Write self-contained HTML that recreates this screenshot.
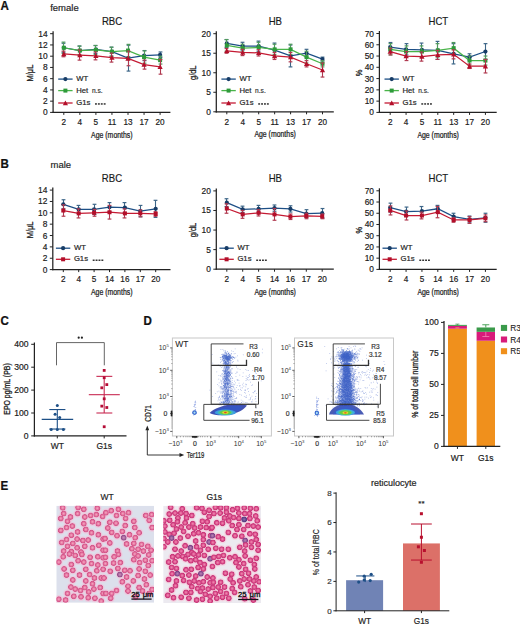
<!DOCTYPE html>
<html><head><meta charset="utf-8"><style>
html,body{margin:0;padding:0;background:#fff;}
svg{display:block;font-family:"Liberation Sans", sans-serif;}
</style></head><body>
<svg width="520" height="626" viewBox="0 0 520 626">
<rect x="0" y="0" width="520" height="626" fill="#fff"/>
<text x="0" y="0" transform="translate(0.4,10.4) scale(0.94,1)" font-size="12.3" text-anchor="start" font-weight="bold" fill="#111" stroke="#111" stroke-width="0.25">A</text>
<text x="50.2" y="10.5" font-size="9.5" text-anchor="start" font-weight="normal" fill="#1e1e1e"  stroke="#1e1e1e" stroke-width="0.18">female</text>
<text x="0" y="0" transform="translate(0.4,168.2) scale(0.94,1)" font-size="12.3" text-anchor="start" font-weight="bold" fill="#111" stroke="#111" stroke-width="0.25">B</text>
<text x="50.5" y="168" font-size="9.5" text-anchor="start" font-weight="normal" fill="#1e1e1e"  stroke="#1e1e1e" stroke-width="0.18">male</text>
<text x="0" y="0" transform="translate(0.4,325.2) scale(0.94,1)" font-size="12.3" text-anchor="start" font-weight="bold" fill="#111" stroke="#111" stroke-width="0.25">C</text>
<text x="0" y="0" transform="translate(143.4,325.0) scale(0.94,1)" font-size="12.3" text-anchor="start" font-weight="bold" fill="#111" stroke="#111" stroke-width="0.25">D</text>
<text x="0" y="0" transform="translate(0.4,489.6) scale(0.94,1)" font-size="12.3" text-anchor="start" font-weight="bold" fill="#111" stroke="#111" stroke-width="0.25">E</text>
<line x1="53.10" y1="31.20" x2="53.10" y2="113.00" stroke="#222" stroke-width="1.25" />
<line x1="52.50" y1="112.40" x2="170.40" y2="112.40" stroke="#222" stroke-width="1.25" />
<line x1="50.10" y1="112.40" x2="53.10" y2="112.40" stroke="#222" stroke-width="1" />
<text x="47.7" y="115.4" font-size="8.4" text-anchor="end" font-weight="normal" fill="#1a1a1a"  stroke="#1a1a1a" stroke-width="0.18">0</text>
<line x1="50.10" y1="101.16" x2="53.10" y2="101.16" stroke="#222" stroke-width="1" />
<text x="47.7" y="104.15714285714286" font-size="8.4" text-anchor="end" font-weight="normal" fill="#1a1a1a"  stroke="#1a1a1a" stroke-width="0.18">2</text>
<line x1="50.10" y1="89.91" x2="53.10" y2="89.91" stroke="#222" stroke-width="1" />
<text x="47.7" y="92.91428571428571" font-size="8.4" text-anchor="end" font-weight="normal" fill="#1a1a1a"  stroke="#1a1a1a" stroke-width="0.18">4</text>
<line x1="50.10" y1="78.67" x2="53.10" y2="78.67" stroke="#222" stroke-width="1" />
<text x="47.7" y="81.67142857142858" font-size="8.4" text-anchor="end" font-weight="normal" fill="#1a1a1a"  stroke="#1a1a1a" stroke-width="0.18">6</text>
<line x1="50.10" y1="67.43" x2="53.10" y2="67.43" stroke="#222" stroke-width="1" />
<text x="47.7" y="70.42857142857143" font-size="8.4" text-anchor="end" font-weight="normal" fill="#1a1a1a"  stroke="#1a1a1a" stroke-width="0.18">8</text>
<line x1="50.10" y1="56.19" x2="53.10" y2="56.19" stroke="#222" stroke-width="1" />
<text x="47.7" y="59.18571428571428" font-size="8.4" text-anchor="end" font-weight="normal" fill="#1a1a1a"  stroke="#1a1a1a" stroke-width="0.18">10</text>
<line x1="50.10" y1="44.94" x2="53.10" y2="44.94" stroke="#222" stroke-width="1" />
<text x="47.7" y="47.94285714285715" font-size="8.4" text-anchor="end" font-weight="normal" fill="#1a1a1a"  stroke="#1a1a1a" stroke-width="0.18">12</text>
<line x1="50.10" y1="33.70" x2="53.10" y2="33.70" stroke="#222" stroke-width="1" />
<text x="47.7" y="36.7" font-size="8.4" text-anchor="end" font-weight="normal" fill="#1a1a1a"  stroke="#1a1a1a" stroke-width="0.18">14</text>
<line x1="63.80" y1="112.40" x2="63.80" y2="114.90" stroke="#222" stroke-width="1" />
<text x="63.8" y="125.10000000000001" font-size="8.2" text-anchor="middle" font-weight="normal" fill="#1a1a1a"  stroke="#1a1a1a" stroke-width="0.18">2</text>
<line x1="79.85" y1="112.40" x2="79.85" y2="114.90" stroke="#222" stroke-width="1" />
<text x="79.85" y="125.10000000000001" font-size="8.2" text-anchor="middle" font-weight="normal" fill="#1a1a1a"  stroke="#1a1a1a" stroke-width="0.18">4</text>
<line x1="95.90" y1="112.40" x2="95.90" y2="114.90" stroke="#222" stroke-width="1" />
<text x="95.9" y="125.10000000000001" font-size="8.2" text-anchor="middle" font-weight="normal" fill="#1a1a1a"  stroke="#1a1a1a" stroke-width="0.18">5</text>
<line x1="111.95" y1="112.40" x2="111.95" y2="114.90" stroke="#222" stroke-width="1" />
<text x="111.95" y="125.10000000000001" font-size="8.2" text-anchor="middle" font-weight="normal" fill="#1a1a1a"  stroke="#1a1a1a" stroke-width="0.18">11</text>
<line x1="128.00" y1="112.40" x2="128.00" y2="114.90" stroke="#222" stroke-width="1" />
<text x="128.0" y="125.10000000000001" font-size="8.2" text-anchor="middle" font-weight="normal" fill="#1a1a1a"  stroke="#1a1a1a" stroke-width="0.18">13</text>
<line x1="144.05" y1="112.40" x2="144.05" y2="114.90" stroke="#222" stroke-width="1" />
<text x="144.05" y="125.10000000000001" font-size="8.2" text-anchor="middle" font-weight="normal" fill="#1a1a1a"  stroke="#1a1a1a" stroke-width="0.18">17</text>
<line x1="160.10" y1="112.40" x2="160.10" y2="114.90" stroke="#222" stroke-width="1" />
<text x="160.10000000000002" y="125.10000000000001" font-size="8.2" text-anchor="middle" font-weight="normal" fill="#1a1a1a"  stroke="#1a1a1a" stroke-width="0.18">20</text>
<text x="0" y="0" transform="translate(111.85,138.0) scale(0.805,1)" font-size="8.6" text-anchor="middle" font-weight="normal" fill="#222" stroke="#222" stroke-width="0.25">Age (months)</text>
<text x="0" y="0" transform="translate(33.0,73.05000000000001) rotate(-90) scale(0.78,1)" font-size="9.6" text-anchor="middle" font-weight="normal" fill="#222" stroke="#222" stroke-width="0.3">M/μL</text>
<text x="0" y="0" transform="translate(112.05,25.1) scale(0.93,1)" font-size="10.3" text-anchor="middle" font-weight="normal" fill="#1a1a1a"  stroke="#1a1a1a" stroke-width="0.18">RBC</text>
<line x1="63.50" y1="52.25" x2="63.50" y2="43.26" stroke="#3d6688" stroke-width="1.1" />
<line x1="61.60" y1="43.26" x2="65.40" y2="43.26" stroke="#3d6688" stroke-width="1.2" />
<line x1="61.60" y1="52.25" x2="65.40" y2="52.25" stroke="#3d6688" stroke-width="1.2" />
<line x1="79.50" y1="55.06" x2="79.50" y2="46.07" stroke="#3d6688" stroke-width="1.1" />
<line x1="77.60" y1="46.07" x2="81.40" y2="46.07" stroke="#3d6688" stroke-width="1.2" />
<line x1="77.60" y1="55.06" x2="81.40" y2="55.06" stroke="#3d6688" stroke-width="1.2" />
<line x1="95.50" y1="53.38" x2="95.50" y2="45.51" stroke="#3d6688" stroke-width="1.1" />
<line x1="93.60" y1="45.51" x2="97.40" y2="45.51" stroke="#3d6688" stroke-width="1.2" />
<line x1="93.60" y1="53.38" x2="97.40" y2="53.38" stroke="#3d6688" stroke-width="1.2" />
<line x1="111.50" y1="56.19" x2="111.50" y2="47.19" stroke="#3d6688" stroke-width="1.1" />
<line x1="109.60" y1="47.19" x2="113.40" y2="47.19" stroke="#3d6688" stroke-width="1.2" />
<line x1="109.60" y1="56.19" x2="113.40" y2="56.19" stroke="#3d6688" stroke-width="1.2" />
<line x1="128.50" y1="71.08" x2="128.50" y2="45.22" stroke="#3d6688" stroke-width="1.1" />
<line x1="126.60" y1="45.22" x2="130.40" y2="45.22" stroke="#3d6688" stroke-width="1.2" />
<line x1="126.60" y1="71.08" x2="130.40" y2="71.08" stroke="#3d6688" stroke-width="1.2" />
<line x1="144.50" y1="60.68" x2="144.50" y2="50.56" stroke="#3d6688" stroke-width="1.1" />
<line x1="142.60" y1="50.56" x2="146.40" y2="50.56" stroke="#3d6688" stroke-width="1.2" />
<line x1="142.60" y1="60.68" x2="146.40" y2="60.68" stroke="#3d6688" stroke-width="1.2" />
<line x1="160.50" y1="57.59" x2="160.50" y2="51.97" stroke="#3d6688" stroke-width="1.1" />
<line x1="158.60" y1="51.97" x2="162.40" y2="51.97" stroke="#3d6688" stroke-width="1.2" />
<line x1="158.60" y1="57.59" x2="162.40" y2="57.59" stroke="#3d6688" stroke-width="1.2" />
<polyline points="63.80,47.75 79.85,50.56 95.90,49.44 111.95,51.69 128.00,58.15 144.05,55.62 160.10,54.78" fill="none" stroke="#1d4f86" stroke-width="1.25"/>
<circle cx="63.80" cy="47.75" r="2.1" fill="#173c66"/>
<circle cx="79.85" cy="50.56" r="2.1" fill="#173c66"/>
<circle cx="95.90" cy="49.44" r="2.1" fill="#173c66"/>
<circle cx="111.95" cy="51.69" r="2.1" fill="#173c66"/>
<circle cx="128.00" cy="58.15" r="2.1" fill="#173c66"/>
<circle cx="144.05" cy="55.62" r="2.1" fill="#173c66"/>
<circle cx="160.10" cy="54.78" r="2.1" fill="#173c66"/>
<line x1="63.50" y1="53.38" x2="63.50" y2="42.13" stroke="#4f9a5c" stroke-width="1.1" />
<line x1="61.60" y1="42.13" x2="65.40" y2="42.13" stroke="#4f9a5c" stroke-width="1.2" />
<line x1="61.60" y1="53.38" x2="65.40" y2="53.38" stroke="#4f9a5c" stroke-width="1.2" />
<line x1="79.50" y1="55.06" x2="79.50" y2="46.07" stroke="#4f9a5c" stroke-width="1.1" />
<line x1="77.60" y1="46.07" x2="81.40" y2="46.07" stroke="#4f9a5c" stroke-width="1.2" />
<line x1="77.60" y1="55.06" x2="81.40" y2="55.06" stroke="#4f9a5c" stroke-width="1.2" />
<line x1="95.50" y1="54.50" x2="95.50" y2="45.50" stroke="#4f9a5c" stroke-width="1.1" />
<line x1="93.60" y1="45.50" x2="97.40" y2="45.50" stroke="#4f9a5c" stroke-width="1.2" />
<line x1="93.60" y1="54.50" x2="97.40" y2="54.50" stroke="#4f9a5c" stroke-width="1.2" />
<line x1="111.50" y1="56.19" x2="111.50" y2="47.19" stroke="#4f9a5c" stroke-width="1.1" />
<line x1="109.60" y1="47.19" x2="113.40" y2="47.19" stroke="#4f9a5c" stroke-width="1.2" />
<line x1="109.60" y1="56.19" x2="113.40" y2="56.19" stroke="#4f9a5c" stroke-width="1.2" />
<line x1="128.50" y1="56.75" x2="128.50" y2="44.38" stroke="#4f9a5c" stroke-width="1.1" />
<line x1="126.60" y1="44.38" x2="130.40" y2="44.38" stroke="#4f9a5c" stroke-width="1.2" />
<line x1="126.60" y1="56.75" x2="130.40" y2="56.75" stroke="#4f9a5c" stroke-width="1.2" />
<line x1="144.50" y1="63.21" x2="144.50" y2="50.85" stroke="#4f9a5c" stroke-width="1.1" />
<line x1="142.60" y1="50.85" x2="146.40" y2="50.85" stroke="#4f9a5c" stroke-width="1.2" />
<line x1="142.60" y1="63.21" x2="146.40" y2="63.21" stroke="#4f9a5c" stroke-width="1.2" />
<line x1="160.50" y1="64.06" x2="160.50" y2="56.19" stroke="#4f9a5c" stroke-width="1.1" />
<line x1="158.60" y1="56.19" x2="162.40" y2="56.19" stroke="#4f9a5c" stroke-width="1.2" />
<line x1="158.60" y1="64.06" x2="162.40" y2="64.06" stroke="#4f9a5c" stroke-width="1.2" />
<polyline points="63.80,47.75 79.85,50.56 95.90,50.00 111.95,51.69 128.00,50.56 144.05,57.03 160.10,60.12" fill="none" stroke="#49b449" stroke-width="1.25"/>
<rect x="61.80" y="45.75" width="4.00" height="4.00" fill="#2e9a3a" />
<rect x="77.85" y="48.56" width="4.00" height="4.00" fill="#2e9a3a" />
<rect x="93.90" y="48.00" width="4.00" height="4.00" fill="#2e9a3a" />
<rect x="109.95" y="49.69" width="4.00" height="4.00" fill="#2e9a3a" />
<rect x="126.00" y="48.56" width="4.00" height="4.00" fill="#2e9a3a" />
<rect x="142.05" y="55.03" width="4.00" height="4.00" fill="#2e9a3a" />
<rect x="158.10" y="58.12" width="4.00" height="4.00" fill="#2e9a3a" />
<line x1="63.50" y1="56.75" x2="63.50" y2="51.13" stroke="#b03a50" stroke-width="1.1" />
<line x1="61.60" y1="51.13" x2="65.40" y2="51.13" stroke="#b03a50" stroke-width="1.2" />
<line x1="61.60" y1="56.75" x2="65.40" y2="56.75" stroke="#b03a50" stroke-width="1.2" />
<line x1="79.50" y1="60.12" x2="79.50" y2="50.00" stroke="#b03a50" stroke-width="1.1" />
<line x1="77.60" y1="50.00" x2="81.40" y2="50.00" stroke="#b03a50" stroke-width="1.2" />
<line x1="77.60" y1="60.12" x2="81.40" y2="60.12" stroke="#b03a50" stroke-width="1.2" />
<line x1="95.50" y1="59.84" x2="95.50" y2="51.97" stroke="#b03a50" stroke-width="1.1" />
<line x1="93.60" y1="51.97" x2="97.40" y2="51.97" stroke="#b03a50" stroke-width="1.2" />
<line x1="93.60" y1="59.84" x2="97.40" y2="59.84" stroke="#b03a50" stroke-width="1.2" />
<line x1="111.50" y1="62.09" x2="111.50" y2="53.09" stroke="#b03a50" stroke-width="1.1" />
<line x1="109.60" y1="53.09" x2="113.40" y2="53.09" stroke="#b03a50" stroke-width="1.2" />
<line x1="109.60" y1="62.09" x2="113.40" y2="62.09" stroke="#b03a50" stroke-width="1.2" />
<line x1="128.50" y1="65.74" x2="128.50" y2="51.13" stroke="#b03a50" stroke-width="1.1" />
<line x1="126.60" y1="51.13" x2="130.40" y2="51.13" stroke="#b03a50" stroke-width="1.2" />
<line x1="126.60" y1="65.74" x2="130.40" y2="65.74" stroke="#b03a50" stroke-width="1.2" />
<line x1="144.50" y1="69.12" x2="144.50" y2="60.12" stroke="#b03a50" stroke-width="1.1" />
<line x1="142.60" y1="60.12" x2="146.40" y2="60.12" stroke="#b03a50" stroke-width="1.2" />
<line x1="142.60" y1="69.12" x2="146.40" y2="69.12" stroke="#b03a50" stroke-width="1.2" />
<line x1="160.50" y1="74.17" x2="160.50" y2="59.56" stroke="#b03a50" stroke-width="1.1" />
<line x1="158.60" y1="59.56" x2="162.40" y2="59.56" stroke="#b03a50" stroke-width="1.2" />
<line x1="158.60" y1="74.17" x2="162.40" y2="74.17" stroke="#b03a50" stroke-width="1.2" />
<polyline points="63.80,53.94 79.85,55.06 95.90,55.90 111.95,57.59 128.00,58.43 144.05,64.62 160.10,66.87" fill="none" stroke="#c41a33" stroke-width="1.25"/>
<polygon points="61.20,56.14 66.40,56.14 63.80,51.34" fill="#b30f2a"/>
<polygon points="77.25,57.26 82.45,57.26 79.85,52.46" fill="#b30f2a"/>
<polygon points="93.30,58.10 98.50,58.10 95.90,53.30" fill="#b30f2a"/>
<polygon points="109.35,59.79 114.55,59.79 111.95,54.99" fill="#b30f2a"/>
<polygon points="125.40,60.63 130.60,60.63 128.00,55.83" fill="#b30f2a"/>
<polygon points="141.45,66.82 146.65,66.82 144.05,62.02" fill="#b30f2a"/>
<polygon points="157.50,69.07 162.70,69.07 160.10,64.27" fill="#b30f2a"/>
<line x1="58.20" y1="79.10" x2="72.60" y2="79.10" stroke="#1d4f86" stroke-width="1.3" />
<circle cx="65.40" cy="79.10" r="2.1" fill="#173c66"/>
<text x="76.2" y="81.19999999999999" font-size="7.7" text-anchor="start" font-weight="normal" fill="#222"  stroke="#222" stroke-width="0.18">WT</text>
<line x1="58.20" y1="90.60" x2="72.60" y2="90.60" stroke="#49b449" stroke-width="1.3" />
<rect x="63.40" y="88.60" width="4.00" height="4.00" fill="#2e9a3a" />
<text x="76.2" y="92.69999999999999" font-size="7.7" text-anchor="start" font-weight="normal" fill="#222"  stroke="#222" stroke-width="0.18">Het</text>
<text x="91.9" y="92.69999999999999" font-size="6.6" text-anchor="start" font-weight="normal" fill="#333"  stroke="#333" stroke-width="0.18">n.s.</text>
<line x1="58.20" y1="103.00" x2="72.60" y2="103.00" stroke="#c41a33" stroke-width="1.3" />
<polygon points="62.80,105.20 68.00,105.20 65.40,100.40" fill="#b30f2a"/>
<text x="76.2" y="105.1" font-size="7.7" text-anchor="start" font-weight="normal" fill="#222"  stroke="#222" stroke-width="0.18">G1s</text>
<rect x="95.00" y="103.20" width="1.90" height="1.50" fill="#333" />
<rect x="97.90" y="103.20" width="1.90" height="1.50" fill="#333" />
<rect x="100.80" y="103.20" width="1.90" height="1.50" fill="#333" />
<rect x="103.70" y="103.20" width="1.90" height="1.50" fill="#333" />
<line x1="216.30" y1="31.20" x2="216.30" y2="112.40" stroke="#222" stroke-width="1.25" />
<line x1="215.70" y1="111.80" x2="333.80" y2="111.80" stroke="#222" stroke-width="1.25" />
<line x1="213.30" y1="111.80" x2="216.30" y2="111.80" stroke="#222" stroke-width="1" />
<text x="210.9" y="114.8" font-size="8.4" text-anchor="end" font-weight="normal" fill="#1a1a1a"  stroke="#1a1a1a" stroke-width="0.18">0</text>
<line x1="213.30" y1="92.28" x2="216.30" y2="92.28" stroke="#222" stroke-width="1" />
<text x="210.9" y="95.275" font-size="8.4" text-anchor="end" font-weight="normal" fill="#1a1a1a"  stroke="#1a1a1a" stroke-width="0.18">5</text>
<line x1="213.30" y1="72.75" x2="216.30" y2="72.75" stroke="#222" stroke-width="1" />
<text x="210.9" y="75.75" font-size="8.4" text-anchor="end" font-weight="normal" fill="#1a1a1a"  stroke="#1a1a1a" stroke-width="0.18">10</text>
<line x1="213.30" y1="53.23" x2="216.30" y2="53.23" stroke="#222" stroke-width="1" />
<text x="210.9" y="56.225" font-size="8.4" text-anchor="end" font-weight="normal" fill="#1a1a1a"  stroke="#1a1a1a" stroke-width="0.18">15</text>
<line x1="213.30" y1="33.70" x2="216.30" y2="33.70" stroke="#222" stroke-width="1" />
<text x="210.9" y="36.7" font-size="8.4" text-anchor="end" font-weight="normal" fill="#1a1a1a"  stroke="#1a1a1a" stroke-width="0.18">20</text>
<line x1="226.80" y1="111.80" x2="226.80" y2="114.30" stroke="#222" stroke-width="1" />
<text x="226.8" y="124.5" font-size="8.2" text-anchor="middle" font-weight="normal" fill="#1a1a1a"  stroke="#1a1a1a" stroke-width="0.18">2</text>
<line x1="242.75" y1="111.80" x2="242.75" y2="114.30" stroke="#222" stroke-width="1" />
<text x="242.75" y="124.5" font-size="8.2" text-anchor="middle" font-weight="normal" fill="#1a1a1a"  stroke="#1a1a1a" stroke-width="0.18">4</text>
<line x1="258.70" y1="111.80" x2="258.70" y2="114.30" stroke="#222" stroke-width="1" />
<text x="258.7" y="124.5" font-size="8.2" text-anchor="middle" font-weight="normal" fill="#1a1a1a"  stroke="#1a1a1a" stroke-width="0.18">5</text>
<line x1="274.65" y1="111.80" x2="274.65" y2="114.30" stroke="#222" stroke-width="1" />
<text x="274.65" y="124.5" font-size="8.2" text-anchor="middle" font-weight="normal" fill="#1a1a1a"  stroke="#1a1a1a" stroke-width="0.18">11</text>
<line x1="290.60" y1="111.80" x2="290.60" y2="114.30" stroke="#222" stroke-width="1" />
<text x="290.6" y="124.5" font-size="8.2" text-anchor="middle" font-weight="normal" fill="#1a1a1a"  stroke="#1a1a1a" stroke-width="0.18">13</text>
<line x1="306.55" y1="111.80" x2="306.55" y2="114.30" stroke="#222" stroke-width="1" />
<text x="306.55" y="124.5" font-size="8.2" text-anchor="middle" font-weight="normal" fill="#1a1a1a"  stroke="#1a1a1a" stroke-width="0.18">17</text>
<line x1="322.50" y1="111.80" x2="322.50" y2="114.30" stroke="#222" stroke-width="1" />
<text x="322.5" y="124.5" font-size="8.2" text-anchor="middle" font-weight="normal" fill="#1a1a1a"  stroke="#1a1a1a" stroke-width="0.18">20</text>
<text x="0" y="0" transform="translate(275.15000000000003,137.4) scale(0.805,1)" font-size="8.6" text-anchor="middle" font-weight="normal" fill="#222" stroke="#222" stroke-width="0.25">Age (months)</text>
<text x="0" y="0" transform="translate(196.3,72.75) rotate(-90) scale(0.78,1)" font-size="9.6" text-anchor="middle" font-weight="normal" fill="#222" stroke="#222" stroke-width="0.3">g/dL</text>
<text x="0" y="0" transform="translate(275.35,25.1) scale(0.93,1)" font-size="10.3" text-anchor="middle" font-weight="normal" fill="#1a1a1a"  stroke="#1a1a1a" stroke-width="0.18">HB</text>
<line x1="226.50" y1="47.37" x2="226.50" y2="39.56" stroke="#3d6688" stroke-width="1.1" />
<line x1="224.60" y1="39.56" x2="228.40" y2="39.56" stroke="#3d6688" stroke-width="1.2" />
<line x1="224.60" y1="47.37" x2="228.40" y2="47.37" stroke="#3d6688" stroke-width="1.2" />
<line x1="242.50" y1="50.10" x2="242.50" y2="42.29" stroke="#3d6688" stroke-width="1.1" />
<line x1="240.60" y1="42.29" x2="244.40" y2="42.29" stroke="#3d6688" stroke-width="1.2" />
<line x1="240.60" y1="50.10" x2="244.40" y2="50.10" stroke="#3d6688" stroke-width="1.2" />
<line x1="258.50" y1="51.27" x2="258.50" y2="41.12" stroke="#3d6688" stroke-width="1.1" />
<line x1="256.60" y1="41.12" x2="260.40" y2="41.12" stroke="#3d6688" stroke-width="1.2" />
<line x1="256.60" y1="51.27" x2="260.40" y2="51.27" stroke="#3d6688" stroke-width="1.2" />
<line x1="274.50" y1="57.13" x2="274.50" y2="43.07" stroke="#3d6688" stroke-width="1.1" />
<line x1="272.60" y1="43.07" x2="276.40" y2="43.07" stroke="#3d6688" stroke-width="1.2" />
<line x1="272.60" y1="57.13" x2="276.40" y2="57.13" stroke="#3d6688" stroke-width="1.2" />
<line x1="290.50" y1="66.89" x2="290.50" y2="45.02" stroke="#3d6688" stroke-width="1.1" />
<line x1="288.60" y1="45.02" x2="292.40" y2="45.02" stroke="#3d6688" stroke-width="1.2" />
<line x1="288.60" y1="66.89" x2="292.40" y2="66.89" stroke="#3d6688" stroke-width="1.2" />
<line x1="306.50" y1="57.13" x2="306.50" y2="49.32" stroke="#3d6688" stroke-width="1.1" />
<line x1="304.60" y1="49.32" x2="308.40" y2="49.32" stroke="#3d6688" stroke-width="1.2" />
<line x1="304.60" y1="57.13" x2="308.40" y2="57.13" stroke="#3d6688" stroke-width="1.2" />
<line x1="322.50" y1="61.03" x2="322.50" y2="57.13" stroke="#3d6688" stroke-width="1.1" />
<line x1="320.60" y1="57.13" x2="324.40" y2="57.13" stroke="#3d6688" stroke-width="1.2" />
<line x1="320.60" y1="61.03" x2="324.40" y2="61.03" stroke="#3d6688" stroke-width="1.2" />
<polyline points="226.80,43.46 242.75,46.20 258.70,46.20 274.65,50.10 290.60,55.96 306.55,53.23 322.50,59.08" fill="none" stroke="#1d4f86" stroke-width="1.25"/>
<circle cx="226.80" cy="43.46" r="2.1" fill="#173c66"/>
<circle cx="242.75" cy="46.20" r="2.1" fill="#173c66"/>
<circle cx="258.70" cy="46.20" r="2.1" fill="#173c66"/>
<circle cx="274.65" cy="50.10" r="2.1" fill="#173c66"/>
<circle cx="290.60" cy="55.96" r="2.1" fill="#173c66"/>
<circle cx="306.55" cy="53.23" r="2.1" fill="#173c66"/>
<circle cx="322.50" cy="59.08" r="2.1" fill="#173c66"/>
<line x1="226.50" y1="51.27" x2="226.50" y2="39.56" stroke="#4f9a5c" stroke-width="1.1" />
<line x1="224.60" y1="39.56" x2="228.40" y2="39.56" stroke="#4f9a5c" stroke-width="1.2" />
<line x1="224.60" y1="51.27" x2="228.40" y2="51.27" stroke="#4f9a5c" stroke-width="1.2" />
<line x1="242.50" y1="52.05" x2="242.50" y2="44.24" stroke="#4f9a5c" stroke-width="1.1" />
<line x1="240.60" y1="44.24" x2="244.40" y2="44.24" stroke="#4f9a5c" stroke-width="1.2" />
<line x1="240.60" y1="52.05" x2="244.40" y2="52.05" stroke="#4f9a5c" stroke-width="1.2" />
<line x1="258.50" y1="52.44" x2="258.50" y2="42.29" stroke="#4f9a5c" stroke-width="1.1" />
<line x1="256.60" y1="42.29" x2="260.40" y2="42.29" stroke="#4f9a5c" stroke-width="1.2" />
<line x1="256.60" y1="52.44" x2="260.40" y2="52.44" stroke="#4f9a5c" stroke-width="1.2" />
<line x1="274.50" y1="54.40" x2="274.50" y2="44.24" stroke="#4f9a5c" stroke-width="1.1" />
<line x1="272.60" y1="44.24" x2="276.40" y2="44.24" stroke="#4f9a5c" stroke-width="1.2" />
<line x1="272.60" y1="54.40" x2="276.40" y2="54.40" stroke="#4f9a5c" stroke-width="1.2" />
<line x1="290.50" y1="54.40" x2="290.50" y2="44.24" stroke="#4f9a5c" stroke-width="1.1" />
<line x1="288.60" y1="44.24" x2="292.40" y2="44.24" stroke="#4f9a5c" stroke-width="1.2" />
<line x1="288.60" y1="54.40" x2="292.40" y2="54.40" stroke="#4f9a5c" stroke-width="1.2" />
<line x1="306.50" y1="62.99" x2="306.50" y2="51.27" stroke="#4f9a5c" stroke-width="1.1" />
<line x1="304.60" y1="51.27" x2="308.40" y2="51.27" stroke="#4f9a5c" stroke-width="1.2" />
<line x1="304.60" y1="62.99" x2="308.40" y2="62.99" stroke="#4f9a5c" stroke-width="1.2" />
<line x1="322.50" y1="66.89" x2="322.50" y2="60.64" stroke="#4f9a5c" stroke-width="1.1" />
<line x1="320.60" y1="60.64" x2="324.40" y2="60.64" stroke="#4f9a5c" stroke-width="1.2" />
<line x1="320.60" y1="66.89" x2="324.40" y2="66.89" stroke="#4f9a5c" stroke-width="1.2" />
<polyline points="226.80,45.42 242.75,48.15 258.70,47.37 274.65,49.32 290.60,49.32 306.55,57.13 322.50,63.77" fill="none" stroke="#49b449" stroke-width="1.25"/>
<rect x="224.80" y="43.42" width="4.00" height="4.00" fill="#2e9a3a" />
<rect x="240.75" y="46.15" width="4.00" height="4.00" fill="#2e9a3a" />
<rect x="256.70" y="45.37" width="4.00" height="4.00" fill="#2e9a3a" />
<rect x="272.65" y="47.32" width="4.00" height="4.00" fill="#2e9a3a" />
<rect x="288.60" y="47.32" width="4.00" height="4.00" fill="#2e9a3a" />
<rect x="304.55" y="55.13" width="4.00" height="4.00" fill="#2e9a3a" />
<rect x="320.50" y="61.77" width="4.00" height="4.00" fill="#2e9a3a" />
<line x1="226.50" y1="53.23" x2="226.50" y2="48.54" stroke="#b03a50" stroke-width="1.1" />
<line x1="224.60" y1="48.54" x2="228.40" y2="48.54" stroke="#b03a50" stroke-width="1.2" />
<line x1="224.60" y1="53.23" x2="228.40" y2="53.23" stroke="#b03a50" stroke-width="1.2" />
<line x1="242.50" y1="55.57" x2="242.50" y2="49.32" stroke="#b03a50" stroke-width="1.1" />
<line x1="240.60" y1="49.32" x2="244.40" y2="49.32" stroke="#b03a50" stroke-width="1.2" />
<line x1="240.60" y1="55.57" x2="244.40" y2="55.57" stroke="#b03a50" stroke-width="1.2" />
<line x1="258.50" y1="55.96" x2="258.50" y2="49.71" stroke="#b03a50" stroke-width="1.1" />
<line x1="256.60" y1="49.71" x2="260.40" y2="49.71" stroke="#b03a50" stroke-width="1.2" />
<line x1="256.60" y1="55.96" x2="260.40" y2="55.96" stroke="#b03a50" stroke-width="1.2" />
<line x1="274.50" y1="59.47" x2="274.50" y2="52.44" stroke="#b03a50" stroke-width="1.1" />
<line x1="272.60" y1="52.44" x2="276.40" y2="52.44" stroke="#b03a50" stroke-width="1.2" />
<line x1="272.60" y1="59.47" x2="276.40" y2="59.47" stroke="#b03a50" stroke-width="1.2" />
<line x1="290.50" y1="61.82" x2="290.50" y2="52.44" stroke="#b03a50" stroke-width="1.1" />
<line x1="288.60" y1="52.44" x2="292.40" y2="52.44" stroke="#b03a50" stroke-width="1.2" />
<line x1="288.60" y1="61.82" x2="292.40" y2="61.82" stroke="#b03a50" stroke-width="1.2" />
<line x1="306.50" y1="66.89" x2="306.50" y2="60.64" stroke="#b03a50" stroke-width="1.1" />
<line x1="304.60" y1="60.64" x2="308.40" y2="60.64" stroke="#b03a50" stroke-width="1.2" />
<line x1="304.60" y1="66.89" x2="308.40" y2="66.89" stroke="#b03a50" stroke-width="1.2" />
<line x1="322.50" y1="77.05" x2="322.50" y2="62.99" stroke="#b03a50" stroke-width="1.1" />
<line x1="320.60" y1="62.99" x2="324.40" y2="62.99" stroke="#b03a50" stroke-width="1.2" />
<line x1="320.60" y1="77.05" x2="324.40" y2="77.05" stroke="#b03a50" stroke-width="1.2" />
<polyline points="226.80,50.88 242.75,52.44 258.70,52.83 274.65,55.96 290.60,57.13 306.55,63.77 322.50,70.02" fill="none" stroke="#c41a33" stroke-width="1.25"/>
<polygon points="224.20,53.08 229.40,53.08 226.80,48.28" fill="#b30f2a"/>
<polygon points="240.15,54.64 245.35,54.64 242.75,49.84" fill="#b30f2a"/>
<polygon points="256.10,55.03 261.30,55.03 258.70,50.23" fill="#b30f2a"/>
<polygon points="272.05,58.16 277.25,58.16 274.65,53.36" fill="#b30f2a"/>
<polygon points="288.00,59.33 293.20,59.33 290.60,54.53" fill="#b30f2a"/>
<polygon points="303.95,65.97 309.15,65.97 306.55,61.17" fill="#b30f2a"/>
<polygon points="319.90,72.22 325.10,72.22 322.50,67.42" fill="#b30f2a"/>
<line x1="221.40" y1="79.10" x2="235.80" y2="79.10" stroke="#1d4f86" stroke-width="1.3" />
<circle cx="228.60" cy="79.10" r="2.1" fill="#173c66"/>
<text x="239.4" y="81.19999999999999" font-size="7.7" text-anchor="start" font-weight="normal" fill="#222"  stroke="#222" stroke-width="0.18">WT</text>
<line x1="221.40" y1="90.60" x2="235.80" y2="90.60" stroke="#49b449" stroke-width="1.3" />
<rect x="226.60" y="88.60" width="4.00" height="4.00" fill="#2e9a3a" />
<text x="239.4" y="92.69999999999999" font-size="7.7" text-anchor="start" font-weight="normal" fill="#222"  stroke="#222" stroke-width="0.18">Het</text>
<text x="255.1" y="92.69999999999999" font-size="6.6" text-anchor="start" font-weight="normal" fill="#333"  stroke="#333" stroke-width="0.18">n.s.</text>
<line x1="221.40" y1="103.00" x2="235.80" y2="103.00" stroke="#c41a33" stroke-width="1.3" />
<polygon points="226.00,105.20 231.20,105.20 228.60,100.40" fill="#b30f2a"/>
<text x="239.4" y="105.1" font-size="7.7" text-anchor="start" font-weight="normal" fill="#222"  stroke="#222" stroke-width="0.18">G1s</text>
<rect x="258.20" y="103.20" width="1.90" height="1.50" fill="#333" />
<rect x="261.10" y="103.20" width="1.90" height="1.50" fill="#333" />
<rect x="264.00" y="103.20" width="1.90" height="1.50" fill="#333" />
<rect x="266.90" y="103.20" width="1.90" height="1.50" fill="#333" />
<line x1="379.40" y1="31.00" x2="379.40" y2="113.00" stroke="#222" stroke-width="1.25" />
<line x1="378.80" y1="112.40" x2="496.70" y2="112.40" stroke="#222" stroke-width="1.25" />
<line x1="376.40" y1="112.40" x2="379.40" y2="112.40" stroke="#222" stroke-width="1" />
<text x="374.0" y="115.4" font-size="8.4" text-anchor="end" font-weight="normal" fill="#1a1a1a"  stroke="#1a1a1a" stroke-width="0.18">0</text>
<line x1="376.40" y1="101.13" x2="379.40" y2="101.13" stroke="#222" stroke-width="1" />
<text x="374.0" y="104.12857142857143" font-size="8.4" text-anchor="end" font-weight="normal" fill="#1a1a1a"  stroke="#1a1a1a" stroke-width="0.18">10</text>
<line x1="376.40" y1="89.86" x2="379.40" y2="89.86" stroke="#222" stroke-width="1" />
<text x="374.0" y="92.85714285714286" font-size="8.4" text-anchor="end" font-weight="normal" fill="#1a1a1a"  stroke="#1a1a1a" stroke-width="0.18">20</text>
<line x1="376.40" y1="78.59" x2="379.40" y2="78.59" stroke="#222" stroke-width="1" />
<text x="374.0" y="81.58571428571429" font-size="8.4" text-anchor="end" font-weight="normal" fill="#1a1a1a"  stroke="#1a1a1a" stroke-width="0.18">30</text>
<line x1="376.40" y1="67.31" x2="379.40" y2="67.31" stroke="#222" stroke-width="1" />
<text x="374.0" y="70.31428571428572" font-size="8.4" text-anchor="end" font-weight="normal" fill="#1a1a1a"  stroke="#1a1a1a" stroke-width="0.18">40</text>
<line x1="376.40" y1="56.04" x2="379.40" y2="56.04" stroke="#222" stroke-width="1" />
<text x="374.0" y="59.042857142857144" font-size="8.4" text-anchor="end" font-weight="normal" fill="#1a1a1a"  stroke="#1a1a1a" stroke-width="0.18">50</text>
<line x1="376.40" y1="44.77" x2="379.40" y2="44.77" stroke="#222" stroke-width="1" />
<text x="374.0" y="47.77142857142857" font-size="8.4" text-anchor="end" font-weight="normal" fill="#1a1a1a"  stroke="#1a1a1a" stroke-width="0.18">60</text>
<line x1="376.40" y1="33.50" x2="379.40" y2="33.50" stroke="#222" stroke-width="1" />
<text x="374.0" y="36.5" font-size="8.4" text-anchor="end" font-weight="normal" fill="#1a1a1a"  stroke="#1a1a1a" stroke-width="0.18">70</text>
<line x1="390.20" y1="112.40" x2="390.20" y2="114.90" stroke="#222" stroke-width="1" />
<text x="390.2" y="125.10000000000001" font-size="8.2" text-anchor="middle" font-weight="normal" fill="#1a1a1a"  stroke="#1a1a1a" stroke-width="0.18">2</text>
<line x1="406.07" y1="112.40" x2="406.07" y2="114.90" stroke="#222" stroke-width="1" />
<text x="406.07" y="125.10000000000001" font-size="8.2" text-anchor="middle" font-weight="normal" fill="#1a1a1a"  stroke="#1a1a1a" stroke-width="0.18">4</text>
<line x1="421.94" y1="112.40" x2="421.94" y2="114.90" stroke="#222" stroke-width="1" />
<text x="421.94" y="125.10000000000001" font-size="8.2" text-anchor="middle" font-weight="normal" fill="#1a1a1a"  stroke="#1a1a1a" stroke-width="0.18">5</text>
<line x1="437.81" y1="112.40" x2="437.81" y2="114.90" stroke="#222" stroke-width="1" />
<text x="437.81" y="125.10000000000001" font-size="8.2" text-anchor="middle" font-weight="normal" fill="#1a1a1a"  stroke="#1a1a1a" stroke-width="0.18">11</text>
<line x1="453.68" y1="112.40" x2="453.68" y2="114.90" stroke="#222" stroke-width="1" />
<text x="453.68" y="125.10000000000001" font-size="8.2" text-anchor="middle" font-weight="normal" fill="#1a1a1a"  stroke="#1a1a1a" stroke-width="0.18">13</text>
<line x1="469.55" y1="112.40" x2="469.55" y2="114.90" stroke="#222" stroke-width="1" />
<text x="469.54999999999995" y="125.10000000000001" font-size="8.2" text-anchor="middle" font-weight="normal" fill="#1a1a1a"  stroke="#1a1a1a" stroke-width="0.18">17</text>
<line x1="485.42" y1="112.40" x2="485.42" y2="114.90" stroke="#222" stroke-width="1" />
<text x="485.41999999999996" y="125.10000000000001" font-size="8.2" text-anchor="middle" font-weight="normal" fill="#1a1a1a"  stroke="#1a1a1a" stroke-width="0.18">20</text>
<text x="0" y="0" transform="translate(438.15,138.0) scale(0.805,1)" font-size="8.6" text-anchor="middle" font-weight="normal" fill="#222" stroke="#222" stroke-width="0.25">Age (months)</text>
<text x="0" y="0" transform="translate(362.3,72.95) rotate(-90) scale(0.78,1)" font-size="9.6" text-anchor="middle" font-weight="normal" fill="#222" stroke="#222" stroke-width="0.3">%</text>
<text x="0" y="0" transform="translate(438.34999999999997,25.1) scale(0.93,1)" font-size="10.3" text-anchor="middle" font-weight="normal" fill="#1a1a1a"  stroke="#1a1a1a" stroke-width="0.18">HCT</text>
<line x1="390.50" y1="51.53" x2="390.50" y2="42.52" stroke="#3d6688" stroke-width="1.1" />
<line x1="388.60" y1="42.52" x2="392.40" y2="42.52" stroke="#3d6688" stroke-width="1.2" />
<line x1="388.60" y1="51.53" x2="392.40" y2="51.53" stroke="#3d6688" stroke-width="1.2" />
<line x1="406.50" y1="54.92" x2="406.50" y2="43.64" stroke="#3d6688" stroke-width="1.1" />
<line x1="404.60" y1="43.64" x2="408.40" y2="43.64" stroke="#3d6688" stroke-width="1.2" />
<line x1="404.60" y1="54.92" x2="408.40" y2="54.92" stroke="#3d6688" stroke-width="1.2" />
<line x1="421.50" y1="56.61" x2="421.50" y2="43.08" stroke="#3d6688" stroke-width="1.1" />
<line x1="419.60" y1="43.08" x2="423.40" y2="43.08" stroke="#3d6688" stroke-width="1.2" />
<line x1="419.60" y1="56.61" x2="423.40" y2="56.61" stroke="#3d6688" stroke-width="1.2" />
<line x1="437.50" y1="59.42" x2="437.50" y2="41.39" stroke="#3d6688" stroke-width="1.1" />
<line x1="435.60" y1="41.39" x2="439.40" y2="41.39" stroke="#3d6688" stroke-width="1.2" />
<line x1="435.60" y1="59.42" x2="439.40" y2="59.42" stroke="#3d6688" stroke-width="1.2" />
<line x1="453.50" y1="63.93" x2="453.50" y2="43.64" stroke="#3d6688" stroke-width="1.1" />
<line x1="451.60" y1="43.64" x2="455.40" y2="43.64" stroke="#3d6688" stroke-width="1.2" />
<line x1="451.60" y1="63.93" x2="455.40" y2="63.93" stroke="#3d6688" stroke-width="1.2" />
<line x1="469.50" y1="60.55" x2="469.50" y2="53.79" stroke="#3d6688" stroke-width="1.1" />
<line x1="467.60" y1="53.79" x2="471.40" y2="53.79" stroke="#3d6688" stroke-width="1.2" />
<line x1="467.60" y1="60.55" x2="471.40" y2="60.55" stroke="#3d6688" stroke-width="1.2" />
<line x1="485.50" y1="59.42" x2="485.50" y2="43.64" stroke="#3d6688" stroke-width="1.1" />
<line x1="483.60" y1="43.64" x2="487.40" y2="43.64" stroke="#3d6688" stroke-width="1.2" />
<line x1="483.60" y1="59.42" x2="487.40" y2="59.42" stroke="#3d6688" stroke-width="1.2" />
<polyline points="390.20,47.03 406.07,49.28 421.94,49.84 437.81,50.41 453.68,53.79 469.55,57.17 485.42,51.53" fill="none" stroke="#1d4f86" stroke-width="1.25"/>
<circle cx="390.20" cy="47.03" r="2.1" fill="#173c66"/>
<circle cx="406.07" cy="49.28" r="2.1" fill="#173c66"/>
<circle cx="421.94" cy="49.84" r="2.1" fill="#173c66"/>
<circle cx="437.81" cy="50.41" r="2.1" fill="#173c66"/>
<circle cx="453.68" cy="53.79" r="2.1" fill="#173c66"/>
<circle cx="469.55" cy="57.17" r="2.1" fill="#173c66"/>
<circle cx="485.42" cy="51.53" r="2.1" fill="#173c66"/>
<line x1="390.50" y1="54.92" x2="390.50" y2="43.64" stroke="#4f9a5c" stroke-width="1.1" />
<line x1="388.60" y1="43.64" x2="392.40" y2="43.64" stroke="#4f9a5c" stroke-width="1.2" />
<line x1="388.60" y1="54.92" x2="392.40" y2="54.92" stroke="#4f9a5c" stroke-width="1.2" />
<line x1="406.50" y1="57.17" x2="406.50" y2="45.90" stroke="#4f9a5c" stroke-width="1.1" />
<line x1="404.60" y1="45.90" x2="408.40" y2="45.90" stroke="#4f9a5c" stroke-width="1.2" />
<line x1="404.60" y1="57.17" x2="408.40" y2="57.17" stroke="#4f9a5c" stroke-width="1.2" />
<line x1="421.50" y1="57.17" x2="421.50" y2="45.90" stroke="#4f9a5c" stroke-width="1.1" />
<line x1="419.60" y1="45.90" x2="423.40" y2="45.90" stroke="#4f9a5c" stroke-width="1.2" />
<line x1="419.60" y1="57.17" x2="423.40" y2="57.17" stroke="#4f9a5c" stroke-width="1.2" />
<line x1="437.50" y1="57.17" x2="437.50" y2="43.64" stroke="#4f9a5c" stroke-width="1.1" />
<line x1="435.60" y1="43.64" x2="439.40" y2="43.64" stroke="#4f9a5c" stroke-width="1.2" />
<line x1="435.60" y1="57.17" x2="439.40" y2="57.17" stroke="#4f9a5c" stroke-width="1.2" />
<line x1="453.50" y1="53.79" x2="453.50" y2="42.52" stroke="#4f9a5c" stroke-width="1.1" />
<line x1="451.60" y1="42.52" x2="455.40" y2="42.52" stroke="#4f9a5c" stroke-width="1.2" />
<line x1="451.60" y1="53.79" x2="455.40" y2="53.79" stroke="#4f9a5c" stroke-width="1.2" />
<line x1="469.50" y1="65.06" x2="469.50" y2="56.04" stroke="#4f9a5c" stroke-width="1.1" />
<line x1="467.60" y1="56.04" x2="471.40" y2="56.04" stroke="#4f9a5c" stroke-width="1.2" />
<line x1="467.60" y1="65.06" x2="471.40" y2="65.06" stroke="#4f9a5c" stroke-width="1.2" />
<line x1="485.50" y1="65.06" x2="485.50" y2="56.04" stroke="#4f9a5c" stroke-width="1.1" />
<line x1="483.60" y1="56.04" x2="487.40" y2="56.04" stroke="#4f9a5c" stroke-width="1.2" />
<line x1="483.60" y1="65.06" x2="487.40" y2="65.06" stroke="#4f9a5c" stroke-width="1.2" />
<polyline points="390.20,49.28 406.07,51.53 421.94,51.53 437.81,50.41 453.68,48.15 469.55,60.55 485.42,60.55" fill="none" stroke="#49b449" stroke-width="1.25"/>
<rect x="388.20" y="47.28" width="4.00" height="4.00" fill="#2e9a3a" />
<rect x="404.07" y="49.53" width="4.00" height="4.00" fill="#2e9a3a" />
<rect x="419.94" y="49.53" width="4.00" height="4.00" fill="#2e9a3a" />
<rect x="435.81" y="48.41" width="4.00" height="4.00" fill="#2e9a3a" />
<rect x="451.68" y="46.15" width="4.00" height="4.00" fill="#2e9a3a" />
<rect x="467.55" y="58.55" width="4.00" height="4.00" fill="#2e9a3a" />
<rect x="483.42" y="58.55" width="4.00" height="4.00" fill="#2e9a3a" />
<line x1="390.50" y1="54.92" x2="390.50" y2="48.15" stroke="#b03a50" stroke-width="1.1" />
<line x1="388.60" y1="48.15" x2="392.40" y2="48.15" stroke="#b03a50" stroke-width="1.2" />
<line x1="388.60" y1="54.92" x2="392.40" y2="54.92" stroke="#b03a50" stroke-width="1.2" />
<line x1="406.50" y1="60.55" x2="406.50" y2="51.53" stroke="#b03a50" stroke-width="1.1" />
<line x1="404.60" y1="51.53" x2="408.40" y2="51.53" stroke="#b03a50" stroke-width="1.2" />
<line x1="404.60" y1="60.55" x2="408.40" y2="60.55" stroke="#b03a50" stroke-width="1.2" />
<line x1="421.50" y1="61.12" x2="421.50" y2="52.10" stroke="#b03a50" stroke-width="1.1" />
<line x1="419.60" y1="52.10" x2="423.40" y2="52.10" stroke="#b03a50" stroke-width="1.2" />
<line x1="419.60" y1="61.12" x2="423.40" y2="61.12" stroke="#b03a50" stroke-width="1.2" />
<line x1="437.50" y1="59.42" x2="437.50" y2="50.41" stroke="#b03a50" stroke-width="1.1" />
<line x1="435.60" y1="50.41" x2="439.40" y2="50.41" stroke="#b03a50" stroke-width="1.2" />
<line x1="435.60" y1="59.42" x2="439.40" y2="59.42" stroke="#b03a50" stroke-width="1.2" />
<line x1="453.50" y1="58.86" x2="453.50" y2="49.84" stroke="#b03a50" stroke-width="1.1" />
<line x1="451.60" y1="49.84" x2="455.40" y2="49.84" stroke="#b03a50" stroke-width="1.2" />
<line x1="451.60" y1="58.86" x2="455.40" y2="58.86" stroke="#b03a50" stroke-width="1.2" />
<line x1="469.50" y1="68.44" x2="469.50" y2="63.93" stroke="#b03a50" stroke-width="1.1" />
<line x1="467.60" y1="63.93" x2="471.40" y2="63.93" stroke="#b03a50" stroke-width="1.2" />
<line x1="467.60" y1="68.44" x2="471.40" y2="68.44" stroke="#b03a50" stroke-width="1.2" />
<line x1="485.50" y1="72.95" x2="485.50" y2="59.42" stroke="#b03a50" stroke-width="1.1" />
<line x1="483.60" y1="59.42" x2="487.40" y2="59.42" stroke="#b03a50" stroke-width="1.2" />
<line x1="483.60" y1="72.95" x2="487.40" y2="72.95" stroke="#b03a50" stroke-width="1.2" />
<polyline points="390.20,51.53 406.07,56.04 421.94,56.61 437.81,54.92 453.68,54.35 469.55,66.19 485.42,66.19" fill="none" stroke="#c41a33" stroke-width="1.25"/>
<polygon points="387.60,53.73 392.80,53.73 390.20,48.93" fill="#b30f2a"/>
<polygon points="403.47,58.24 408.67,58.24 406.07,53.44" fill="#b30f2a"/>
<polygon points="419.34,58.81 424.54,58.81 421.94,54.01" fill="#b30f2a"/>
<polygon points="435.21,57.12 440.41,57.12 437.81,52.32" fill="#b30f2a"/>
<polygon points="451.08,56.55 456.28,56.55 453.68,51.75" fill="#b30f2a"/>
<polygon points="466.95,68.39 472.15,68.39 469.55,63.59" fill="#b30f2a"/>
<polygon points="482.82,68.39 488.02,68.39 485.42,63.59" fill="#b30f2a"/>
<line x1="384.50" y1="79.10" x2="398.90" y2="79.10" stroke="#1d4f86" stroke-width="1.3" />
<circle cx="391.70" cy="79.10" r="2.1" fill="#173c66"/>
<text x="402.5" y="81.19999999999999" font-size="7.7" text-anchor="start" font-weight="normal" fill="#222"  stroke="#222" stroke-width="0.18">WT</text>
<line x1="384.50" y1="90.60" x2="398.90" y2="90.60" stroke="#49b449" stroke-width="1.3" />
<rect x="389.70" y="88.60" width="4.00" height="4.00" fill="#2e9a3a" />
<text x="402.5" y="92.69999999999999" font-size="7.7" text-anchor="start" font-weight="normal" fill="#222"  stroke="#222" stroke-width="0.18">Het</text>
<text x="418.2" y="92.69999999999999" font-size="6.6" text-anchor="start" font-weight="normal" fill="#333"  stroke="#333" stroke-width="0.18">n.s.</text>
<line x1="384.50" y1="103.00" x2="398.90" y2="103.00" stroke="#c41a33" stroke-width="1.3" />
<polygon points="389.10,105.20 394.30,105.20 391.70,100.40" fill="#b30f2a"/>
<text x="402.5" y="105.1" font-size="7.7" text-anchor="start" font-weight="normal" fill="#222"  stroke="#222" stroke-width="0.18">G1s</text>
<rect x="421.30" y="103.20" width="1.90" height="1.50" fill="#333" />
<rect x="424.20" y="103.20" width="1.90" height="1.50" fill="#333" />
<rect x="427.10" y="103.20" width="1.90" height="1.50" fill="#333" />
<rect x="430.00" y="103.20" width="1.90" height="1.50" fill="#333" />
<line x1="52.80" y1="187.60" x2="52.80" y2="270.20" stroke="#222" stroke-width="1.25" />
<line x1="52.20" y1="269.60" x2="170.50" y2="269.60" stroke="#222" stroke-width="1.25" />
<line x1="49.80" y1="269.60" x2="52.80" y2="269.60" stroke="#222" stroke-width="1" />
<text x="47.4" y="272.6" font-size="8.4" text-anchor="end" font-weight="normal" fill="#1a1a1a"  stroke="#1a1a1a" stroke-width="0.18">0</text>
<line x1="49.80" y1="258.24" x2="52.80" y2="258.24" stroke="#222" stroke-width="1" />
<text x="47.4" y="261.24285714285713" font-size="8.4" text-anchor="end" font-weight="normal" fill="#1a1a1a"  stroke="#1a1a1a" stroke-width="0.18">2</text>
<line x1="49.80" y1="246.89" x2="52.80" y2="246.89" stroke="#222" stroke-width="1" />
<text x="47.4" y="249.8857142857143" font-size="8.4" text-anchor="end" font-weight="normal" fill="#1a1a1a"  stroke="#1a1a1a" stroke-width="0.18">4</text>
<line x1="49.80" y1="235.53" x2="52.80" y2="235.53" stroke="#222" stroke-width="1" />
<text x="47.4" y="238.52857142857144" font-size="8.4" text-anchor="end" font-weight="normal" fill="#1a1a1a"  stroke="#1a1a1a" stroke-width="0.18">6</text>
<line x1="49.80" y1="224.17" x2="52.80" y2="224.17" stroke="#222" stroke-width="1" />
<text x="47.4" y="227.17142857142858" font-size="8.4" text-anchor="end" font-weight="normal" fill="#1a1a1a"  stroke="#1a1a1a" stroke-width="0.18">8</text>
<line x1="49.80" y1="212.81" x2="52.80" y2="212.81" stroke="#222" stroke-width="1" />
<text x="47.4" y="215.81428571428572" font-size="8.4" text-anchor="end" font-weight="normal" fill="#1a1a1a"  stroke="#1a1a1a" stroke-width="0.18">10</text>
<line x1="49.80" y1="201.46" x2="52.80" y2="201.46" stroke="#222" stroke-width="1" />
<text x="47.4" y="204.45714285714286" font-size="8.4" text-anchor="end" font-weight="normal" fill="#1a1a1a"  stroke="#1a1a1a" stroke-width="0.18">12</text>
<line x1="49.80" y1="190.10" x2="52.80" y2="190.10" stroke="#222" stroke-width="1" />
<text x="47.4" y="193.1" font-size="8.4" text-anchor="end" font-weight="normal" fill="#1a1a1a"  stroke="#1a1a1a" stroke-width="0.18">14</text>
<line x1="63.30" y1="269.60" x2="63.30" y2="272.10" stroke="#222" stroke-width="1" />
<text x="63.3" y="282.3" font-size="8.2" text-anchor="middle" font-weight="normal" fill="#1a1a1a"  stroke="#1a1a1a" stroke-width="0.18">2</text>
<line x1="78.70" y1="269.60" x2="78.70" y2="272.10" stroke="#222" stroke-width="1" />
<text x="78.7" y="282.3" font-size="8.2" text-anchor="middle" font-weight="normal" fill="#1a1a1a"  stroke="#1a1a1a" stroke-width="0.18">4</text>
<line x1="94.10" y1="269.60" x2="94.10" y2="272.10" stroke="#222" stroke-width="1" />
<text x="94.1" y="282.3" font-size="8.2" text-anchor="middle" font-weight="normal" fill="#1a1a1a"  stroke="#1a1a1a" stroke-width="0.18">5</text>
<line x1="109.50" y1="269.60" x2="109.50" y2="272.10" stroke="#222" stroke-width="1" />
<text x="109.5" y="282.3" font-size="8.2" text-anchor="middle" font-weight="normal" fill="#1a1a1a"  stroke="#1a1a1a" stroke-width="0.18">14</text>
<line x1="124.90" y1="269.60" x2="124.90" y2="272.10" stroke="#222" stroke-width="1" />
<text x="124.9" y="282.3" font-size="8.2" text-anchor="middle" font-weight="normal" fill="#1a1a1a"  stroke="#1a1a1a" stroke-width="0.18">16</text>
<line x1="140.30" y1="269.60" x2="140.30" y2="272.10" stroke="#222" stroke-width="1" />
<text x="140.3" y="282.3" font-size="8.2" text-anchor="middle" font-weight="normal" fill="#1a1a1a"  stroke="#1a1a1a" stroke-width="0.18">17</text>
<line x1="155.70" y1="269.60" x2="155.70" y2="272.10" stroke="#222" stroke-width="1" />
<text x="155.7" y="282.3" font-size="8.2" text-anchor="middle" font-weight="normal" fill="#1a1a1a"  stroke="#1a1a1a" stroke-width="0.18">20</text>
<text x="0" y="0" transform="translate(111.75,295.20000000000005) scale(0.805,1)" font-size="8.6" text-anchor="middle" font-weight="normal" fill="#222" stroke="#222" stroke-width="0.25">Age (months)</text>
<text x="0" y="0" transform="translate(33.0,229.85000000000002) rotate(-90) scale(0.78,1)" font-size="9.6" text-anchor="middle" font-weight="normal" fill="#222" stroke="#222" stroke-width="0.3">M/μL</text>
<text x="0" y="0" transform="translate(111.95,181.8) scale(0.93,1)" font-size="10.3" text-anchor="middle" font-weight="normal" fill="#1a1a1a"  stroke="#1a1a1a" stroke-width="0.18">RBC</text>
<line x1="63.50" y1="208.84" x2="63.50" y2="199.75" stroke="#3d6688" stroke-width="1.1" />
<line x1="61.60" y1="199.75" x2="65.40" y2="199.75" stroke="#3d6688" stroke-width="1.2" />
<line x1="61.60" y1="208.84" x2="65.40" y2="208.84" stroke="#3d6688" stroke-width="1.2" />
<line x1="78.50" y1="213.38" x2="78.50" y2="205.43" stroke="#3d6688" stroke-width="1.1" />
<line x1="76.60" y1="205.43" x2="80.40" y2="205.43" stroke="#3d6688" stroke-width="1.2" />
<line x1="76.60" y1="213.38" x2="80.40" y2="213.38" stroke="#3d6688" stroke-width="1.2" />
<line x1="94.50" y1="214.52" x2="94.50" y2="204.30" stroke="#3d6688" stroke-width="1.1" />
<line x1="92.60" y1="204.30" x2="96.40" y2="204.30" stroke="#3d6688" stroke-width="1.2" />
<line x1="92.60" y1="214.52" x2="96.40" y2="214.52" stroke="#3d6688" stroke-width="1.2" />
<line x1="109.50" y1="211.68" x2="109.50" y2="202.59" stroke="#3d6688" stroke-width="1.1" />
<line x1="107.60" y1="202.59" x2="111.40" y2="202.59" stroke="#3d6688" stroke-width="1.2" />
<line x1="107.60" y1="211.68" x2="111.40" y2="211.68" stroke="#3d6688" stroke-width="1.2" />
<line x1="124.50" y1="212.81" x2="124.50" y2="202.59" stroke="#3d6688" stroke-width="1.1" />
<line x1="122.60" y1="202.59" x2="126.40" y2="202.59" stroke="#3d6688" stroke-width="1.2" />
<line x1="122.60" y1="212.81" x2="126.40" y2="212.81" stroke="#3d6688" stroke-width="1.2" />
<line x1="140.50" y1="216.79" x2="140.50" y2="205.43" stroke="#3d6688" stroke-width="1.1" />
<line x1="138.60" y1="205.43" x2="142.40" y2="205.43" stroke="#3d6688" stroke-width="1.2" />
<line x1="138.60" y1="216.79" x2="142.40" y2="216.79" stroke="#3d6688" stroke-width="1.2" />
<line x1="155.50" y1="217.36" x2="155.50" y2="200.32" stroke="#3d6688" stroke-width="1.1" />
<line x1="153.60" y1="200.32" x2="157.40" y2="200.32" stroke="#3d6688" stroke-width="1.2" />
<line x1="153.60" y1="217.36" x2="157.40" y2="217.36" stroke="#3d6688" stroke-width="1.2" />
<polyline points="63.30,204.30 78.70,209.41 94.10,209.41 109.50,207.14 124.90,207.70 140.30,211.11 155.70,208.84" fill="none" stroke="#1d4f86" stroke-width="1.25"/>
<circle cx="63.30" cy="204.30" r="2.1" fill="#173c66"/>
<circle cx="78.70" cy="209.41" r="2.1" fill="#173c66"/>
<circle cx="94.10" cy="209.41" r="2.1" fill="#173c66"/>
<circle cx="109.50" cy="207.14" r="2.1" fill="#173c66"/>
<circle cx="124.90" cy="207.70" r="2.1" fill="#173c66"/>
<circle cx="140.30" cy="211.11" r="2.1" fill="#173c66"/>
<circle cx="155.70" cy="208.84" r="2.1" fill="#173c66"/>
<line x1="63.50" y1="216.22" x2="63.50" y2="204.86" stroke="#b03a50" stroke-width="1.1" />
<line x1="61.60" y1="204.86" x2="65.40" y2="204.86" stroke="#b03a50" stroke-width="1.2" />
<line x1="61.60" y1="216.22" x2="65.40" y2="216.22" stroke="#b03a50" stroke-width="1.2" />
<line x1="78.50" y1="217.93" x2="78.50" y2="208.84" stroke="#b03a50" stroke-width="1.1" />
<line x1="76.60" y1="208.84" x2="80.40" y2="208.84" stroke="#b03a50" stroke-width="1.2" />
<line x1="76.60" y1="217.93" x2="80.40" y2="217.93" stroke="#b03a50" stroke-width="1.2" />
<line x1="94.50" y1="216.22" x2="94.50" y2="209.41" stroke="#b03a50" stroke-width="1.1" />
<line x1="92.60" y1="209.41" x2="96.40" y2="209.41" stroke="#b03a50" stroke-width="1.2" />
<line x1="92.60" y1="216.22" x2="96.40" y2="216.22" stroke="#b03a50" stroke-width="1.2" />
<line x1="109.50" y1="219.06" x2="109.50" y2="205.43" stroke="#b03a50" stroke-width="1.1" />
<line x1="107.60" y1="205.43" x2="111.40" y2="205.43" stroke="#b03a50" stroke-width="1.2" />
<line x1="107.60" y1="219.06" x2="111.40" y2="219.06" stroke="#b03a50" stroke-width="1.2" />
<line x1="124.50" y1="217.93" x2="124.50" y2="208.84" stroke="#b03a50" stroke-width="1.1" />
<line x1="122.60" y1="208.84" x2="126.40" y2="208.84" stroke="#b03a50" stroke-width="1.2" />
<line x1="122.60" y1="217.93" x2="126.40" y2="217.93" stroke="#b03a50" stroke-width="1.2" />
<line x1="140.50" y1="216.79" x2="140.50" y2="209.97" stroke="#b03a50" stroke-width="1.1" />
<line x1="138.60" y1="209.97" x2="142.40" y2="209.97" stroke="#b03a50" stroke-width="1.2" />
<line x1="138.60" y1="216.79" x2="142.40" y2="216.79" stroke="#b03a50" stroke-width="1.2" />
<line x1="155.50" y1="216.22" x2="155.50" y2="211.68" stroke="#b03a50" stroke-width="1.1" />
<line x1="153.60" y1="211.68" x2="157.40" y2="211.68" stroke="#b03a50" stroke-width="1.2" />
<line x1="153.60" y1="216.22" x2="157.40" y2="216.22" stroke="#b03a50" stroke-width="1.2" />
<polyline points="63.30,210.54 78.70,213.38 94.10,212.81 109.50,212.25 124.90,213.38 140.30,213.38 155.70,213.95" fill="none" stroke="#c41a33" stroke-width="1.25"/>
<rect x="61.30" y="208.54" width="4.00" height="4.00" fill="#b30f2a" />
<rect x="76.70" y="211.38" width="4.00" height="4.00" fill="#b30f2a" />
<rect x="92.10" y="210.81" width="4.00" height="4.00" fill="#b30f2a" />
<rect x="107.50" y="210.25" width="4.00" height="4.00" fill="#b30f2a" />
<rect x="122.90" y="211.38" width="4.00" height="4.00" fill="#b30f2a" />
<rect x="138.30" y="211.38" width="4.00" height="4.00" fill="#b30f2a" />
<rect x="153.70" y="211.95" width="4.00" height="4.00" fill="#b30f2a" />
<line x1="55.90" y1="248.20" x2="70.30" y2="248.20" stroke="#1d4f86" stroke-width="1.3" />
<circle cx="63.10" cy="248.20" r="2.1" fill="#173c66"/>
<text x="73.9" y="250.29999999999998" font-size="7.7" text-anchor="start" font-weight="normal" fill="#222"  stroke="#222" stroke-width="0.18">WT</text>
<line x1="55.90" y1="259.30" x2="70.30" y2="259.30" stroke="#c41a33" stroke-width="1.3" />
<rect x="61.10" y="257.30" width="4.00" height="4.00" fill="#b30f2a" />
<text x="73.9" y="261.40000000000003" font-size="7.7" text-anchor="start" font-weight="normal" fill="#222"  stroke="#222" stroke-width="0.18">G1s</text>
<rect x="92.70" y="259.50" width="1.90" height="1.50" fill="#333" />
<rect x="95.60" y="259.50" width="1.90" height="1.50" fill="#333" />
<rect x="98.50" y="259.50" width="1.90" height="1.50" fill="#333" />
<rect x="101.40" y="259.50" width="1.90" height="1.50" fill="#333" />
<line x1="216.30" y1="188.40" x2="216.30" y2="269.80" stroke="#222" stroke-width="1.25" />
<line x1="215.70" y1="269.20" x2="333.80" y2="269.20" stroke="#222" stroke-width="1.25" />
<line x1="213.30" y1="269.20" x2="216.30" y2="269.20" stroke="#222" stroke-width="1" />
<text x="210.9" y="272.2" font-size="8.4" text-anchor="end" font-weight="normal" fill="#1a1a1a"  stroke="#1a1a1a" stroke-width="0.18">0</text>
<line x1="213.30" y1="249.62" x2="216.30" y2="249.62" stroke="#222" stroke-width="1" />
<text x="210.9" y="252.625" font-size="8.4" text-anchor="end" font-weight="normal" fill="#1a1a1a"  stroke="#1a1a1a" stroke-width="0.18">5</text>
<line x1="213.30" y1="230.05" x2="216.30" y2="230.05" stroke="#222" stroke-width="1" />
<text x="210.9" y="233.05" font-size="8.4" text-anchor="end" font-weight="normal" fill="#1a1a1a"  stroke="#1a1a1a" stroke-width="0.18">10</text>
<line x1="213.30" y1="210.47" x2="216.30" y2="210.47" stroke="#222" stroke-width="1" />
<text x="210.9" y="213.475" font-size="8.4" text-anchor="end" font-weight="normal" fill="#1a1a1a"  stroke="#1a1a1a" stroke-width="0.18">15</text>
<line x1="213.30" y1="190.90" x2="216.30" y2="190.90" stroke="#222" stroke-width="1" />
<text x="210.9" y="193.9" font-size="8.4" text-anchor="end" font-weight="normal" fill="#1a1a1a"  stroke="#1a1a1a" stroke-width="0.18">20</text>
<line x1="226.80" y1="269.20" x2="226.80" y2="271.70" stroke="#222" stroke-width="1" />
<text x="226.8" y="281.9" font-size="8.2" text-anchor="middle" font-weight="normal" fill="#1a1a1a"  stroke="#1a1a1a" stroke-width="0.18">2</text>
<line x1="242.70" y1="269.20" x2="242.70" y2="271.70" stroke="#222" stroke-width="1" />
<text x="242.70000000000002" y="281.9" font-size="8.2" text-anchor="middle" font-weight="normal" fill="#1a1a1a"  stroke="#1a1a1a" stroke-width="0.18">4</text>
<line x1="258.60" y1="269.20" x2="258.60" y2="271.70" stroke="#222" stroke-width="1" />
<text x="258.6" y="281.9" font-size="8.2" text-anchor="middle" font-weight="normal" fill="#1a1a1a"  stroke="#1a1a1a" stroke-width="0.18">5</text>
<line x1="274.50" y1="269.20" x2="274.50" y2="271.70" stroke="#222" stroke-width="1" />
<text x="274.5" y="281.9" font-size="8.2" text-anchor="middle" font-weight="normal" fill="#1a1a1a"  stroke="#1a1a1a" stroke-width="0.18">14</text>
<line x1="290.40" y1="269.20" x2="290.40" y2="271.70" stroke="#222" stroke-width="1" />
<text x="290.40000000000003" y="281.9" font-size="8.2" text-anchor="middle" font-weight="normal" fill="#1a1a1a"  stroke="#1a1a1a" stroke-width="0.18">16</text>
<line x1="306.30" y1="269.20" x2="306.30" y2="271.70" stroke="#222" stroke-width="1" />
<text x="306.3" y="281.9" font-size="8.2" text-anchor="middle" font-weight="normal" fill="#1a1a1a"  stroke="#1a1a1a" stroke-width="0.18">17</text>
<line x1="322.20" y1="269.20" x2="322.20" y2="271.70" stroke="#222" stroke-width="1" />
<text x="322.20000000000005" y="281.9" font-size="8.2" text-anchor="middle" font-weight="normal" fill="#1a1a1a"  stroke="#1a1a1a" stroke-width="0.18">20</text>
<text x="0" y="0" transform="translate(275.15000000000003,294.8) scale(0.805,1)" font-size="8.6" text-anchor="middle" font-weight="normal" fill="#222" stroke="#222" stroke-width="0.25">Age (months)</text>
<text x="0" y="0" transform="translate(196.3,230.05) rotate(-90) scale(0.78,1)" font-size="9.6" text-anchor="middle" font-weight="normal" fill="#222" stroke="#222" stroke-width="0.3">g/dL</text>
<text x="0" y="0" transform="translate(275.35,181.8) scale(0.93,1)" font-size="10.3" text-anchor="middle" font-weight="normal" fill="#1a1a1a"  stroke="#1a1a1a" stroke-width="0.18">HB</text>
<line x1="226.50" y1="206.56" x2="226.50" y2="198.73" stroke="#3d6688" stroke-width="1.1" />
<line x1="224.60" y1="198.73" x2="228.40" y2="198.73" stroke="#3d6688" stroke-width="1.2" />
<line x1="224.60" y1="206.56" x2="228.40" y2="206.56" stroke="#3d6688" stroke-width="1.2" />
<line x1="242.50" y1="212.43" x2="242.50" y2="206.17" stroke="#3d6688" stroke-width="1.1" />
<line x1="240.60" y1="206.17" x2="244.40" y2="206.17" stroke="#3d6688" stroke-width="1.2" />
<line x1="240.60" y1="212.43" x2="244.40" y2="212.43" stroke="#3d6688" stroke-width="1.2" />
<line x1="258.50" y1="212.43" x2="258.50" y2="205.39" stroke="#3d6688" stroke-width="1.1" />
<line x1="256.60" y1="205.39" x2="260.40" y2="205.39" stroke="#3d6688" stroke-width="1.2" />
<line x1="256.60" y1="212.43" x2="260.40" y2="212.43" stroke="#3d6688" stroke-width="1.2" />
<line x1="274.50" y1="211.26" x2="274.50" y2="204.99" stroke="#3d6688" stroke-width="1.1" />
<line x1="272.60" y1="204.99" x2="276.40" y2="204.99" stroke="#3d6688" stroke-width="1.2" />
<line x1="272.60" y1="211.26" x2="276.40" y2="211.26" stroke="#3d6688" stroke-width="1.2" />
<line x1="290.50" y1="212.04" x2="290.50" y2="205.78" stroke="#3d6688" stroke-width="1.1" />
<line x1="288.60" y1="205.78" x2="292.40" y2="205.78" stroke="#3d6688" stroke-width="1.2" />
<line x1="288.60" y1="212.04" x2="292.40" y2="212.04" stroke="#3d6688" stroke-width="1.2" />
<line x1="306.50" y1="217.52" x2="306.50" y2="209.69" stroke="#3d6688" stroke-width="1.1" />
<line x1="304.60" y1="209.69" x2="308.40" y2="209.69" stroke="#3d6688" stroke-width="1.2" />
<line x1="304.60" y1="217.52" x2="308.40" y2="217.52" stroke="#3d6688" stroke-width="1.2" />
<line x1="322.50" y1="217.91" x2="322.50" y2="208.52" stroke="#3d6688" stroke-width="1.1" />
<line x1="320.60" y1="208.52" x2="324.40" y2="208.52" stroke="#3d6688" stroke-width="1.2" />
<line x1="320.60" y1="217.91" x2="324.40" y2="217.91" stroke="#3d6688" stroke-width="1.2" />
<polyline points="226.80,202.65 242.70,209.30 258.60,208.91 274.50,208.13 290.40,208.91 306.30,213.61 322.20,213.22" fill="none" stroke="#1d4f86" stroke-width="1.25"/>
<circle cx="226.80" cy="202.65" r="2.1" fill="#173c66"/>
<circle cx="242.70" cy="209.30" r="2.1" fill="#173c66"/>
<circle cx="258.60" cy="208.91" r="2.1" fill="#173c66"/>
<circle cx="274.50" cy="208.13" r="2.1" fill="#173c66"/>
<circle cx="290.40" cy="208.91" r="2.1" fill="#173c66"/>
<circle cx="306.30" cy="213.61" r="2.1" fill="#173c66"/>
<circle cx="322.20" cy="213.22" r="2.1" fill="#173c66"/>
<line x1="226.50" y1="213.22" x2="226.50" y2="203.82" stroke="#b03a50" stroke-width="1.1" />
<line x1="224.60" y1="203.82" x2="228.40" y2="203.82" stroke="#b03a50" stroke-width="1.2" />
<line x1="224.60" y1="213.22" x2="228.40" y2="213.22" stroke="#b03a50" stroke-width="1.2" />
<line x1="242.50" y1="218.31" x2="242.50" y2="210.47" stroke="#b03a50" stroke-width="1.1" />
<line x1="240.60" y1="210.47" x2="244.40" y2="210.47" stroke="#b03a50" stroke-width="1.2" />
<line x1="240.60" y1="218.31" x2="244.40" y2="218.31" stroke="#b03a50" stroke-width="1.2" />
<line x1="258.50" y1="215.96" x2="258.50" y2="209.69" stroke="#b03a50" stroke-width="1.1" />
<line x1="256.60" y1="209.69" x2="260.40" y2="209.69" stroke="#b03a50" stroke-width="1.2" />
<line x1="256.60" y1="215.96" x2="260.40" y2="215.96" stroke="#b03a50" stroke-width="1.2" />
<line x1="274.50" y1="220.26" x2="274.50" y2="208.52" stroke="#b03a50" stroke-width="1.1" />
<line x1="272.60" y1="208.52" x2="276.40" y2="208.52" stroke="#b03a50" stroke-width="1.2" />
<line x1="272.60" y1="220.26" x2="276.40" y2="220.26" stroke="#b03a50" stroke-width="1.2" />
<line x1="290.50" y1="219.48" x2="290.50" y2="214.00" stroke="#b03a50" stroke-width="1.1" />
<line x1="288.60" y1="214.00" x2="292.40" y2="214.00" stroke="#b03a50" stroke-width="1.2" />
<line x1="288.60" y1="219.48" x2="292.40" y2="219.48" stroke="#b03a50" stroke-width="1.2" />
<line x1="306.50" y1="218.70" x2="306.50" y2="213.22" stroke="#b03a50" stroke-width="1.1" />
<line x1="304.60" y1="213.22" x2="308.40" y2="213.22" stroke="#b03a50" stroke-width="1.2" />
<line x1="304.60" y1="218.70" x2="308.40" y2="218.70" stroke="#b03a50" stroke-width="1.2" />
<line x1="322.50" y1="218.70" x2="322.50" y2="214.00" stroke="#b03a50" stroke-width="1.1" />
<line x1="320.60" y1="214.00" x2="324.40" y2="214.00" stroke="#b03a50" stroke-width="1.2" />
<line x1="320.60" y1="218.70" x2="324.40" y2="218.70" stroke="#b03a50" stroke-width="1.2" />
<polyline points="226.80,208.52 242.70,214.39 258.60,212.82 274.50,214.39 290.40,216.74 306.30,215.96 322.20,216.35" fill="none" stroke="#c41a33" stroke-width="1.25"/>
<rect x="224.80" y="206.52" width="4.00" height="4.00" fill="#b30f2a" />
<rect x="240.70" y="212.39" width="4.00" height="4.00" fill="#b30f2a" />
<rect x="256.60" y="210.82" width="4.00" height="4.00" fill="#b30f2a" />
<rect x="272.50" y="212.39" width="4.00" height="4.00" fill="#b30f2a" />
<rect x="288.40" y="214.74" width="4.00" height="4.00" fill="#b30f2a" />
<rect x="304.30" y="213.96" width="4.00" height="4.00" fill="#b30f2a" />
<rect x="320.20" y="214.35" width="4.00" height="4.00" fill="#b30f2a" />
<line x1="219.40" y1="248.20" x2="233.80" y2="248.20" stroke="#1d4f86" stroke-width="1.3" />
<circle cx="226.60" cy="248.20" r="2.1" fill="#173c66"/>
<text x="237.4" y="250.29999999999998" font-size="7.7" text-anchor="start" font-weight="normal" fill="#222"  stroke="#222" stroke-width="0.18">WT</text>
<line x1="219.40" y1="259.30" x2="233.80" y2="259.30" stroke="#c41a33" stroke-width="1.3" />
<rect x="224.60" y="257.30" width="4.00" height="4.00" fill="#b30f2a" />
<text x="237.4" y="261.40000000000003" font-size="7.7" text-anchor="start" font-weight="normal" fill="#222"  stroke="#222" stroke-width="0.18">G1s</text>
<rect x="256.20" y="259.50" width="1.90" height="1.50" fill="#333" />
<rect x="259.10" y="259.50" width="1.90" height="1.50" fill="#333" />
<rect x="262.00" y="259.50" width="1.90" height="1.50" fill="#333" />
<rect x="264.90" y="259.50" width="1.90" height="1.50" fill="#333" />
<line x1="379.40" y1="188.30" x2="379.40" y2="270.00" stroke="#222" stroke-width="1.25" />
<line x1="378.80" y1="269.40" x2="496.70" y2="269.40" stroke="#222" stroke-width="1.25" />
<line x1="376.40" y1="269.40" x2="379.40" y2="269.40" stroke="#222" stroke-width="1" />
<text x="374.0" y="272.4" font-size="8.4" text-anchor="end" font-weight="normal" fill="#1a1a1a"  stroke="#1a1a1a" stroke-width="0.18">0</text>
<line x1="376.40" y1="258.17" x2="379.40" y2="258.17" stroke="#222" stroke-width="1" />
<text x="374.0" y="261.1714285714286" font-size="8.4" text-anchor="end" font-weight="normal" fill="#1a1a1a"  stroke="#1a1a1a" stroke-width="0.18">10</text>
<line x1="376.40" y1="246.94" x2="379.40" y2="246.94" stroke="#222" stroke-width="1" />
<text x="374.0" y="249.94285714285712" font-size="8.4" text-anchor="end" font-weight="normal" fill="#1a1a1a"  stroke="#1a1a1a" stroke-width="0.18">20</text>
<line x1="376.40" y1="235.71" x2="379.40" y2="235.71" stroke="#222" stroke-width="1" />
<text x="374.0" y="238.71428571428572" font-size="8.4" text-anchor="end" font-weight="normal" fill="#1a1a1a"  stroke="#1a1a1a" stroke-width="0.18">30</text>
<line x1="376.40" y1="224.49" x2="379.40" y2="224.49" stroke="#222" stroke-width="1" />
<text x="374.0" y="227.48571428571427" font-size="8.4" text-anchor="end" font-weight="normal" fill="#1a1a1a"  stroke="#1a1a1a" stroke-width="0.18">40</text>
<line x1="376.40" y1="213.26" x2="379.40" y2="213.26" stroke="#222" stroke-width="1" />
<text x="374.0" y="216.25714285714287" font-size="8.4" text-anchor="end" font-weight="normal" fill="#1a1a1a"  stroke="#1a1a1a" stroke-width="0.18">50</text>
<line x1="376.40" y1="202.03" x2="379.40" y2="202.03" stroke="#222" stroke-width="1" />
<text x="374.0" y="205.02857142857144" font-size="8.4" text-anchor="end" font-weight="normal" fill="#1a1a1a"  stroke="#1a1a1a" stroke-width="0.18">60</text>
<line x1="376.40" y1="190.80" x2="379.40" y2="190.80" stroke="#222" stroke-width="1" />
<text x="374.0" y="193.8" font-size="8.4" text-anchor="end" font-weight="normal" fill="#1a1a1a"  stroke="#1a1a1a" stroke-width="0.18">70</text>
<line x1="390.20" y1="269.40" x2="390.20" y2="271.90" stroke="#222" stroke-width="1" />
<text x="390.2" y="282.09999999999997" font-size="8.2" text-anchor="middle" font-weight="normal" fill="#1a1a1a"  stroke="#1a1a1a" stroke-width="0.18">2</text>
<line x1="406.07" y1="269.40" x2="406.07" y2="271.90" stroke="#222" stroke-width="1" />
<text x="406.07" y="282.09999999999997" font-size="8.2" text-anchor="middle" font-weight="normal" fill="#1a1a1a"  stroke="#1a1a1a" stroke-width="0.18">4</text>
<line x1="421.94" y1="269.40" x2="421.94" y2="271.90" stroke="#222" stroke-width="1" />
<text x="421.94" y="282.09999999999997" font-size="8.2" text-anchor="middle" font-weight="normal" fill="#1a1a1a"  stroke="#1a1a1a" stroke-width="0.18">5</text>
<line x1="437.81" y1="269.40" x2="437.81" y2="271.90" stroke="#222" stroke-width="1" />
<text x="437.81" y="282.09999999999997" font-size="8.2" text-anchor="middle" font-weight="normal" fill="#1a1a1a"  stroke="#1a1a1a" stroke-width="0.18">14</text>
<line x1="453.68" y1="269.40" x2="453.68" y2="271.90" stroke="#222" stroke-width="1" />
<text x="453.68" y="282.09999999999997" font-size="8.2" text-anchor="middle" font-weight="normal" fill="#1a1a1a"  stroke="#1a1a1a" stroke-width="0.18">16</text>
<line x1="469.55" y1="269.40" x2="469.55" y2="271.90" stroke="#222" stroke-width="1" />
<text x="469.54999999999995" y="282.09999999999997" font-size="8.2" text-anchor="middle" font-weight="normal" fill="#1a1a1a"  stroke="#1a1a1a" stroke-width="0.18">17</text>
<line x1="485.42" y1="269.40" x2="485.42" y2="271.90" stroke="#222" stroke-width="1" />
<text x="485.41999999999996" y="282.09999999999997" font-size="8.2" text-anchor="middle" font-weight="normal" fill="#1a1a1a"  stroke="#1a1a1a" stroke-width="0.18">20</text>
<text x="0" y="0" transform="translate(438.15,295.0) scale(0.805,1)" font-size="8.6" text-anchor="middle" font-weight="normal" fill="#222" stroke="#222" stroke-width="0.25">Age (months)</text>
<text x="0" y="0" transform="translate(362.3,230.1) rotate(-90) scale(0.78,1)" font-size="9.6" text-anchor="middle" font-weight="normal" fill="#222" stroke="#222" stroke-width="0.3">%</text>
<text x="0" y="0" transform="translate(438.34999999999997,181.8) scale(0.93,1)" font-size="10.3" text-anchor="middle" font-weight="normal" fill="#1a1a1a"  stroke="#1a1a1a" stroke-width="0.18">HCT</text>
<line x1="390.50" y1="212.13" x2="390.50" y2="203.15" stroke="#3d6688" stroke-width="1.1" />
<line x1="388.60" y1="203.15" x2="392.40" y2="203.15" stroke="#3d6688" stroke-width="1.2" />
<line x1="388.60" y1="212.13" x2="392.40" y2="212.13" stroke="#3d6688" stroke-width="1.2" />
<line x1="406.50" y1="216.06" x2="406.50" y2="207.08" stroke="#3d6688" stroke-width="1.1" />
<line x1="404.60" y1="207.08" x2="408.40" y2="207.08" stroke="#3d6688" stroke-width="1.2" />
<line x1="404.60" y1="216.06" x2="408.40" y2="216.06" stroke="#3d6688" stroke-width="1.2" />
<line x1="421.50" y1="215.50" x2="421.50" y2="206.52" stroke="#3d6688" stroke-width="1.1" />
<line x1="419.60" y1="206.52" x2="423.40" y2="206.52" stroke="#3d6688" stroke-width="1.2" />
<line x1="419.60" y1="215.50" x2="423.40" y2="215.50" stroke="#3d6688" stroke-width="1.2" />
<line x1="437.50" y1="212.13" x2="437.50" y2="205.40" stroke="#3d6688" stroke-width="1.1" />
<line x1="435.60" y1="205.40" x2="439.40" y2="205.40" stroke="#3d6688" stroke-width="1.2" />
<line x1="435.60" y1="212.13" x2="439.40" y2="212.13" stroke="#3d6688" stroke-width="1.2" />
<line x1="453.50" y1="219.99" x2="453.50" y2="213.26" stroke="#3d6688" stroke-width="1.1" />
<line x1="451.60" y1="213.26" x2="455.40" y2="213.26" stroke="#3d6688" stroke-width="1.2" />
<line x1="451.60" y1="219.99" x2="455.40" y2="219.99" stroke="#3d6688" stroke-width="1.2" />
<line x1="469.50" y1="222.80" x2="469.50" y2="216.06" stroke="#3d6688" stroke-width="1.1" />
<line x1="467.60" y1="216.06" x2="471.40" y2="216.06" stroke="#3d6688" stroke-width="1.2" />
<line x1="467.60" y1="222.80" x2="471.40" y2="222.80" stroke="#3d6688" stroke-width="1.2" />
<line x1="485.50" y1="222.24" x2="485.50" y2="213.26" stroke="#3d6688" stroke-width="1.1" />
<line x1="483.60" y1="213.26" x2="487.40" y2="213.26" stroke="#3d6688" stroke-width="1.2" />
<line x1="483.60" y1="222.24" x2="487.40" y2="222.24" stroke="#3d6688" stroke-width="1.2" />
<polyline points="390.20,207.64 406.07,211.57 421.94,211.01 437.81,208.77 453.68,216.63 469.55,219.43 485.42,217.75" fill="none" stroke="#1d4f86" stroke-width="1.25"/>
<circle cx="390.20" cy="207.64" r="2.1" fill="#173c66"/>
<circle cx="406.07" cy="211.57" r="2.1" fill="#173c66"/>
<circle cx="421.94" cy="211.01" r="2.1" fill="#173c66"/>
<circle cx="437.81" cy="208.77" r="2.1" fill="#173c66"/>
<circle cx="453.68" cy="216.63" r="2.1" fill="#173c66"/>
<circle cx="469.55" cy="219.43" r="2.1" fill="#173c66"/>
<circle cx="485.42" cy="217.75" r="2.1" fill="#173c66"/>
<line x1="390.50" y1="214.94" x2="390.50" y2="205.96" stroke="#b03a50" stroke-width="1.1" />
<line x1="388.60" y1="205.96" x2="392.40" y2="205.96" stroke="#b03a50" stroke-width="1.2" />
<line x1="388.60" y1="214.94" x2="392.40" y2="214.94" stroke="#b03a50" stroke-width="1.2" />
<line x1="406.50" y1="219.99" x2="406.50" y2="211.01" stroke="#b03a50" stroke-width="1.1" />
<line x1="404.60" y1="211.01" x2="408.40" y2="211.01" stroke="#b03a50" stroke-width="1.2" />
<line x1="404.60" y1="219.99" x2="408.40" y2="219.99" stroke="#b03a50" stroke-width="1.2" />
<line x1="421.50" y1="218.87" x2="421.50" y2="212.13" stroke="#b03a50" stroke-width="1.1" />
<line x1="419.60" y1="212.13" x2="423.40" y2="212.13" stroke="#b03a50" stroke-width="1.2" />
<line x1="419.60" y1="218.87" x2="423.40" y2="218.87" stroke="#b03a50" stroke-width="1.2" />
<line x1="437.50" y1="217.75" x2="437.50" y2="206.52" stroke="#b03a50" stroke-width="1.1" />
<line x1="435.60" y1="206.52" x2="439.40" y2="206.52" stroke="#b03a50" stroke-width="1.2" />
<line x1="435.60" y1="217.75" x2="439.40" y2="217.75" stroke="#b03a50" stroke-width="1.2" />
<line x1="453.50" y1="222.24" x2="453.50" y2="217.75" stroke="#b03a50" stroke-width="1.1" />
<line x1="451.60" y1="217.75" x2="455.40" y2="217.75" stroke="#b03a50" stroke-width="1.2" />
<line x1="451.60" y1="222.24" x2="455.40" y2="222.24" stroke="#b03a50" stroke-width="1.2" />
<line x1="469.50" y1="223.36" x2="469.50" y2="216.63" stroke="#b03a50" stroke-width="1.1" />
<line x1="467.60" y1="216.63" x2="471.40" y2="216.63" stroke="#b03a50" stroke-width="1.2" />
<line x1="467.60" y1="223.36" x2="471.40" y2="223.36" stroke="#b03a50" stroke-width="1.2" />
<line x1="485.50" y1="221.68" x2="485.50" y2="214.94" stroke="#b03a50" stroke-width="1.1" />
<line x1="483.60" y1="214.94" x2="487.40" y2="214.94" stroke="#b03a50" stroke-width="1.2" />
<line x1="483.60" y1="221.68" x2="487.40" y2="221.68" stroke="#b03a50" stroke-width="1.2" />
<polyline points="390.20,210.45 406.07,215.50 421.94,215.50 437.81,212.13 453.68,219.99 469.55,219.99 485.42,218.31" fill="none" stroke="#c41a33" stroke-width="1.25"/>
<rect x="388.20" y="208.45" width="4.00" height="4.00" fill="#b30f2a" />
<rect x="404.07" y="213.50" width="4.00" height="4.00" fill="#b30f2a" />
<rect x="419.94" y="213.50" width="4.00" height="4.00" fill="#b30f2a" />
<rect x="435.81" y="210.13" width="4.00" height="4.00" fill="#b30f2a" />
<rect x="451.68" y="217.99" width="4.00" height="4.00" fill="#b30f2a" />
<rect x="467.55" y="217.99" width="4.00" height="4.00" fill="#b30f2a" />
<rect x="483.42" y="216.31" width="4.00" height="4.00" fill="#b30f2a" />
<line x1="382.50" y1="248.20" x2="396.90" y2="248.20" stroke="#1d4f86" stroke-width="1.3" />
<circle cx="389.70" cy="248.20" r="2.1" fill="#173c66"/>
<text x="400.5" y="250.29999999999998" font-size="7.7" text-anchor="start" font-weight="normal" fill="#222"  stroke="#222" stroke-width="0.18">WT</text>
<line x1="382.50" y1="259.30" x2="396.90" y2="259.30" stroke="#c41a33" stroke-width="1.3" />
<rect x="387.70" y="257.30" width="4.00" height="4.00" fill="#b30f2a" />
<text x="400.5" y="261.40000000000003" font-size="7.7" text-anchor="start" font-weight="normal" fill="#222"  stroke="#222" stroke-width="0.18">G1s</text>
<rect x="419.30" y="259.50" width="1.90" height="1.50" fill="#333" />
<rect x="422.20" y="259.50" width="1.90" height="1.50" fill="#333" />
<rect x="425.10" y="259.50" width="1.90" height="1.50" fill="#333" />
<rect x="428.00" y="259.50" width="1.90" height="1.50" fill="#333" />
<line x1="34.40" y1="342.50" x2="34.40" y2="436.50" stroke="#222" stroke-width="1.25" />
<line x1="33.80" y1="435.90" x2="126.50" y2="435.90" stroke="#222" stroke-width="1.25" />
<line x1="31.20" y1="435.90" x2="34.40" y2="435.90" stroke="#222" stroke-width="1" />
<text x="28.599999999999998" y="438.9" font-size="8.6" text-anchor="end" font-weight="normal" fill="#1a1a1a"  stroke="#1a1a1a" stroke-width="0.18">0</text>
<line x1="31.20" y1="413.00" x2="34.40" y2="413.00" stroke="#222" stroke-width="1" />
<text x="28.599999999999998" y="416.0" font-size="8.6" text-anchor="end" font-weight="normal" fill="#1a1a1a"  stroke="#1a1a1a" stroke-width="0.18">100</text>
<line x1="31.20" y1="390.10" x2="34.40" y2="390.10" stroke="#222" stroke-width="1" />
<text x="28.599999999999998" y="393.09999999999997" font-size="8.6" text-anchor="end" font-weight="normal" fill="#1a1a1a"  stroke="#1a1a1a" stroke-width="0.18">200</text>
<line x1="31.20" y1="367.20" x2="34.40" y2="367.20" stroke="#222" stroke-width="1" />
<text x="28.599999999999998" y="370.2" font-size="8.6" text-anchor="end" font-weight="normal" fill="#1a1a1a"  stroke="#1a1a1a" stroke-width="0.18">300</text>
<line x1="31.20" y1="344.30" x2="34.40" y2="344.30" stroke="#222" stroke-width="1" />
<text x="28.599999999999998" y="347.29999999999995" font-size="8.6" text-anchor="end" font-weight="normal" fill="#1a1a1a"  stroke="#1a1a1a" stroke-width="0.18">400</text>
<line x1="57.30" y1="435.90" x2="57.30" y2="438.40" stroke="#222" stroke-width="1" />
<text x="57.3" y="448.9" font-size="8.5" text-anchor="middle" font-weight="normal" fill="#222"  stroke="#222" stroke-width="0.18">WT</text>
<line x1="104.20" y1="435.90" x2="104.20" y2="438.40" stroke="#222" stroke-width="1" />
<text x="104.2" y="448.9" font-size="8.5" text-anchor="middle" font-weight="normal" fill="#222"  stroke="#222" stroke-width="0.18">G1s</text>
<text x="0" y="0" transform="translate(9.6,389.0) rotate(-90) scale(0.74,1)" font-size="9.4" text-anchor="middle" font-weight="normal" fill="#222" stroke="#222" stroke-width="0.3">EPO pg/mL (PB)</text>
<polyline points="56.5,365.3 56.5,342.6 104.3,342.6 104.3,365.3" fill="none" stroke="#555" stroke-width="0.9"/>
<circle cx="78.7" cy="337.7" r="1.1" fill="#222"/>
<circle cx="81.89999999999999" cy="337.7" r="1.1" fill="#222"/>
<line x1="41.70" y1="419.41" x2="73.20" y2="419.41" stroke="#1d4f86" stroke-width="1.1" />
<line x1="57.30" y1="429.03" x2="57.30" y2="409.56" stroke="#1d4f86" stroke-width="1.1" />
<line x1="49.30" y1="409.56" x2="65.40" y2="409.56" stroke="#1d4f86" stroke-width="1.1" />
<line x1="49.30" y1="429.03" x2="65.40" y2="429.03" stroke="#1d4f86" stroke-width="1.1" />
<circle cx="57.30" cy="405.44" r="1.5" fill="#1d4f86"/>
<circle cx="55.10" cy="414.14" r="1.5" fill="#1d4f86"/>
<circle cx="59.70" cy="417.58" r="1.5" fill="#1d4f86"/>
<circle cx="51.20" cy="429.49" r="1.5" fill="#1d4f86"/>
<circle cx="57.30" cy="429.49" r="1.5" fill="#1d4f86"/>
<circle cx="63.40" cy="429.49" r="1.5" fill="#1d4f86"/>
<line x1="88.80" y1="394.68" x2="119.80" y2="394.68" stroke="#c82a52" stroke-width="1.1" />
<line x1="104.20" y1="413.00" x2="104.20" y2="376.36" stroke="#c82a52" stroke-width="1.1" />
<line x1="96.40" y1="376.36" x2="112.30" y2="376.36" stroke="#c82a52" stroke-width="1.1" />
<line x1="96.40" y1="413.00" x2="112.30" y2="413.00" stroke="#c82a52" stroke-width="1.1" />
<rect x="102.80" y="369.01" width="2.80" height="2.80" fill="#b40c36" />
<rect x="102.80" y="376.33" width="2.80" height="2.80" fill="#b40c36" />
<rect x="100.40" y="386.41" width="2.80" height="2.80" fill="#b40c36" />
<rect x="105.40" y="383.20" width="2.80" height="2.80" fill="#b40c36" />
<rect x="102.80" y="397.40" width="2.80" height="2.80" fill="#b40c36" />
<rect x="100.40" y="404.73" width="2.80" height="2.80" fill="#b40c36" />
<rect x="105.40" y="406.10" width="2.80" height="2.80" fill="#b40c36" />
<rect x="102.80" y="425.34" width="2.80" height="2.80" fill="#b40c36" />
<defs><filter id="fb" x="-20%" y="-20%" width="140%" height="140%"><feGaussianBlur stdDeviation="0.3"/></filter><filter id="fb2" x="-50%" y="-50%" width="200%" height="200%"><feGaussianBlur stdDeviation="1.0"/></filter></defs>
<rect x="172.40" y="338.00" width="99.00" height="98.00" fill="#fff" stroke="#c8c8c8" stroke-width="1"/>
<text x="168.8" y="350.2" font-size="6.9" text-anchor="end" fill="#333">10<tspan font-size="4.28" dy="-3">5</tspan></text>
<line x1="170.20" y1="347.90" x2="172.40" y2="347.90" stroke="#333" stroke-width="0.8" />
<text x="168.8" y="372.6" font-size="6.9" text-anchor="end" fill="#333">10<tspan font-size="4.28" dy="-3">4</tspan></text>
<line x1="170.20" y1="370.30" x2="172.40" y2="370.30" stroke="#333" stroke-width="0.8" />
<text x="168.8" y="398.8" font-size="6.9" text-anchor="end" fill="#333">10<tspan font-size="4.28" dy="-3">3</tspan></text>
<line x1="170.20" y1="396.50" x2="172.40" y2="396.50" stroke="#333" stroke-width="0.8" />
<text x="167.4" y="416.0" font-size="6.9" text-anchor="end" font-weight="normal" fill="#333"  stroke="#333" stroke-width="0.18">0</text>
<line x1="170.20" y1="413.50" x2="172.40" y2="413.50" stroke="#333" stroke-width="0.8" />
<text x="168.8" y="433.7" font-size="6.9" text-anchor="end" fill="#333">−10<tspan font-size="4.28" dy="-3">3</tspan></text>
<line x1="170.20" y1="431.40" x2="172.40" y2="431.40" stroke="#333" stroke-width="0.8" />
<line x1="171.20" y1="363.56" x2="172.40" y2="363.56" stroke="#555" stroke-width="0.5" />
<line x1="171.20" y1="359.61" x2="172.40" y2="359.61" stroke="#555" stroke-width="0.5" />
<line x1="171.20" y1="356.81" x2="172.40" y2="356.81" stroke="#555" stroke-width="0.5" />
<line x1="171.20" y1="354.64" x2="172.40" y2="354.64" stroke="#555" stroke-width="0.5" />
<line x1="171.20" y1="352.87" x2="172.40" y2="352.87" stroke="#555" stroke-width="0.5" />
<line x1="171.20" y1="351.37" x2="172.40" y2="351.37" stroke="#555" stroke-width="0.5" />
<line x1="171.20" y1="350.07" x2="172.40" y2="350.07" stroke="#555" stroke-width="0.5" />
<line x1="171.20" y1="348.92" x2="172.40" y2="348.92" stroke="#555" stroke-width="0.5" />
<line x1="171.20" y1="388.61" x2="172.40" y2="388.61" stroke="#555" stroke-width="0.5" />
<line x1="171.20" y1="384.00" x2="172.40" y2="384.00" stroke="#555" stroke-width="0.5" />
<line x1="171.20" y1="380.73" x2="172.40" y2="380.73" stroke="#555" stroke-width="0.5" />
<line x1="171.20" y1="378.19" x2="172.40" y2="378.19" stroke="#555" stroke-width="0.5" />
<line x1="171.20" y1="376.11" x2="172.40" y2="376.11" stroke="#555" stroke-width="0.5" />
<line x1="171.20" y1="374.36" x2="172.40" y2="374.36" stroke="#555" stroke-width="0.5" />
<line x1="171.20" y1="372.84" x2="172.40" y2="372.84" stroke="#555" stroke-width="0.5" />
<line x1="171.20" y1="371.50" x2="172.40" y2="371.50" stroke="#555" stroke-width="0.5" />
<line x1="171.20" y1="399.00" x2="172.40" y2="399.00" stroke="#555" stroke-width="0.5" />
<line x1="171.20" y1="401.00" x2="172.40" y2="401.00" stroke="#555" stroke-width="0.5" />
<line x1="171.20" y1="403.00" x2="172.40" y2="403.00" stroke="#555" stroke-width="0.5" />
<line x1="171.20" y1="405.00" x2="172.40" y2="405.00" stroke="#555" stroke-width="0.5" />
<line x1="171.20" y1="407.00" x2="172.40" y2="407.00" stroke="#555" stroke-width="0.5" />
<line x1="171.20" y1="409.00" x2="172.40" y2="409.00" stroke="#555" stroke-width="0.5" />
<line x1="171.20" y1="410.50" x2="172.40" y2="410.50" stroke="#555" stroke-width="0.5" />
<line x1="171.20" y1="412.00" x2="172.40" y2="412.00" stroke="#555" stroke-width="0.5" />
<line x1="171.20" y1="413.00" x2="172.40" y2="413.00" stroke="#555" stroke-width="0.5" />
<line x1="171.20" y1="414.00" x2="172.40" y2="414.00" stroke="#555" stroke-width="0.5" />
<line x1="171.20" y1="415.00" x2="172.40" y2="415.00" stroke="#555" stroke-width="0.5" />
<line x1="171.20" y1="416.50" x2="172.40" y2="416.50" stroke="#555" stroke-width="0.5" />
<line x1="171.20" y1="418.00" x2="172.40" y2="418.00" stroke="#555" stroke-width="0.5" />
<line x1="171.20" y1="420.00" x2="172.40" y2="420.00" stroke="#555" stroke-width="0.5" />
<line x1="171.20" y1="422.00" x2="172.40" y2="422.00" stroke="#555" stroke-width="0.5" />
<line x1="171.20" y1="424.00" x2="172.40" y2="424.00" stroke="#555" stroke-width="0.5" />
<line x1="171.20" y1="426.00" x2="172.40" y2="426.00" stroke="#555" stroke-width="0.5" />
<line x1="171.20" y1="428.00" x2="172.40" y2="428.00" stroke="#555" stroke-width="0.5" />
<rect x="170.70" y="410.80" width="1.70" height="5.40" fill="#222" />
<line x1="176.80" y1="436.00" x2="176.80" y2="438.20" stroke="#333" stroke-width="0.8" />
<line x1="195.00" y1="436.00" x2="195.00" y2="438.20" stroke="#333" stroke-width="0.8" />
<line x1="210.80" y1="436.00" x2="210.80" y2="438.20" stroke="#333" stroke-width="0.8" />
<line x1="238.70" y1="436.00" x2="238.70" y2="438.20" stroke="#333" stroke-width="0.8" />
<line x1="261.30" y1="436.00" x2="261.30" y2="438.20" stroke="#333" stroke-width="0.8" />
<line x1="219.20" y1="436.00" x2="219.20" y2="437.30" stroke="#555" stroke-width="0.5" />
<line x1="224.11" y1="436.00" x2="224.11" y2="437.30" stroke="#555" stroke-width="0.5" />
<line x1="227.60" y1="436.00" x2="227.60" y2="437.30" stroke="#555" stroke-width="0.5" />
<line x1="230.30" y1="436.00" x2="230.30" y2="437.30" stroke="#555" stroke-width="0.5" />
<line x1="232.51" y1="436.00" x2="232.51" y2="437.30" stroke="#555" stroke-width="0.5" />
<line x1="234.38" y1="436.00" x2="234.38" y2="437.30" stroke="#555" stroke-width="0.5" />
<line x1="236.00" y1="436.00" x2="236.00" y2="437.30" stroke="#555" stroke-width="0.5" />
<line x1="237.42" y1="436.00" x2="237.42" y2="437.30" stroke="#555" stroke-width="0.5" />
<line x1="245.50" y1="436.00" x2="245.50" y2="437.30" stroke="#555" stroke-width="0.5" />
<line x1="249.48" y1="436.00" x2="249.48" y2="437.30" stroke="#555" stroke-width="0.5" />
<line x1="252.31" y1="436.00" x2="252.31" y2="437.30" stroke="#555" stroke-width="0.5" />
<line x1="254.50" y1="436.00" x2="254.50" y2="437.30" stroke="#555" stroke-width="0.5" />
<line x1="256.29" y1="436.00" x2="256.29" y2="437.30" stroke="#555" stroke-width="0.5" />
<line x1="257.80" y1="436.00" x2="257.80" y2="437.30" stroke="#555" stroke-width="0.5" />
<line x1="259.11" y1="436.00" x2="259.11" y2="437.30" stroke="#555" stroke-width="0.5" />
<line x1="260.27" y1="436.00" x2="260.27" y2="437.30" stroke="#555" stroke-width="0.5" />
<line x1="180.40" y1="436.00" x2="180.40" y2="437.30" stroke="#555" stroke-width="0.5" />
<line x1="183.40" y1="436.00" x2="183.40" y2="437.30" stroke="#555" stroke-width="0.5" />
<line x1="185.90" y1="436.00" x2="185.90" y2="437.30" stroke="#555" stroke-width="0.5" />
<line x1="187.90" y1="436.00" x2="187.90" y2="437.30" stroke="#555" stroke-width="0.5" />
<line x1="189.90" y1="436.00" x2="189.90" y2="437.30" stroke="#555" stroke-width="0.5" />
<line x1="191.40" y1="436.00" x2="191.40" y2="437.30" stroke="#555" stroke-width="0.5" />
<line x1="192.90" y1="436.00" x2="192.90" y2="437.30" stroke="#555" stroke-width="0.5" />
<line x1="193.90" y1="436.00" x2="193.90" y2="437.30" stroke="#555" stroke-width="0.5" />
<line x1="195.90" y1="436.00" x2="195.90" y2="437.30" stroke="#555" stroke-width="0.5" />
<line x1="196.90" y1="436.00" x2="196.90" y2="437.30" stroke="#555" stroke-width="0.5" />
<line x1="198.40" y1="436.00" x2="198.40" y2="437.30" stroke="#555" stroke-width="0.5" />
<line x1="200.40" y1="436.00" x2="200.40" y2="437.30" stroke="#555" stroke-width="0.5" />
<line x1="202.40" y1="436.00" x2="202.40" y2="437.30" stroke="#555" stroke-width="0.5" />
<line x1="204.90" y1="436.00" x2="204.90" y2="437.30" stroke="#555" stroke-width="0.5" />
<line x1="207.40" y1="436.00" x2="207.40" y2="437.30" stroke="#555" stroke-width="0.5" />
<rect x="192.00" y="436.00" width="5.50" height="1.70" fill="#222" />
<text x="182.3" y="446.1" font-size="6.9" text-anchor="end" fill="#333">−10<tspan font-size="4.28" dy="-3">3</tspan></text>
<text x="195.0" y="446.1" font-size="6.9" text-anchor="middle" font-weight="normal" fill="#333"  stroke="#333" stroke-width="0.18">0</text>
<text x="215.8" y="446.1" font-size="6.9" text-anchor="end" fill="#333">10<tspan font-size="4.28" dy="-3">3</tspan></text>
<text x="243.89999999999998" y="446.1" font-size="6.9" text-anchor="end" fill="#333">10<tspan font-size="4.28" dy="-3">4</tspan></text>
<text x="266.3" y="446.1" font-size="6.9" text-anchor="end" fill="#333">10<tspan font-size="4.28" dy="-3">5</tspan></text>
<text x="175.20000000000002" y="347.3" font-size="8.5" text-anchor="start" font-weight="normal" fill="#222" stroke="#222" stroke-width="0.05">WT</text>
<g filter="url(#fb)">
<ellipse cx="226.4" cy="357.8" rx="3.0" ry="2.8" fill="#3a62cc" fill-opacity="0.45" filter="url(#fb2)"/>
<path d="M225.2,361 L227.6,361 L229.4,405 L223.4,405 Z" fill="#3a60c8" fill-opacity="0.25" filter="url(#fb2)"/>
<path d="M223.4 362.8h0.75v0.75h-0.75zM229.0 359.0h0.75v0.75h-0.75zM220.2 356.9h0.75v0.75h-0.75zM231.1 353.0h0.75v0.75h-0.75zM232.3 356.1h0.75v0.75h-0.75zM229.2 357.0h0.75v0.75h-0.75zM228.4 361.7h0.75v0.75h-0.75zM225.6 363.0h0.75v0.75h-0.75zM223.9 354.2h0.75v0.75h-0.75zM230.6 353.8h0.75v0.75h-0.75zM225.7 360.7h0.75v0.75h-0.75zM232.8 351.3h0.75v0.75h-0.75zM229.7 364.1h0.75v0.75h-0.75zM232.8 356.7h0.75v0.75h-0.75zM224.7 356.5h0.75v0.75h-0.75zM222.2 356.6h0.75v0.75h-0.75zM226.6 357.0h0.75v0.75h-0.75zM232.7 356.7h0.75v0.75h-0.75zM220.8 361.2h0.75v0.75h-0.75zM222.6 355.9h0.75v0.75h-0.75zM226.8 356.3h0.75v0.75h-0.75zM222.9 356.6h0.75v0.75h-0.75zM237.2 355.4h0.75v0.75h-0.75zM226.8 361.4h0.75v0.75h-0.75zM230.8 360.2h0.75v0.75h-0.75zM231.3 350.6h0.75v0.75h-0.75zM223.5 357.9h0.75v0.75h-0.75zM229.6 362.0h0.75v0.75h-0.75zM229.5 356.7h0.75v0.75h-0.75zM227.6 356.8h0.75v0.75h-0.75zM228.5 359.9h0.75v0.75h-0.75zM225.9 354.7h0.75v0.75h-0.75zM223.6 361.3h0.75v0.75h-0.75zM233.2 361.0h0.75v0.75h-0.75zM231.3 360.4h0.75v0.75h-0.75zM227.4 359.8h0.75v0.75h-0.75zM222.7 356.8h0.75v0.75h-0.75zM224.1 360.0h0.75v0.75h-0.75zM224.8 357.1h0.75v0.75h-0.75zM229.2 362.2h0.75v0.75h-0.75zM223.8 354.2h0.75v0.75h-0.75zM231.1 353.6h0.75v0.75h-0.75zM229.4 355.5h0.75v0.75h-0.75zM226.9 351.1h0.75v0.75h-0.75zM230.6 355.7h0.75v0.75h-0.75zM223.4 364.8h0.75v0.75h-0.75zM230.6 369.8h0.75v0.75h-0.75zM229.2 356.3h0.75v0.75h-0.75zM227.9 363.1h0.75v0.75h-0.75zM227.3 359.1h0.75v0.75h-0.75zM229.7 354.3h0.75v0.75h-0.75zM228.0 355.7h0.75v0.75h-0.75zM221.8 360.6h0.75v0.75h-0.75zM230.4 357.8h0.75v0.75h-0.75zM223.3 350.5h0.75v0.75h-0.75zM229.6 357.2h0.75v0.75h-0.75zM219.8 357.3h0.75v0.75h-0.75zM220.6 357.4h0.75v0.75h-0.75zM228.0 358.7h0.75v0.75h-0.75zM228.4 358.1h0.75v0.75h-0.75zM222.3 356.2h0.75v0.75h-0.75zM225.1 356.7h0.75v0.75h-0.75zM228.6 359.7h0.75v0.75h-0.75zM234.8 348.5h0.75v0.75h-0.75zM229.2 356.8h0.75v0.75h-0.75zM237.6 360.8h0.75v0.75h-0.75zM220.0 358.9h0.75v0.75h-0.75zM225.1 361.0h0.75v0.75h-0.75zM222.7 357.1h0.75v0.75h-0.75zM226.8 357.2h0.75v0.75h-0.75zM224.8 351.1h0.75v0.75h-0.75zM229.5 361.0h0.75v0.75h-0.75zM227.1 353.9h0.75v0.75h-0.75zM228.3 359.5h0.75v0.75h-0.75zM226.6 357.5h0.75v0.75h-0.75zM233.7 353.6h0.75v0.75h-0.75zM224.9 350.8h0.75v0.75h-0.75zM224.3 354.9h0.75v0.75h-0.75zM223.1 355.1h0.75v0.75h-0.75zM235.5 356.8h0.75v0.75h-0.75zM226.9 365.2h0.75v0.75h-0.75zM227.1 351.4h0.75v0.75h-0.75zM229.2 354.2h0.75v0.75h-0.75zM234.8 353.1h0.75v0.75h-0.75zM224.8 351.9h0.75v0.75h-0.75zM227.8 353.9h0.75v0.75h-0.75zM227.1 356.2h0.75v0.75h-0.75zM224.6 360.8h0.75v0.75h-0.75zM231.6 357.7h0.75v0.75h-0.75zM223.3 353.8h0.75v0.75h-0.75zM228.6 365.9h0.75v0.75h-0.75zM225.3 354.8h0.75v0.75h-0.75zM224.3 353.7h0.75v0.75h-0.75zM223.0 356.8h0.75v0.75h-0.75zM233.9 357.5h0.75v0.75h-0.75zM225.1 351.8h0.75v0.75h-0.75zM228.4 357.4h0.75v0.75h-0.75zM221.9 353.7h0.75v0.75h-0.75zM227.2 361.0h0.75v0.75h-0.75zM230.2 358.2h0.75v0.75h-0.75zM225.9 358.6h0.75v0.75h-0.75zM227.3 365.1h0.75v0.75h-0.75zM222.3 356.2h0.75v0.75h-0.75zM233.1 356.6h0.75v0.75h-0.75zM233.8 357.3h0.75v0.75h-0.75zM228.1 356.2h0.75v0.75h-0.75zM221.2 354.1h0.75v0.75h-0.75zM237.4 359.8h0.75v0.75h-0.75zM230.1 360.8h0.75v0.75h-0.75zM230.0 361.1h0.75v0.75h-0.75zM226.2 356.7h0.75v0.75h-0.75zM231.8 356.3h0.75v0.75h-0.75zM221.4 356.7h0.75v0.75h-0.75zM224.9 359.6h0.75v0.75h-0.75zM224.2 353.8h0.75v0.75h-0.75zM225.9 362.9h0.75v0.75h-0.75zM227.2 358.1h0.75v0.75h-0.75zM227.4 358.5h0.75v0.75h-0.75zM231.6 362.4h0.75v0.75h-0.75zM220.0 362.3h0.75v0.75h-0.75zM239.5 394.2h0.75v0.75h-0.75zM232.2 402.6h0.75v0.75h-0.75zM228.4 365.2h0.75v0.75h-0.75zM224.8 382.5h0.75v0.75h-0.75zM227.4 403.8h0.75v0.75h-0.75zM233.7 402.3h0.75v0.75h-0.75zM215.3 393.1h0.75v0.75h-0.75zM229.6 397.1h0.75v0.75h-0.75zM230.8 388.0h0.75v0.75h-0.75zM229.7 381.6h0.75v0.75h-0.75zM229.4 370.8h0.75v0.75h-0.75zM227.4 367.3h0.75v0.75h-0.75zM225.0 381.0h0.75v0.75h-0.75zM224.1 373.3h0.75v0.75h-0.75zM221.3 387.0h0.75v0.75h-0.75zM229.7 384.8h0.75v0.75h-0.75zM236.0 404.9h0.75v0.75h-0.75zM225.4 372.3h0.75v0.75h-0.75zM229.6 366.9h0.75v0.75h-0.75zM222.7 388.9h0.75v0.75h-0.75zM226.1 377.4h0.75v0.75h-0.75zM232.3 386.3h0.75v0.75h-0.75zM222.7 387.4h0.75v0.75h-0.75zM223.5 370.2h0.75v0.75h-0.75zM232.3 372.7h0.75v0.75h-0.75zM225.7 399.8h0.75v0.75h-0.75zM228.1 363.7h0.75v0.75h-0.75zM227.7 380.3h0.75v0.75h-0.75zM230.7 388.8h0.75v0.75h-0.75zM228.1 365.1h0.75v0.75h-0.75zM225.2 365.7h0.75v0.75h-0.75zM222.5 389.1h0.75v0.75h-0.75zM224.7 378.0h0.75v0.75h-0.75zM226.9 376.8h0.75v0.75h-0.75zM227.9 394.0h0.75v0.75h-0.75zM225.7 367.2h0.75v0.75h-0.75zM221.3 396.8h0.75v0.75h-0.75zM223.6 371.2h0.75v0.75h-0.75zM226.5 380.2h0.75v0.75h-0.75zM232.0 377.9h0.75v0.75h-0.75zM230.4 390.1h0.75v0.75h-0.75zM226.6 385.6h0.75v0.75h-0.75zM231.1 394.1h0.75v0.75h-0.75zM225.2 377.9h0.75v0.75h-0.75zM227.1 366.2h0.75v0.75h-0.75zM225.8 365.6h0.75v0.75h-0.75zM221.4 386.3h0.75v0.75h-0.75zM227.0 374.9h0.75v0.75h-0.75zM229.8 395.3h0.75v0.75h-0.75zM228.2 390.5h0.75v0.75h-0.75zM225.3 365.5h0.75v0.75h-0.75zM233.2 391.8h0.75v0.75h-0.75zM228.2 374.2h0.75v0.75h-0.75zM230.1 393.2h0.75v0.75h-0.75zM230.1 377.8h0.75v0.75h-0.75zM230.7 386.5h0.75v0.75h-0.75zM237.9 401.5h0.75v0.75h-0.75zM224.2 380.8h0.75v0.75h-0.75zM225.7 396.5h0.75v0.75h-0.75zM229.2 379.2h0.75v0.75h-0.75zM230.3 402.2h0.75v0.75h-0.75zM225.3 377.6h0.75v0.75h-0.75zM224.8 377.7h0.75v0.75h-0.75zM229.0 378.7h0.75v0.75h-0.75zM222.5 370.4h0.75v0.75h-0.75zM224.4 385.2h0.75v0.75h-0.75zM224.3 398.0h0.75v0.75h-0.75zM225.9 394.6h0.75v0.75h-0.75zM226.9 399.9h0.75v0.75h-0.75zM227.5 384.2h0.75v0.75h-0.75zM218.5 385.4h0.75v0.75h-0.75zM222.7 390.0h0.75v0.75h-0.75zM232.4 396.6h0.75v0.75h-0.75zM229.3 395.9h0.75v0.75h-0.75zM229.7 365.6h0.75v0.75h-0.75zM231.3 400.7h0.75v0.75h-0.75zM225.6 365.6h0.75v0.75h-0.75zM225.2 394.1h0.75v0.75h-0.75zM227.0 389.9h0.75v0.75h-0.75zM230.2 394.9h0.75v0.75h-0.75zM227.1 384.4h0.75v0.75h-0.75zM223.9 376.5h0.75v0.75h-0.75zM224.2 403.6h0.75v0.75h-0.75zM223.2 385.1h0.75v0.75h-0.75zM224.5 393.0h0.75v0.75h-0.75zM220.2 379.7h0.75v0.75h-0.75zM222.4 397.5h0.75v0.75h-0.75zM219.1 396.7h0.75v0.75h-0.75zM236.3 397.9h0.75v0.75h-0.75zM220.6 389.5h0.75v0.75h-0.75zM225.3 384.5h0.75v0.75h-0.75zM221.4 380.1h0.75v0.75h-0.75zM229.8 380.1h0.75v0.75h-0.75zM234.6 404.6h0.75v0.75h-0.75zM227.7 378.1h0.75v0.75h-0.75zM228.6 380.3h0.75v0.75h-0.75zM227.6 374.6h0.75v0.75h-0.75zM226.5 375.3h0.75v0.75h-0.75zM224.1 366.9h0.75v0.75h-0.75zM223.2 369.7h0.75v0.75h-0.75zM223.6 364.7h0.75v0.75h-0.75zM228.9 401.1h0.75v0.75h-0.75zM227.5 363.6h0.75v0.75h-0.75zM227.6 371.3h0.75v0.75h-0.75zM225.9 372.1h0.75v0.75h-0.75zM223.3 371.6h0.75v0.75h-0.75zM226.3 370.0h0.75v0.75h-0.75zM229.7 394.6h0.75v0.75h-0.75zM221.8 375.4h0.75v0.75h-0.75zM225.0 382.6h0.75v0.75h-0.75zM231.0 373.2h0.75v0.75h-0.75zM222.6 376.7h0.75v0.75h-0.75zM230.7 385.5h0.75v0.75h-0.75zM225.8 371.5h0.75v0.75h-0.75zM230.2 364.1h0.75v0.75h-0.75zM225.0 378.6h0.75v0.75h-0.75zM224.1 384.7h0.75v0.75h-0.75zM226.7 404.6h0.75v0.75h-0.75zM227.0 390.3h0.75v0.75h-0.75zM227.3 382.3h0.75v0.75h-0.75zM228.0 378.0h0.75v0.75h-0.75zM221.2 388.1h0.75v0.75h-0.75zM227.7 368.8h0.75v0.75h-0.75zM228.5 373.2h0.75v0.75h-0.75zM220.0 399.4h0.75v0.75h-0.75zM226.4 404.7h0.75v0.75h-0.75zM225.2 373.5h0.75v0.75h-0.75zM226.5 395.1h0.75v0.75h-0.75zM228.2 362.1h0.75v0.75h-0.75zM218.8 397.3h0.75v0.75h-0.75zM226.0 365.5h0.75v0.75h-0.75zM230.1 366.2h0.75v0.75h-0.75zM218.8 382.6h0.75v0.75h-0.75zM228.7 387.2h0.75v0.75h-0.75zM224.2 398.9h0.75v0.75h-0.75zM231.8 379.9h0.75v0.75h-0.75zM235.4 401.4h0.75v0.75h-0.75zM229.1 371.0h0.75v0.75h-0.75zM224.8 385.4h0.75v0.75h-0.75zM226.6 397.8h0.75v0.75h-0.75zM226.2 375.4h0.75v0.75h-0.75zM227.7 375.1h0.75v0.75h-0.75zM226.1 382.1h0.75v0.75h-0.75zM223.2 391.5h0.75v0.75h-0.75zM224.5 366.5h0.75v0.75h-0.75zM231.0 403.6h0.75v0.75h-0.75zM226.6 397.7h0.75v0.75h-0.75zM226.3 378.2h0.75v0.75h-0.75zM227.4 392.5h0.75v0.75h-0.75zM230.9 381.7h0.75v0.75h-0.75zM230.4 362.5h0.75v0.75h-0.75zM226.3 370.9h0.75v0.75h-0.75zM226.0 388.5h0.75v0.75h-0.75zM230.1 385.2h0.75v0.75h-0.75zM225.2 374.8h0.75v0.75h-0.75zM230.4 390.7h0.75v0.75h-0.75zM227.9 373.0h0.75v0.75h-0.75zM231.0 376.2h0.75v0.75h-0.75zM219.2 402.6h0.75v0.75h-0.75zM224.9 376.3h0.75v0.75h-0.75zM229.3 397.6h0.75v0.75h-0.75zM227.2 366.1h0.75v0.75h-0.75zM226.3 391.1h0.75v0.75h-0.75zM224.9 379.3h0.75v0.75h-0.75zM225.3 398.0h0.75v0.75h-0.75zM226.0 371.7h0.75v0.75h-0.75zM228.3 368.8h0.75v0.75h-0.75zM228.1 365.1h0.75v0.75h-0.75zM221.5 401.6h0.75v0.75h-0.75zM229.0 389.8h0.75v0.75h-0.75zM228.9 395.0h0.75v0.75h-0.75zM224.2 376.3h0.75v0.75h-0.75zM229.8 379.7h0.75v0.75h-0.75zM227.4 392.1h0.75v0.75h-0.75zM229.2 404.2h0.75v0.75h-0.75zM221.5 388.2h0.75v0.75h-0.75zM225.4 362.8h0.75v0.75h-0.75zM230.1 390.0h0.75v0.75h-0.75zM224.5 366.6h0.75v0.75h-0.75zM230.8 395.9h0.75v0.75h-0.75zM224.9 397.5h0.75v0.75h-0.75zM225.3 395.0h0.75v0.75h-0.75zM222.5 400.8h0.75v0.75h-0.75zM225.9 383.5h0.75v0.75h-0.75zM224.9 368.1h0.75v0.75h-0.75zM217.0 384.2h0.75v0.75h-0.75zM228.4 392.8h0.75v0.75h-0.75zM224.1 402.6h0.75v0.75h-0.75zM227.4 389.0h0.75v0.75h-0.75zM227.6 372.5h0.75v0.75h-0.75zM225.8 386.8h0.75v0.75h-0.75zM222.7 401.9h0.75v0.75h-0.75zM225.2 377.5h0.75v0.75h-0.75zM227.8 403.9h0.75v0.75h-0.75zM228.9 367.8h0.75v0.75h-0.75zM224.3 386.1h0.75v0.75h-0.75zM226.1 386.1h0.75v0.75h-0.75zM239.5 404.7h0.75v0.75h-0.75zM225.1 397.2h0.75v0.75h-0.75zM225.6 397.5h0.75v0.75h-0.75zM228.2 374.4h0.75v0.75h-0.75zM225.2 386.7h0.75v0.75h-0.75zM229.4 397.7h0.75v0.75h-0.75zM229.1 365.3h0.75v0.75h-0.75zM229.2 363.4h0.75v0.75h-0.75zM241.5 402.4h0.75v0.75h-0.75zM224.8 390.3h0.75v0.75h-0.75zM233.1 393.7h0.75v0.75h-0.75zM222.2 378.4h0.75v0.75h-0.75zM224.2 362.7h0.75v0.75h-0.75zM225.2 370.6h0.75v0.75h-0.75zM227.0 378.6h0.75v0.75h-0.75zM228.9 386.5h0.75v0.75h-0.75zM229.4 373.3h0.75v0.75h-0.75zM224.3 386.4h0.75v0.75h-0.75zM229.2 363.6h0.75v0.75h-0.75zM233.2 390.9h0.75v0.75h-0.75zM234.4 387.8h0.75v0.75h-0.75zM222.9 382.2h0.75v0.75h-0.75zM230.0 391.6h0.75v0.75h-0.75zM227.1 394.6h0.75v0.75h-0.75zM220.7 404.8h0.75v0.75h-0.75zM230.1 398.0h0.75v0.75h-0.75zM224.2 380.7h0.75v0.75h-0.75zM230.5 386.3h0.75v0.75h-0.75zM224.5 384.6h0.75v0.75h-0.75zM229.0 380.6h0.75v0.75h-0.75zM225.3 364.4h0.75v0.75h-0.75zM232.6 393.2h0.75v0.75h-0.75zM223.3 387.7h0.75v0.75h-0.75zM225.0 394.3h0.75v0.75h-0.75zM229.3 365.0h0.75v0.75h-0.75zM223.9 367.4h0.75v0.75h-0.75zM227.9 379.1h0.75v0.75h-0.75zM225.5 364.2h0.75v0.75h-0.75zM223.7 372.3h0.75v0.75h-0.75zM225.1 375.2h0.75v0.75h-0.75zM227.5 364.9h0.75v0.75h-0.75zM234.7 401.2h0.75v0.75h-0.75zM225.6 399.3h0.75v0.75h-0.75zM227.5 380.1h0.75v0.75h-0.75zM224.1 394.1h0.75v0.75h-0.75zM228.2 386.4h0.75v0.75h-0.75zM225.8 396.1h0.75v0.75h-0.75zM221.0 367.3h0.75v0.75h-0.75zM225.1 362.0h0.75v0.75h-0.75zM225.9 372.5h0.75v0.75h-0.75zM228.3 364.7h0.75v0.75h-0.75zM229.2 400.5h0.75v0.75h-0.75zM224.0 377.3h0.75v0.75h-0.75zM227.8 387.2h0.75v0.75h-0.75zM227.5 400.6h0.75v0.75h-0.75zM220.3 375.2h0.75v0.75h-0.75zM227.3 404.0h0.75v0.75h-0.75zM227.5 382.3h0.75v0.75h-0.75zM231.4 401.7h0.75v0.75h-0.75zM230.4 400.6h0.75v0.75h-0.75zM231.8 377.2h0.75v0.75h-0.75zM229.9 382.3h0.75v0.75h-0.75zM237.5 404.8h0.75v0.75h-0.75zM225.5 370.7h0.75v0.75h-0.75zM224.7 399.8h0.75v0.75h-0.75zM229.3 364.2h0.75v0.75h-0.75zM229.4 375.5h0.75v0.75h-0.75zM232.7 400.7h0.75v0.75h-0.75zM223.8 367.8h0.75v0.75h-0.75zM231.1 391.9h0.75v0.75h-0.75zM225.5 365.4h0.75v0.75h-0.75zM225.2 371.6h0.75v0.75h-0.75zM230.2 370.4h0.75v0.75h-0.75zM226.9 369.8h0.75v0.75h-0.75zM233.8 396.0h0.75v0.75h-0.75zM223.5 378.0h0.75v0.75h-0.75zM220.3 387.4h0.75v0.75h-0.75zM224.8 371.8h0.75v0.75h-0.75zM235.7 390.7h0.75v0.75h-0.75zM225.9 373.9h0.75v0.75h-0.75zM225.3 404.3h0.75v0.75h-0.75zM222.9 380.9h0.75v0.75h-0.75zM226.0 363.9h0.75v0.75h-0.75zM226.3 387.8h0.75v0.75h-0.75zM230.5 396.5h0.75v0.75h-0.75zM225.6 365.7h0.75v0.75h-0.75zM230.8 372.6h0.75v0.75h-0.75zM225.0 374.0h0.75v0.75h-0.75zM226.1 400.6h0.75v0.75h-0.75zM233.3 404.5h0.75v0.75h-0.75zM228.0 394.3h0.75v0.75h-0.75zM229.9 378.5h0.75v0.75h-0.75zM225.3 369.7h0.75v0.75h-0.75zM224.8 385.9h0.75v0.75h-0.75zM223.9 390.3h0.75v0.75h-0.75zM221.6 395.7h0.75v0.75h-0.75zM226.5 398.4h0.75v0.75h-0.75zM216.9 391.4h0.75v0.75h-0.75zM225.8 369.5h0.75v0.75h-0.75zM230.2 395.5h0.75v0.75h-0.75zM229.6 372.1h0.75v0.75h-0.75zM227.5 380.9h0.75v0.75h-0.75zM219.0 396.0h0.75v0.75h-0.75zM224.8 372.1h0.75v0.75h-0.75zM227.0 386.9h0.75v0.75h-0.75zM231.2 383.5h0.75v0.75h-0.75zM228.2 392.7h0.75v0.75h-0.75zM228.5 386.6h0.75v0.75h-0.75zM225.5 368.5h0.75v0.75h-0.75zM224.1 362.8h0.75v0.75h-0.75zM226.8 381.0h0.75v0.75h-0.75zM226.9 373.3h0.75v0.75h-0.75zM225.2 401.0h0.75v0.75h-0.75zM220.7 386.5h0.75v0.75h-0.75zM225.4 372.2h0.75v0.75h-0.75zM226.3 368.3h0.75v0.75h-0.75zM227.4 375.5h0.75v0.75h-0.75zM223.9 388.7h0.75v0.75h-0.75zM226.4 387.3h0.75v0.75h-0.75zM227.1 365.8h0.75v0.75h-0.75zM225.2 373.0h0.75v0.75h-0.75zM224.9 368.9h0.75v0.75h-0.75zM219.0 395.8h0.75v0.75h-0.75zM224.6 364.6h0.75v0.75h-0.75zM227.8 371.3h0.75v0.75h-0.75zM233.4 403.7h0.75v0.75h-0.75zM228.4 394.7h0.75v0.75h-0.75zM231.0 404.4h0.75v0.75h-0.75zM230.8 394.0h0.75v0.75h-0.75zM226.7 363.7h0.75v0.75h-0.75zM231.4 368.1h0.75v0.75h-0.75zM225.8 378.9h0.75v0.75h-0.75zM228.7 365.3h0.75v0.75h-0.75zM230.2 363.5h0.75v0.75h-0.75zM226.8 393.6h0.75v0.75h-0.75zM226.5 371.9h0.75v0.75h-0.75zM229.8 372.4h0.75v0.75h-0.75zM229.6 381.8h0.75v0.75h-0.75zM225.6 376.5h0.75v0.75h-0.75zM226.0 404.2h0.75v0.75h-0.75zM226.2 379.3h0.75v0.75h-0.75zM230.3 389.9h0.75v0.75h-0.75zM228.3 391.9h0.75v0.75h-0.75zM218.4 399.2h0.75v0.75h-0.75zM223.1 381.9h0.75v0.75h-0.75zM228.3 378.9h0.75v0.75h-0.75zM223.3 395.6h0.75v0.75h-0.75zM225.7 371.3h0.75v0.75h-0.75zM228.7 385.6h0.75v0.75h-0.75zM227.0 369.0h0.75v0.75h-0.75zM228.9 382.1h0.75v0.75h-0.75zM218.5 375.3h0.75v0.75h-0.75zM231.2 391.2h0.75v0.75h-0.75zM228.5 399.1h0.75v0.75h-0.75zM228.6 365.1h0.75v0.75h-0.75zM224.8 391.7h0.75v0.75h-0.75zM227.8 362.8h0.75v0.75h-0.75zM226.4 369.8h0.75v0.75h-0.75zM232.4 401.7h0.75v0.75h-0.75zM226.5 392.8h0.75v0.75h-0.75zM228.8 368.6h0.75v0.75h-0.75zM221.3 402.3h0.75v0.75h-0.75zM232.6 393.1h0.75v0.75h-0.75zM231.7 401.0h0.75v0.75h-0.75zM227.0 378.5h0.75v0.75h-0.75zM228.0 365.6h0.75v0.75h-0.75zM224.3 395.1h0.75v0.75h-0.75zM230.0 384.3h0.75v0.75h-0.75zM227.5 372.2h0.75v0.75h-0.75zM228.2 363.8h0.75v0.75h-0.75zM228.8 363.4h0.75v0.75h-0.75zM223.6 375.4h0.75v0.75h-0.75zM227.9 367.8h0.75v0.75h-0.75zM226.5 392.4h0.75v0.75h-0.75zM233.4 390.6h0.75v0.75h-0.75zM227.1 368.3h0.75v0.75h-0.75zM230.3 392.6h0.75v0.75h-0.75zM222.1 379.4h0.75v0.75h-0.75zM229.9 371.7h0.75v0.75h-0.75zM225.6 374.6h0.75v0.75h-0.75zM227.7 363.7h0.75v0.75h-0.75zM224.5 363.1h0.75v0.75h-0.75zM222.6 396.8h0.75v0.75h-0.75zM224.7 404.0h0.75v0.75h-0.75zM234.6 401.5h0.75v0.75h-0.75zM225.2 371.3h0.75v0.75h-0.75zM219.7 403.1h0.75v0.75h-0.75zM227.8 399.3h0.75v0.75h-0.75zM229.7 365.9h0.75v0.75h-0.75zM225.9 380.4h0.75v0.75h-0.75zM227.4 378.5h0.75v0.75h-0.75zM224.4 376.1h0.75v0.75h-0.75zM226.6 368.8h0.75v0.75h-0.75zM224.9 379.3h0.75v0.75h-0.75zM227.3 390.6h0.75v0.75h-0.75zM228.5 372.3h0.75v0.75h-0.75zM228.3 380.2h0.75v0.75h-0.75zM223.3 368.5h0.75v0.75h-0.75zM224.1 385.8h0.75v0.75h-0.75zM231.1 392.1h0.75v0.75h-0.75zM227.1 377.7h0.75v0.75h-0.75zM225.8 364.7h0.75v0.75h-0.75zM227.4 383.3h0.75v0.75h-0.75zM223.7 387.2h0.75v0.75h-0.75zM227.0 372.9h0.75v0.75h-0.75zM223.8 363.0h0.75v0.75h-0.75zM233.1 386.3h0.75v0.75h-0.75zM225.8 373.3h0.75v0.75h-0.75zM225.0 382.2h0.75v0.75h-0.75zM230.4 388.5h0.75v0.75h-0.75zM225.9 386.8h0.75v0.75h-0.75zM228.2 402.5h0.75v0.75h-0.75zM221.6 388.7h0.75v0.75h-0.75zM224.6 379.7h0.75v0.75h-0.75zM229.0 397.7h0.75v0.75h-0.75zM218.9 399.8h0.75v0.75h-0.75zM229.7 363.6h0.75v0.75h-0.75zM224.5 367.8h0.75v0.75h-0.75zM226.6 377.5h0.75v0.75h-0.75zM229.3 404.0h0.75v0.75h-0.75zM227.9 371.8h0.75v0.75h-0.75zM227.0 391.2h0.75v0.75h-0.75zM227.0 385.4h0.75v0.75h-0.75zM226.9 378.9h0.75v0.75h-0.75zM231.5 390.0h0.75v0.75h-0.75zM223.6 385.6h0.75v0.75h-0.75zM222.7 397.7h0.75v0.75h-0.75zM224.6 403.7h0.75v0.75h-0.75zM231.2 400.1h0.75v0.75h-0.75zM225.8 375.5h0.75v0.75h-0.75zM220.7 391.5h0.75v0.75h-0.75zM228.6 403.4h0.75v0.75h-0.75zM224.9 388.7h0.75v0.75h-0.75zM223.9 383.1h0.75v0.75h-0.75zM225.6 374.3h0.75v0.75h-0.75zM223.8 394.2h0.75v0.75h-0.75zM226.2 372.7h0.75v0.75h-0.75zM228.1 376.0h0.75v0.75h-0.75zM229.0 367.4h0.75v0.75h-0.75zM227.4 364.7h0.75v0.75h-0.75zM227.8 392.3h0.75v0.75h-0.75zM222.7 366.8h0.75v0.75h-0.75zM228.5 382.7h0.75v0.75h-0.75zM229.8 369.0h0.75v0.75h-0.75zM223.1 364.3h0.75v0.75h-0.75zM222.0 372.9h0.75v0.75h-0.75zM226.5 378.9h0.75v0.75h-0.75zM226.9 392.8h0.75v0.75h-0.75zM231.1 376.1h0.75v0.75h-0.75zM227.0 376.4h0.75v0.75h-0.75zM217.9 397.6h0.75v0.75h-0.75zM221.9 386.4h0.75v0.75h-0.75zM229.8 388.8h0.75v0.75h-0.75zM227.9 397.7h0.75v0.75h-0.75zM225.3 378.2h0.75v0.75h-0.75zM227.2 390.8h0.75v0.75h-0.75zM227.8 362.6h0.75v0.75h-0.75zM236.0 387.2h0.75v0.75h-0.75zM224.3 367.8h0.75v0.75h-0.75zM221.9 391.6h0.75v0.75h-0.75zM228.8 379.1h0.75v0.75h-0.75zM228.8 402.1h0.75v0.75h-0.75zM226.9 392.7h0.75v0.75h-0.75zM228.3 367.1h0.75v0.75h-0.75zM227.9 393.4h0.75v0.75h-0.75zM230.9 404.7h0.75v0.75h-0.75zM227.8 363.1h0.75v0.75h-0.75zM223.5 385.3h0.75v0.75h-0.75zM226.9 375.3h0.75v0.75h-0.75zM229.1 396.4h0.75v0.75h-0.75zM224.6 378.8h0.75v0.75h-0.75zM227.9 388.6h0.75v0.75h-0.75zM218.4 378.7h0.75v0.75h-0.75zM219.8 391.8h0.75v0.75h-0.75zM225.3 368.3h0.75v0.75h-0.75zM230.9 369.5h0.75v0.75h-0.75zM230.4 372.8h0.75v0.75h-0.75zM228.9 383.0h0.75v0.75h-0.75zM227.8 362.8h0.75v0.75h-0.75zM230.0 386.3h0.75v0.75h-0.75zM229.5 373.8h0.75v0.75h-0.75zM224.2 371.8h0.75v0.75h-0.75zM226.9 373.2h0.75v0.75h-0.75zM230.8 364.2h0.75v0.75h-0.75zM228.9 375.3h0.75v0.75h-0.75zM227.5 365.4h0.75v0.75h-0.75zM233.2 404.9h0.75v0.75h-0.75zM228.5 370.7h0.75v0.75h-0.75zM224.1 379.8h0.75v0.75h-0.75zM225.8 396.7h0.75v0.75h-0.75zM227.6 385.7h0.75v0.75h-0.75zM224.6 390.2h0.75v0.75h-0.75zM224.1 402.4h0.75v0.75h-0.75zM232.5 399.2h0.75v0.75h-0.75zM226.9 397.8h0.75v0.75h-0.75zM227.4 393.2h0.75v0.75h-0.75zM227.0 369.3h0.75v0.75h-0.75zM228.4 367.1h0.75v0.75h-0.75zM228.9 394.4h0.75v0.75h-0.75zM226.3 375.3h0.75v0.75h-0.75zM226.5 371.0h0.75v0.75h-0.75zM233.9 403.2h0.75v0.75h-0.75zM227.4 396.8h0.75v0.75h-0.75zM226.6 396.1h0.75v0.75h-0.75zM222.4 396.5h0.75v0.75h-0.75zM228.6 397.6h0.75v0.75h-0.75zM219.8 366.3h0.75v0.75h-0.75zM220.2 402.9h0.75v0.75h-0.75zM228.9 372.8h0.75v0.75h-0.75zM233.9 401.1h0.75v0.75h-0.75zM227.1 371.8h0.75v0.75h-0.75zM223.7 378.7h0.75v0.75h-0.75zM232.1 396.9h0.75v0.75h-0.75zM224.9 377.7h0.75v0.75h-0.75zM224.7 374.0h0.75v0.75h-0.75zM226.1 400.9h0.75v0.75h-0.75zM227.8 376.4h0.75v0.75h-0.75zM228.7 393.9h0.75v0.75h-0.75zM232.5 385.5h0.75v0.75h-0.75zM227.8 391.2h0.75v0.75h-0.75zM227.5 368.1h0.75v0.75h-0.75zM226.3 377.1h0.75v0.75h-0.75zM227.0 383.6h0.75v0.75h-0.75zM225.1 379.3h0.75v0.75h-0.75zM233.2 402.9h0.75v0.75h-0.75zM228.2 370.8h0.75v0.75h-0.75zM224.3 394.4h0.75v0.75h-0.75zM228.9 366.7h0.75v0.75h-0.75zM226.7 403.4h0.75v0.75h-0.75zM223.3 371.4h0.75v0.75h-0.75zM228.6 369.6h0.75v0.75h-0.75zM223.8 373.8h0.75v0.75h-0.75zM220.6 375.9h0.75v0.75h-0.75zM222.0 369.9h0.75v0.75h-0.75zM232.1 368.4h0.75v0.75h-0.75zM222.9 389.3h0.75v0.75h-0.75zM229.1 371.1h0.75v0.75h-0.75zM232.6 388.5h0.75v0.75h-0.75zM222.0 389.0h0.75v0.75h-0.75zM225.3 383.7h0.75v0.75h-0.75zM226.1 398.0h0.75v0.75h-0.75zM221.1 391.7h0.75v0.75h-0.75zM228.1 380.0h0.75v0.75h-0.75zM227.2 378.5h0.75v0.75h-0.75zM231.7 386.6h0.75v0.75h-0.75zM231.5 384.2h0.75v0.75h-0.75zM227.7 381.2h0.75v0.75h-0.75zM219.7 387.5h0.75v0.75h-0.75zM223.4 368.5h0.75v0.75h-0.75zM232.1 382.2h0.75v0.75h-0.75zM226.4 375.5h0.75v0.75h-0.75zM231.4 393.7h0.75v0.75h-0.75zM226.8 399.3h0.75v0.75h-0.75zM229.2 367.4h0.75v0.75h-0.75zM226.4 372.1h0.75v0.75h-0.75zM220.3 398.1h0.75v0.75h-0.75zM218.0 397.7h0.75v0.75h-0.75zM212.3 396.3h0.75v0.75h-0.75zM225.9 364.8h0.75v0.75h-0.75zM226.2 399.4h0.75v0.75h-0.75zM223.6 396.7h0.75v0.75h-0.75zM220.5 381.5h0.75v0.75h-0.75zM225.4 370.4h0.75v0.75h-0.75zM226.0 374.0h0.75v0.75h-0.75zM225.8 385.9h0.75v0.75h-0.75zM223.6 395.8h0.75v0.75h-0.75zM227.2 396.4h0.75v0.75h-0.75zM227.9 398.8h0.75v0.75h-0.75zM220.6 400.9h0.75v0.75h-0.75zM229.6 396.3h0.75v0.75h-0.75zM228.3 366.3h0.75v0.75h-0.75zM223.9 363.6h0.75v0.75h-0.75zM235.0 397.9h0.75v0.75h-0.75zM227.4 367.0h0.75v0.75h-0.75zM231.5 398.5h0.75v0.75h-0.75zM228.1 388.5h0.75v0.75h-0.75zM225.9 404.5h0.75v0.75h-0.75zM223.1 370.9h0.75v0.75h-0.75zM220.6 393.3h0.75v0.75h-0.75zM225.3 370.5h0.75v0.75h-0.75zM224.4 362.7h0.75v0.75h-0.75zM225.1 376.6h0.75v0.75h-0.75zM230.1 374.0h0.75v0.75h-0.75zM226.1 387.9h0.75v0.75h-0.75zM225.1 367.5h0.75v0.75h-0.75zM224.8 391.8h0.75v0.75h-0.75zM226.7 367.0h0.75v0.75h-0.75zM223.3 402.5h0.75v0.75h-0.75zM225.1 370.4h0.75v0.75h-0.75zM223.9 404.8h0.75v0.75h-0.75zM222.3 377.5h0.75v0.75h-0.75zM225.4 375.3h0.75v0.75h-0.75zM228.1 389.1h0.75v0.75h-0.75zM228.1 380.3h0.75v0.75h-0.75zM223.8 381.6h0.75v0.75h-0.75zM229.7 383.8h0.75v0.75h-0.75zM225.6 392.3h0.75v0.75h-0.75zM224.8 372.1h0.75v0.75h-0.75zM225.1 399.5h0.75v0.75h-0.75zM229.1 374.3h0.75v0.75h-0.75zM223.0 381.6h0.75v0.75h-0.75zM220.5 402.1h0.75v0.75h-0.75zM230.9 387.9h0.75v0.75h-0.75zM229.8 381.3h0.75v0.75h-0.75zM227.7 374.1h0.75v0.75h-0.75zM229.3 381.0h0.75v0.75h-0.75zM226.0 391.9h0.75v0.75h-0.75zM227.1 390.9h0.75v0.75h-0.75zM228.9 367.7h0.75v0.75h-0.75zM227.1 400.5h0.75v0.75h-0.75zM229.6 376.7h0.75v0.75h-0.75zM230.8 397.3h0.75v0.75h-0.75zM223.0 385.5h0.75v0.75h-0.75zM227.3 366.3h0.75v0.75h-0.75zM225.9 377.6h0.75v0.75h-0.75zM226.0 378.1h0.75v0.75h-0.75zM222.5 376.8h0.75v0.75h-0.75zM228.2 400.6h0.75v0.75h-0.75zM226.6 389.2h0.75v0.75h-0.75zM224.4 382.2h0.75v0.75h-0.75zM229.0 375.6h0.75v0.75h-0.75zM218.5 390.8h0.75v0.75h-0.75zM218.1 404.0h0.75v0.75h-0.75zM218.8 404.7h0.75v0.75h-0.75zM231.5 389.9h0.75v0.75h-0.75zM228.5 392.1h0.75v0.75h-0.75zM226.8 381.9h0.75v0.75h-0.75zM225.5 379.3h0.75v0.75h-0.75zM223.9 404.6h0.75v0.75h-0.75zM225.6 371.0h0.75v0.75h-0.75zM227.9 379.0h0.75v0.75h-0.75zM229.3 393.9h0.75v0.75h-0.75zM228.1 389.9h0.75v0.75h-0.75zM226.8 388.8h0.75v0.75h-0.75zM223.5 396.9h0.75v0.75h-0.75zM227.3 393.4h0.75v0.75h-0.75zM225.2 382.2h0.75v0.75h-0.75zM229.8 362.7h0.75v0.75h-0.75zM217.6 400.5h0.75v0.75h-0.75zM224.8 363.0h0.75v0.75h-0.75zM230.3 384.9h0.75v0.75h-0.75zM227.0 366.8h0.75v0.75h-0.75zM224.0 383.8h0.75v0.75h-0.75zM225.4 367.4h0.75v0.75h-0.75zM226.0 365.8h0.75v0.75h-0.75zM225.2 384.0h0.75v0.75h-0.75zM230.9 372.6h0.75v0.75h-0.75zM228.7 379.8h0.75v0.75h-0.75zM227.5 381.4h0.75v0.75h-0.75zM220.1 386.0h0.75v0.75h-0.75zM227.6 366.5h0.75v0.75h-0.75zM234.4 398.6h0.75v0.75h-0.75zM234.4 384.6h0.75v0.75h-0.75zM238.5 380.3h0.75v0.75h-0.75zM227.5 375.7h0.75v0.75h-0.75zM250.4 396.9h0.75v0.75h-0.75zM255.6 401.0h0.75v0.75h-0.75zM245.1 396.7h0.75v0.75h-0.75zM246.0 397.1h0.75v0.75h-0.75zM249.2 374.3h0.75v0.75h-0.75zM249.7 378.9h0.75v0.75h-0.75zM229.2 401.1h0.75v0.75h-0.75zM221.2 386.4h0.75v0.75h-0.75zM232.8 396.5h0.75v0.75h-0.75zM242.4 400.8h0.75v0.75h-0.75zM254.0 391.2h0.75v0.75h-0.75zM222.7 392.0h0.75v0.75h-0.75zM224.3 403.4h0.75v0.75h-0.75zM251.8 379.2h0.75v0.75h-0.75zM227.1 393.0h0.75v0.75h-0.75zM247.7 403.5h0.75v0.75h-0.75zM242.8 372.5h0.75v0.75h-0.75zM246.6 370.1h0.75v0.75h-0.75zM251.6 395.7h0.75v0.75h-0.75zM248.7 399.4h0.75v0.75h-0.75zM240.9 402.0h0.75v0.75h-0.75zM243.4 385.7h0.75v0.75h-0.75zM234.2 380.7h0.75v0.75h-0.75zM221.2 373.8h0.75v0.75h-0.75zM249.0 376.2h0.75v0.75h-0.75zM243.9 395.9h0.75v0.75h-0.75zM245.4 386.6h0.75v0.75h-0.75zM231.8 377.8h0.75v0.75h-0.75zM227.1 391.3h0.75v0.75h-0.75zM245.1 401.9h0.75v0.75h-0.75zM232.3 401.4h0.75v0.75h-0.75zM253.2 378.5h0.75v0.75h-0.75zM254.7 390.3h0.75v0.75h-0.75zM255.1 395.9h0.75v0.75h-0.75zM232.4 378.1h0.75v0.75h-0.75zM239.2 385.6h0.75v0.75h-0.75zM221.7 399.1h0.75v0.75h-0.75zM239.7 385.0h0.75v0.75h-0.75zM247.2 377.0h0.75v0.75h-0.75zM227.6 388.9h0.75v0.75h-0.75zM229.1 379.8h0.75v0.75h-0.75zM222.9 369.9h0.75v0.75h-0.75zM233.2 387.0h0.75v0.75h-0.75zM254.6 391.0h0.75v0.75h-0.75zM235.3 382.6h0.75v0.75h-0.75zM228.9 385.1h0.75v0.75h-0.75zM254.9 372.4h0.75v0.75h-0.75zM236.0 392.7h0.75v0.75h-0.75zM247.8 388.0h0.75v0.75h-0.75zM243.5 401.8h0.75v0.75h-0.75zM252.9 377.0h0.75v0.75h-0.75zM239.9 403.9h0.75v0.75h-0.75zM239.4 374.8h0.75v0.75h-0.75zM248.0 370.1h0.75v0.75h-0.75zM225.8 387.8h0.75v0.75h-0.75zM230.2 393.9h0.75v0.75h-0.75zM246.6 379.5h0.75v0.75h-0.75zM248.0 391.3h0.75v0.75h-0.75zM245.8 384.4h0.75v0.75h-0.75zM236.0 371.8h0.75v0.75h-0.75zM237.5 402.4h0.75v0.75h-0.75zM252.4 370.0h0.75v0.75h-0.75zM223.0 377.7h0.75v0.75h-0.75zM245.4 383.8h0.75v0.75h-0.75zM225.0 383.3h0.75v0.75h-0.75zM241.0 394.8h0.75v0.75h-0.75zM234.9 391.4h0.75v0.75h-0.75zM244.9 390.2h0.75v0.75h-0.75zM222.1 393.6h0.75v0.75h-0.75zM225.0 370.0h0.75v0.75h-0.75zM237.5 368.6h0.75v0.75h-0.75zM223.0 382.1h0.75v0.75h-0.75zM237.3 371.8h0.75v0.75h-0.75zM254.7 398.7h0.75v0.75h-0.75zM237.9 389.2h0.75v0.75h-0.75zM231.8 403.4h0.75v0.75h-0.75zM224.7 378.9h0.75v0.75h-0.75zM228.4 399.2h0.75v0.75h-0.75zM238.7 382.8h0.75v0.75h-0.75zM234.8 399.9h0.75v0.75h-0.75zM229.7 396.5h0.75v0.75h-0.75zM245.9 384.1h0.75v0.75h-0.75zM233.6 383.7h0.75v0.75h-0.75zM236.7 379.4h0.75v0.75h-0.75zM242.9 382.8h0.75v0.75h-0.75zM231.3 395.8h0.75v0.75h-0.75zM236.8 385.0h0.75v0.75h-0.75zM252.1 384.4h0.75v0.75h-0.75zM233.9 400.3h0.75v0.75h-0.75zM255.5 396.3h0.75v0.75h-0.75zM234.9 392.2h0.75v0.75h-0.75zM247.1 378.7h0.75v0.75h-0.75zM246.5 402.2h0.75v0.75h-0.75zM244.0 392.1h0.75v0.75h-0.75zM236.1 391.5h0.75v0.75h-0.75zM228.5 395.7h0.75v0.75h-0.75zM239.8 403.3h0.75v0.75h-0.75zM232.7 393.6h0.75v0.75h-0.75zM221.0 383.0h0.75v0.75h-0.75zM248.0 377.3h0.75v0.75h-0.75zM242.5 376.0h0.75v0.75h-0.75zM234.7 403.8h0.75v0.75h-0.75zM227.5 400.9h0.75v0.75h-0.75zM222.6 389.0h0.75v0.75h-0.75zM250.0 398.1h0.75v0.75h-0.75zM234.5 389.3h0.75v0.75h-0.75zM246.0 395.4h0.75v0.75h-0.75zM247.3 388.8h0.75v0.75h-0.75zM229.5 393.4h0.75v0.75h-0.75zM240.6 387.6h0.75v0.75h-0.75zM255.9 372.9h0.75v0.75h-0.75zM248.5 379.7h0.75v0.75h-0.75zM246.6 402.2h0.75v0.75h-0.75zM230.3 388.4h0.75v0.75h-0.75zM239.4 385.8h0.75v0.75h-0.75zM226.4 390.5h0.75v0.75h-0.75zM252.6 391.9h0.75v0.75h-0.75zM230.8 397.0h0.75v0.75h-0.75zM235.5 373.2h0.75v0.75h-0.75zM242.2 384.6h0.75v0.75h-0.75zM239.5 403.7h0.75v0.75h-0.75zM240.9 402.3h0.75v0.75h-0.75zM233.1 395.3h0.75v0.75h-0.75zM223.1 378.8h0.75v0.75h-0.75zM245.3 392.8h0.75v0.75h-0.75zM250.2 381.7h0.75v0.75h-0.75zM230.3 380.9h0.75v0.75h-0.75zM239.7 368.9h0.75v0.75h-0.75zM233.9 391.7h0.75v0.75h-0.75zM225.7 379.2h0.75v0.75h-0.75zM251.8 401.6h0.75v0.75h-0.75zM229.4 374.4h0.75v0.75h-0.75zM224.6 371.1h0.75v0.75h-0.75zM249.0 394.6h0.75v0.75h-0.75zM229.9 385.6h0.75v0.75h-0.75zM245.4 369.0h0.75v0.75h-0.75zM249.9 398.9h0.75v0.75h-0.75zM228.0 393.3h0.75v0.75h-0.75zM245.6 380.1h0.75v0.75h-0.75zM252.0 375.9h0.75v0.75h-0.75zM237.5 379.3h0.75v0.75h-0.75zM236.3 397.2h0.75v0.75h-0.75zM240.9 389.9h0.75v0.75h-0.75zM255.9 376.0h0.75v0.75h-0.75zM228.4 390.3h0.75v0.75h-0.75zM225.8 402.7h0.75v0.75h-0.75zM232.7 383.8h0.75v0.75h-0.75zM235.9 397.8h0.75v0.75h-0.75zM253.4 392.4h0.75v0.75h-0.75zM226.6 380.8h0.75v0.75h-0.75zM245.8 375.8h0.75v0.75h-0.75zM252.2 399.4h0.75v0.75h-0.75zM228.6 381.1h0.75v0.75h-0.75zM228.6 393.9h0.75v0.75h-0.75zM222.1 393.0h0.75v0.75h-0.75zM222.7 398.3h0.75v0.75h-0.75zM240.0 389.0h0.75v0.75h-0.75zM223.8 369.6h0.75v0.75h-0.75zM227.5 407.1h0.75v0.75h-0.75zM240.8 399.7h0.75v0.75h-0.75zM211.8 354.1h0.75v0.75h-0.75zM209.5 389.8h0.75v0.75h-0.75zM217.9 364.4h0.75v0.75h-0.75zM244.4 389.7h0.75v0.75h-0.75zM225.8 376.0h0.75v0.75h-0.75zM224.0 381.7h0.75v0.75h-0.75zM227.6 369.6h0.75v0.75h-0.75zM221.8 365.5h0.75v0.75h-0.75zM222.5 349.0h0.75v0.75h-0.75zM225.2 383.5h0.75v0.75h-0.75zM222.9 354.8h0.75v0.75h-0.75zM254.1 376.1h0.75v0.75h-0.75zM236.0 366.7h0.75v0.75h-0.75zM256.3 393.2h0.75v0.75h-0.75zM242.0 387.6h0.75v0.75h-0.75zM245.8 378.0h0.75v0.75h-0.75zM230.7 371.4h0.75v0.75h-0.75zM235.6 376.1h0.75v0.75h-0.75zM237.0 380.0h0.75v0.75h-0.75zM251.0 401.6h0.75v0.75h-0.75zM220.5 349.3h0.75v0.75h-0.75zM224.7 349.9h0.75v0.75h-0.75zM251.4 385.2h0.75v0.75h-0.75zM223.8 359.5h0.75v0.75h-0.75zM255.3 398.2h0.75v0.75h-0.75zM245.3 389.5h0.75v0.75h-0.75zM248.6 375.3h0.75v0.75h-0.75zM229.9 381.2h0.75v0.75h-0.75zM255.9 407.5h0.75v0.75h-0.75zM257.9 398.1h0.75v0.75h-0.75zM212.4 362.8h0.75v0.75h-0.75zM260.8 380.6h0.75v0.75h-0.75zM236.2 366.6h0.75v0.75h-0.75zM254.9 379.0h0.75v0.75h-0.75zM261.9 352.5h0.75v0.75h-0.75zM262.0 348.8h0.75v0.75h-0.75zM216.4 371.4h0.75v0.75h-0.75zM242.9 354.6h0.75v0.75h-0.75z" fill="#4a68c8" fill-opacity="0.55"/>
<path d="M223.5 358.6h0.8v0.8h-0.8zM228.8 356.7h0.8v0.8h-0.8zM223.2 357.7h0.8v0.8h-0.8zM227.5 360.2h0.8v0.8h-0.8zM223.5 355.0h0.8v0.8h-0.8zM228.1 358.8h0.8v0.8h-0.8zM230.1 360.0h0.8v0.8h-0.8zM226.2 357.2h0.8v0.8h-0.8zM232.6 357.2h0.8v0.8h-0.8zM224.5 355.3h0.8v0.8h-0.8zM226.6 358.1h0.8v0.8h-0.8zM225.6 357.7h0.8v0.8h-0.8zM227.1 359.3h0.8v0.8h-0.8zM229.0 358.3h0.8v0.8h-0.8zM222.1 359.3h0.8v0.8h-0.8zM223.0 357.4h0.8v0.8h-0.8zM222.9 357.8h0.8v0.8h-0.8zM224.5 358.3h0.8v0.8h-0.8zM234.3 357.7h0.8v0.8h-0.8zM228.4 354.9h0.8v0.8h-0.8zM225.7 359.3h0.8v0.8h-0.8zM226.2 358.6h0.8v0.8h-0.8zM226.6 355.6h0.8v0.8h-0.8zM227.8 356.0h0.8v0.8h-0.8zM230.9 356.7h0.8v0.8h-0.8zM228.0 357.8h0.8v0.8h-0.8zM228.7 356.5h0.8v0.8h-0.8zM228.8 357.5h0.8v0.8h-0.8zM229.4 359.2h0.8v0.8h-0.8zM226.7 356.1h0.8v0.8h-0.8zM228.2 358.8h0.8v0.8h-0.8zM230.3 357.0h0.8v0.8h-0.8zM227.7 358.9h0.8v0.8h-0.8zM227.1 358.3h0.8v0.8h-0.8zM226.8 356.5h0.8v0.8h-0.8zM224.0 356.9h0.8v0.8h-0.8zM227.8 361.1h0.8v0.8h-0.8zM228.7 360.1h0.8v0.8h-0.8zM228.3 359.3h0.8v0.8h-0.8zM226.8 359.5h0.8v0.8h-0.8zM230.7 357.1h0.8v0.8h-0.8zM224.7 362.1h0.8v0.8h-0.8zM227.0 359.9h0.8v0.8h-0.8zM228.5 355.3h0.8v0.8h-0.8zM232.2 361.7h0.8v0.8h-0.8zM226.8 359.5h0.8v0.8h-0.8zM226.7 355.9h0.8v0.8h-0.8zM226.1 358.6h0.8v0.8h-0.8zM229.1 359.4h0.8v0.8h-0.8zM226.5 360.8h0.8v0.8h-0.8zM224.6 359.5h0.8v0.8h-0.8zM229.1 357.2h0.8v0.8h-0.8zM222.1 355.8h0.8v0.8h-0.8zM227.0 359.0h0.8v0.8h-0.8zM230.1 355.6h0.8v0.8h-0.8zM226.4 359.2h0.8v0.8h-0.8zM226.0 352.6h0.8v0.8h-0.8zM228.3 362.9h0.8v0.8h-0.8zM228.8 355.8h0.8v0.8h-0.8zM225.4 358.3h0.8v0.8h-0.8zM232.4 359.2h0.8v0.8h-0.8zM226.7 361.2h0.8v0.8h-0.8zM226.2 361.9h0.8v0.8h-0.8zM224.8 356.8h0.8v0.8h-0.8zM228.1 360.9h0.8v0.8h-0.8zM228.0 358.5h0.8v0.8h-0.8zM222.0 356.2h0.8v0.8h-0.8zM224.9 356.6h0.8v0.8h-0.8zM227.8 357.1h0.8v0.8h-0.8zM228.3 358.0h0.8v0.8h-0.8zM225.6 358.1h0.8v0.8h-0.8zM227.4 359.7h0.8v0.8h-0.8zM225.3 357.3h0.8v0.8h-0.8zM223.1 361.3h0.8v0.8h-0.8zM229.9 357.4h0.8v0.8h-0.8zM225.3 355.1h0.8v0.8h-0.8zM226.8 358.3h0.8v0.8h-0.8zM231.6 358.3h0.8v0.8h-0.8zM224.5 352.4h0.8v0.8h-0.8zM229.8 358.2h0.8v0.8h-0.8zM222.5 358.2h0.8v0.8h-0.8zM222.5 365.5h0.8v0.8h-0.8zM229.1 359.1h0.8v0.8h-0.8zM226.0 353.1h0.8v0.8h-0.8zM226.1 354.4h0.8v0.8h-0.8zM227.8 353.1h0.8v0.8h-0.8zM224.2 360.5h0.8v0.8h-0.8zM230.3 355.2h0.8v0.8h-0.8zM222.7 359.7h0.8v0.8h-0.8zM228.4 355.6h0.8v0.8h-0.8zM224.7 356.3h0.8v0.8h-0.8zM223.5 356.3h0.8v0.8h-0.8zM229.4 359.3h0.8v0.8h-0.8zM231.3 357.6h0.8v0.8h-0.8zM226.1 355.6h0.8v0.8h-0.8zM226.1 354.9h0.8v0.8h-0.8zM222.1 359.3h0.8v0.8h-0.8zM229.9 359.6h0.8v0.8h-0.8zM229.6 358.4h0.8v0.8h-0.8zM224.7 358.0h0.8v0.8h-0.8zM225.5 355.4h0.8v0.8h-0.8zM222.3 354.5h0.8v0.8h-0.8zM226.4 358.1h0.8v0.8h-0.8zM225.3 360.9h0.8v0.8h-0.8zM226.8 359.1h0.8v0.8h-0.8zM229.3 356.0h0.8v0.8h-0.8zM221.7 359.5h0.8v0.8h-0.8zM224.7 360.7h0.8v0.8h-0.8zM227.2 360.0h0.8v0.8h-0.8zM228.2 353.2h0.8v0.8h-0.8zM228.1 356.3h0.8v0.8h-0.8zM224.6 356.8h0.8v0.8h-0.8zM228.2 359.7h0.8v0.8h-0.8zM228.8 354.1h0.8v0.8h-0.8zM225.0 352.6h0.8v0.8h-0.8zM226.2 359.1h0.8v0.8h-0.8zM224.6 358.3h0.8v0.8h-0.8zM227.0 360.0h0.8v0.8h-0.8zM224.4 356.0h0.8v0.8h-0.8zM224.6 361.7h0.8v0.8h-0.8zM229.0 357.5h0.8v0.8h-0.8zM226.9 358.1h0.8v0.8h-0.8zM226.9 357.3h0.8v0.8h-0.8zM225.6 355.0h0.8v0.8h-0.8zM224.9 361.4h0.8v0.8h-0.8zM227.7 357.9h0.8v0.8h-0.8zM225.9 357.9h0.8v0.8h-0.8zM227.2 356.4h0.8v0.8h-0.8zM226.9 358.3h0.8v0.8h-0.8zM224.6 356.1h0.8v0.8h-0.8zM224.0 355.5h0.8v0.8h-0.8zM228.5 352.6h0.8v0.8h-0.8zM225.8 356.5h0.8v0.8h-0.8zM224.9 358.0h0.8v0.8h-0.8zM229.1 358.0h0.8v0.8h-0.8zM226.1 356.5h0.8v0.8h-0.8zM226.1 359.8h0.8v0.8h-0.8zM225.5 355.3h0.8v0.8h-0.8zM223.4 355.4h0.8v0.8h-0.8zM223.1 360.2h0.8v0.8h-0.8zM227.3 357.3h0.8v0.8h-0.8zM229.9 356.4h0.8v0.8h-0.8zM228.2 359.6h0.8v0.8h-0.8zM222.7 354.4h0.8v0.8h-0.8zM224.2 359.8h0.8v0.8h-0.8zM229.5 355.1h0.8v0.8h-0.8zM228.9 357.0h0.8v0.8h-0.8zM225.5 356.6h0.8v0.8h-0.8zM225.6 353.8h0.8v0.8h-0.8zM224.0 355.1h0.8v0.8h-0.8zM227.6 362.4h0.8v0.8h-0.8zM233.0 357.1h0.8v0.8h-0.8zM222.3 356.9h0.8v0.8h-0.8zM224.1 362.2h0.8v0.8h-0.8zM227.8 356.2h0.8v0.8h-0.8zM228.6 359.0h0.8v0.8h-0.8zM222.5 356.6h0.8v0.8h-0.8zM225.8 357.8h0.8v0.8h-0.8zM226.7 357.1h0.8v0.8h-0.8zM226.9 356.5h0.8v0.8h-0.8zM223.3 379.5h0.8v0.8h-0.8zM222.7 403.4h0.8v0.8h-0.8zM227.6 379.8h0.8v0.8h-0.8zM226.5 397.2h0.8v0.8h-0.8zM226.1 393.6h0.8v0.8h-0.8zM225.2 384.8h0.8v0.8h-0.8zM227.3 363.2h0.8v0.8h-0.8zM227.9 403.5h0.8v0.8h-0.8zM226.8 389.7h0.8v0.8h-0.8zM225.9 379.9h0.8v0.8h-0.8zM226.3 365.4h0.8v0.8h-0.8zM227.7 401.5h0.8v0.8h-0.8zM223.6 376.1h0.8v0.8h-0.8zM226.7 400.1h0.8v0.8h-0.8zM223.4 402.7h0.8v0.8h-0.8zM225.1 400.9h0.8v0.8h-0.8zM225.4 379.0h0.8v0.8h-0.8zM229.2 373.1h0.8v0.8h-0.8zM224.4 377.8h0.8v0.8h-0.8zM227.3 377.4h0.8v0.8h-0.8zM225.8 380.5h0.8v0.8h-0.8zM226.7 397.9h0.8v0.8h-0.8zM224.5 364.7h0.8v0.8h-0.8zM226.0 379.2h0.8v0.8h-0.8zM227.8 371.6h0.8v0.8h-0.8zM227.5 375.5h0.8v0.8h-0.8zM226.8 382.8h0.8v0.8h-0.8zM229.9 383.0h0.8v0.8h-0.8zM223.3 362.4h0.8v0.8h-0.8zM228.4 362.3h0.8v0.8h-0.8zM228.5 387.5h0.8v0.8h-0.8zM225.9 387.7h0.8v0.8h-0.8zM225.6 377.9h0.8v0.8h-0.8zM229.4 387.3h0.8v0.8h-0.8zM224.1 375.6h0.8v0.8h-0.8zM226.4 394.4h0.8v0.8h-0.8zM227.3 364.3h0.8v0.8h-0.8zM227.2 373.6h0.8v0.8h-0.8zM221.8 396.2h0.8v0.8h-0.8zM228.2 379.3h0.8v0.8h-0.8zM226.1 374.3h0.8v0.8h-0.8zM225.3 404.3h0.8v0.8h-0.8zM225.3 397.8h0.8v0.8h-0.8zM228.4 397.2h0.8v0.8h-0.8zM225.8 395.9h0.8v0.8h-0.8zM225.7 394.8h0.8v0.8h-0.8zM225.1 364.1h0.8v0.8h-0.8zM223.9 401.9h0.8v0.8h-0.8zM231.8 389.5h0.8v0.8h-0.8zM227.2 394.4h0.8v0.8h-0.8zM230.1 386.9h0.8v0.8h-0.8zM226.5 380.0h0.8v0.8h-0.8zM231.8 391.2h0.8v0.8h-0.8zM226.1 365.2h0.8v0.8h-0.8zM222.4 395.6h0.8v0.8h-0.8zM227.6 378.2h0.8v0.8h-0.8zM225.4 381.3h0.8v0.8h-0.8zM226.8 375.8h0.8v0.8h-0.8zM227.5 393.6h0.8v0.8h-0.8zM227.0 397.9h0.8v0.8h-0.8zM225.3 390.6h0.8v0.8h-0.8zM226.2 367.1h0.8v0.8h-0.8zM228.7 375.3h0.8v0.8h-0.8zM225.4 401.7h0.8v0.8h-0.8zM224.6 371.1h0.8v0.8h-0.8zM228.1 398.1h0.8v0.8h-0.8zM227.7 367.3h0.8v0.8h-0.8zM225.2 363.3h0.8v0.8h-0.8zM224.2 380.6h0.8v0.8h-0.8zM229.3 401.9h0.8v0.8h-0.8zM225.6 383.2h0.8v0.8h-0.8zM224.0 395.5h0.8v0.8h-0.8zM226.4 366.5h0.8v0.8h-0.8zM225.0 387.2h0.8v0.8h-0.8zM225.8 370.7h0.8v0.8h-0.8zM227.3 377.0h0.8v0.8h-0.8zM224.1 387.4h0.8v0.8h-0.8zM226.1 386.7h0.8v0.8h-0.8zM224.2 398.2h0.8v0.8h-0.8zM228.6 382.7h0.8v0.8h-0.8zM224.3 404.2h0.8v0.8h-0.8zM228.8 372.0h0.8v0.8h-0.8zM226.1 373.2h0.8v0.8h-0.8zM224.1 373.1h0.8v0.8h-0.8zM227.1 364.8h0.8v0.8h-0.8zM224.3 392.8h0.8v0.8h-0.8zM224.5 380.6h0.8v0.8h-0.8zM223.9 404.0h0.8v0.8h-0.8zM223.3 401.1h0.8v0.8h-0.8zM227.0 371.9h0.8v0.8h-0.8zM228.1 394.4h0.8v0.8h-0.8zM227.8 398.4h0.8v0.8h-0.8zM225.8 363.5h0.8v0.8h-0.8zM223.7 385.7h0.8v0.8h-0.8zM229.1 376.3h0.8v0.8h-0.8zM231.5 394.9h0.8v0.8h-0.8zM230.1 396.6h0.8v0.8h-0.8zM228.1 371.4h0.8v0.8h-0.8zM224.1 370.6h0.8v0.8h-0.8zM225.9 367.2h0.8v0.8h-0.8zM221.7 394.9h0.8v0.8h-0.8zM223.4 401.7h0.8v0.8h-0.8zM222.5 391.6h0.8v0.8h-0.8zM231.0 392.9h0.8v0.8h-0.8zM228.3 374.5h0.8v0.8h-0.8zM224.1 373.4h0.8v0.8h-0.8zM228.6 372.7h0.8v0.8h-0.8zM226.7 372.9h0.8v0.8h-0.8zM226.4 374.6h0.8v0.8h-0.8zM227.5 382.8h0.8v0.8h-0.8zM226.1 373.7h0.8v0.8h-0.8zM228.1 383.9h0.8v0.8h-0.8zM229.3 399.6h0.8v0.8h-0.8zM230.9 398.8h0.8v0.8h-0.8zM222.8 388.2h0.8v0.8h-0.8zM225.4 385.0h0.8v0.8h-0.8zM230.0 390.4h0.8v0.8h-0.8zM224.9 373.2h0.8v0.8h-0.8zM227.7 364.3h0.8v0.8h-0.8zM225.5 395.9h0.8v0.8h-0.8zM224.8 372.0h0.8v0.8h-0.8zM227.1 393.4h0.8v0.8h-0.8zM222.8 402.6h0.8v0.8h-0.8zM226.3 377.0h0.8v0.8h-0.8zM227.2 372.0h0.8v0.8h-0.8zM226.0 402.4h0.8v0.8h-0.8zM231.0 390.3h0.8v0.8h-0.8zM227.9 366.4h0.8v0.8h-0.8zM231.3 386.3h0.8v0.8h-0.8zM230.2 375.3h0.8v0.8h-0.8zM230.1 399.5h0.8v0.8h-0.8zM227.2 364.9h0.8v0.8h-0.8zM222.7 363.3h0.8v0.8h-0.8zM223.4 391.5h0.8v0.8h-0.8zM227.1 398.8h0.8v0.8h-0.8zM224.6 365.3h0.8v0.8h-0.8zM227.5 384.7h0.8v0.8h-0.8zM228.6 377.2h0.8v0.8h-0.8zM227.5 383.5h0.8v0.8h-0.8zM229.4 379.9h0.8v0.8h-0.8zM228.6 382.9h0.8v0.8h-0.8zM227.6 386.0h0.8v0.8h-0.8zM225.0 403.8h0.8v0.8h-0.8zM226.0 374.9h0.8v0.8h-0.8zM225.1 376.4h0.8v0.8h-0.8zM219.9 404.0h0.8v0.8h-0.8zM231.4 402.8h0.8v0.8h-0.8zM223.9 402.2h0.8v0.8h-0.8zM224.5 362.9h0.8v0.8h-0.8zM226.6 391.5h0.8v0.8h-0.8zM222.3 388.3h0.8v0.8h-0.8zM224.1 365.7h0.8v0.8h-0.8zM226.9 384.3h0.8v0.8h-0.8zM226.3 366.8h0.8v0.8h-0.8zM227.0 399.4h0.8v0.8h-0.8zM226.3 363.4h0.8v0.8h-0.8zM225.2 397.7h0.8v0.8h-0.8zM223.9 386.9h0.8v0.8h-0.8zM226.4 394.6h0.8v0.8h-0.8zM226.3 364.9h0.8v0.8h-0.8zM231.2 396.1h0.8v0.8h-0.8zM225.8 379.5h0.8v0.8h-0.8zM226.2 376.4h0.8v0.8h-0.8zM226.8 395.1h0.8v0.8h-0.8zM224.5 373.3h0.8v0.8h-0.8zM225.2 376.4h0.8v0.8h-0.8zM224.7 391.0h0.8v0.8h-0.8zM227.0 399.9h0.8v0.8h-0.8zM227.1 369.6h0.8v0.8h-0.8zM227.7 382.6h0.8v0.8h-0.8zM225.5 395.7h0.8v0.8h-0.8zM227.9 390.1h0.8v0.8h-0.8zM225.0 373.2h0.8v0.8h-0.8zM226.1 399.7h0.8v0.8h-0.8zM226.6 369.9h0.8v0.8h-0.8zM228.0 376.2h0.8v0.8h-0.8zM224.4 393.2h0.8v0.8h-0.8zM222.9 385.2h0.8v0.8h-0.8zM226.5 365.4h0.8v0.8h-0.8zM225.1 371.4h0.8v0.8h-0.8zM228.3 379.8h0.8v0.8h-0.8zM226.3 377.3h0.8v0.8h-0.8zM229.1 401.2h0.8v0.8h-0.8zM226.3 367.8h0.8v0.8h-0.8zM226.9 396.0h0.8v0.8h-0.8zM224.1 396.0h0.8v0.8h-0.8zM225.8 378.3h0.8v0.8h-0.8zM229.7 393.9h0.8v0.8h-0.8zM226.5 382.5h0.8v0.8h-0.8zM226.1 383.5h0.8v0.8h-0.8zM230.4 378.4h0.8v0.8h-0.8zM227.8 368.2h0.8v0.8h-0.8zM229.5 370.8h0.8v0.8h-0.8zM221.5 402.1h0.8v0.8h-0.8zM227.4 376.7h0.8v0.8h-0.8zM225.8 392.7h0.8v0.8h-0.8zM226.9 402.7h0.8v0.8h-0.8zM227.6 391.2h0.8v0.8h-0.8zM225.4 399.9h0.8v0.8h-0.8zM221.4 381.5h0.8v0.8h-0.8zM227.5 378.0h0.8v0.8h-0.8zM227.9 402.4h0.8v0.8h-0.8zM227.0 365.1h0.8v0.8h-0.8zM227.6 364.1h0.8v0.8h-0.8zM226.8 375.2h0.8v0.8h-0.8zM227.4 384.7h0.8v0.8h-0.8zM223.0 385.2h0.8v0.8h-0.8zM224.9 384.6h0.8v0.8h-0.8zM228.1 402.7h0.8v0.8h-0.8zM226.9 365.3h0.8v0.8h-0.8zM226.7 375.3h0.8v0.8h-0.8zM221.5 383.7h0.8v0.8h-0.8zM225.4 368.9h0.8v0.8h-0.8zM228.5 374.7h0.8v0.8h-0.8zM229.2 396.1h0.8v0.8h-0.8zM226.0 387.9h0.8v0.8h-0.8zM224.7 398.4h0.8v0.8h-0.8zM226.8 402.6h0.8v0.8h-0.8zM231.2 404.1h0.8v0.8h-0.8zM226.9 379.2h0.8v0.8h-0.8zM226.9 364.2h0.8v0.8h-0.8zM227.7 393.7h0.8v0.8h-0.8zM227.6 371.1h0.8v0.8h-0.8zM226.6 396.4h0.8v0.8h-0.8zM225.0 383.5h0.8v0.8h-0.8zM224.9 369.9h0.8v0.8h-0.8zM226.3 362.7h0.8v0.8h-0.8zM226.9 373.2h0.8v0.8h-0.8zM224.6 388.6h0.8v0.8h-0.8zM228.3 388.8h0.8v0.8h-0.8zM224.0 375.6h0.8v0.8h-0.8zM230.1 387.0h0.8v0.8h-0.8zM224.2 379.9h0.8v0.8h-0.8zM225.9 376.3h0.8v0.8h-0.8zM227.1 401.3h0.8v0.8h-0.8zM232.6 398.7h0.8v0.8h-0.8zM228.1 399.9h0.8v0.8h-0.8zM229.3 404.3h0.8v0.8h-0.8zM227.8 374.4h0.8v0.8h-0.8zM228.9 372.1h0.8v0.8h-0.8zM229.4 387.1h0.8v0.8h-0.8zM230.1 374.2h0.8v0.8h-0.8zM225.9 366.2h0.8v0.8h-0.8zM224.5 386.1h0.8v0.8h-0.8zM228.7 383.4h0.8v0.8h-0.8zM225.3 378.3h0.8v0.8h-0.8zM225.3 362.1h0.8v0.8h-0.8zM226.4 386.7h0.8v0.8h-0.8zM225.4 389.2h0.8v0.8h-0.8zM226.6 383.4h0.8v0.8h-0.8zM222.9 382.7h0.8v0.8h-0.8zM222.7 374.0h0.8v0.8h-0.8zM229.6 381.0h0.8v0.8h-0.8zM228.0 372.1h0.8v0.8h-0.8zM227.0 397.6h0.8v0.8h-0.8zM224.4 400.8h0.8v0.8h-0.8zM223.9 383.7h0.8v0.8h-0.8zM228.0 402.7h0.8v0.8h-0.8zM224.6 383.1h0.8v0.8h-0.8zM226.6 398.2h0.8v0.8h-0.8z" fill="#2f56c0" fill-opacity="0.7"/>
<path d="M192.5 411.7h0.75v0.75h-0.75zM193.1 413.3h0.75v0.75h-0.75zM193.5 411.9h0.75v0.75h-0.75zM195.0 413.6h0.75v0.75h-0.75zM195.6 411.7h0.75v0.75h-0.75zM194.7 413.7h0.75v0.75h-0.75zM193.7 412.4h0.75v0.75h-0.75zM193.4 411.9h0.75v0.75h-0.75zM195.1 412.7h0.75v0.75h-0.75zM194.2 412.0h0.75v0.75h-0.75zM195.9 413.3h0.75v0.75h-0.75zM193.4 414.8h0.75v0.75h-0.75zM194.1 412.4h0.75v0.75h-0.75zM194.0 412.0h0.75v0.75h-0.75zM195.1 411.1h0.75v0.75h-0.75zM194.5 412.3h0.75v0.75h-0.75zM196.1 413.0h0.75v0.75h-0.75zM194.9 413.1h0.75v0.75h-0.75zM195.0 412.7h0.75v0.75h-0.75zM192.3 413.0h0.75v0.75h-0.75zM194.2 413.3h0.75v0.75h-0.75zM194.8 412.0h0.75v0.75h-0.75zM193.7 411.6h0.75v0.75h-0.75zM194.7 412.5h0.75v0.75h-0.75zM193.7 412.2h0.75v0.75h-0.75zM194.8 411.9h0.75v0.75h-0.75zM194.4 412.0h0.75v0.75h-0.75zM192.1 412.7h0.75v0.75h-0.75zM194.5 413.4h0.75v0.75h-0.75zM195.7 411.9h0.75v0.75h-0.75zM195.0 400.8h0.75v0.75h-0.75zM194.7 401.5h0.75v0.75h-0.75zM195.2 409.8h0.75v0.75h-0.75zM193.5 406.0h0.75v0.75h-0.75zM194.0 406.6h0.75v0.75h-0.75zM193.9 403.9h0.75v0.75h-0.75zM195.4 402.6h0.75v0.75h-0.75zM194.8 404.4h0.75v0.75h-0.75zM194.7 409.8h0.75v0.75h-0.75zM194.6 402.5h0.75v0.75h-0.75zM194.3 405.1h0.75v0.75h-0.75zM194.9 409.0h0.75v0.75h-0.75zM194.9 404.0h0.75v0.75h-0.75zM195.4 407.2h0.75v0.75h-0.75z" fill="#4a6ad0" fill-opacity="0.7"/>
</g>
<path d="M209.6,412.9 C214.4,408.6 222.4,405.3 230.4,404.8 C237.4,404.3 243.4,404.3 247.0,405.6 C243.9,409.8 237.4,413.6 229.4,414.8 C221.4,415.8 213.4,415.3 209.6,412.9 Z" fill="#2c3fa8" fill-opacity="0.9" filter="url(#fb)"/>
<path d="M212.9,412.6 C217.4,409.3 223.4,406.8 230.4,406.3 C236.4,405.9 240.4,406.1 242.9,406.8 C239.4,410.2 234.4,413.3 228.4,414.2 C221.4,414.9 215.4,414.6 212.9,412.6 Z" fill="#3557c4" filter="url(#fb)"/>
<ellipse cx="225.40" cy="412.50" rx="10.60" ry="3.00" fill="#3d9ee0" filter="url(#fb)"/>
<ellipse cx="225.40" cy="412.50" rx="7.60" ry="2.60" fill="#47c0b0" filter="url(#fb)"/>
<ellipse cx="225.40" cy="412.50" rx="5.80" ry="2.20" fill="#62cc48" filter="url(#fb)"/>
<ellipse cx="225.40" cy="412.50" rx="3.20" ry="1.35" fill="#e3d52a" filter="url(#fb)"/>
<ellipse cx="225.40" cy="412.50" rx="1.40" ry="0.70" fill="#e24a1e" filter="url(#fb)"/>
<ellipse cx="194.50" cy="412.60" rx="2.2" ry="2.4" fill="#3a6ad0" filter="url(#fb)"/>
<ellipse cx="194.50" cy="412.60" rx="1.0" ry="1.2" fill="#a8dcf4"/>
<polyline points="243.50,343.9 211.20,343.9 211.20,404.2 258.50,404.2 258.50,381.5" fill="none" stroke="#333" stroke-width="0.9"/>
<polyline points="211.20,365.4 246.50,365.4 246.50,359.8" fill="none" stroke="#333" stroke-width="1.3"/>
<polyline points="255.80,408.2 255.80,404.4 203.80,404.4 203.80,420.3 249.60,420.3" fill="none" stroke="#333" stroke-width="0.9"/>
<text x="249.2" y="349.09999999999997" font-size="6.5" text-anchor="start" font-weight="normal" fill="#333"  stroke="#333" stroke-width="0.18">R3</text>
<text x="246.8" y="356.8" font-size="6.5" text-anchor="start" font-weight="normal" fill="#333"  stroke="#333" stroke-width="0.18">0.60</text>
<text x="253.9" y="372.0" font-size="6.5" text-anchor="start" font-weight="normal" fill="#333"  stroke="#333" stroke-width="0.18">R4</text>
<text x="251.8" y="380.09999999999997" font-size="6.5" text-anchor="start" font-weight="normal" fill="#333"  stroke="#333" stroke-width="0.18">1.70</text>
<text x="254.2" y="415.59999999999997" font-size="6.5" text-anchor="start" font-weight="normal" fill="#333"  stroke="#333" stroke-width="0.18">R5</text>
<text x="251.2" y="423.0" font-size="6.5" text-anchor="start" font-weight="normal" fill="#333"  stroke="#333" stroke-width="0.18">96.1</text>
<rect x="294.50" y="338.00" width="99.00" height="98.00" fill="#fff" stroke="#c8c8c8" stroke-width="1"/>
<text x="290.9" y="350.2" font-size="6.9" text-anchor="end" fill="#333">10<tspan font-size="4.28" dy="-3">5</tspan></text>
<line x1="292.30" y1="347.90" x2="294.50" y2="347.90" stroke="#333" stroke-width="0.8" />
<text x="290.9" y="372.6" font-size="6.9" text-anchor="end" fill="#333">10<tspan font-size="4.28" dy="-3">4</tspan></text>
<line x1="292.30" y1="370.30" x2="294.50" y2="370.30" stroke="#333" stroke-width="0.8" />
<text x="290.9" y="398.8" font-size="6.9" text-anchor="end" fill="#333">10<tspan font-size="4.28" dy="-3">3</tspan></text>
<line x1="292.30" y1="396.50" x2="294.50" y2="396.50" stroke="#333" stroke-width="0.8" />
<text x="289.5" y="416.0" font-size="6.9" text-anchor="end" font-weight="normal" fill="#333"  stroke="#333" stroke-width="0.18">0</text>
<line x1="292.30" y1="413.50" x2="294.50" y2="413.50" stroke="#333" stroke-width="0.8" />
<text x="290.9" y="433.7" font-size="6.9" text-anchor="end" fill="#333">−10<tspan font-size="4.28" dy="-3">3</tspan></text>
<line x1="292.30" y1="431.40" x2="294.50" y2="431.40" stroke="#333" stroke-width="0.8" />
<line x1="293.30" y1="363.56" x2="294.50" y2="363.56" stroke="#555" stroke-width="0.5" />
<line x1="293.30" y1="359.61" x2="294.50" y2="359.61" stroke="#555" stroke-width="0.5" />
<line x1="293.30" y1="356.81" x2="294.50" y2="356.81" stroke="#555" stroke-width="0.5" />
<line x1="293.30" y1="354.64" x2="294.50" y2="354.64" stroke="#555" stroke-width="0.5" />
<line x1="293.30" y1="352.87" x2="294.50" y2="352.87" stroke="#555" stroke-width="0.5" />
<line x1="293.30" y1="351.37" x2="294.50" y2="351.37" stroke="#555" stroke-width="0.5" />
<line x1="293.30" y1="350.07" x2="294.50" y2="350.07" stroke="#555" stroke-width="0.5" />
<line x1="293.30" y1="348.92" x2="294.50" y2="348.92" stroke="#555" stroke-width="0.5" />
<line x1="293.30" y1="388.61" x2="294.50" y2="388.61" stroke="#555" stroke-width="0.5" />
<line x1="293.30" y1="384.00" x2="294.50" y2="384.00" stroke="#555" stroke-width="0.5" />
<line x1="293.30" y1="380.73" x2="294.50" y2="380.73" stroke="#555" stroke-width="0.5" />
<line x1="293.30" y1="378.19" x2="294.50" y2="378.19" stroke="#555" stroke-width="0.5" />
<line x1="293.30" y1="376.11" x2="294.50" y2="376.11" stroke="#555" stroke-width="0.5" />
<line x1="293.30" y1="374.36" x2="294.50" y2="374.36" stroke="#555" stroke-width="0.5" />
<line x1="293.30" y1="372.84" x2="294.50" y2="372.84" stroke="#555" stroke-width="0.5" />
<line x1="293.30" y1="371.50" x2="294.50" y2="371.50" stroke="#555" stroke-width="0.5" />
<line x1="293.30" y1="399.00" x2="294.50" y2="399.00" stroke="#555" stroke-width="0.5" />
<line x1="293.30" y1="401.00" x2="294.50" y2="401.00" stroke="#555" stroke-width="0.5" />
<line x1="293.30" y1="403.00" x2="294.50" y2="403.00" stroke="#555" stroke-width="0.5" />
<line x1="293.30" y1="405.00" x2="294.50" y2="405.00" stroke="#555" stroke-width="0.5" />
<line x1="293.30" y1="407.00" x2="294.50" y2="407.00" stroke="#555" stroke-width="0.5" />
<line x1="293.30" y1="409.00" x2="294.50" y2="409.00" stroke="#555" stroke-width="0.5" />
<line x1="293.30" y1="410.50" x2="294.50" y2="410.50" stroke="#555" stroke-width="0.5" />
<line x1="293.30" y1="412.00" x2="294.50" y2="412.00" stroke="#555" stroke-width="0.5" />
<line x1="293.30" y1="413.00" x2="294.50" y2="413.00" stroke="#555" stroke-width="0.5" />
<line x1="293.30" y1="414.00" x2="294.50" y2="414.00" stroke="#555" stroke-width="0.5" />
<line x1="293.30" y1="415.00" x2="294.50" y2="415.00" stroke="#555" stroke-width="0.5" />
<line x1="293.30" y1="416.50" x2="294.50" y2="416.50" stroke="#555" stroke-width="0.5" />
<line x1="293.30" y1="418.00" x2="294.50" y2="418.00" stroke="#555" stroke-width="0.5" />
<line x1="293.30" y1="420.00" x2="294.50" y2="420.00" stroke="#555" stroke-width="0.5" />
<line x1="293.30" y1="422.00" x2="294.50" y2="422.00" stroke="#555" stroke-width="0.5" />
<line x1="293.30" y1="424.00" x2="294.50" y2="424.00" stroke="#555" stroke-width="0.5" />
<line x1="293.30" y1="426.00" x2="294.50" y2="426.00" stroke="#555" stroke-width="0.5" />
<line x1="293.30" y1="428.00" x2="294.50" y2="428.00" stroke="#555" stroke-width="0.5" />
<rect x="292.80" y="410.80" width="1.70" height="5.40" fill="#222" />
<line x1="298.90" y1="436.00" x2="298.90" y2="438.20" stroke="#333" stroke-width="0.8" />
<line x1="317.10" y1="436.00" x2="317.10" y2="438.20" stroke="#333" stroke-width="0.8" />
<line x1="332.90" y1="436.00" x2="332.90" y2="438.20" stroke="#333" stroke-width="0.8" />
<line x1="360.80" y1="436.00" x2="360.80" y2="438.20" stroke="#333" stroke-width="0.8" />
<line x1="383.40" y1="436.00" x2="383.40" y2="438.20" stroke="#333" stroke-width="0.8" />
<line x1="341.30" y1="436.00" x2="341.30" y2="437.30" stroke="#555" stroke-width="0.5" />
<line x1="346.21" y1="436.00" x2="346.21" y2="437.30" stroke="#555" stroke-width="0.5" />
<line x1="349.70" y1="436.00" x2="349.70" y2="437.30" stroke="#555" stroke-width="0.5" />
<line x1="352.40" y1="436.00" x2="352.40" y2="437.30" stroke="#555" stroke-width="0.5" />
<line x1="354.61" y1="436.00" x2="354.61" y2="437.30" stroke="#555" stroke-width="0.5" />
<line x1="356.48" y1="436.00" x2="356.48" y2="437.30" stroke="#555" stroke-width="0.5" />
<line x1="358.10" y1="436.00" x2="358.10" y2="437.30" stroke="#555" stroke-width="0.5" />
<line x1="359.52" y1="436.00" x2="359.52" y2="437.30" stroke="#555" stroke-width="0.5" />
<line x1="367.60" y1="436.00" x2="367.60" y2="437.30" stroke="#555" stroke-width="0.5" />
<line x1="371.58" y1="436.00" x2="371.58" y2="437.30" stroke="#555" stroke-width="0.5" />
<line x1="374.41" y1="436.00" x2="374.41" y2="437.30" stroke="#555" stroke-width="0.5" />
<line x1="376.60" y1="436.00" x2="376.60" y2="437.30" stroke="#555" stroke-width="0.5" />
<line x1="378.39" y1="436.00" x2="378.39" y2="437.30" stroke="#555" stroke-width="0.5" />
<line x1="379.90" y1="436.00" x2="379.90" y2="437.30" stroke="#555" stroke-width="0.5" />
<line x1="381.21" y1="436.00" x2="381.21" y2="437.30" stroke="#555" stroke-width="0.5" />
<line x1="382.37" y1="436.00" x2="382.37" y2="437.30" stroke="#555" stroke-width="0.5" />
<line x1="302.50" y1="436.00" x2="302.50" y2="437.30" stroke="#555" stroke-width="0.5" />
<line x1="305.50" y1="436.00" x2="305.50" y2="437.30" stroke="#555" stroke-width="0.5" />
<line x1="308.00" y1="436.00" x2="308.00" y2="437.30" stroke="#555" stroke-width="0.5" />
<line x1="310.00" y1="436.00" x2="310.00" y2="437.30" stroke="#555" stroke-width="0.5" />
<line x1="312.00" y1="436.00" x2="312.00" y2="437.30" stroke="#555" stroke-width="0.5" />
<line x1="313.50" y1="436.00" x2="313.50" y2="437.30" stroke="#555" stroke-width="0.5" />
<line x1="315.00" y1="436.00" x2="315.00" y2="437.30" stroke="#555" stroke-width="0.5" />
<line x1="316.00" y1="436.00" x2="316.00" y2="437.30" stroke="#555" stroke-width="0.5" />
<line x1="318.00" y1="436.00" x2="318.00" y2="437.30" stroke="#555" stroke-width="0.5" />
<line x1="319.00" y1="436.00" x2="319.00" y2="437.30" stroke="#555" stroke-width="0.5" />
<line x1="320.50" y1="436.00" x2="320.50" y2="437.30" stroke="#555" stroke-width="0.5" />
<line x1="322.50" y1="436.00" x2="322.50" y2="437.30" stroke="#555" stroke-width="0.5" />
<line x1="324.50" y1="436.00" x2="324.50" y2="437.30" stroke="#555" stroke-width="0.5" />
<line x1="327.00" y1="436.00" x2="327.00" y2="437.30" stroke="#555" stroke-width="0.5" />
<line x1="329.50" y1="436.00" x2="329.50" y2="437.30" stroke="#555" stroke-width="0.5" />
<rect x="314.10" y="436.00" width="5.50" height="1.70" fill="#222" />
<text x="304.4" y="446.1" font-size="6.9" text-anchor="end" fill="#333">−10<tspan font-size="4.28" dy="-3">3</tspan></text>
<text x="317.1" y="446.1" font-size="6.9" text-anchor="middle" font-weight="normal" fill="#333"  stroke="#333" stroke-width="0.18">0</text>
<text x="337.9" y="446.1" font-size="6.9" text-anchor="end" fill="#333">10<tspan font-size="4.28" dy="-3">3</tspan></text>
<text x="366.0" y="446.1" font-size="6.9" text-anchor="end" fill="#333">10<tspan font-size="4.28" dy="-3">4</tspan></text>
<text x="388.4" y="446.1" font-size="6.9" text-anchor="end" fill="#333">10<tspan font-size="4.28" dy="-3">5</tspan></text>
<text x="297.3" y="347.3" font-size="8.5" text-anchor="start" font-weight="normal" fill="#222" stroke="#222" stroke-width="0.05">G1s</text>
<g filter="url(#fb)">
<ellipse cx="346.3" cy="356.6" rx="5.2" ry="4.2" fill="#3a62cc" fill-opacity="0.75" filter="url(#fb2)"/>
<path d="M343.7,361 L348.9,361 L353.3,405 L339.3,405 Z" fill="#3a60c8" fill-opacity="0.5" filter="url(#fb2)"/>
<path d="M340.8 361.2h0.75v0.75h-0.75zM341.1 353.8h0.75v0.75h-0.75zM349.0 357.4h0.75v0.75h-0.75zM346.9 363.8h0.75v0.75h-0.75zM353.7 354.2h0.75v0.75h-0.75zM351.7 357.2h0.75v0.75h-0.75zM350.9 355.2h0.75v0.75h-0.75zM345.6 356.8h0.75v0.75h-0.75zM341.8 356.1h0.75v0.75h-0.75zM366.3 354.8h0.75v0.75h-0.75zM335.5 355.9h0.75v0.75h-0.75zM344.5 352.0h0.75v0.75h-0.75zM348.0 355.0h0.75v0.75h-0.75zM353.8 362.5h0.75v0.75h-0.75zM338.0 355.3h0.75v0.75h-0.75zM337.9 351.3h0.75v0.75h-0.75zM347.8 358.5h0.75v0.75h-0.75zM344.6 363.8h0.75v0.75h-0.75zM336.8 355.8h0.75v0.75h-0.75zM348.6 352.4h0.75v0.75h-0.75zM346.9 349.0h0.75v0.75h-0.75zM339.9 355.7h0.75v0.75h-0.75zM340.8 356.8h0.75v0.75h-0.75zM349.9 361.1h0.75v0.75h-0.75zM350.9 353.6h0.75v0.75h-0.75zM342.3 357.9h0.75v0.75h-0.75zM343.5 364.8h0.75v0.75h-0.75zM347.4 354.3h0.75v0.75h-0.75zM341.8 355.6h0.75v0.75h-0.75zM345.7 357.4h0.75v0.75h-0.75zM342.9 353.7h0.75v0.75h-0.75zM346.4 354.2h0.75v0.75h-0.75zM340.8 355.5h0.75v0.75h-0.75zM346.3 354.9h0.75v0.75h-0.75zM349.7 351.3h0.75v0.75h-0.75zM347.8 358.4h0.75v0.75h-0.75zM348.2 355.4h0.75v0.75h-0.75zM343.0 354.2h0.75v0.75h-0.75zM338.5 364.7h0.75v0.75h-0.75zM350.5 358.0h0.75v0.75h-0.75zM354.0 356.3h0.75v0.75h-0.75zM349.5 356.6h0.75v0.75h-0.75zM341.5 347.2h0.75v0.75h-0.75zM352.1 360.7h0.75v0.75h-0.75zM351.8 355.4h0.75v0.75h-0.75zM352.1 359.9h0.75v0.75h-0.75zM355.9 357.7h0.75v0.75h-0.75zM354.5 348.9h0.75v0.75h-0.75zM354.1 359.3h0.75v0.75h-0.75zM340.7 355.9h0.75v0.75h-0.75zM351.4 361.0h0.75v0.75h-0.75zM353.5 361.0h0.75v0.75h-0.75zM348.0 356.1h0.75v0.75h-0.75zM351.4 353.1h0.75v0.75h-0.75zM341.2 358.6h0.75v0.75h-0.75zM346.6 356.1h0.75v0.75h-0.75zM355.3 345.9h0.75v0.75h-0.75zM346.0 359.1h0.75v0.75h-0.75zM346.1 361.8h0.75v0.75h-0.75zM339.6 355.1h0.75v0.75h-0.75zM343.9 354.0h0.75v0.75h-0.75zM339.8 355.4h0.75v0.75h-0.75zM341.3 351.9h0.75v0.75h-0.75zM351.2 355.8h0.75v0.75h-0.75zM339.1 355.6h0.75v0.75h-0.75zM351.1 359.3h0.75v0.75h-0.75zM348.0 361.0h0.75v0.75h-0.75zM346.3 353.0h0.75v0.75h-0.75zM343.5 356.6h0.75v0.75h-0.75zM331.1 362.6h0.75v0.75h-0.75zM352.5 353.5h0.75v0.75h-0.75zM345.6 358.1h0.75v0.75h-0.75zM358.8 349.8h0.75v0.75h-0.75zM354.6 357.2h0.75v0.75h-0.75zM343.9 357.7h0.75v0.75h-0.75zM341.6 349.6h0.75v0.75h-0.75zM335.4 364.3h0.75v0.75h-0.75zM344.0 354.1h0.75v0.75h-0.75zM346.4 354.0h0.75v0.75h-0.75zM340.5 358.7h0.75v0.75h-0.75zM349.0 357.7h0.75v0.75h-0.75zM338.5 361.4h0.75v0.75h-0.75zM349.9 360.3h0.75v0.75h-0.75zM344.6 354.4h0.75v0.75h-0.75zM338.6 361.7h0.75v0.75h-0.75zM349.9 351.0h0.75v0.75h-0.75zM347.3 355.7h0.75v0.75h-0.75zM348.3 359.7h0.75v0.75h-0.75zM354.5 357.5h0.75v0.75h-0.75zM340.5 352.1h0.75v0.75h-0.75zM341.8 353.0h0.75v0.75h-0.75zM350.3 353.5h0.75v0.75h-0.75zM346.4 358.8h0.75v0.75h-0.75zM344.1 363.7h0.75v0.75h-0.75zM334.0 358.4h0.75v0.75h-0.75zM341.4 356.4h0.75v0.75h-0.75zM346.5 355.3h0.75v0.75h-0.75zM341.8 356.5h0.75v0.75h-0.75zM341.2 356.4h0.75v0.75h-0.75zM342.9 351.0h0.75v0.75h-0.75zM355.7 356.0h0.75v0.75h-0.75zM342.4 358.0h0.75v0.75h-0.75zM352.4 362.7h0.75v0.75h-0.75zM350.0 358.8h0.75v0.75h-0.75zM341.1 363.8h0.75v0.75h-0.75zM344.1 356.3h0.75v0.75h-0.75zM349.1 359.3h0.75v0.75h-0.75zM348.0 355.7h0.75v0.75h-0.75zM348.3 362.4h0.75v0.75h-0.75zM355.2 358.7h0.75v0.75h-0.75zM351.6 352.2h0.75v0.75h-0.75zM345.0 351.2h0.75v0.75h-0.75zM360.5 348.9h0.75v0.75h-0.75zM339.1 352.5h0.75v0.75h-0.75zM344.4 348.8h0.75v0.75h-0.75zM340.0 359.2h0.75v0.75h-0.75zM336.8 360.0h0.75v0.75h-0.75zM350.2 352.7h0.75v0.75h-0.75zM329.4 352.9h0.75v0.75h-0.75zM347.3 353.2h0.75v0.75h-0.75zM345.2 356.2h0.75v0.75h-0.75zM346.4 363.2h0.75v0.75h-0.75zM351.7 361.0h0.75v0.75h-0.75zM348.7 346.1h0.75v0.75h-0.75zM345.8 356.6h0.75v0.75h-0.75zM339.5 358.8h0.75v0.75h-0.75zM348.7 348.1h0.75v0.75h-0.75zM354.2 357.7h0.75v0.75h-0.75zM347.1 352.8h0.75v0.75h-0.75zM354.7 345.5h0.75v0.75h-0.75zM343.6 360.8h0.75v0.75h-0.75zM357.1 357.7h0.75v0.75h-0.75zM358.6 354.0h0.75v0.75h-0.75zM341.0 364.1h0.75v0.75h-0.75zM356.2 356.1h0.75v0.75h-0.75zM354.0 357.5h0.75v0.75h-0.75zM347.4 358.0h0.75v0.75h-0.75zM356.3 350.9h0.75v0.75h-0.75zM344.0 355.5h0.75v0.75h-0.75zM343.2 355.8h0.75v0.75h-0.75zM338.5 354.2h0.75v0.75h-0.75zM352.4 355.0h0.75v0.75h-0.75zM347.4 358.6h0.75v0.75h-0.75zM358.8 353.5h0.75v0.75h-0.75zM343.7 359.4h0.75v0.75h-0.75zM351.5 351.2h0.75v0.75h-0.75zM342.1 353.9h0.75v0.75h-0.75zM347.6 355.9h0.75v0.75h-0.75zM353.5 362.8h0.75v0.75h-0.75zM355.2 353.6h0.75v0.75h-0.75zM344.0 352.4h0.75v0.75h-0.75zM342.3 360.1h0.75v0.75h-0.75zM350.6 347.4h0.75v0.75h-0.75zM347.6 360.4h0.75v0.75h-0.75zM337.8 358.4h0.75v0.75h-0.75zM359.9 348.3h0.75v0.75h-0.75zM343.5 351.2h0.75v0.75h-0.75zM349.5 356.9h0.75v0.75h-0.75zM356.8 356.7h0.75v0.75h-0.75zM346.2 355.5h0.75v0.75h-0.75zM355.2 351.9h0.75v0.75h-0.75zM346.0 353.2h0.75v0.75h-0.75zM345.1 360.8h0.75v0.75h-0.75zM343.7 360.3h0.75v0.75h-0.75zM342.8 351.5h0.75v0.75h-0.75zM338.4 367.4h0.75v0.75h-0.75zM347.5 361.1h0.75v0.75h-0.75zM346.5 356.7h0.75v0.75h-0.75zM342.1 360.7h0.75v0.75h-0.75zM352.3 353.1h0.75v0.75h-0.75zM352.8 360.8h0.75v0.75h-0.75zM355.3 357.4h0.75v0.75h-0.75zM355.3 360.1h0.75v0.75h-0.75zM348.5 349.1h0.75v0.75h-0.75zM341.5 361.9h0.75v0.75h-0.75zM343.1 355.7h0.75v0.75h-0.75zM346.6 353.3h0.75v0.75h-0.75zM359.2 353.7h0.75v0.75h-0.75zM357.7 356.4h0.75v0.75h-0.75zM345.8 356.4h0.75v0.75h-0.75zM339.2 356.9h0.75v0.75h-0.75zM351.6 356.4h0.75v0.75h-0.75zM348.3 352.9h0.75v0.75h-0.75zM352.1 353.0h0.75v0.75h-0.75zM344.4 352.8h0.75v0.75h-0.75zM357.4 356.7h0.75v0.75h-0.75zM345.7 360.9h0.75v0.75h-0.75zM345.3 351.2h0.75v0.75h-0.75zM349.2 358.2h0.75v0.75h-0.75zM354.4 348.5h0.75v0.75h-0.75zM343.1 360.8h0.75v0.75h-0.75zM351.4 355.5h0.75v0.75h-0.75zM336.4 355.7h0.75v0.75h-0.75zM343.0 351.7h0.75v0.75h-0.75zM349.4 352.3h0.75v0.75h-0.75zM348.7 359.4h0.75v0.75h-0.75zM345.0 360.0h0.75v0.75h-0.75zM356.9 361.3h0.75v0.75h-0.75zM341.6 351.1h0.75v0.75h-0.75zM341.7 350.3h0.75v0.75h-0.75zM343.0 357.0h0.75v0.75h-0.75zM348.4 357.9h0.75v0.75h-0.75zM357.4 354.7h0.75v0.75h-0.75zM341.9 351.9h0.75v0.75h-0.75zM340.6 358.0h0.75v0.75h-0.75zM357.4 357.5h0.75v0.75h-0.75zM345.3 356.7h0.75v0.75h-0.75zM355.1 354.3h0.75v0.75h-0.75zM352.6 356.3h0.75v0.75h-0.75zM344.5 360.2h0.75v0.75h-0.75zM354.4 356.0h0.75v0.75h-0.75zM342.7 351.0h0.75v0.75h-0.75zM342.2 361.4h0.75v0.75h-0.75zM349.0 356.9h0.75v0.75h-0.75zM351.8 356.3h0.75v0.75h-0.75zM350.3 352.9h0.75v0.75h-0.75zM356.6 352.4h0.75v0.75h-0.75zM353.2 346.0h0.75v0.75h-0.75zM342.1 351.2h0.75v0.75h-0.75zM351.4 350.5h0.75v0.75h-0.75zM338.9 358.7h0.75v0.75h-0.75zM357.7 359.5h0.75v0.75h-0.75zM362.2 359.7h0.75v0.75h-0.75zM340.6 347.6h0.75v0.75h-0.75zM343.6 352.9h0.75v0.75h-0.75zM340.7 355.9h0.75v0.75h-0.75zM358.1 360.2h0.75v0.75h-0.75zM350.0 358.5h0.75v0.75h-0.75zM343.1 361.4h0.75v0.75h-0.75zM343.1 357.8h0.75v0.75h-0.75zM342.9 354.2h0.75v0.75h-0.75zM352.6 362.5h0.75v0.75h-0.75zM338.3 357.8h0.75v0.75h-0.75zM366.1 358.0h0.75v0.75h-0.75zM351.2 360.6h0.75v0.75h-0.75zM350.5 359.2h0.75v0.75h-0.75zM349.2 351.2h0.75v0.75h-0.75zM351.0 355.8h0.75v0.75h-0.75zM357.8 349.8h0.75v0.75h-0.75zM341.3 364.0h0.75v0.75h-0.75zM346.2 362.2h0.75v0.75h-0.75zM344.0 360.3h0.75v0.75h-0.75zM339.1 350.3h0.75v0.75h-0.75zM346.6 357.5h0.75v0.75h-0.75zM345.8 362.5h0.75v0.75h-0.75zM344.0 359.7h0.75v0.75h-0.75zM344.0 352.6h0.75v0.75h-0.75zM352.7 353.3h0.75v0.75h-0.75zM334.7 356.8h0.75v0.75h-0.75zM353.8 357.3h0.75v0.75h-0.75zM343.3 350.8h0.75v0.75h-0.75zM341.3 357.6h0.75v0.75h-0.75zM359.5 351.3h0.75v0.75h-0.75zM347.3 360.3h0.75v0.75h-0.75zM350.9 356.1h0.75v0.75h-0.75zM344.2 359.1h0.75v0.75h-0.75zM346.7 353.9h0.75v0.75h-0.75zM335.9 358.3h0.75v0.75h-0.75zM351.1 357.9h0.75v0.75h-0.75zM342.6 360.2h0.75v0.75h-0.75zM348.8 402.5h0.75v0.75h-0.75zM352.3 388.3h0.75v0.75h-0.75zM359.1 397.5h0.75v0.75h-0.75zM342.6 370.0h0.75v0.75h-0.75zM347.5 377.0h0.75v0.75h-0.75zM346.8 379.7h0.75v0.75h-0.75zM337.8 381.3h0.75v0.75h-0.75zM340.9 367.9h0.75v0.75h-0.75zM345.5 403.6h0.75v0.75h-0.75zM343.4 391.8h0.75v0.75h-0.75zM350.9 368.1h0.75v0.75h-0.75zM348.6 368.9h0.75v0.75h-0.75zM338.8 390.9h0.75v0.75h-0.75zM349.2 376.2h0.75v0.75h-0.75zM355.6 388.7h0.75v0.75h-0.75zM353.9 396.4h0.75v0.75h-0.75zM345.2 378.3h0.75v0.75h-0.75zM344.5 389.3h0.75v0.75h-0.75zM348.3 373.0h0.75v0.75h-0.75zM345.9 364.2h0.75v0.75h-0.75zM342.7 400.4h0.75v0.75h-0.75zM342.0 366.7h0.75v0.75h-0.75zM346.2 381.5h0.75v0.75h-0.75zM344.0 396.4h0.75v0.75h-0.75zM351.2 387.8h0.75v0.75h-0.75zM350.4 380.5h0.75v0.75h-0.75zM335.1 396.5h0.75v0.75h-0.75zM341.8 394.9h0.75v0.75h-0.75zM351.3 383.9h0.75v0.75h-0.75zM358.7 376.3h0.75v0.75h-0.75zM348.4 389.5h0.75v0.75h-0.75zM344.5 365.1h0.75v0.75h-0.75zM346.1 396.1h0.75v0.75h-0.75zM343.9 375.7h0.75v0.75h-0.75zM336.5 389.0h0.75v0.75h-0.75zM342.6 383.2h0.75v0.75h-0.75zM346.7 370.9h0.75v0.75h-0.75zM342.2 374.2h0.75v0.75h-0.75zM346.3 368.9h0.75v0.75h-0.75zM348.2 369.5h0.75v0.75h-0.75zM348.9 384.7h0.75v0.75h-0.75zM348.9 392.3h0.75v0.75h-0.75zM346.4 370.6h0.75v0.75h-0.75zM345.5 375.9h0.75v0.75h-0.75zM342.3 369.2h0.75v0.75h-0.75zM344.7 394.4h0.75v0.75h-0.75zM347.4 381.3h0.75v0.75h-0.75zM344.9 388.1h0.75v0.75h-0.75zM342.4 365.5h0.75v0.75h-0.75zM353.5 372.9h0.75v0.75h-0.75zM346.8 365.5h0.75v0.75h-0.75zM346.4 388.3h0.75v0.75h-0.75zM341.2 369.3h0.75v0.75h-0.75zM342.2 368.1h0.75v0.75h-0.75zM345.0 401.6h0.75v0.75h-0.75zM344.7 370.9h0.75v0.75h-0.75zM348.4 379.4h0.75v0.75h-0.75zM339.1 370.8h0.75v0.75h-0.75zM345.2 399.5h0.75v0.75h-0.75zM345.5 385.5h0.75v0.75h-0.75zM340.0 374.8h0.75v0.75h-0.75zM343.8 367.9h0.75v0.75h-0.75zM350.2 366.3h0.75v0.75h-0.75zM349.3 393.9h0.75v0.75h-0.75zM345.0 374.3h0.75v0.75h-0.75zM336.6 383.4h0.75v0.75h-0.75zM347.9 367.0h0.75v0.75h-0.75zM346.8 394.4h0.75v0.75h-0.75zM356.0 397.3h0.75v0.75h-0.75zM347.1 401.4h0.75v0.75h-0.75zM353.4 375.5h0.75v0.75h-0.75zM344.7 371.0h0.75v0.75h-0.75zM348.0 370.8h0.75v0.75h-0.75zM344.0 364.3h0.75v0.75h-0.75zM344.2 363.7h0.75v0.75h-0.75zM341.4 370.3h0.75v0.75h-0.75zM343.4 401.1h0.75v0.75h-0.75zM348.8 373.1h0.75v0.75h-0.75zM347.4 390.4h0.75v0.75h-0.75zM339.7 366.0h0.75v0.75h-0.75zM345.4 389.5h0.75v0.75h-0.75zM348.7 390.5h0.75v0.75h-0.75zM354.7 370.2h0.75v0.75h-0.75zM350.8 365.2h0.75v0.75h-0.75zM344.1 383.4h0.75v0.75h-0.75zM349.6 404.4h0.75v0.75h-0.75zM349.0 365.7h0.75v0.75h-0.75zM348.3 387.7h0.75v0.75h-0.75zM344.7 386.6h0.75v0.75h-0.75zM340.3 382.7h0.75v0.75h-0.75zM353.2 404.2h0.75v0.75h-0.75zM349.4 376.6h0.75v0.75h-0.75zM337.7 404.1h0.75v0.75h-0.75zM346.8 396.1h0.75v0.75h-0.75zM345.6 404.5h0.75v0.75h-0.75zM345.5 369.5h0.75v0.75h-0.75zM347.2 368.4h0.75v0.75h-0.75zM347.2 403.0h0.75v0.75h-0.75zM346.4 380.2h0.75v0.75h-0.75zM343.4 371.8h0.75v0.75h-0.75zM359.7 404.3h0.75v0.75h-0.75zM349.7 365.5h0.75v0.75h-0.75zM340.5 383.1h0.75v0.75h-0.75zM349.0 388.5h0.75v0.75h-0.75zM347.9 368.3h0.75v0.75h-0.75zM344.4 373.7h0.75v0.75h-0.75zM347.1 365.2h0.75v0.75h-0.75zM352.8 382.9h0.75v0.75h-0.75zM349.6 403.1h0.75v0.75h-0.75zM342.9 376.0h0.75v0.75h-0.75zM345.7 384.1h0.75v0.75h-0.75zM351.9 390.4h0.75v0.75h-0.75zM353.9 372.4h0.75v0.75h-0.75zM342.5 391.2h0.75v0.75h-0.75zM353.5 393.2h0.75v0.75h-0.75zM346.3 380.5h0.75v0.75h-0.75zM347.5 390.3h0.75v0.75h-0.75zM342.3 372.3h0.75v0.75h-0.75zM344.2 404.9h0.75v0.75h-0.75zM341.3 366.7h0.75v0.75h-0.75zM339.6 380.2h0.75v0.75h-0.75zM340.6 375.8h0.75v0.75h-0.75zM345.1 366.7h0.75v0.75h-0.75zM336.2 386.0h0.75v0.75h-0.75zM343.9 392.9h0.75v0.75h-0.75zM349.0 367.9h0.75v0.75h-0.75zM348.0 367.3h0.75v0.75h-0.75zM336.9 387.0h0.75v0.75h-0.75zM337.1 385.9h0.75v0.75h-0.75zM345.7 366.6h0.75v0.75h-0.75zM352.7 372.1h0.75v0.75h-0.75zM358.0 383.7h0.75v0.75h-0.75zM342.7 392.7h0.75v0.75h-0.75zM357.6 395.7h0.75v0.75h-0.75zM359.7 379.6h0.75v0.75h-0.75zM346.2 394.9h0.75v0.75h-0.75zM357.0 377.3h0.75v0.75h-0.75zM341.8 386.8h0.75v0.75h-0.75zM343.7 378.2h0.75v0.75h-0.75zM344.2 367.9h0.75v0.75h-0.75zM342.8 375.7h0.75v0.75h-0.75zM350.4 385.6h0.75v0.75h-0.75zM341.8 401.9h0.75v0.75h-0.75zM342.1 383.4h0.75v0.75h-0.75zM342.0 396.3h0.75v0.75h-0.75zM342.9 378.8h0.75v0.75h-0.75zM343.2 394.1h0.75v0.75h-0.75zM343.7 369.1h0.75v0.75h-0.75zM352.1 370.1h0.75v0.75h-0.75zM348.5 398.4h0.75v0.75h-0.75zM351.4 387.0h0.75v0.75h-0.75zM347.0 372.4h0.75v0.75h-0.75zM341.2 367.1h0.75v0.75h-0.75zM337.9 398.3h0.75v0.75h-0.75zM346.4 397.1h0.75v0.75h-0.75zM353.1 375.3h0.75v0.75h-0.75zM346.5 377.6h0.75v0.75h-0.75zM345.4 389.0h0.75v0.75h-0.75zM343.4 376.3h0.75v0.75h-0.75zM346.8 371.4h0.75v0.75h-0.75zM341.5 403.5h0.75v0.75h-0.75zM347.4 390.2h0.75v0.75h-0.75zM337.3 400.0h0.75v0.75h-0.75zM346.8 397.5h0.75v0.75h-0.75zM337.7 400.1h0.75v0.75h-0.75zM347.3 369.4h0.75v0.75h-0.75zM349.0 369.5h0.75v0.75h-0.75zM345.6 385.7h0.75v0.75h-0.75zM348.7 372.2h0.75v0.75h-0.75zM348.8 380.8h0.75v0.75h-0.75zM349.2 373.3h0.75v0.75h-0.75zM343.7 401.3h0.75v0.75h-0.75zM351.9 390.6h0.75v0.75h-0.75zM344.3 363.8h0.75v0.75h-0.75zM348.0 369.3h0.75v0.75h-0.75zM347.1 365.2h0.75v0.75h-0.75zM340.6 373.2h0.75v0.75h-0.75zM346.6 371.2h0.75v0.75h-0.75zM346.3 380.3h0.75v0.75h-0.75zM343.7 392.3h0.75v0.75h-0.75zM352.2 366.6h0.75v0.75h-0.75zM347.2 385.5h0.75v0.75h-0.75zM345.7 388.3h0.75v0.75h-0.75zM349.4 386.9h0.75v0.75h-0.75zM353.8 375.9h0.75v0.75h-0.75zM345.6 400.6h0.75v0.75h-0.75zM343.8 370.5h0.75v0.75h-0.75zM348.8 368.1h0.75v0.75h-0.75zM343.1 383.2h0.75v0.75h-0.75zM344.5 370.4h0.75v0.75h-0.75zM346.7 364.2h0.75v0.75h-0.75zM355.4 404.6h0.75v0.75h-0.75zM346.5 393.0h0.75v0.75h-0.75zM349.3 371.5h0.75v0.75h-0.75zM361.9 399.8h0.75v0.75h-0.75zM347.1 395.4h0.75v0.75h-0.75zM344.5 375.5h0.75v0.75h-0.75zM345.5 392.5h0.75v0.75h-0.75zM349.8 367.4h0.75v0.75h-0.75zM345.3 389.7h0.75v0.75h-0.75zM357.9 403.5h0.75v0.75h-0.75zM340.4 388.9h0.75v0.75h-0.75zM339.1 378.7h0.75v0.75h-0.75zM345.1 376.3h0.75v0.75h-0.75zM334.0 402.5h0.75v0.75h-0.75zM340.9 369.3h0.75v0.75h-0.75zM342.3 383.8h0.75v0.75h-0.75zM346.2 386.5h0.75v0.75h-0.75zM343.9 383.9h0.75v0.75h-0.75zM349.5 384.7h0.75v0.75h-0.75zM346.4 379.4h0.75v0.75h-0.75zM348.0 382.1h0.75v0.75h-0.75zM355.0 391.4h0.75v0.75h-0.75zM351.9 368.8h0.75v0.75h-0.75zM352.3 367.4h0.75v0.75h-0.75zM348.4 370.9h0.75v0.75h-0.75zM345.4 365.6h0.75v0.75h-0.75zM343.4 377.8h0.75v0.75h-0.75zM344.0 387.1h0.75v0.75h-0.75zM355.9 380.7h0.75v0.75h-0.75zM342.8 389.6h0.75v0.75h-0.75zM339.7 394.4h0.75v0.75h-0.75zM348.6 375.5h0.75v0.75h-0.75zM353.0 397.9h0.75v0.75h-0.75zM336.1 383.0h0.75v0.75h-0.75zM348.9 398.4h0.75v0.75h-0.75zM344.1 402.9h0.75v0.75h-0.75zM339.6 380.4h0.75v0.75h-0.75zM350.0 372.9h0.75v0.75h-0.75zM338.1 403.8h0.75v0.75h-0.75zM348.7 373.1h0.75v0.75h-0.75zM344.5 394.2h0.75v0.75h-0.75zM349.7 381.3h0.75v0.75h-0.75zM341.5 375.4h0.75v0.75h-0.75zM350.4 396.8h0.75v0.75h-0.75zM355.1 389.5h0.75v0.75h-0.75zM348.8 394.3h0.75v0.75h-0.75zM343.7 399.7h0.75v0.75h-0.75zM351.6 394.7h0.75v0.75h-0.75zM333.0 387.9h0.75v0.75h-0.75zM331.1 395.7h0.75v0.75h-0.75zM347.0 383.9h0.75v0.75h-0.75zM351.8 385.5h0.75v0.75h-0.75zM346.7 368.1h0.75v0.75h-0.75zM345.1 363.3h0.75v0.75h-0.75zM346.1 367.3h0.75v0.75h-0.75zM348.1 403.6h0.75v0.75h-0.75zM352.0 393.6h0.75v0.75h-0.75zM348.7 364.5h0.75v0.75h-0.75zM343.4 366.0h0.75v0.75h-0.75zM344.3 367.1h0.75v0.75h-0.75zM353.3 384.6h0.75v0.75h-0.75zM352.4 375.9h0.75v0.75h-0.75zM349.0 373.5h0.75v0.75h-0.75zM341.0 382.0h0.75v0.75h-0.75zM351.2 402.5h0.75v0.75h-0.75zM350.5 396.6h0.75v0.75h-0.75zM343.5 389.9h0.75v0.75h-0.75zM346.8 391.3h0.75v0.75h-0.75zM339.1 401.7h0.75v0.75h-0.75zM350.5 383.2h0.75v0.75h-0.75zM341.8 393.1h0.75v0.75h-0.75zM347.0 372.3h0.75v0.75h-0.75zM353.5 389.4h0.75v0.75h-0.75zM352.1 384.2h0.75v0.75h-0.75zM338.7 381.1h0.75v0.75h-0.75zM345.0 366.1h0.75v0.75h-0.75zM349.4 397.7h0.75v0.75h-0.75zM343.4 374.3h0.75v0.75h-0.75zM339.5 382.4h0.75v0.75h-0.75zM341.1 400.0h0.75v0.75h-0.75zM352.6 402.7h0.75v0.75h-0.75zM346.0 371.1h0.75v0.75h-0.75zM345.4 373.2h0.75v0.75h-0.75zM355.4 383.5h0.75v0.75h-0.75zM340.7 396.1h0.75v0.75h-0.75zM343.8 368.7h0.75v0.75h-0.75zM345.0 366.9h0.75v0.75h-0.75zM349.3 394.0h0.75v0.75h-0.75zM341.2 387.4h0.75v0.75h-0.75zM345.5 377.5h0.75v0.75h-0.75zM348.7 394.3h0.75v0.75h-0.75zM345.1 393.3h0.75v0.75h-0.75zM352.7 404.5h0.75v0.75h-0.75zM344.9 372.1h0.75v0.75h-0.75zM346.4 401.8h0.75v0.75h-0.75zM340.5 394.8h0.75v0.75h-0.75zM345.7 369.6h0.75v0.75h-0.75zM344.0 369.9h0.75v0.75h-0.75zM342.4 378.1h0.75v0.75h-0.75zM348.8 385.6h0.75v0.75h-0.75zM356.7 388.7h0.75v0.75h-0.75zM345.2 368.5h0.75v0.75h-0.75zM348.4 383.9h0.75v0.75h-0.75zM350.0 381.8h0.75v0.75h-0.75zM363.2 392.6h0.75v0.75h-0.75zM341.7 378.7h0.75v0.75h-0.75zM343.1 366.8h0.75v0.75h-0.75zM342.9 384.7h0.75v0.75h-0.75zM344.3 379.0h0.75v0.75h-0.75zM338.8 390.3h0.75v0.75h-0.75zM340.1 371.2h0.75v0.75h-0.75zM347.7 378.2h0.75v0.75h-0.75zM345.3 366.5h0.75v0.75h-0.75zM346.0 365.7h0.75v0.75h-0.75zM349.0 378.6h0.75v0.75h-0.75zM346.6 383.6h0.75v0.75h-0.75zM354.4 392.4h0.75v0.75h-0.75zM353.9 376.4h0.75v0.75h-0.75zM357.0 381.2h0.75v0.75h-0.75zM350.5 366.3h0.75v0.75h-0.75zM351.3 381.3h0.75v0.75h-0.75zM346.5 402.4h0.75v0.75h-0.75zM343.9 394.8h0.75v0.75h-0.75zM361.2 403.5h0.75v0.75h-0.75zM346.4 389.3h0.75v0.75h-0.75zM348.7 401.7h0.75v0.75h-0.75zM342.3 375.1h0.75v0.75h-0.75zM349.1 363.6h0.75v0.75h-0.75zM348.1 366.5h0.75v0.75h-0.75zM343.7 368.5h0.75v0.75h-0.75zM348.3 403.5h0.75v0.75h-0.75zM342.1 370.8h0.75v0.75h-0.75zM344.5 380.1h0.75v0.75h-0.75zM358.3 396.2h0.75v0.75h-0.75zM344.5 365.7h0.75v0.75h-0.75zM338.0 377.9h0.75v0.75h-0.75zM353.1 392.0h0.75v0.75h-0.75zM343.9 378.6h0.75v0.75h-0.75zM337.4 366.6h0.75v0.75h-0.75zM347.4 403.9h0.75v0.75h-0.75zM346.6 365.0h0.75v0.75h-0.75zM341.4 399.2h0.75v0.75h-0.75zM357.0 388.8h0.75v0.75h-0.75zM348.2 365.1h0.75v0.75h-0.75zM345.7 402.7h0.75v0.75h-0.75zM343.8 400.4h0.75v0.75h-0.75zM345.9 366.6h0.75v0.75h-0.75zM348.4 372.8h0.75v0.75h-0.75zM352.3 371.8h0.75v0.75h-0.75zM354.1 381.3h0.75v0.75h-0.75zM350.9 377.3h0.75v0.75h-0.75zM345.7 364.1h0.75v0.75h-0.75zM338.8 384.0h0.75v0.75h-0.75zM341.2 394.8h0.75v0.75h-0.75zM357.2 396.9h0.75v0.75h-0.75zM346.6 382.8h0.75v0.75h-0.75zM342.1 386.0h0.75v0.75h-0.75zM353.6 389.2h0.75v0.75h-0.75zM349.7 397.0h0.75v0.75h-0.75zM354.4 404.2h0.75v0.75h-0.75zM346.5 387.9h0.75v0.75h-0.75zM347.4 367.3h0.75v0.75h-0.75zM346.3 390.0h0.75v0.75h-0.75zM350.5 381.9h0.75v0.75h-0.75zM331.0 402.1h0.75v0.75h-0.75zM347.9 403.9h0.75v0.75h-0.75zM346.0 367.5h0.75v0.75h-0.75zM341.6 383.2h0.75v0.75h-0.75zM335.2 397.5h0.75v0.75h-0.75zM342.3 394.5h0.75v0.75h-0.75zM346.8 372.2h0.75v0.75h-0.75zM345.4 394.6h0.75v0.75h-0.75zM348.6 391.3h0.75v0.75h-0.75zM343.9 387.4h0.75v0.75h-0.75zM342.3 373.0h0.75v0.75h-0.75zM336.8 403.8h0.75v0.75h-0.75zM346.4 390.6h0.75v0.75h-0.75zM347.6 363.4h0.75v0.75h-0.75zM352.6 402.8h0.75v0.75h-0.75zM350.5 364.8h0.75v0.75h-0.75zM344.3 380.9h0.75v0.75h-0.75zM354.3 394.1h0.75v0.75h-0.75zM342.4 363.6h0.75v0.75h-0.75zM338.2 399.2h0.75v0.75h-0.75zM353.9 383.9h0.75v0.75h-0.75zM354.0 399.2h0.75v0.75h-0.75zM349.9 398.0h0.75v0.75h-0.75zM347.5 376.3h0.75v0.75h-0.75zM343.8 386.4h0.75v0.75h-0.75zM346.2 363.9h0.75v0.75h-0.75zM341.8 391.7h0.75v0.75h-0.75zM342.4 366.7h0.75v0.75h-0.75zM348.4 369.5h0.75v0.75h-0.75zM344.3 375.6h0.75v0.75h-0.75zM340.1 387.9h0.75v0.75h-0.75zM346.3 364.9h0.75v0.75h-0.75zM340.1 388.8h0.75v0.75h-0.75zM347.1 364.1h0.75v0.75h-0.75zM345.7 385.3h0.75v0.75h-0.75zM346.2 380.5h0.75v0.75h-0.75zM348.2 373.3h0.75v0.75h-0.75zM350.1 397.1h0.75v0.75h-0.75zM352.8 400.3h0.75v0.75h-0.75zM347.6 375.3h0.75v0.75h-0.75zM344.7 376.9h0.75v0.75h-0.75zM348.9 378.8h0.75v0.75h-0.75zM347.6 387.3h0.75v0.75h-0.75zM349.9 379.5h0.75v0.75h-0.75zM346.4 373.9h0.75v0.75h-0.75zM341.8 380.4h0.75v0.75h-0.75zM344.0 398.6h0.75v0.75h-0.75zM344.5 398.4h0.75v0.75h-0.75zM338.9 401.7h0.75v0.75h-0.75zM344.8 375.2h0.75v0.75h-0.75zM347.4 381.0h0.75v0.75h-0.75zM353.1 404.8h0.75v0.75h-0.75zM346.0 382.2h0.75v0.75h-0.75zM339.7 373.2h0.75v0.75h-0.75zM347.6 374.8h0.75v0.75h-0.75zM359.3 404.7h0.75v0.75h-0.75zM346.1 368.9h0.75v0.75h-0.75zM355.0 365.9h0.75v0.75h-0.75zM343.7 389.1h0.75v0.75h-0.75zM346.3 374.0h0.75v0.75h-0.75zM353.5 369.8h0.75v0.75h-0.75zM348.1 384.2h0.75v0.75h-0.75zM350.5 400.1h0.75v0.75h-0.75zM341.2 400.6h0.75v0.75h-0.75zM344.1 371.6h0.75v0.75h-0.75zM348.3 366.6h0.75v0.75h-0.75zM348.2 365.5h0.75v0.75h-0.75zM350.0 375.3h0.75v0.75h-0.75zM353.8 393.0h0.75v0.75h-0.75zM354.0 403.4h0.75v0.75h-0.75zM357.3 397.7h0.75v0.75h-0.75zM340.1 400.5h0.75v0.75h-0.75zM335.9 398.4h0.75v0.75h-0.75zM346.3 365.1h0.75v0.75h-0.75zM332.2 402.4h0.75v0.75h-0.75zM341.2 389.6h0.75v0.75h-0.75zM347.9 386.0h0.75v0.75h-0.75zM339.1 379.4h0.75v0.75h-0.75zM352.5 392.9h0.75v0.75h-0.75zM346.0 381.5h0.75v0.75h-0.75zM344.7 394.8h0.75v0.75h-0.75zM335.9 383.5h0.75v0.75h-0.75zM355.4 373.2h0.75v0.75h-0.75zM352.8 372.7h0.75v0.75h-0.75zM345.6 373.9h0.75v0.75h-0.75zM353.2 393.6h0.75v0.75h-0.75zM343.0 374.3h0.75v0.75h-0.75zM342.2 374.4h0.75v0.75h-0.75zM345.7 405.0h0.75v0.75h-0.75zM345.6 378.8h0.75v0.75h-0.75zM343.5 364.6h0.75v0.75h-0.75zM349.6 365.8h0.75v0.75h-0.75zM344.6 392.3h0.75v0.75h-0.75zM348.1 378.8h0.75v0.75h-0.75zM351.4 389.6h0.75v0.75h-0.75zM340.6 385.4h0.75v0.75h-0.75zM348.1 381.0h0.75v0.75h-0.75zM350.3 399.0h0.75v0.75h-0.75zM348.4 365.4h0.75v0.75h-0.75zM341.6 399.7h0.75v0.75h-0.75zM351.3 364.1h0.75v0.75h-0.75zM350.9 394.5h0.75v0.75h-0.75zM349.0 378.6h0.75v0.75h-0.75zM351.2 385.9h0.75v0.75h-0.75zM333.6 394.1h0.75v0.75h-0.75zM351.3 390.3h0.75v0.75h-0.75zM344.2 377.8h0.75v0.75h-0.75zM340.4 365.8h0.75v0.75h-0.75zM346.1 366.0h0.75v0.75h-0.75zM343.7 385.1h0.75v0.75h-0.75zM342.6 373.7h0.75v0.75h-0.75zM346.9 402.1h0.75v0.75h-0.75zM345.2 374.6h0.75v0.75h-0.75zM340.3 383.6h0.75v0.75h-0.75zM349.9 376.8h0.75v0.75h-0.75zM347.2 373.4h0.75v0.75h-0.75zM353.5 399.0h0.75v0.75h-0.75zM347.6 385.1h0.75v0.75h-0.75zM350.3 369.7h0.75v0.75h-0.75zM338.9 371.6h0.75v0.75h-0.75zM341.9 397.9h0.75v0.75h-0.75zM351.7 402.4h0.75v0.75h-0.75zM344.9 364.3h0.75v0.75h-0.75zM349.2 400.6h0.75v0.75h-0.75zM345.4 371.5h0.75v0.75h-0.75zM347.3 374.5h0.75v0.75h-0.75zM343.7 368.9h0.75v0.75h-0.75zM354.1 403.2h0.75v0.75h-0.75zM357.8 402.7h0.75v0.75h-0.75zM345.0 380.2h0.75v0.75h-0.75zM348.0 379.2h0.75v0.75h-0.75zM346.8 394.9h0.75v0.75h-0.75zM349.6 392.1h0.75v0.75h-0.75zM348.7 395.9h0.75v0.75h-0.75zM353.5 380.7h0.75v0.75h-0.75zM344.2 380.3h0.75v0.75h-0.75zM350.7 404.3h0.75v0.75h-0.75zM339.3 388.8h0.75v0.75h-0.75zM336.2 391.0h0.75v0.75h-0.75zM346.5 365.5h0.75v0.75h-0.75zM347.7 364.6h0.75v0.75h-0.75zM344.2 367.4h0.75v0.75h-0.75zM340.9 377.5h0.75v0.75h-0.75zM354.8 402.3h0.75v0.75h-0.75zM349.2 403.6h0.75v0.75h-0.75zM352.8 401.2h0.75v0.75h-0.75zM339.2 391.7h0.75v0.75h-0.75zM352.8 398.6h0.75v0.75h-0.75zM349.3 380.3h0.75v0.75h-0.75zM362.5 401.2h0.75v0.75h-0.75zM343.2 394.8h0.75v0.75h-0.75zM347.3 372.0h0.75v0.75h-0.75zM350.3 364.1h0.75v0.75h-0.75zM348.9 364.3h0.75v0.75h-0.75zM345.3 384.4h0.75v0.75h-0.75zM351.4 402.9h0.75v0.75h-0.75zM354.2 386.5h0.75v0.75h-0.75zM348.0 392.6h0.75v0.75h-0.75zM335.4 393.2h0.75v0.75h-0.75zM348.7 373.3h0.75v0.75h-0.75zM346.4 381.4h0.75v0.75h-0.75zM351.2 402.0h0.75v0.75h-0.75zM343.9 370.3h0.75v0.75h-0.75zM350.9 369.8h0.75v0.75h-0.75zM335.3 402.5h0.75v0.75h-0.75zM346.8 378.1h0.75v0.75h-0.75zM340.5 385.5h0.75v0.75h-0.75zM345.0 367.9h0.75v0.75h-0.75zM342.2 401.1h0.75v0.75h-0.75zM346.4 374.5h0.75v0.75h-0.75zM345.3 395.9h0.75v0.75h-0.75zM335.7 401.8h0.75v0.75h-0.75zM339.0 382.7h0.75v0.75h-0.75zM349.4 383.4h0.75v0.75h-0.75zM345.6 367.2h0.75v0.75h-0.75zM351.7 396.5h0.75v0.75h-0.75zM357.3 390.0h0.75v0.75h-0.75zM346.9 398.7h0.75v0.75h-0.75zM339.2 389.9h0.75v0.75h-0.75zM345.3 393.1h0.75v0.75h-0.75zM344.9 371.4h0.75v0.75h-0.75zM346.0 379.6h0.75v0.75h-0.75zM342.4 377.3h0.75v0.75h-0.75zM346.5 385.1h0.75v0.75h-0.75zM346.8 363.5h0.75v0.75h-0.75zM342.0 374.5h0.75v0.75h-0.75zM344.4 375.7h0.75v0.75h-0.75zM341.5 365.9h0.75v0.75h-0.75zM342.4 388.3h0.75v0.75h-0.75zM348.1 395.8h0.75v0.75h-0.75zM346.7 371.1h0.75v0.75h-0.75zM339.4 391.5h0.75v0.75h-0.75zM344.8 363.7h0.75v0.75h-0.75zM346.7 366.4h0.75v0.75h-0.75zM349.2 366.2h0.75v0.75h-0.75zM348.2 401.9h0.75v0.75h-0.75zM344.9 399.5h0.75v0.75h-0.75zM342.2 390.8h0.75v0.75h-0.75zM343.7 368.0h0.75v0.75h-0.75zM346.6 396.7h0.75v0.75h-0.75zM349.2 368.5h0.75v0.75h-0.75zM350.4 371.6h0.75v0.75h-0.75zM348.9 365.0h0.75v0.75h-0.75zM353.6 399.1h0.75v0.75h-0.75zM345.6 367.9h0.75v0.75h-0.75zM354.2 389.3h0.75v0.75h-0.75zM344.5 379.0h0.75v0.75h-0.75zM333.8 389.4h0.75v0.75h-0.75zM348.9 363.9h0.75v0.75h-0.75zM340.4 401.3h0.75v0.75h-0.75zM353.2 373.6h0.75v0.75h-0.75zM350.9 390.3h0.75v0.75h-0.75zM349.8 382.4h0.75v0.75h-0.75zM345.2 377.5h0.75v0.75h-0.75zM347.5 398.5h0.75v0.75h-0.75zM338.0 395.4h0.75v0.75h-0.75zM342.6 380.4h0.75v0.75h-0.75zM352.0 387.6h0.75v0.75h-0.75zM343.6 364.0h0.75v0.75h-0.75zM351.1 369.5h0.75v0.75h-0.75zM351.9 379.4h0.75v0.75h-0.75zM345.0 382.0h0.75v0.75h-0.75zM347.9 377.9h0.75v0.75h-0.75zM351.3 389.9h0.75v0.75h-0.75zM342.3 400.8h0.75v0.75h-0.75zM345.4 380.4h0.75v0.75h-0.75zM358.2 372.1h0.75v0.75h-0.75zM355.3 397.9h0.75v0.75h-0.75zM350.8 383.5h0.75v0.75h-0.75zM347.9 400.9h0.75v0.75h-0.75zM346.9 387.9h0.75v0.75h-0.75zM348.0 365.6h0.75v0.75h-0.75zM349.2 397.8h0.75v0.75h-0.75zM344.4 367.8h0.75v0.75h-0.75zM338.3 392.6h0.75v0.75h-0.75zM343.2 384.1h0.75v0.75h-0.75zM351.4 375.5h0.75v0.75h-0.75zM361.4 403.7h0.75v0.75h-0.75zM350.4 377.9h0.75v0.75h-0.75zM355.2 396.8h0.75v0.75h-0.75zM338.6 363.2h0.75v0.75h-0.75zM346.3 367.5h0.75v0.75h-0.75zM340.7 396.2h0.75v0.75h-0.75zM346.4 392.4h0.75v0.75h-0.75zM338.4 363.6h0.75v0.75h-0.75zM351.7 366.2h0.75v0.75h-0.75zM344.2 392.6h0.75v0.75h-0.75zM348.1 364.8h0.75v0.75h-0.75zM339.4 382.4h0.75v0.75h-0.75zM353.3 402.3h0.75v0.75h-0.75zM347.5 394.9h0.75v0.75h-0.75zM349.7 381.0h0.75v0.75h-0.75zM345.1 400.0h0.75v0.75h-0.75zM336.8 390.0h0.75v0.75h-0.75zM329.6 401.5h0.75v0.75h-0.75zM347.7 370.5h0.75v0.75h-0.75zM345.3 389.2h0.75v0.75h-0.75zM341.6 366.3h0.75v0.75h-0.75zM356.5 392.7h0.75v0.75h-0.75zM354.1 392.9h0.75v0.75h-0.75zM358.2 394.1h0.75v0.75h-0.75zM341.9 393.0h0.75v0.75h-0.75zM347.1 391.0h0.75v0.75h-0.75zM336.9 385.9h0.75v0.75h-0.75zM348.9 379.8h0.75v0.75h-0.75zM349.8 388.1h0.75v0.75h-0.75zM346.2 379.5h0.75v0.75h-0.75zM347.3 364.1h0.75v0.75h-0.75zM345.4 397.5h0.75v0.75h-0.75zM351.8 366.3h0.75v0.75h-0.75zM347.4 391.1h0.75v0.75h-0.75zM343.4 385.7h0.75v0.75h-0.75zM346.6 365.9h0.75v0.75h-0.75zM344.3 386.0h0.75v0.75h-0.75zM342.4 378.5h0.75v0.75h-0.75zM349.4 377.3h0.75v0.75h-0.75zM352.5 384.3h0.75v0.75h-0.75zM340.3 402.7h0.75v0.75h-0.75zM342.2 371.4h0.75v0.75h-0.75zM344.6 369.3h0.75v0.75h-0.75zM346.6 363.5h0.75v0.75h-0.75zM354.5 380.2h0.75v0.75h-0.75zM348.2 395.8h0.75v0.75h-0.75zM349.8 388.7h0.75v0.75h-0.75zM353.9 383.6h0.75v0.75h-0.75zM339.6 379.3h0.75v0.75h-0.75zM347.5 389.5h0.75v0.75h-0.75zM343.3 368.6h0.75v0.75h-0.75zM358.8 390.9h0.75v0.75h-0.75zM355.0 379.1h0.75v0.75h-0.75zM341.8 369.2h0.75v0.75h-0.75zM352.6 384.8h0.75v0.75h-0.75zM343.2 367.7h0.75v0.75h-0.75zM345.9 400.2h0.75v0.75h-0.75zM355.7 378.9h0.75v0.75h-0.75zM347.1 392.9h0.75v0.75h-0.75zM351.3 388.6h0.75v0.75h-0.75zM339.6 381.1h0.75v0.75h-0.75zM341.3 368.5h0.75v0.75h-0.75zM345.9 379.1h0.75v0.75h-0.75zM351.2 373.5h0.75v0.75h-0.75zM352.4 398.7h0.75v0.75h-0.75zM352.2 395.4h0.75v0.75h-0.75zM340.2 389.2h0.75v0.75h-0.75zM354.9 403.9h0.75v0.75h-0.75zM341.3 378.5h0.75v0.75h-0.75zM349.9 395.8h0.75v0.75h-0.75zM351.8 389.3h0.75v0.75h-0.75zM338.0 384.7h0.75v0.75h-0.75zM350.1 383.3h0.75v0.75h-0.75zM355.8 377.7h0.75v0.75h-0.75zM344.2 365.3h0.75v0.75h-0.75zM351.7 403.0h0.75v0.75h-0.75zM339.0 396.2h0.75v0.75h-0.75zM358.0 387.7h0.75v0.75h-0.75zM352.2 380.4h0.75v0.75h-0.75zM343.7 370.5h0.75v0.75h-0.75zM348.3 364.0h0.75v0.75h-0.75zM349.8 399.9h0.75v0.75h-0.75zM355.5 403.3h0.75v0.75h-0.75zM343.2 399.2h0.75v0.75h-0.75zM351.1 400.2h0.75v0.75h-0.75zM345.9 381.0h0.75v0.75h-0.75zM346.5 372.2h0.75v0.75h-0.75zM345.1 395.9h0.75v0.75h-0.75zM344.8 364.9h0.75v0.75h-0.75zM346.4 392.0h0.75v0.75h-0.75zM344.7 383.3h0.75v0.75h-0.75zM346.2 365.6h0.75v0.75h-0.75zM345.7 368.9h0.75v0.75h-0.75zM349.6 375.9h0.75v0.75h-0.75zM353.1 386.1h0.75v0.75h-0.75zM345.8 384.8h0.75v0.75h-0.75zM346.9 382.3h0.75v0.75h-0.75zM336.1 397.6h0.75v0.75h-0.75zM346.7 379.3h0.75v0.75h-0.75zM345.5 373.4h0.75v0.75h-0.75zM345.4 389.3h0.75v0.75h-0.75zM348.4 395.0h0.75v0.75h-0.75zM334.8 401.0h0.75v0.75h-0.75zM349.9 390.5h0.75v0.75h-0.75zM349.4 379.6h0.75v0.75h-0.75zM342.8 392.4h0.75v0.75h-0.75zM357.0 404.2h0.75v0.75h-0.75zM341.8 374.4h0.75v0.75h-0.75zM348.8 377.1h0.75v0.75h-0.75zM343.1 367.2h0.75v0.75h-0.75zM344.5 379.8h0.75v0.75h-0.75zM344.8 373.8h0.75v0.75h-0.75zM339.1 389.4h0.75v0.75h-0.75zM342.3 369.3h0.75v0.75h-0.75zM347.2 385.5h0.75v0.75h-0.75zM349.0 402.7h0.75v0.75h-0.75zM349.5 403.4h0.75v0.75h-0.75zM342.8 364.3h0.75v0.75h-0.75zM349.3 364.0h0.75v0.75h-0.75zM340.3 391.4h0.75v0.75h-0.75zM339.8 390.9h0.75v0.75h-0.75zM340.9 389.2h0.75v0.75h-0.75zM349.8 372.8h0.75v0.75h-0.75zM349.6 383.4h0.75v0.75h-0.75zM350.1 364.3h0.75v0.75h-0.75zM339.5 375.1h0.75v0.75h-0.75zM345.5 367.2h0.75v0.75h-0.75zM345.9 392.8h0.75v0.75h-0.75zM344.7 385.5h0.75v0.75h-0.75zM346.5 375.7h0.75v0.75h-0.75zM346.5 374.4h0.75v0.75h-0.75zM344.4 365.8h0.75v0.75h-0.75zM346.1 391.6h0.75v0.75h-0.75zM344.0 396.1h0.75v0.75h-0.75zM343.1 403.9h0.75v0.75h-0.75zM352.0 391.4h0.75v0.75h-0.75zM344.8 366.0h0.75v0.75h-0.75zM350.3 384.4h0.75v0.75h-0.75zM355.9 391.3h0.75v0.75h-0.75zM341.7 386.1h0.75v0.75h-0.75zM343.2 367.1h0.75v0.75h-0.75zM348.4 366.6h0.75v0.75h-0.75zM341.3 367.5h0.75v0.75h-0.75zM347.6 373.3h0.75v0.75h-0.75zM325.6 405.0h0.75v0.75h-0.75zM351.9 397.1h0.75v0.75h-0.75zM347.1 366.3h0.75v0.75h-0.75zM342.5 366.3h0.75v0.75h-0.75zM345.2 380.4h0.75v0.75h-0.75zM339.7 400.1h0.75v0.75h-0.75zM344.4 393.7h0.75v0.75h-0.75zM354.1 403.0h0.75v0.75h-0.75zM350.0 388.7h0.75v0.75h-0.75zM349.3 370.7h0.75v0.75h-0.75zM343.4 373.6h0.75v0.75h-0.75zM344.3 404.0h0.75v0.75h-0.75zM339.1 386.2h0.75v0.75h-0.75zM345.3 368.5h0.75v0.75h-0.75zM338.8 391.8h0.75v0.75h-0.75zM345.1 366.6h0.75v0.75h-0.75zM346.2 384.4h0.75v0.75h-0.75zM342.4 380.2h0.75v0.75h-0.75zM353.4 400.5h0.75v0.75h-0.75zM349.2 389.0h0.75v0.75h-0.75zM338.0 367.9h0.75v0.75h-0.75zM351.1 385.5h0.75v0.75h-0.75zM346.1 377.8h0.75v0.75h-0.75zM350.8 381.8h0.75v0.75h-0.75zM340.4 377.6h0.75v0.75h-0.75zM346.0 393.5h0.75v0.75h-0.75zM346.8 397.2h0.75v0.75h-0.75zM347.7 383.5h0.75v0.75h-0.75zM349.4 381.3h0.75v0.75h-0.75zM351.1 381.1h0.75v0.75h-0.75zM343.7 388.1h0.75v0.75h-0.75zM349.1 364.9h0.75v0.75h-0.75zM344.3 368.7h0.75v0.75h-0.75zM346.5 403.4h0.75v0.75h-0.75zM352.7 368.7h0.75v0.75h-0.75zM345.8 382.3h0.75v0.75h-0.75zM342.1 382.1h0.75v0.75h-0.75zM347.0 373.5h0.75v0.75h-0.75zM341.3 378.3h0.75v0.75h-0.75zM354.5 390.3h0.75v0.75h-0.75zM352.3 400.7h0.75v0.75h-0.75zM346.1 385.7h0.75v0.75h-0.75zM352.0 378.5h0.75v0.75h-0.75zM350.7 365.4h0.75v0.75h-0.75zM353.6 375.2h0.75v0.75h-0.75zM337.3 380.7h0.75v0.75h-0.75zM338.6 402.1h0.75v0.75h-0.75zM337.4 384.5h0.75v0.75h-0.75zM347.1 395.3h0.75v0.75h-0.75zM336.1 404.6h0.75v0.75h-0.75zM344.4 372.0h0.75v0.75h-0.75zM346.7 363.7h0.75v0.75h-0.75zM345.9 383.2h0.75v0.75h-0.75zM334.3 388.2h0.75v0.75h-0.75zM349.4 388.4h0.75v0.75h-0.75zM340.6 367.5h0.75v0.75h-0.75zM348.1 366.4h0.75v0.75h-0.75zM345.3 376.8h0.75v0.75h-0.75zM339.1 393.5h0.75v0.75h-0.75zM349.2 367.3h0.75v0.75h-0.75zM349.1 380.9h0.75v0.75h-0.75zM351.9 371.8h0.75v0.75h-0.75zM333.7 404.2h0.75v0.75h-0.75zM342.0 376.5h0.75v0.75h-0.75zM359.1 403.4h0.75v0.75h-0.75zM336.2 391.6h0.75v0.75h-0.75zM338.6 397.6h0.75v0.75h-0.75zM349.6 370.8h0.75v0.75h-0.75zM348.0 371.4h0.75v0.75h-0.75zM362.4 399.0h0.75v0.75h-0.75zM349.0 368.3h0.75v0.75h-0.75zM342.0 379.3h0.75v0.75h-0.75zM352.6 378.6h0.75v0.75h-0.75zM353.1 399.9h0.75v0.75h-0.75zM349.9 366.2h0.75v0.75h-0.75zM345.2 374.7h0.75v0.75h-0.75zM351.5 371.0h0.75v0.75h-0.75zM353.0 395.2h0.75v0.75h-0.75zM357.2 391.6h0.75v0.75h-0.75zM350.5 387.6h0.75v0.75h-0.75zM346.9 396.9h0.75v0.75h-0.75zM342.8 386.8h0.75v0.75h-0.75zM347.2 384.7h0.75v0.75h-0.75zM340.3 378.0h0.75v0.75h-0.75zM359.1 402.8h0.75v0.75h-0.75zM362.5 390.5h0.75v0.75h-0.75zM349.5 368.7h0.75v0.75h-0.75zM351.5 369.7h0.75v0.75h-0.75zM347.5 374.5h0.75v0.75h-0.75zM359.0 394.7h0.75v0.75h-0.75zM346.7 374.8h0.75v0.75h-0.75zM361.7 396.6h0.75v0.75h-0.75zM352.0 368.8h0.75v0.75h-0.75zM347.0 368.5h0.75v0.75h-0.75zM331.1 390.6h0.75v0.75h-0.75zM345.4 383.5h0.75v0.75h-0.75zM349.3 399.1h0.75v0.75h-0.75zM344.8 371.0h0.75v0.75h-0.75zM358.5 387.9h0.75v0.75h-0.75zM344.1 386.0h0.75v0.75h-0.75zM348.4 388.4h0.75v0.75h-0.75zM349.3 378.9h0.75v0.75h-0.75zM353.6 394.0h0.75v0.75h-0.75zM350.3 390.2h0.75v0.75h-0.75zM345.4 374.0h0.75v0.75h-0.75zM348.2 403.5h0.75v0.75h-0.75zM350.5 402.6h0.75v0.75h-0.75zM344.4 377.3h0.75v0.75h-0.75zM340.7 381.6h0.75v0.75h-0.75zM341.1 369.4h0.75v0.75h-0.75zM343.2 391.3h0.75v0.75h-0.75zM348.6 390.2h0.75v0.75h-0.75zM347.5 364.3h0.75v0.75h-0.75zM348.8 383.8h0.75v0.75h-0.75zM340.8 403.4h0.75v0.75h-0.75zM347.5 371.6h0.75v0.75h-0.75zM346.5 403.8h0.75v0.75h-0.75zM352.9 382.3h0.75v0.75h-0.75zM343.4 382.5h0.75v0.75h-0.75zM340.2 372.1h0.75v0.75h-0.75zM355.3 380.5h0.75v0.75h-0.75zM338.0 398.1h0.75v0.75h-0.75zM345.4 386.1h0.75v0.75h-0.75zM349.2 386.1h0.75v0.75h-0.75zM350.3 393.9h0.75v0.75h-0.75zM344.9 387.7h0.75v0.75h-0.75zM344.6 369.7h0.75v0.75h-0.75zM350.7 392.5h0.75v0.75h-0.75zM349.6 369.6h0.75v0.75h-0.75zM343.8 379.3h0.75v0.75h-0.75zM342.4 383.0h0.75v0.75h-0.75zM345.9 368.9h0.75v0.75h-0.75zM347.4 385.7h0.75v0.75h-0.75zM344.6 390.9h0.75v0.75h-0.75zM341.5 398.1h0.75v0.75h-0.75zM349.7 384.3h0.75v0.75h-0.75zM345.4 375.0h0.75v0.75h-0.75zM347.1 374.4h0.75v0.75h-0.75zM347.7 375.7h0.75v0.75h-0.75zM342.4 394.4h0.75v0.75h-0.75zM348.7 378.7h0.75v0.75h-0.75zM348.8 372.6h0.75v0.75h-0.75zM342.4 400.3h0.75v0.75h-0.75zM346.9 373.2h0.75v0.75h-0.75zM354.3 399.2h0.75v0.75h-0.75zM354.0 378.8h0.75v0.75h-0.75zM356.9 404.8h0.75v0.75h-0.75zM346.4 369.6h0.75v0.75h-0.75zM352.0 403.3h0.75v0.75h-0.75zM352.8 378.7h0.75v0.75h-0.75zM345.8 390.9h0.75v0.75h-0.75zM342.8 364.3h0.75v0.75h-0.75zM358.5 396.0h0.75v0.75h-0.75zM340.9 378.3h0.75v0.75h-0.75zM341.8 402.9h0.75v0.75h-0.75zM350.8 398.1h0.75v0.75h-0.75zM352.0 384.6h0.75v0.75h-0.75zM344.9 389.1h0.75v0.75h-0.75zM343.4 386.0h0.75v0.75h-0.75zM348.5 369.6h0.75v0.75h-0.75zM355.4 380.4h0.75v0.75h-0.75zM345.6 378.1h0.75v0.75h-0.75zM351.3 364.8h0.75v0.75h-0.75zM348.7 364.2h0.75v0.75h-0.75zM349.3 377.4h0.75v0.75h-0.75zM344.1 402.3h0.75v0.75h-0.75zM348.4 391.7h0.75v0.75h-0.75zM350.8 398.2h0.75v0.75h-0.75zM346.8 400.7h0.75v0.75h-0.75zM352.0 404.4h0.75v0.75h-0.75zM344.5 379.1h0.75v0.75h-0.75zM346.7 368.2h0.75v0.75h-0.75zM339.5 366.9h0.75v0.75h-0.75zM344.4 367.0h0.75v0.75h-0.75zM338.9 402.4h0.75v0.75h-0.75zM346.2 400.3h0.75v0.75h-0.75zM349.6 399.0h0.75v0.75h-0.75zM338.1 402.0h0.75v0.75h-0.75zM350.8 388.0h0.75v0.75h-0.75zM348.3 375.0h0.75v0.75h-0.75zM341.0 389.3h0.75v0.75h-0.75zM343.7 384.9h0.75v0.75h-0.75zM341.8 381.6h0.75v0.75h-0.75zM347.9 373.0h0.75v0.75h-0.75zM337.2 401.4h0.75v0.75h-0.75zM340.3 364.9h0.75v0.75h-0.75zM339.8 381.6h0.75v0.75h-0.75zM347.2 401.6h0.75v0.75h-0.75zM344.6 389.1h0.75v0.75h-0.75zM347.8 383.2h0.75v0.75h-0.75zM348.1 387.7h0.75v0.75h-0.75zM348.3 365.0h0.75v0.75h-0.75zM343.9 375.0h0.75v0.75h-0.75zM348.7 377.0h0.75v0.75h-0.75zM340.9 396.2h0.75v0.75h-0.75zM343.6 397.7h0.75v0.75h-0.75zM339.7 392.3h0.75v0.75h-0.75zM336.1 392.3h0.75v0.75h-0.75zM336.6 403.8h0.75v0.75h-0.75zM340.2 369.2h0.75v0.75h-0.75zM351.4 389.4h0.75v0.75h-0.75zM344.5 404.2h0.75v0.75h-0.75zM342.3 394.8h0.75v0.75h-0.75zM333.8 391.5h0.75v0.75h-0.75zM357.7 380.9h0.75v0.75h-0.75zM346.1 380.9h0.75v0.75h-0.75zM342.5 364.5h0.75v0.75h-0.75zM341.9 380.2h0.75v0.75h-0.75zM350.9 364.3h0.75v0.75h-0.75zM349.8 376.7h0.75v0.75h-0.75zM348.3 379.3h0.75v0.75h-0.75zM339.8 402.9h0.75v0.75h-0.75zM349.2 377.6h0.75v0.75h-0.75zM352.6 402.6h0.75v0.75h-0.75zM347.7 363.5h0.75v0.75h-0.75zM347.6 377.4h0.75v0.75h-0.75zM348.6 375.7h0.75v0.75h-0.75zM338.5 402.2h0.75v0.75h-0.75zM346.3 380.7h0.75v0.75h-0.75zM337.3 390.2h0.75v0.75h-0.75zM344.4 382.9h0.75v0.75h-0.75zM349.2 395.8h0.75v0.75h-0.75zM352.4 400.6h0.75v0.75h-0.75zM356.4 397.8h0.75v0.75h-0.75zM332.7 391.2h0.75v0.75h-0.75zM349.1 376.5h0.75v0.75h-0.75zM343.0 379.5h0.75v0.75h-0.75zM348.6 376.2h0.75v0.75h-0.75zM344.0 367.0h0.75v0.75h-0.75zM338.1 394.9h0.75v0.75h-0.75zM348.3 388.8h0.75v0.75h-0.75zM338.3 373.3h0.75v0.75h-0.75zM344.0 373.6h0.75v0.75h-0.75zM342.5 390.8h0.75v0.75h-0.75zM343.9 394.6h0.75v0.75h-0.75zM353.6 385.1h0.75v0.75h-0.75zM349.6 394.6h0.75v0.75h-0.75zM348.4 371.8h0.75v0.75h-0.75zM344.9 365.9h0.75v0.75h-0.75zM340.3 397.2h0.75v0.75h-0.75zM354.2 402.4h0.75v0.75h-0.75zM349.1 381.4h0.75v0.75h-0.75zM342.6 386.5h0.75v0.75h-0.75zM348.4 393.8h0.75v0.75h-0.75zM353.5 364.9h0.75v0.75h-0.75zM346.3 384.5h0.75v0.75h-0.75zM345.5 398.1h0.75v0.75h-0.75zM343.6 369.8h0.75v0.75h-0.75zM343.3 390.2h0.75v0.75h-0.75zM336.7 387.5h0.75v0.75h-0.75zM348.7 386.9h0.75v0.75h-0.75zM339.0 384.9h0.75v0.75h-0.75zM340.7 380.9h0.75v0.75h-0.75zM347.1 380.3h0.75v0.75h-0.75zM345.2 401.9h0.75v0.75h-0.75zM349.4 366.5h0.75v0.75h-0.75zM347.1 364.5h0.75v0.75h-0.75zM357.9 400.4h0.75v0.75h-0.75zM348.3 390.4h0.75v0.75h-0.75zM344.2 365.7h0.75v0.75h-0.75zM349.3 403.6h0.75v0.75h-0.75zM351.6 390.9h0.75v0.75h-0.75zM352.7 372.1h0.75v0.75h-0.75zM348.2 404.2h0.75v0.75h-0.75zM347.6 402.1h0.75v0.75h-0.75zM349.1 370.2h0.75v0.75h-0.75zM353.7 390.2h0.75v0.75h-0.75zM343.5 378.0h0.75v0.75h-0.75zM350.4 398.9h0.75v0.75h-0.75zM342.9 365.7h0.75v0.75h-0.75zM345.3 396.3h0.75v0.75h-0.75zM347.9 376.6h0.75v0.75h-0.75zM348.3 386.8h0.75v0.75h-0.75zM347.7 394.7h0.75v0.75h-0.75zM341.4 376.3h0.75v0.75h-0.75zM354.3 401.2h0.75v0.75h-0.75zM361.2 397.5h0.75v0.75h-0.75zM346.5 385.7h0.75v0.75h-0.75zM353.0 387.2h0.75v0.75h-0.75zM352.3 375.7h0.75v0.75h-0.75zM337.6 372.2h0.75v0.75h-0.75zM351.6 374.1h0.75v0.75h-0.75zM341.3 385.2h0.75v0.75h-0.75zM338.8 367.2h0.75v0.75h-0.75zM347.8 387.8h0.75v0.75h-0.75zM345.4 384.7h0.75v0.75h-0.75zM339.0 374.0h0.75v0.75h-0.75zM348.9 378.8h0.75v0.75h-0.75zM347.1 401.9h0.75v0.75h-0.75zM342.3 394.3h0.75v0.75h-0.75zM343.7 379.6h0.75v0.75h-0.75zM353.6 404.9h0.75v0.75h-0.75zM344.2 396.1h0.75v0.75h-0.75zM345.8 378.1h0.75v0.75h-0.75zM343.4 363.7h0.75v0.75h-0.75zM350.6 370.5h0.75v0.75h-0.75zM353.3 384.5h0.75v0.75h-0.75zM348.1 370.7h0.75v0.75h-0.75zM343.7 372.6h0.75v0.75h-0.75zM342.8 382.5h0.75v0.75h-0.75zM348.5 386.1h0.75v0.75h-0.75zM346.8 379.8h0.75v0.75h-0.75zM350.4 382.8h0.75v0.75h-0.75zM351.8 384.7h0.75v0.75h-0.75zM353.6 374.6h0.75v0.75h-0.75zM352.8 396.1h0.75v0.75h-0.75zM345.9 372.1h0.75v0.75h-0.75zM354.1 369.6h0.75v0.75h-0.75zM349.6 392.5h0.75v0.75h-0.75zM354.9 396.6h0.75v0.75h-0.75zM344.2 395.3h0.75v0.75h-0.75zM340.4 388.2h0.75v0.75h-0.75zM349.8 385.1h0.75v0.75h-0.75zM339.2 394.9h0.75v0.75h-0.75zM350.8 375.2h0.75v0.75h-0.75zM346.2 376.0h0.75v0.75h-0.75zM344.7 378.3h0.75v0.75h-0.75zM344.6 385.3h0.75v0.75h-0.75zM345.3 398.0h0.75v0.75h-0.75zM350.1 399.4h0.75v0.75h-0.75zM348.3 391.5h0.75v0.75h-0.75zM349.3 400.7h0.75v0.75h-0.75zM346.6 379.3h0.75v0.75h-0.75zM351.0 373.0h0.75v0.75h-0.75zM353.2 403.6h0.75v0.75h-0.75zM349.7 402.3h0.75v0.75h-0.75zM341.5 370.6h0.75v0.75h-0.75zM340.6 371.6h0.75v0.75h-0.75zM348.4 384.8h0.75v0.75h-0.75zM343.5 376.6h0.75v0.75h-0.75zM339.0 387.6h0.75v0.75h-0.75zM350.5 403.0h0.75v0.75h-0.75zM351.1 389.4h0.75v0.75h-0.75zM344.8 368.3h0.75v0.75h-0.75zM352.4 396.1h0.75v0.75h-0.75zM359.0 398.8h0.75v0.75h-0.75zM342.5 404.6h0.75v0.75h-0.75zM339.7 400.4h0.75v0.75h-0.75zM347.6 381.3h0.75v0.75h-0.75zM343.1 390.1h0.75v0.75h-0.75zM351.6 393.4h0.75v0.75h-0.75zM349.4 379.8h0.75v0.75h-0.75zM342.1 363.6h0.75v0.75h-0.75zM364.6 403.0h0.75v0.75h-0.75zM346.0 374.7h0.75v0.75h-0.75zM353.7 390.1h0.75v0.75h-0.75zM338.0 385.4h0.75v0.75h-0.75zM345.0 402.3h0.75v0.75h-0.75zM349.9 392.8h0.75v0.75h-0.75zM340.1 381.2h0.75v0.75h-0.75zM359.9 400.3h0.75v0.75h-0.75zM342.0 384.9h0.75v0.75h-0.75zM343.5 388.1h0.75v0.75h-0.75zM346.7 381.9h0.75v0.75h-0.75zM349.1 397.8h0.75v0.75h-0.75zM350.1 369.7h0.75v0.75h-0.75zM341.6 398.7h0.75v0.75h-0.75zM344.7 386.2h0.75v0.75h-0.75zM345.2 365.6h0.75v0.75h-0.75zM349.9 371.4h0.75v0.75h-0.75zM349.2 379.9h0.75v0.75h-0.75zM347.6 389.8h0.75v0.75h-0.75zM345.9 389.9h0.75v0.75h-0.75zM352.6 374.8h0.75v0.75h-0.75zM347.2 384.1h0.75v0.75h-0.75zM350.6 390.9h0.75v0.75h-0.75zM356.9 391.9h0.75v0.75h-0.75zM348.2 371.3h0.75v0.75h-0.75zM348.9 366.3h0.75v0.75h-0.75zM352.4 380.5h0.75v0.75h-0.75zM353.0 377.9h0.75v0.75h-0.75zM350.5 399.0h0.75v0.75h-0.75zM348.5 389.3h0.75v0.75h-0.75zM346.4 389.6h0.75v0.75h-0.75zM340.7 369.3h0.75v0.75h-0.75zM338.4 392.9h0.75v0.75h-0.75zM346.1 380.5h0.75v0.75h-0.75zM344.5 389.1h0.75v0.75h-0.75zM343.9 373.6h0.75v0.75h-0.75zM357.8 403.8h0.75v0.75h-0.75zM344.9 368.5h0.75v0.75h-0.75zM349.4 363.3h0.75v0.75h-0.75zM355.5 391.2h0.75v0.75h-0.75zM350.6 384.9h0.75v0.75h-0.75zM346.6 386.1h0.75v0.75h-0.75zM353.4 391.0h0.75v0.75h-0.75zM348.7 402.3h0.75v0.75h-0.75zM348.8 375.7h0.75v0.75h-0.75zM336.6 404.5h0.75v0.75h-0.75zM347.7 380.0h0.75v0.75h-0.75zM349.7 382.8h0.75v0.75h-0.75zM343.4 378.9h0.75v0.75h-0.75zM342.7 381.1h0.75v0.75h-0.75zM347.3 381.9h0.75v0.75h-0.75zM353.2 385.7h0.75v0.75h-0.75zM346.6 363.7h0.75v0.75h-0.75zM343.9 383.3h0.75v0.75h-0.75zM350.2 389.1h0.75v0.75h-0.75zM345.1 385.0h0.75v0.75h-0.75zM345.3 371.5h0.75v0.75h-0.75zM341.7 374.2h0.75v0.75h-0.75zM345.0 385.8h0.75v0.75h-0.75zM342.6 402.9h0.75v0.75h-0.75zM350.8 404.4h0.75v0.75h-0.75zM349.9 367.7h0.75v0.75h-0.75zM341.3 396.5h0.75v0.75h-0.75zM343.2 377.3h0.75v0.75h-0.75zM343.4 392.2h0.75v0.75h-0.75zM343.6 388.3h0.75v0.75h-0.75zM352.6 368.5h0.75v0.75h-0.75zM349.0 388.4h0.75v0.75h-0.75zM349.6 387.6h0.75v0.75h-0.75zM343.7 369.9h0.75v0.75h-0.75zM333.4 399.6h0.75v0.75h-0.75zM337.8 369.9h0.75v0.75h-0.75zM345.5 383.7h0.75v0.75h-0.75zM341.6 381.5h0.75v0.75h-0.75zM345.9 372.5h0.75v0.75h-0.75zM349.9 374.2h0.75v0.75h-0.75zM338.5 377.1h0.75v0.75h-0.75zM349.7 384.6h0.75v0.75h-0.75zM347.4 384.0h0.75v0.75h-0.75zM338.2 396.3h0.75v0.75h-0.75zM346.7 363.0h0.75v0.75h-0.75zM341.7 399.6h0.75v0.75h-0.75zM350.2 384.5h0.75v0.75h-0.75zM349.1 380.1h0.75v0.75h-0.75zM350.6 370.9h0.75v0.75h-0.75zM349.4 379.2h0.75v0.75h-0.75zM334.5 402.1h0.75v0.75h-0.75zM345.0 387.1h0.75v0.75h-0.75zM346.8 400.2h0.75v0.75h-0.75zM353.1 395.9h0.75v0.75h-0.75zM345.4 380.9h0.75v0.75h-0.75zM345.2 400.9h0.75v0.75h-0.75zM348.2 375.9h0.75v0.75h-0.75zM345.1 373.6h0.75v0.75h-0.75zM338.5 366.8h0.75v0.75h-0.75zM362.8 400.0h0.75v0.75h-0.75zM348.7 400.2h0.75v0.75h-0.75zM342.5 374.2h0.75v0.75h-0.75zM352.4 396.9h0.75v0.75h-0.75zM342.7 398.9h0.75v0.75h-0.75zM351.9 395.4h0.75v0.75h-0.75zM353.9 384.4h0.75v0.75h-0.75zM347.0 367.7h0.75v0.75h-0.75zM343.2 384.7h0.75v0.75h-0.75zM349.1 367.0h0.75v0.75h-0.75zM353.9 364.7h0.75v0.75h-0.75zM351.3 387.6h0.75v0.75h-0.75zM339.8 392.6h0.75v0.75h-0.75zM357.0 400.9h0.75v0.75h-0.75zM348.3 368.8h0.75v0.75h-0.75zM344.6 381.2h0.75v0.75h-0.75zM349.2 401.5h0.75v0.75h-0.75zM343.7 383.8h0.75v0.75h-0.75zM343.4 367.6h0.75v0.75h-0.75zM347.7 393.2h0.75v0.75h-0.75zM335.0 402.0h0.75v0.75h-0.75zM340.8 404.4h0.75v0.75h-0.75zM348.9 369.6h0.75v0.75h-0.75zM348.6 377.4h0.75v0.75h-0.75zM347.5 401.6h0.75v0.75h-0.75zM345.8 399.6h0.75v0.75h-0.75zM352.3 382.6h0.75v0.75h-0.75zM340.5 383.0h0.75v0.75h-0.75zM345.0 371.7h0.75v0.75h-0.75zM353.0 394.7h0.75v0.75h-0.75zM342.0 390.6h0.75v0.75h-0.75zM343.9 368.8h0.75v0.75h-0.75zM343.5 378.1h0.75v0.75h-0.75zM348.1 388.3h0.75v0.75h-0.75zM344.7 389.6h0.75v0.75h-0.75zM345.5 365.7h0.75v0.75h-0.75zM327.7 398.4h0.75v0.75h-0.75zM347.9 389.7h0.75v0.75h-0.75zM349.7 394.0h0.75v0.75h-0.75zM347.8 391.5h0.75v0.75h-0.75zM345.9 371.5h0.75v0.75h-0.75zM344.4 364.8h0.75v0.75h-0.75zM343.3 374.2h0.75v0.75h-0.75zM348.3 367.9h0.75v0.75h-0.75zM346.9 365.8h0.75v0.75h-0.75zM342.3 396.6h0.75v0.75h-0.75zM353.5 382.8h0.75v0.75h-0.75zM341.4 388.0h0.75v0.75h-0.75zM342.0 370.7h0.75v0.75h-0.75zM348.5 367.0h0.75v0.75h-0.75zM348.6 364.5h0.75v0.75h-0.75zM350.6 374.8h0.75v0.75h-0.75zM342.6 366.4h0.75v0.75h-0.75zM338.3 390.5h0.75v0.75h-0.75zM342.2 388.9h0.75v0.75h-0.75zM336.8 396.6h0.75v0.75h-0.75zM346.4 368.4h0.75v0.75h-0.75zM349.0 385.6h0.75v0.75h-0.75zM344.8 383.6h0.75v0.75h-0.75zM341.8 391.0h0.75v0.75h-0.75zM342.3 401.2h0.75v0.75h-0.75zM348.6 365.1h0.75v0.75h-0.75zM350.8 365.1h0.75v0.75h-0.75zM349.6 364.4h0.75v0.75h-0.75zM344.3 367.0h0.75v0.75h-0.75zM352.4 378.3h0.75v0.75h-0.75zM347.3 370.3h0.75v0.75h-0.75zM350.9 393.8h0.75v0.75h-0.75zM345.6 389.3h0.75v0.75h-0.75zM354.5 390.0h0.75v0.75h-0.75zM343.5 391.3h0.75v0.75h-0.75zM344.6 401.0h0.75v0.75h-0.75zM347.2 383.3h0.75v0.75h-0.75zM341.3 379.5h0.75v0.75h-0.75zM348.1 367.7h0.75v0.75h-0.75zM341.3 378.1h0.75v0.75h-0.75zM341.6 369.7h0.75v0.75h-0.75zM349.0 368.7h0.75v0.75h-0.75zM348.6 363.1h0.75v0.75h-0.75zM330.7 400.9h0.75v0.75h-0.75zM345.5 364.6h0.75v0.75h-0.75zM345.5 370.1h0.75v0.75h-0.75zM338.7 397.0h0.75v0.75h-0.75zM344.1 382.3h0.75v0.75h-0.75zM348.5 380.1h0.75v0.75h-0.75zM349.0 397.1h0.75v0.75h-0.75zM350.5 393.7h0.75v0.75h-0.75zM352.7 377.9h0.75v0.75h-0.75zM342.1 395.0h0.75v0.75h-0.75zM349.2 404.1h0.75v0.75h-0.75zM335.0 387.1h0.75v0.75h-0.75zM343.9 367.7h0.75v0.75h-0.75zM345.8 395.5h0.75v0.75h-0.75zM338.8 400.0h0.75v0.75h-0.75zM355.6 402.3h0.75v0.75h-0.75zM344.2 380.0h0.75v0.75h-0.75zM345.1 370.1h0.75v0.75h-0.75zM352.0 396.0h0.75v0.75h-0.75zM336.9 384.4h0.75v0.75h-0.75zM340.7 377.5h0.75v0.75h-0.75zM349.9 370.4h0.75v0.75h-0.75zM342.1 392.1h0.75v0.75h-0.75zM338.9 375.0h0.75v0.75h-0.75zM346.3 381.5h0.75v0.75h-0.75zM343.0 389.2h0.75v0.75h-0.75zM354.2 386.5h0.75v0.75h-0.75zM346.7 376.4h0.75v0.75h-0.75zM347.8 368.7h0.75v0.75h-0.75zM352.3 385.6h0.75v0.75h-0.75zM341.7 404.9h0.75v0.75h-0.75zM350.6 393.5h0.75v0.75h-0.75zM355.5 378.8h0.75v0.75h-0.75zM349.9 366.8h0.75v0.75h-0.75zM344.1 402.0h0.75v0.75h-0.75zM348.1 370.4h0.75v0.75h-0.75zM343.7 378.3h0.75v0.75h-0.75zM339.0 380.0h0.75v0.75h-0.75zM334.4 377.1h0.75v0.75h-0.75zM343.7 392.4h0.75v0.75h-0.75zM339.4 403.2h0.75v0.75h-0.75zM351.5 377.9h0.75v0.75h-0.75zM348.3 378.8h0.75v0.75h-0.75zM341.7 397.2h0.75v0.75h-0.75zM349.1 376.2h0.75v0.75h-0.75zM351.2 369.6h0.75v0.75h-0.75zM340.7 384.5h0.75v0.75h-0.75zM345.4 367.3h0.75v0.75h-0.75zM343.7 373.1h0.75v0.75h-0.75zM342.6 374.3h0.75v0.75h-0.75zM346.0 376.6h0.75v0.75h-0.75zM352.1 392.5h0.75v0.75h-0.75zM346.2 367.8h0.75v0.75h-0.75zM346.8 371.4h0.75v0.75h-0.75zM346.6 382.5h0.75v0.75h-0.75zM351.1 391.4h0.75v0.75h-0.75zM345.0 387.9h0.75v0.75h-0.75zM345.4 401.5h0.75v0.75h-0.75zM336.6 402.0h0.75v0.75h-0.75zM349.1 385.2h0.75v0.75h-0.75zM355.2 397.9h0.75v0.75h-0.75zM348.0 390.4h0.75v0.75h-0.75zM339.9 380.7h0.75v0.75h-0.75zM341.7 368.0h0.75v0.75h-0.75zM342.4 391.4h0.75v0.75h-0.75zM347.5 395.6h0.75v0.75h-0.75zM337.6 397.8h0.75v0.75h-0.75zM337.9 385.5h0.75v0.75h-0.75zM343.6 395.6h0.75v0.75h-0.75zM344.3 404.1h0.75v0.75h-0.75zM336.7 402.0h0.75v0.75h-0.75zM345.0 368.8h0.75v0.75h-0.75zM344.2 376.0h0.75v0.75h-0.75zM343.3 383.4h0.75v0.75h-0.75zM342.2 389.0h0.75v0.75h-0.75zM346.9 381.7h0.75v0.75h-0.75zM348.1 371.4h0.75v0.75h-0.75zM343.2 378.7h0.75v0.75h-0.75zM344.3 380.6h0.75v0.75h-0.75zM344.0 397.1h0.75v0.75h-0.75zM348.6 381.5h0.75v0.75h-0.75zM350.6 397.0h0.75v0.75h-0.75zM349.0 402.2h0.75v0.75h-0.75zM345.3 382.3h0.75v0.75h-0.75zM343.8 381.8h0.75v0.75h-0.75zM351.7 375.5h0.75v0.75h-0.75zM339.4 387.7h0.75v0.75h-0.75zM348.9 376.0h0.75v0.75h-0.75zM340.8 397.0h0.75v0.75h-0.75zM351.6 384.4h0.75v0.75h-0.75zM352.7 374.9h0.75v0.75h-0.75zM349.5 368.9h0.75v0.75h-0.75zM349.1 374.7h0.75v0.75h-0.75zM346.6 365.0h0.75v0.75h-0.75zM347.6 385.2h0.75v0.75h-0.75zM353.2 376.1h0.75v0.75h-0.75zM341.2 376.6h0.75v0.75h-0.75zM346.8 364.5h0.75v0.75h-0.75zM345.6 378.9h0.75v0.75h-0.75zM342.8 366.2h0.75v0.75h-0.75zM346.0 384.1h0.75v0.75h-0.75zM349.3 396.6h0.75v0.75h-0.75zM342.4 377.4h0.75v0.75h-0.75zM350.0 383.8h0.75v0.75h-0.75zM345.0 378.6h0.75v0.75h-0.75zM351.1 375.6h0.75v0.75h-0.75zM348.5 388.9h0.75v0.75h-0.75zM354.5 402.0h0.75v0.75h-0.75zM340.1 401.8h0.75v0.75h-0.75zM352.4 381.9h0.75v0.75h-0.75zM351.8 374.6h0.75v0.75h-0.75zM346.8 381.2h0.75v0.75h-0.75zM353.2 374.3h0.75v0.75h-0.75zM348.9 399.6h0.75v0.75h-0.75zM346.3 381.6h0.75v0.75h-0.75zM363.9 402.2h0.75v0.75h-0.75zM350.5 383.7h0.75v0.75h-0.75zM350.2 363.2h0.75v0.75h-0.75zM349.9 404.8h0.75v0.75h-0.75zM349.6 384.4h0.75v0.75h-0.75zM341.3 367.4h0.75v0.75h-0.75zM342.9 391.3h0.75v0.75h-0.75zM342.1 384.0h0.75v0.75h-0.75zM351.0 401.4h0.75v0.75h-0.75zM344.4 394.6h0.75v0.75h-0.75zM347.9 378.5h0.75v0.75h-0.75zM343.5 395.1h0.75v0.75h-0.75zM347.2 390.9h0.75v0.75h-0.75zM347.5 369.3h0.75v0.75h-0.75zM350.7 376.4h0.75v0.75h-0.75zM352.9 404.6h0.75v0.75h-0.75zM344.0 388.9h0.75v0.75h-0.75zM342.7 374.7h0.75v0.75h-0.75zM353.6 389.5h0.75v0.75h-0.75zM340.4 389.4h0.75v0.75h-0.75zM348.2 365.7h0.75v0.75h-0.75zM344.6 387.7h0.75v0.75h-0.75zM354.9 389.4h0.75v0.75h-0.75zM347.1 396.6h0.75v0.75h-0.75zM347.2 376.8h0.75v0.75h-0.75zM351.4 382.5h0.75v0.75h-0.75zM342.9 399.1h0.75v0.75h-0.75zM359.0 404.4h0.75v0.75h-0.75zM356.0 397.9h0.75v0.75h-0.75zM356.7 403.2h0.75v0.75h-0.75zM346.1 366.7h0.75v0.75h-0.75zM348.9 379.5h0.75v0.75h-0.75zM340.5 384.2h0.75v0.75h-0.75zM346.4 377.4h0.75v0.75h-0.75zM348.6 388.3h0.75v0.75h-0.75zM344.1 387.5h0.75v0.75h-0.75zM349.5 365.5h0.75v0.75h-0.75zM343.6 377.5h0.75v0.75h-0.75zM344.3 370.8h0.75v0.75h-0.75zM347.4 373.0h0.75v0.75h-0.75zM346.2 368.8h0.75v0.75h-0.75zM350.5 382.2h0.75v0.75h-0.75zM350.0 389.9h0.75v0.75h-0.75zM354.6 373.3h0.75v0.75h-0.75zM349.7 382.3h0.75v0.75h-0.75zM349.9 385.3h0.75v0.75h-0.75zM345.1 377.8h0.75v0.75h-0.75zM338.5 394.9h0.75v0.75h-0.75zM344.3 364.4h0.75v0.75h-0.75zM345.1 392.5h0.75v0.75h-0.75zM349.2 377.9h0.75v0.75h-0.75zM342.0 401.1h0.75v0.75h-0.75zM346.5 373.1h0.75v0.75h-0.75zM345.1 387.8h0.75v0.75h-0.75zM353.8 379.1h0.75v0.75h-0.75zM345.3 371.5h0.75v0.75h-0.75zM347.3 391.9h0.75v0.75h-0.75zM342.7 363.1h0.75v0.75h-0.75zM349.0 379.0h0.75v0.75h-0.75zM344.2 381.9h0.75v0.75h-0.75zM341.6 368.7h0.75v0.75h-0.75zM345.8 393.5h0.75v0.75h-0.75zM346.6 402.5h0.75v0.75h-0.75zM347.5 365.2h0.75v0.75h-0.75zM340.2 376.4h0.75v0.75h-0.75zM343.5 397.2h0.75v0.75h-0.75zM352.7 378.6h0.75v0.75h-0.75zM346.3 392.9h0.75v0.75h-0.75zM346.8 398.7h0.75v0.75h-0.75zM348.4 399.7h0.75v0.75h-0.75zM344.9 392.6h0.75v0.75h-0.75zM343.7 376.9h0.75v0.75h-0.75zM347.9 374.2h0.75v0.75h-0.75zM345.8 367.7h0.75v0.75h-0.75zM346.9 401.1h0.75v0.75h-0.75zM351.4 401.0h0.75v0.75h-0.75zM347.5 367.8h0.75v0.75h-0.75zM346.6 383.2h0.75v0.75h-0.75zM347.5 394.4h0.75v0.75h-0.75zM347.5 377.9h0.75v0.75h-0.75zM348.1 401.9h0.75v0.75h-0.75zM344.8 381.0h0.75v0.75h-0.75zM335.0 404.6h0.75v0.75h-0.75zM341.3 363.4h0.75v0.75h-0.75zM350.4 381.0h0.75v0.75h-0.75zM354.8 366.3h0.75v0.75h-0.75zM343.2 367.5h0.75v0.75h-0.75zM356.2 395.3h0.75v0.75h-0.75zM340.3 368.5h0.75v0.75h-0.75zM342.7 369.8h0.75v0.75h-0.75zM348.2 381.1h0.75v0.75h-0.75zM342.0 403.6h0.75v0.75h-0.75zM338.7 391.9h0.75v0.75h-0.75zM347.2 372.8h0.75v0.75h-0.75zM358.9 389.8h0.75v0.75h-0.75zM340.9 371.2h0.75v0.75h-0.75zM351.6 370.5h0.75v0.75h-0.75zM345.2 395.3h0.75v0.75h-0.75zM343.6 364.3h0.75v0.75h-0.75zM349.2 379.6h0.75v0.75h-0.75zM349.7 363.2h0.75v0.75h-0.75zM346.9 403.9h0.75v0.75h-0.75zM357.6 403.6h0.75v0.75h-0.75zM345.8 366.0h0.75v0.75h-0.75zM339.4 385.8h0.75v0.75h-0.75zM344.0 386.1h0.75v0.75h-0.75zM346.4 403.8h0.75v0.75h-0.75zM339.8 383.9h0.75v0.75h-0.75zM350.5 383.9h0.75v0.75h-0.75zM343.1 400.1h0.75v0.75h-0.75zM353.7 377.3h0.75v0.75h-0.75zM346.2 395.3h0.75v0.75h-0.75zM339.2 388.9h0.75v0.75h-0.75zM345.1 382.3h0.75v0.75h-0.75zM348.1 372.1h0.75v0.75h-0.75zM345.8 372.3h0.75v0.75h-0.75zM347.1 388.4h0.75v0.75h-0.75zM340.0 402.9h0.75v0.75h-0.75zM343.0 381.5h0.75v0.75h-0.75zM345.4 397.1h0.75v0.75h-0.75zM349.6 374.9h0.75v0.75h-0.75zM351.2 367.1h0.75v0.75h-0.75zM354.2 374.0h0.75v0.75h-0.75zM351.8 395.9h0.75v0.75h-0.75zM346.2 379.7h0.75v0.75h-0.75zM341.1 371.0h0.75v0.75h-0.75zM346.1 364.0h0.75v0.75h-0.75zM349.8 395.1h0.75v0.75h-0.75zM346.1 366.1h0.75v0.75h-0.75zM348.0 368.1h0.75v0.75h-0.75zM341.0 393.1h0.75v0.75h-0.75zM339.7 392.2h0.75v0.75h-0.75zM360.7 377.6h0.75v0.75h-0.75zM339.9 384.2h0.75v0.75h-0.75zM370.9 388.2h0.75v0.75h-0.75zM350.8 385.6h0.75v0.75h-0.75zM347.3 374.0h0.75v0.75h-0.75zM349.0 375.2h0.75v0.75h-0.75zM337.6 395.0h0.75v0.75h-0.75zM351.0 374.4h0.75v0.75h-0.75zM342.2 389.3h0.75v0.75h-0.75zM367.4 373.9h0.75v0.75h-0.75zM341.6 369.0h0.75v0.75h-0.75zM376.1 380.6h0.75v0.75h-0.75zM353.4 385.7h0.75v0.75h-0.75zM349.2 402.8h0.75v0.75h-0.75zM376.0 373.1h0.75v0.75h-0.75zM356.6 378.9h0.75v0.75h-0.75zM340.4 388.0h0.75v0.75h-0.75zM375.8 377.8h0.75v0.75h-0.75zM349.9 373.7h0.75v0.75h-0.75zM366.6 370.7h0.75v0.75h-0.75zM354.2 371.3h0.75v0.75h-0.75zM360.7 391.5h0.75v0.75h-0.75zM353.6 402.0h0.75v0.75h-0.75zM355.8 402.6h0.75v0.75h-0.75zM353.7 384.2h0.75v0.75h-0.75zM344.3 401.3h0.75v0.75h-0.75zM372.3 377.6h0.75v0.75h-0.75zM352.4 369.4h0.75v0.75h-0.75zM345.7 399.9h0.75v0.75h-0.75zM338.9 391.2h0.75v0.75h-0.75zM373.2 397.6h0.75v0.75h-0.75zM373.0 381.7h0.75v0.75h-0.75zM355.6 377.4h0.75v0.75h-0.75zM372.4 389.4h0.75v0.75h-0.75zM366.4 403.1h0.75v0.75h-0.75zM364.4 374.8h0.75v0.75h-0.75zM362.5 379.9h0.75v0.75h-0.75zM351.9 385.6h0.75v0.75h-0.75zM349.8 379.4h0.75v0.75h-0.75zM346.5 399.3h0.75v0.75h-0.75zM370.9 391.8h0.75v0.75h-0.75zM348.1 384.8h0.75v0.75h-0.75zM376.5 404.0h0.75v0.75h-0.75zM346.4 386.3h0.75v0.75h-0.75zM365.3 392.1h0.75v0.75h-0.75zM344.7 386.3h0.75v0.75h-0.75zM356.9 405.5h0.75v0.75h-0.75zM369.2 372.2h0.75v0.75h-0.75zM369.7 395.5h0.75v0.75h-0.75zM345.8 382.6h0.75v0.75h-0.75zM341.1 381.0h0.75v0.75h-0.75zM364.5 396.8h0.75v0.75h-0.75zM355.3 377.8h0.75v0.75h-0.75zM347.8 370.1h0.75v0.75h-0.75zM342.1 405.2h0.75v0.75h-0.75zM341.0 400.1h0.75v0.75h-0.75zM337.6 402.4h0.75v0.75h-0.75zM369.3 377.4h0.75v0.75h-0.75zM376.5 386.8h0.75v0.75h-0.75zM342.4 372.6h0.75v0.75h-0.75zM346.6 379.6h0.75v0.75h-0.75zM343.8 374.3h0.75v0.75h-0.75zM353.4 392.7h0.75v0.75h-0.75zM343.2 376.9h0.75v0.75h-0.75zM377.0 382.9h0.75v0.75h-0.75zM370.7 382.4h0.75v0.75h-0.75zM371.3 396.6h0.75v0.75h-0.75zM371.0 382.5h0.75v0.75h-0.75zM342.6 371.3h0.75v0.75h-0.75zM369.8 370.1h0.75v0.75h-0.75zM356.3 390.9h0.75v0.75h-0.75zM352.9 395.4h0.75v0.75h-0.75zM368.0 376.9h0.75v0.75h-0.75zM357.6 393.9h0.75v0.75h-0.75zM345.0 381.9h0.75v0.75h-0.75zM363.5 380.0h0.75v0.75h-0.75zM372.1 370.7h0.75v0.75h-0.75zM361.0 371.7h0.75v0.75h-0.75zM371.1 403.4h0.75v0.75h-0.75zM374.7 388.8h0.75v0.75h-0.75zM363.6 393.2h0.75v0.75h-0.75zM358.4 373.5h0.75v0.75h-0.75zM376.7 382.1h0.75v0.75h-0.75zM378.1 370.4h0.75v0.75h-0.75zM345.7 386.1h0.75v0.75h-0.75zM360.4 387.9h0.75v0.75h-0.75zM344.8 370.5h0.75v0.75h-0.75zM353.3 384.6h0.75v0.75h-0.75zM338.5 383.4h0.75v0.75h-0.75zM355.9 376.0h0.75v0.75h-0.75zM362.0 401.3h0.75v0.75h-0.75zM364.2 372.2h0.75v0.75h-0.75zM376.8 377.1h0.75v0.75h-0.75zM369.3 384.8h0.75v0.75h-0.75zM339.3 375.4h0.75v0.75h-0.75zM354.1 396.8h0.75v0.75h-0.75zM356.4 368.9h0.75v0.75h-0.75zM370.0 397.3h0.75v0.75h-0.75zM378.1 404.1h0.75v0.75h-0.75zM352.1 373.9h0.75v0.75h-0.75zM375.6 373.1h0.75v0.75h-0.75zM336.5 397.5h0.75v0.75h-0.75zM372.0 391.8h0.75v0.75h-0.75zM366.2 393.7h0.75v0.75h-0.75zM346.8 387.1h0.75v0.75h-0.75zM367.9 368.9h0.75v0.75h-0.75zM364.5 398.7h0.75v0.75h-0.75zM377.4 391.9h0.75v0.75h-0.75zM345.9 405.8h0.75v0.75h-0.75zM374.7 376.7h0.75v0.75h-0.75zM352.3 381.9h0.75v0.75h-0.75zM346.6 392.3h0.75v0.75h-0.75zM365.2 404.0h0.75v0.75h-0.75zM360.2 397.2h0.75v0.75h-0.75zM356.8 378.5h0.75v0.75h-0.75zM352.6 391.8h0.75v0.75h-0.75zM342.7 378.3h0.75v0.75h-0.75zM345.7 369.4h0.75v0.75h-0.75zM350.1 384.1h0.75v0.75h-0.75zM373.3 369.7h0.75v0.75h-0.75zM338.9 388.6h0.75v0.75h-0.75zM352.8 403.5h0.75v0.75h-0.75zM366.6 377.5h0.75v0.75h-0.75zM366.4 396.7h0.75v0.75h-0.75zM365.4 371.9h0.75v0.75h-0.75zM354.0 393.9h0.75v0.75h-0.75zM341.9 381.5h0.75v0.75h-0.75zM353.5 377.3h0.75v0.75h-0.75zM368.1 397.7h0.75v0.75h-0.75zM343.5 368.2h0.75v0.75h-0.75zM353.4 402.7h0.75v0.75h-0.75zM351.9 382.7h0.75v0.75h-0.75zM362.9 372.3h0.75v0.75h-0.75zM338.3 385.6h0.75v0.75h-0.75zM368.0 376.4h0.75v0.75h-0.75zM363.7 404.6h0.75v0.75h-0.75zM341.6 384.7h0.75v0.75h-0.75zM359.1 372.1h0.75v0.75h-0.75zM342.3 381.2h0.75v0.75h-0.75zM362.0 372.7h0.75v0.75h-0.75zM341.5 382.0h0.75v0.75h-0.75zM375.6 394.5h0.75v0.75h-0.75zM362.3 371.1h0.75v0.75h-0.75zM342.0 401.2h0.75v0.75h-0.75zM373.1 374.6h0.75v0.75h-0.75zM377.6 401.7h0.75v0.75h-0.75zM356.8 376.4h0.75v0.75h-0.75zM369.2 374.6h0.75v0.75h-0.75zM364.0 392.9h0.75v0.75h-0.75zM367.2 387.4h0.75v0.75h-0.75zM344.0 404.3h0.75v0.75h-0.75zM350.1 401.6h0.75v0.75h-0.75zM356.4 395.5h0.75v0.75h-0.75zM353.5 371.5h0.75v0.75h-0.75zM359.3 376.7h0.75v0.75h-0.75zM365.4 373.8h0.75v0.75h-0.75zM351.9 381.2h0.75v0.75h-0.75zM360.0 374.2h0.75v0.75h-0.75zM358.7 399.0h0.75v0.75h-0.75zM346.3 379.8h0.75v0.75h-0.75zM370.8 390.4h0.75v0.75h-0.75zM369.6 378.8h0.75v0.75h-0.75zM363.2 403.2h0.75v0.75h-0.75zM356.2 393.8h0.75v0.75h-0.75zM357.2 400.2h0.75v0.75h-0.75zM377.1 395.3h0.75v0.75h-0.75zM373.4 399.8h0.75v0.75h-0.75zM369.2 391.7h0.75v0.75h-0.75zM358.5 381.8h0.75v0.75h-0.75zM345.3 385.9h0.75v0.75h-0.75zM377.7 376.8h0.75v0.75h-0.75zM339.4 376.1h0.75v0.75h-0.75zM346.8 375.7h0.75v0.75h-0.75zM376.2 394.4h0.75v0.75h-0.75zM366.2 375.3h0.75v0.75h-0.75zM345.7 387.9h0.75v0.75h-0.75zM356.3 390.8h0.75v0.75h-0.75zM358.8 405.5h0.75v0.75h-0.75zM337.9 404.7h0.75v0.75h-0.75zM341.1 395.6h0.75v0.75h-0.75zM368.9 363.3h0.75v0.75h-0.75zM336.0 348.4h0.75v0.75h-0.75zM344.3 381.4h0.75v0.75h-0.75zM331.7 382.9h0.75v0.75h-0.75zM364.7 387.1h0.75v0.75h-0.75zM332.1 386.0h0.75v0.75h-0.75zM337.9 396.6h0.75v0.75h-0.75zM333.1 356.4h0.75v0.75h-0.75zM326.1 363.3h0.75v0.75h-0.75zM333.4 368.1h0.75v0.75h-0.75zM346.8 381.1h0.75v0.75h-0.75zM345.6 361.1h0.75v0.75h-0.75zM357.6 367.3h0.75v0.75h-0.75zM334.2 366.8h0.75v0.75h-0.75zM324.4 346.1h0.75v0.75h-0.75zM337.1 360.6h0.75v0.75h-0.75zM331.5 356.6h0.75v0.75h-0.75zM376.8 406.3h0.75v0.75h-0.75zM331.0 385.0h0.75v0.75h-0.75zM333.0 351.3h0.75v0.75h-0.75zM332.6 357.8h0.75v0.75h-0.75zM334.7 359.6h0.75v0.75h-0.75zM330.1 359.3h0.75v0.75h-0.75zM330.4 358.3h0.75v0.75h-0.75zM361.7 347.4h0.75v0.75h-0.75zM376.3 355.9h0.75v0.75h-0.75zM355.2 369.1h0.75v0.75h-0.75zM332.6 406.8h0.75v0.75h-0.75zM338.8 388.0h0.75v0.75h-0.75zM374.0 375.9h0.75v0.75h-0.75zM339.4 390.6h0.75v0.75h-0.75zM355.3 359.1h0.75v0.75h-0.75zM365.5 366.2h0.75v0.75h-0.75zM359.2 399.6h0.75v0.75h-0.75zM372.8 388.3h0.75v0.75h-0.75zM333.5 373.7h0.75v0.75h-0.75zM357.7 353.0h0.75v0.75h-0.75zM378.8 356.5h0.75v0.75h-0.75zM337.8 351.4h0.75v0.75h-0.75zM325.7 370.5h0.75v0.75h-0.75zM342.2 402.5h0.75v0.75h-0.75zM361.9 391.3h0.75v0.75h-0.75zM384.4 364.3h0.75v0.75h-0.75zM333.3 363.4h0.75v0.75h-0.75zM383.6 361.3h0.75v0.75h-0.75zM337.9 347.1h0.75v0.75h-0.75zM337.9 387.3h0.75v0.75h-0.75zM360.8 375.5h0.75v0.75h-0.75zM365.5 387.8h0.75v0.75h-0.75zM338.6 357.5h0.75v0.75h-0.75zM373.6 377.1h0.75v0.75h-0.75zM370.1 368.0h0.75v0.75h-0.75zM349.1 383.2h0.75v0.75h-0.75zM335.7 392.6h0.75v0.75h-0.75zM368.6 355.4h0.75v0.75h-0.75zM380.7 368.7h0.75v0.75h-0.75zM357.8 366.8h0.75v0.75h-0.75zM365.9 366.4h0.75v0.75h-0.75zM359.6 348.3h0.75v0.75h-0.75zM342.7 387.5h0.75v0.75h-0.75z" fill="#4a68c8" fill-opacity="0.55"/>
<path d="M353.7 353.3h0.8v0.8h-0.8zM347.4 355.7h0.8v0.8h-0.8zM343.3 354.8h0.8v0.8h-0.8zM344.5 356.1h0.8v0.8h-0.8zM347.6 359.2h0.8v0.8h-0.8zM347.0 359.4h0.8v0.8h-0.8zM347.7 356.6h0.8v0.8h-0.8zM345.4 353.6h0.8v0.8h-0.8zM340.8 356.0h0.8v0.8h-0.8zM345.6 357.1h0.8v0.8h-0.8zM347.2 352.7h0.8v0.8h-0.8zM343.7 353.1h0.8v0.8h-0.8zM349.5 355.9h0.8v0.8h-0.8zM346.5 353.7h0.8v0.8h-0.8zM341.8 354.6h0.8v0.8h-0.8zM345.7 357.5h0.8v0.8h-0.8zM341.0 357.1h0.8v0.8h-0.8zM343.2 354.8h0.8v0.8h-0.8zM345.0 355.0h0.8v0.8h-0.8zM347.6 358.6h0.8v0.8h-0.8zM347.2 354.7h0.8v0.8h-0.8zM347.5 357.2h0.8v0.8h-0.8zM348.9 356.9h0.8v0.8h-0.8zM340.6 354.1h0.8v0.8h-0.8zM344.7 358.8h0.8v0.8h-0.8zM345.6 358.7h0.8v0.8h-0.8zM347.0 352.9h0.8v0.8h-0.8zM346.2 357.7h0.8v0.8h-0.8zM347.4 352.1h0.8v0.8h-0.8zM347.5 354.6h0.8v0.8h-0.8zM339.0 354.6h0.8v0.8h-0.8zM339.5 352.7h0.8v0.8h-0.8zM350.9 363.0h0.8v0.8h-0.8zM349.6 357.4h0.8v0.8h-0.8zM352.4 357.1h0.8v0.8h-0.8zM342.8 349.4h0.8v0.8h-0.8zM349.1 350.0h0.8v0.8h-0.8zM336.5 354.4h0.8v0.8h-0.8zM346.3 353.8h0.8v0.8h-0.8zM349.6 356.0h0.8v0.8h-0.8zM346.8 357.4h0.8v0.8h-0.8zM344.1 356.8h0.8v0.8h-0.8zM353.9 353.6h0.8v0.8h-0.8zM346.6 357.7h0.8v0.8h-0.8zM344.3 356.1h0.8v0.8h-0.8zM340.3 355.0h0.8v0.8h-0.8zM346.2 359.3h0.8v0.8h-0.8zM349.3 354.6h0.8v0.8h-0.8zM342.3 361.3h0.8v0.8h-0.8zM349.1 350.9h0.8v0.8h-0.8zM345.0 353.7h0.8v0.8h-0.8zM344.1 351.5h0.8v0.8h-0.8zM344.7 354.8h0.8v0.8h-0.8zM345.3 359.2h0.8v0.8h-0.8zM346.9 352.9h0.8v0.8h-0.8zM340.2 354.8h0.8v0.8h-0.8zM350.0 358.9h0.8v0.8h-0.8zM344.1 359.5h0.8v0.8h-0.8zM347.6 354.6h0.8v0.8h-0.8zM347.6 356.1h0.8v0.8h-0.8zM342.4 355.1h0.8v0.8h-0.8zM346.7 360.0h0.8v0.8h-0.8zM342.6 357.0h0.8v0.8h-0.8zM346.2 356.2h0.8v0.8h-0.8zM342.0 359.8h0.8v0.8h-0.8zM350.6 360.8h0.8v0.8h-0.8zM347.8 360.5h0.8v0.8h-0.8zM348.0 359.1h0.8v0.8h-0.8zM345.1 356.9h0.8v0.8h-0.8zM345.1 353.4h0.8v0.8h-0.8zM344.7 353.2h0.8v0.8h-0.8zM342.4 355.2h0.8v0.8h-0.8zM344.1 362.1h0.8v0.8h-0.8zM352.3 359.4h0.8v0.8h-0.8zM348.9 353.9h0.8v0.8h-0.8zM347.2 352.3h0.8v0.8h-0.8zM344.1 355.0h0.8v0.8h-0.8zM345.0 358.8h0.8v0.8h-0.8zM343.5 363.1h0.8v0.8h-0.8zM344.5 358.7h0.8v0.8h-0.8zM340.8 358.9h0.8v0.8h-0.8zM342.0 356.9h0.8v0.8h-0.8zM346.2 358.7h0.8v0.8h-0.8zM348.3 357.4h0.8v0.8h-0.8zM345.7 361.9h0.8v0.8h-0.8zM344.7 356.4h0.8v0.8h-0.8zM344.6 356.7h0.8v0.8h-0.8zM342.9 355.2h0.8v0.8h-0.8zM348.0 354.7h0.8v0.8h-0.8zM347.8 354.7h0.8v0.8h-0.8zM351.1 356.0h0.8v0.8h-0.8zM352.2 357.7h0.8v0.8h-0.8zM345.8 359.0h0.8v0.8h-0.8zM350.2 360.6h0.8v0.8h-0.8zM351.0 358.9h0.8v0.8h-0.8zM342.2 359.0h0.8v0.8h-0.8zM345.9 357.5h0.8v0.8h-0.8zM350.6 354.3h0.8v0.8h-0.8zM350.8 363.1h0.8v0.8h-0.8zM348.1 355.5h0.8v0.8h-0.8zM350.9 356.9h0.8v0.8h-0.8zM349.8 359.9h0.8v0.8h-0.8zM341.1 357.3h0.8v0.8h-0.8zM341.0 354.4h0.8v0.8h-0.8zM348.3 353.0h0.8v0.8h-0.8zM343.8 355.0h0.8v0.8h-0.8zM347.3 357.3h0.8v0.8h-0.8zM347.7 354.9h0.8v0.8h-0.8zM343.6 357.5h0.8v0.8h-0.8zM343.2 354.0h0.8v0.8h-0.8zM348.6 354.1h0.8v0.8h-0.8zM343.1 359.5h0.8v0.8h-0.8zM346.0 350.0h0.8v0.8h-0.8zM343.6 361.8h0.8v0.8h-0.8zM355.9 355.5h0.8v0.8h-0.8zM348.6 358.4h0.8v0.8h-0.8zM347.3 351.2h0.8v0.8h-0.8zM349.6 357.1h0.8v0.8h-0.8zM345.4 351.7h0.8v0.8h-0.8zM344.0 356.0h0.8v0.8h-0.8zM345.3 356.9h0.8v0.8h-0.8zM344.9 359.1h0.8v0.8h-0.8zM348.3 353.0h0.8v0.8h-0.8zM344.1 357.5h0.8v0.8h-0.8zM344.3 360.2h0.8v0.8h-0.8zM344.3 357.0h0.8v0.8h-0.8zM348.2 353.1h0.8v0.8h-0.8zM350.4 355.7h0.8v0.8h-0.8zM343.7 354.3h0.8v0.8h-0.8zM340.4 352.5h0.8v0.8h-0.8zM351.3 355.9h0.8v0.8h-0.8zM345.2 356.8h0.8v0.8h-0.8zM348.1 354.0h0.8v0.8h-0.8zM345.4 357.0h0.8v0.8h-0.8zM349.6 357.0h0.8v0.8h-0.8zM351.8 355.7h0.8v0.8h-0.8zM345.0 352.4h0.8v0.8h-0.8zM346.0 358.1h0.8v0.8h-0.8zM345.3 355.8h0.8v0.8h-0.8zM342.8 354.6h0.8v0.8h-0.8zM344.6 356.0h0.8v0.8h-0.8zM349.8 357.7h0.8v0.8h-0.8zM349.3 359.6h0.8v0.8h-0.8zM344.6 360.0h0.8v0.8h-0.8zM346.3 352.6h0.8v0.8h-0.8zM344.1 356.0h0.8v0.8h-0.8zM340.9 362.7h0.8v0.8h-0.8zM346.0 358.7h0.8v0.8h-0.8zM342.0 356.5h0.8v0.8h-0.8zM347.0 354.1h0.8v0.8h-0.8zM347.0 356.3h0.8v0.8h-0.8zM347.4 352.9h0.8v0.8h-0.8zM347.9 355.5h0.8v0.8h-0.8zM343.2 350.1h0.8v0.8h-0.8zM345.5 355.2h0.8v0.8h-0.8zM354.2 352.9h0.8v0.8h-0.8zM351.2 359.8h0.8v0.8h-0.8zM347.5 357.0h0.8v0.8h-0.8zM347.8 352.1h0.8v0.8h-0.8zM350.9 355.3h0.8v0.8h-0.8zM343.6 356.2h0.8v0.8h-0.8zM336.8 352.5h0.8v0.8h-0.8zM342.1 351.8h0.8v0.8h-0.8zM348.1 360.7h0.8v0.8h-0.8zM346.2 355.3h0.8v0.8h-0.8zM347.2 354.8h0.8v0.8h-0.8zM346.5 357.4h0.8v0.8h-0.8zM345.3 355.1h0.8v0.8h-0.8zM346.3 356.4h0.8v0.8h-0.8zM348.4 352.0h0.8v0.8h-0.8zM342.3 354.9h0.8v0.8h-0.8zM347.7 352.6h0.8v0.8h-0.8zM350.2 360.2h0.8v0.8h-0.8zM343.6 359.3h0.8v0.8h-0.8zM339.0 355.9h0.8v0.8h-0.8zM340.6 359.2h0.8v0.8h-0.8zM348.9 357.6h0.8v0.8h-0.8zM344.1 353.0h0.8v0.8h-0.8zM347.4 354.7h0.8v0.8h-0.8zM348.3 351.7h0.8v0.8h-0.8zM347.5 357.6h0.8v0.8h-0.8zM338.3 352.6h0.8v0.8h-0.8zM343.6 354.5h0.8v0.8h-0.8zM340.1 356.2h0.8v0.8h-0.8zM342.1 355.9h0.8v0.8h-0.8zM339.7 352.8h0.8v0.8h-0.8zM348.3 351.3h0.8v0.8h-0.8zM345.8 360.2h0.8v0.8h-0.8zM348.7 352.4h0.8v0.8h-0.8zM353.5 354.5h0.8v0.8h-0.8zM349.1 358.8h0.8v0.8h-0.8zM344.9 357.9h0.8v0.8h-0.8zM336.6 356.4h0.8v0.8h-0.8zM346.5 355.1h0.8v0.8h-0.8zM346.3 359.1h0.8v0.8h-0.8zM349.1 354.3h0.8v0.8h-0.8zM348.6 359.4h0.8v0.8h-0.8zM346.3 357.2h0.8v0.8h-0.8zM337.6 351.7h0.8v0.8h-0.8zM347.2 351.9h0.8v0.8h-0.8zM348.8 359.3h0.8v0.8h-0.8zM342.6 352.8h0.8v0.8h-0.8zM345.2 356.7h0.8v0.8h-0.8zM348.7 355.4h0.8v0.8h-0.8zM346.0 353.3h0.8v0.8h-0.8zM346.9 353.9h0.8v0.8h-0.8zM349.3 358.0h0.8v0.8h-0.8zM340.3 357.0h0.8v0.8h-0.8zM342.2 358.8h0.8v0.8h-0.8zM342.4 359.6h0.8v0.8h-0.8zM349.5 361.5h0.8v0.8h-0.8zM347.0 356.2h0.8v0.8h-0.8zM350.0 352.6h0.8v0.8h-0.8zM345.7 355.2h0.8v0.8h-0.8zM345.7 351.6h0.8v0.8h-0.8zM340.2 351.3h0.8v0.8h-0.8zM350.9 355.1h0.8v0.8h-0.8zM348.0 355.7h0.8v0.8h-0.8zM345.1 359.7h0.8v0.8h-0.8zM338.0 355.4h0.8v0.8h-0.8zM343.2 353.5h0.8v0.8h-0.8zM340.4 351.7h0.8v0.8h-0.8zM341.8 359.1h0.8v0.8h-0.8zM343.5 354.7h0.8v0.8h-0.8zM345.3 357.8h0.8v0.8h-0.8zM349.4 356.6h0.8v0.8h-0.8zM345.9 357.5h0.8v0.8h-0.8zM343.2 356.6h0.8v0.8h-0.8zM351.6 354.2h0.8v0.8h-0.8zM342.9 351.7h0.8v0.8h-0.8zM346.0 357.8h0.8v0.8h-0.8zM344.4 355.1h0.8v0.8h-0.8zM349.9 356.1h0.8v0.8h-0.8zM348.2 355.0h0.8v0.8h-0.8zM350.3 358.6h0.8v0.8h-0.8zM345.4 354.4h0.8v0.8h-0.8zM354.5 353.1h0.8v0.8h-0.8zM342.6 349.1h0.8v0.8h-0.8zM348.2 356.2h0.8v0.8h-0.8zM345.6 351.8h0.8v0.8h-0.8zM345.9 353.9h0.8v0.8h-0.8zM341.9 355.4h0.8v0.8h-0.8zM346.9 355.7h0.8v0.8h-0.8zM344.2 358.1h0.8v0.8h-0.8zM346.7 355.1h0.8v0.8h-0.8zM347.9 356.9h0.8v0.8h-0.8zM349.0 358.4h0.8v0.8h-0.8zM348.4 354.4h0.8v0.8h-0.8zM350.4 358.9h0.8v0.8h-0.8zM344.1 359.6h0.8v0.8h-0.8zM346.2 353.3h0.8v0.8h-0.8zM345.8 352.5h0.8v0.8h-0.8zM349.7 352.6h0.8v0.8h-0.8zM350.9 353.7h0.8v0.8h-0.8zM345.5 359.7h0.8v0.8h-0.8zM347.1 351.5h0.8v0.8h-0.8zM345.5 351.1h0.8v0.8h-0.8zM348.2 353.3h0.8v0.8h-0.8zM345.7 355.8h0.8v0.8h-0.8zM340.9 357.0h0.8v0.8h-0.8zM352.0 353.6h0.8v0.8h-0.8zM344.0 357.2h0.8v0.8h-0.8zM350.0 353.7h0.8v0.8h-0.8zM346.6 357.1h0.8v0.8h-0.8zM349.5 353.9h0.8v0.8h-0.8zM354.3 361.8h0.8v0.8h-0.8zM341.4 353.9h0.8v0.8h-0.8zM347.2 354.4h0.8v0.8h-0.8zM344.2 356.2h0.8v0.8h-0.8zM343.5 354.5h0.8v0.8h-0.8zM346.7 355.1h0.8v0.8h-0.8zM347.2 359.1h0.8v0.8h-0.8zM349.8 356.4h0.8v0.8h-0.8zM352.9 355.1h0.8v0.8h-0.8zM349.0 361.2h0.8v0.8h-0.8zM346.7 358.4h0.8v0.8h-0.8zM344.5 354.6h0.8v0.8h-0.8zM346.7 357.5h0.8v0.8h-0.8zM347.3 358.0h0.8v0.8h-0.8zM347.1 356.0h0.8v0.8h-0.8zM344.0 355.9h0.8v0.8h-0.8zM346.3 356.2h0.8v0.8h-0.8zM342.5 359.7h0.8v0.8h-0.8zM349.8 356.9h0.8v0.8h-0.8zM344.5 359.3h0.8v0.8h-0.8zM345.3 355.6h0.8v0.8h-0.8zM348.1 354.7h0.8v0.8h-0.8zM346.6 354.9h0.8v0.8h-0.8zM348.2 357.4h0.8v0.8h-0.8zM348.5 357.5h0.8v0.8h-0.8zM347.2 357.3h0.8v0.8h-0.8zM348.8 353.6h0.8v0.8h-0.8zM342.2 356.5h0.8v0.8h-0.8zM346.7 355.6h0.8v0.8h-0.8zM351.1 357.6h0.8v0.8h-0.8zM350.3 356.5h0.8v0.8h-0.8zM341.6 352.5h0.8v0.8h-0.8zM349.7 356.4h0.8v0.8h-0.8zM344.6 359.8h0.8v0.8h-0.8zM351.9 357.4h0.8v0.8h-0.8zM350.4 355.5h0.8v0.8h-0.8zM343.1 351.8h0.8v0.8h-0.8zM349.8 352.1h0.8v0.8h-0.8zM344.8 356.5h0.8v0.8h-0.8zM348.1 351.2h0.8v0.8h-0.8zM345.4 354.1h0.8v0.8h-0.8zM351.0 355.8h0.8v0.8h-0.8zM344.0 360.9h0.8v0.8h-0.8zM346.7 358.5h0.8v0.8h-0.8zM347.2 355.9h0.8v0.8h-0.8zM348.6 354.3h0.8v0.8h-0.8zM341.6 354.5h0.8v0.8h-0.8zM348.3 355.3h0.8v0.8h-0.8zM349.7 358.2h0.8v0.8h-0.8zM346.9 359.3h0.8v0.8h-0.8zM347.4 357.2h0.8v0.8h-0.8zM345.3 356.0h0.8v0.8h-0.8zM345.9 359.2h0.8v0.8h-0.8zM351.4 359.2h0.8v0.8h-0.8zM347.0 356.0h0.8v0.8h-0.8zM347.0 354.8h0.8v0.8h-0.8zM346.1 355.4h0.8v0.8h-0.8zM346.1 349.9h0.8v0.8h-0.8zM346.2 358.1h0.8v0.8h-0.8zM342.7 361.1h0.8v0.8h-0.8zM346.7 354.8h0.8v0.8h-0.8zM350.8 353.7h0.8v0.8h-0.8zM355.1 354.4h0.8v0.8h-0.8zM349.3 360.2h0.8v0.8h-0.8zM348.5 356.7h0.8v0.8h-0.8zM343.9 355.9h0.8v0.8h-0.8zM346.9 359.0h0.8v0.8h-0.8zM338.9 358.0h0.8v0.8h-0.8zM342.5 354.7h0.8v0.8h-0.8zM345.9 354.6h0.8v0.8h-0.8zM348.2 351.9h0.8v0.8h-0.8zM347.8 353.6h0.8v0.8h-0.8zM345.0 356.1h0.8v0.8h-0.8zM341.6 357.4h0.8v0.8h-0.8zM353.2 354.6h0.8v0.8h-0.8zM343.3 360.4h0.8v0.8h-0.8zM351.7 350.8h0.8v0.8h-0.8zM345.0 354.1h0.8v0.8h-0.8zM346.7 356.0h0.8v0.8h-0.8zM342.9 355.1h0.8v0.8h-0.8zM349.8 353.8h0.8v0.8h-0.8zM346.9 358.0h0.8v0.8h-0.8zM351.8 357.5h0.8v0.8h-0.8zM347.0 353.8h0.8v0.8h-0.8zM347.0 359.9h0.8v0.8h-0.8zM347.7 359.6h0.8v0.8h-0.8zM344.6 358.4h0.8v0.8h-0.8zM345.4 354.4h0.8v0.8h-0.8zM344.2 359.5h0.8v0.8h-0.8zM348.1 355.8h0.8v0.8h-0.8zM345.4 358.5h0.8v0.8h-0.8zM344.7 359.4h0.8v0.8h-0.8zM347.2 354.8h0.8v0.8h-0.8zM345.6 353.5h0.8v0.8h-0.8zM342.7 355.0h0.8v0.8h-0.8zM344.6 355.3h0.8v0.8h-0.8zM343.7 354.5h0.8v0.8h-0.8zM347.3 352.7h0.8v0.8h-0.8zM337.9 360.9h0.8v0.8h-0.8zM346.5 356.8h0.8v0.8h-0.8zM350.0 359.4h0.8v0.8h-0.8zM350.9 358.9h0.8v0.8h-0.8zM348.7 357.6h0.8v0.8h-0.8zM345.8 356.0h0.8v0.8h-0.8zM334.4 360.8h0.8v0.8h-0.8zM345.8 353.6h0.8v0.8h-0.8zM350.0 354.4h0.8v0.8h-0.8zM347.5 354.0h0.8v0.8h-0.8zM342.4 359.3h0.8v0.8h-0.8zM346.7 352.1h0.8v0.8h-0.8zM348.4 358.8h0.8v0.8h-0.8zM345.3 358.2h0.8v0.8h-0.8zM350.5 359.5h0.8v0.8h-0.8zM348.3 358.4h0.8v0.8h-0.8zM351.6 356.9h0.8v0.8h-0.8zM345.3 355.6h0.8v0.8h-0.8zM356.8 353.6h0.8v0.8h-0.8zM346.3 351.3h0.8v0.8h-0.8zM346.1 355.8h0.8v0.8h-0.8zM345.9 358.4h0.8v0.8h-0.8zM351.1 356.9h0.8v0.8h-0.8zM343.6 355.0h0.8v0.8h-0.8zM346.3 354.4h0.8v0.8h-0.8zM346.0 357.8h0.8v0.8h-0.8zM346.9 361.8h0.8v0.8h-0.8zM340.8 356.7h0.8v0.8h-0.8zM349.7 353.3h0.8v0.8h-0.8zM340.6 362.0h0.8v0.8h-0.8zM349.4 357.8h0.8v0.8h-0.8zM350.2 353.6h0.8v0.8h-0.8zM342.4 360.6h0.8v0.8h-0.8zM346.6 351.9h0.8v0.8h-0.8zM345.8 360.6h0.8v0.8h-0.8zM342.7 352.0h0.8v0.8h-0.8zM338.5 355.9h0.8v0.8h-0.8zM345.9 354.5h0.8v0.8h-0.8zM344.3 355.5h0.8v0.8h-0.8zM344.1 354.7h0.8v0.8h-0.8zM349.4 356.4h0.8v0.8h-0.8zM347.9 351.2h0.8v0.8h-0.8zM343.1 359.1h0.8v0.8h-0.8zM346.7 359.1h0.8v0.8h-0.8zM341.3 358.0h0.8v0.8h-0.8zM344.3 356.3h0.8v0.8h-0.8zM343.9 353.7h0.8v0.8h-0.8zM342.7 355.9h0.8v0.8h-0.8zM349.6 353.4h0.8v0.8h-0.8zM344.2 353.6h0.8v0.8h-0.8zM343.4 358.1h0.8v0.8h-0.8zM344.7 353.7h0.8v0.8h-0.8zM348.5 357.2h0.8v0.8h-0.8zM347.3 356.7h0.8v0.8h-0.8zM344.2 358.5h0.8v0.8h-0.8zM344.1 356.9h0.8v0.8h-0.8zM346.7 359.4h0.8v0.8h-0.8zM345.6 358.5h0.8v0.8h-0.8zM340.5 356.7h0.8v0.8h-0.8zM346.8 356.6h0.8v0.8h-0.8zM339.5 358.3h0.8v0.8h-0.8zM344.1 354.4h0.8v0.8h-0.8zM351.3 355.7h0.8v0.8h-0.8zM349.3 351.6h0.8v0.8h-0.8zM348.5 356.8h0.8v0.8h-0.8zM347.2 353.7h0.8v0.8h-0.8zM347.4 355.8h0.8v0.8h-0.8zM350.7 354.9h0.8v0.8h-0.8zM340.9 359.2h0.8v0.8h-0.8zM342.6 355.7h0.8v0.8h-0.8zM348.7 360.9h0.8v0.8h-0.8zM348.0 358.3h0.8v0.8h-0.8zM346.8 356.7h0.8v0.8h-0.8zM346.0 357.2h0.8v0.8h-0.8zM343.2 356.9h0.8v0.8h-0.8zM350.1 356.8h0.8v0.8h-0.8zM345.7 358.4h0.8v0.8h-0.8zM343.3 355.8h0.8v0.8h-0.8zM353.7 358.6h0.8v0.8h-0.8zM348.8 356.0h0.8v0.8h-0.8zM343.9 353.3h0.8v0.8h-0.8zM346.3 359.9h0.8v0.8h-0.8zM346.0 358.6h0.8v0.8h-0.8zM345.3 356.6h0.8v0.8h-0.8zM347.5 364.4h0.8v0.8h-0.8zM346.7 353.9h0.8v0.8h-0.8zM349.3 356.3h0.8v0.8h-0.8zM348.1 354.4h0.8v0.8h-0.8zM349.2 354.5h0.8v0.8h-0.8zM347.6 355.3h0.8v0.8h-0.8zM343.8 358.0h0.8v0.8h-0.8zM347.6 350.9h0.8v0.8h-0.8zM348.6 358.6h0.8v0.8h-0.8zM346.9 357.3h0.8v0.8h-0.8zM347.2 357.2h0.8v0.8h-0.8zM345.1 359.2h0.8v0.8h-0.8zM350.4 354.1h0.8v0.8h-0.8zM346.5 353.9h0.8v0.8h-0.8zM344.8 359.0h0.8v0.8h-0.8zM346.4 357.0h0.8v0.8h-0.8zM345.1 362.7h0.8v0.8h-0.8zM350.1 357.4h0.8v0.8h-0.8zM347.0 361.1h0.8v0.8h-0.8zM350.2 357.2h0.8v0.8h-0.8zM345.7 353.3h0.8v0.8h-0.8zM350.7 361.0h0.8v0.8h-0.8zM354.0 357.2h0.8v0.8h-0.8zM349.2 351.1h0.8v0.8h-0.8zM348.5 354.4h0.8v0.8h-0.8zM343.6 354.2h0.8v0.8h-0.8zM343.4 355.0h0.8v0.8h-0.8zM348.1 354.5h0.8v0.8h-0.8zM345.1 356.0h0.8v0.8h-0.8zM352.9 358.5h0.8v0.8h-0.8zM344.3 358.5h0.8v0.8h-0.8zM351.7 356.0h0.8v0.8h-0.8zM348.7 359.3h0.8v0.8h-0.8zM341.7 356.8h0.8v0.8h-0.8zM345.9 358.6h0.8v0.8h-0.8zM350.6 355.1h0.8v0.8h-0.8zM341.3 355.1h0.8v0.8h-0.8zM346.3 354.6h0.8v0.8h-0.8zM347.1 353.3h0.8v0.8h-0.8zM348.0 358.4h0.8v0.8h-0.8zM352.9 356.1h0.8v0.8h-0.8zM349.6 354.5h0.8v0.8h-0.8zM344.1 354.3h0.8v0.8h-0.8zM345.9 352.9h0.8v0.8h-0.8zM340.4 362.4h0.8v0.8h-0.8zM345.3 356.4h0.8v0.8h-0.8zM346.9 355.2h0.8v0.8h-0.8zM345.6 359.4h0.8v0.8h-0.8zM347.2 359.4h0.8v0.8h-0.8zM342.4 357.7h0.8v0.8h-0.8zM343.3 352.9h0.8v0.8h-0.8zM348.7 357.0h0.8v0.8h-0.8zM348.6 358.1h0.8v0.8h-0.8zM339.9 357.9h0.8v0.8h-0.8zM352.5 356.9h0.8v0.8h-0.8zM349.4 360.2h0.8v0.8h-0.8zM352.1 349.7h0.8v0.8h-0.8zM345.3 356.0h0.8v0.8h-0.8zM345.5 359.3h0.8v0.8h-0.8zM342.2 349.8h0.8v0.8h-0.8zM347.2 355.7h0.8v0.8h-0.8zM349.7 359.3h0.8v0.8h-0.8zM347.5 360.0h0.8v0.8h-0.8zM342.0 356.2h0.8v0.8h-0.8zM341.9 361.4h0.8v0.8h-0.8zM345.4 359.0h0.8v0.8h-0.8zM347.8 358.4h0.8v0.8h-0.8zM349.6 359.4h0.8v0.8h-0.8zM348.8 356.7h0.8v0.8h-0.8zM348.7 351.3h0.8v0.8h-0.8zM343.3 360.3h0.8v0.8h-0.8zM348.1 352.6h0.8v0.8h-0.8zM342.2 353.2h0.8v0.8h-0.8zM345.0 358.7h0.8v0.8h-0.8zM346.2 358.4h0.8v0.8h-0.8zM342.1 356.1h0.8v0.8h-0.8zM346.8 357.5h0.8v0.8h-0.8zM348.6 356.7h0.8v0.8h-0.8zM348.9 359.6h0.8v0.8h-0.8zM347.9 353.2h0.8v0.8h-0.8zM344.1 354.1h0.8v0.8h-0.8zM351.3 358.5h0.8v0.8h-0.8zM346.5 354.8h0.8v0.8h-0.8zM344.4 360.3h0.8v0.8h-0.8zM345.7 354.8h0.8v0.8h-0.8zM343.8 358.2h0.8v0.8h-0.8zM340.3 354.9h0.8v0.8h-0.8zM348.3 358.6h0.8v0.8h-0.8zM348.2 355.6h0.8v0.8h-0.8zM349.0 360.8h0.8v0.8h-0.8zM343.5 354.2h0.8v0.8h-0.8zM345.1 356.7h0.8v0.8h-0.8zM344.6 354.7h0.8v0.8h-0.8zM339.0 358.7h0.8v0.8h-0.8zM342.9 356.5h0.8v0.8h-0.8zM344.6 358.2h0.8v0.8h-0.8zM342.3 353.4h0.8v0.8h-0.8zM346.5 356.6h0.8v0.8h-0.8zM344.7 357.4h0.8v0.8h-0.8zM344.7 355.4h0.8v0.8h-0.8zM342.4 356.3h0.8v0.8h-0.8zM349.2 356.0h0.8v0.8h-0.8zM346.1 358.9h0.8v0.8h-0.8zM344.9 354.7h0.8v0.8h-0.8zM346.6 360.8h0.8v0.8h-0.8zM345.0 356.2h0.8v0.8h-0.8zM347.3 355.2h0.8v0.8h-0.8zM345.1 359.8h0.8v0.8h-0.8zM340.7 357.7h0.8v0.8h-0.8zM349.3 359.7h0.8v0.8h-0.8zM347.0 357.7h0.8v0.8h-0.8zM344.4 351.8h0.8v0.8h-0.8zM347.0 356.9h0.8v0.8h-0.8zM347.7 359.9h0.8v0.8h-0.8zM354.5 357.8h0.8v0.8h-0.8zM351.9 356.9h0.8v0.8h-0.8zM347.4 353.8h0.8v0.8h-0.8zM347.1 354.8h0.8v0.8h-0.8zM347.0 352.8h0.8v0.8h-0.8zM349.9 352.4h0.8v0.8h-0.8zM347.9 351.0h0.8v0.8h-0.8zM346.3 357.1h0.8v0.8h-0.8zM349.0 360.5h0.8v0.8h-0.8zM342.4 356.0h0.8v0.8h-0.8zM345.5 356.5h0.8v0.8h-0.8zM350.2 354.8h0.8v0.8h-0.8zM342.9 354.7h0.8v0.8h-0.8zM349.2 354.3h0.8v0.8h-0.8zM340.4 355.2h0.8v0.8h-0.8zM350.1 360.6h0.8v0.8h-0.8zM344.1 354.6h0.8v0.8h-0.8zM348.7 359.1h0.8v0.8h-0.8zM346.2 356.6h0.8v0.8h-0.8zM348.9 352.3h0.8v0.8h-0.8zM351.0 353.6h0.8v0.8h-0.8zM340.0 359.9h0.8v0.8h-0.8zM346.5 358.6h0.8v0.8h-0.8zM341.3 357.2h0.8v0.8h-0.8zM347.3 357.0h0.8v0.8h-0.8zM346.8 356.2h0.8v0.8h-0.8zM346.1 353.3h0.8v0.8h-0.8zM352.8 355.0h0.8v0.8h-0.8zM342.1 357.2h0.8v0.8h-0.8zM345.4 354.3h0.8v0.8h-0.8zM356.7 357.4h0.8v0.8h-0.8zM340.4 355.0h0.8v0.8h-0.8zM345.0 356.1h0.8v0.8h-0.8zM348.3 357.6h0.8v0.8h-0.8zM352.4 355.3h0.8v0.8h-0.8zM345.3 359.3h0.8v0.8h-0.8zM350.3 355.7h0.8v0.8h-0.8zM344.6 359.5h0.8v0.8h-0.8zM348.5 359.6h0.8v0.8h-0.8zM350.0 357.9h0.8v0.8h-0.8zM347.0 356.9h0.8v0.8h-0.8zM346.4 353.1h0.8v0.8h-0.8zM348.1 358.8h0.8v0.8h-0.8zM348.7 354.7h0.8v0.8h-0.8zM345.7 359.6h0.8v0.8h-0.8zM350.0 354.0h0.8v0.8h-0.8zM341.6 357.0h0.8v0.8h-0.8zM341.5 361.6h0.8v0.8h-0.8zM346.0 358.3h0.8v0.8h-0.8zM340.2 356.8h0.8v0.8h-0.8zM347.0 352.3h0.8v0.8h-0.8zM352.4 356.5h0.8v0.8h-0.8zM347.8 355.6h0.8v0.8h-0.8zM347.1 358.3h0.8v0.8h-0.8zM347.6 357.5h0.8v0.8h-0.8zM341.1 356.3h0.8v0.8h-0.8zM342.2 357.2h0.8v0.8h-0.8zM343.9 351.6h0.8v0.8h-0.8zM351.5 355.7h0.8v0.8h-0.8zM345.1 356.4h0.8v0.8h-0.8zM345.7 358.2h0.8v0.8h-0.8zM351.6 355.3h0.8v0.8h-0.8zM348.4 358.2h0.8v0.8h-0.8zM342.1 358.3h0.8v0.8h-0.8zM349.3 356.0h0.8v0.8h-0.8zM345.2 353.7h0.8v0.8h-0.8zM349.6 354.5h0.8v0.8h-0.8zM346.8 352.7h0.8v0.8h-0.8zM345.2 351.8h0.8v0.8h-0.8zM343.4 358.3h0.8v0.8h-0.8zM342.4 353.4h0.8v0.8h-0.8zM343.6 354.9h0.8v0.8h-0.8zM342.3 356.6h0.8v0.8h-0.8zM344.1 358.1h0.8v0.8h-0.8zM347.5 356.8h0.8v0.8h-0.8zM347.1 357.4h0.8v0.8h-0.8zM340.1 361.7h0.8v0.8h-0.8zM340.2 360.0h0.8v0.8h-0.8zM343.3 350.4h0.8v0.8h-0.8zM341.3 350.7h0.8v0.8h-0.8zM346.8 355.3h0.8v0.8h-0.8zM355.0 356.5h0.8v0.8h-0.8zM343.6 359.8h0.8v0.8h-0.8zM355.9 354.0h0.8v0.8h-0.8zM343.3 356.0h0.8v0.8h-0.8zM341.9 354.1h0.8v0.8h-0.8zM351.4 359.2h0.8v0.8h-0.8zM349.7 356.5h0.8v0.8h-0.8zM350.2 351.5h0.8v0.8h-0.8zM350.7 352.1h0.8v0.8h-0.8zM342.9 357.2h0.8v0.8h-0.8zM342.2 356.9h0.8v0.8h-0.8zM347.0 359.0h0.8v0.8h-0.8zM345.6 356.5h0.8v0.8h-0.8zM345.2 356.0h0.8v0.8h-0.8zM345.2 356.0h0.8v0.8h-0.8zM347.8 359.2h0.8v0.8h-0.8zM346.9 348.1h0.8v0.8h-0.8zM346.9 351.3h0.8v0.8h-0.8zM342.5 357.7h0.8v0.8h-0.8zM337.7 354.3h0.8v0.8h-0.8zM346.6 356.0h0.8v0.8h-0.8zM344.3 352.2h0.8v0.8h-0.8zM352.4 352.3h0.8v0.8h-0.8zM343.5 358.2h0.8v0.8h-0.8zM346.5 358.2h0.8v0.8h-0.8zM350.3 353.2h0.8v0.8h-0.8zM347.8 354.2h0.8v0.8h-0.8zM346.4 355.9h0.8v0.8h-0.8zM343.4 356.4h0.8v0.8h-0.8zM343.1 364.4h0.8v0.8h-0.8zM354.8 356.5h0.8v0.8h-0.8zM341.0 348.7h0.8v0.8h-0.8zM340.3 359.8h0.8v0.8h-0.8zM342.1 355.2h0.8v0.8h-0.8zM344.5 354.8h0.8v0.8h-0.8zM344.6 355.3h0.8v0.8h-0.8zM351.6 357.3h0.8v0.8h-0.8zM353.9 357.4h0.8v0.8h-0.8zM347.4 362.5h0.8v0.8h-0.8zM344.4 360.6h0.8v0.8h-0.8zM343.5 360.1h0.8v0.8h-0.8zM347.3 358.2h0.8v0.8h-0.8zM345.3 364.3h0.8v0.8h-0.8zM349.0 354.8h0.8v0.8h-0.8zM354.0 354.7h0.8v0.8h-0.8zM349.3 359.4h0.8v0.8h-0.8zM347.0 358.9h0.8v0.8h-0.8zM345.5 358.3h0.8v0.8h-0.8zM344.3 355.4h0.8v0.8h-0.8zM345.4 357.7h0.8v0.8h-0.8zM345.7 361.2h0.8v0.8h-0.8zM344.2 363.6h0.8v0.8h-0.8zM346.9 356.8h0.8v0.8h-0.8zM346.3 359.8h0.8v0.8h-0.8zM345.0 359.0h0.8v0.8h-0.8zM346.2 352.3h0.8v0.8h-0.8zM346.7 362.2h0.8v0.8h-0.8zM343.5 359.2h0.8v0.8h-0.8zM346.4 388.8h0.8v0.8h-0.8zM351.4 401.5h0.8v0.8h-0.8zM345.4 380.9h0.8v0.8h-0.8zM345.3 367.6h0.8v0.8h-0.8zM347.7 380.2h0.8v0.8h-0.8zM351.5 400.8h0.8v0.8h-0.8zM345.7 371.3h0.8v0.8h-0.8zM343.4 381.1h0.8v0.8h-0.8zM339.6 404.9h0.8v0.8h-0.8zM345.7 376.0h0.8v0.8h-0.8zM343.8 383.2h0.8v0.8h-0.8zM349.2 399.6h0.8v0.8h-0.8zM348.0 373.3h0.8v0.8h-0.8zM340.9 389.0h0.8v0.8h-0.8zM344.4 364.5h0.8v0.8h-0.8zM351.1 395.2h0.8v0.8h-0.8zM349.0 387.2h0.8v0.8h-0.8zM346.8 393.0h0.8v0.8h-0.8zM339.2 386.9h0.8v0.8h-0.8zM351.2 397.3h0.8v0.8h-0.8zM346.4 368.9h0.8v0.8h-0.8zM349.1 402.6h0.8v0.8h-0.8zM345.0 384.6h0.8v0.8h-0.8zM348.4 396.4h0.8v0.8h-0.8zM347.4 382.7h0.8v0.8h-0.8zM347.3 375.9h0.8v0.8h-0.8zM354.5 394.5h0.8v0.8h-0.8zM351.5 396.9h0.8v0.8h-0.8zM346.5 376.3h0.8v0.8h-0.8zM342.1 405.0h0.8v0.8h-0.8zM345.2 380.2h0.8v0.8h-0.8zM347.7 382.8h0.8v0.8h-0.8zM341.9 384.5h0.8v0.8h-0.8zM348.1 388.4h0.8v0.8h-0.8zM346.6 381.4h0.8v0.8h-0.8zM347.8 366.9h0.8v0.8h-0.8zM343.4 383.4h0.8v0.8h-0.8zM349.6 383.2h0.8v0.8h-0.8zM347.7 368.4h0.8v0.8h-0.8zM348.5 371.9h0.8v0.8h-0.8zM339.7 403.0h0.8v0.8h-0.8zM351.7 387.2h0.8v0.8h-0.8zM343.9 377.6h0.8v0.8h-0.8zM343.0 380.1h0.8v0.8h-0.8zM347.4 363.4h0.8v0.8h-0.8zM347.0 395.4h0.8v0.8h-0.8zM347.7 380.0h0.8v0.8h-0.8zM348.7 389.6h0.8v0.8h-0.8zM347.3 396.7h0.8v0.8h-0.8zM342.4 380.0h0.8v0.8h-0.8zM345.4 367.2h0.8v0.8h-0.8zM348.1 373.4h0.8v0.8h-0.8zM344.7 368.1h0.8v0.8h-0.8zM352.5 375.9h0.8v0.8h-0.8zM348.2 372.9h0.8v0.8h-0.8zM344.1 381.8h0.8v0.8h-0.8zM345.9 378.2h0.8v0.8h-0.8zM347.3 387.3h0.8v0.8h-0.8zM347.3 379.6h0.8v0.8h-0.8zM349.2 370.6h0.8v0.8h-0.8zM345.0 363.1h0.8v0.8h-0.8zM341.7 389.8h0.8v0.8h-0.8zM350.6 390.4h0.8v0.8h-0.8zM340.9 404.6h0.8v0.8h-0.8zM344.8 398.2h0.8v0.8h-0.8zM351.7 400.8h0.8v0.8h-0.8zM349.8 396.6h0.8v0.8h-0.8zM350.5 383.5h0.8v0.8h-0.8zM350.5 374.8h0.8v0.8h-0.8zM343.1 389.8h0.8v0.8h-0.8zM338.8 398.2h0.8v0.8h-0.8zM343.6 377.7h0.8v0.8h-0.8zM346.1 377.6h0.8v0.8h-0.8zM345.9 367.1h0.8v0.8h-0.8zM344.8 402.5h0.8v0.8h-0.8zM345.0 394.9h0.8v0.8h-0.8zM348.1 377.6h0.8v0.8h-0.8zM346.5 373.1h0.8v0.8h-0.8zM347.7 378.1h0.8v0.8h-0.8zM346.1 398.8h0.8v0.8h-0.8zM350.0 381.0h0.8v0.8h-0.8zM353.3 401.7h0.8v0.8h-0.8zM341.7 383.8h0.8v0.8h-0.8zM343.4 363.5h0.8v0.8h-0.8zM347.7 395.6h0.8v0.8h-0.8zM347.9 366.6h0.8v0.8h-0.8zM346.6 381.3h0.8v0.8h-0.8zM347.2 367.0h0.8v0.8h-0.8zM342.7 385.6h0.8v0.8h-0.8zM340.4 386.2h0.8v0.8h-0.8zM347.0 375.4h0.8v0.8h-0.8zM346.7 372.9h0.8v0.8h-0.8zM350.9 387.4h0.8v0.8h-0.8zM342.6 365.4h0.8v0.8h-0.8zM345.1 391.8h0.8v0.8h-0.8zM341.2 386.2h0.8v0.8h-0.8zM346.4 398.6h0.8v0.8h-0.8zM355.9 394.3h0.8v0.8h-0.8zM345.4 371.3h0.8v0.8h-0.8zM337.2 404.6h0.8v0.8h-0.8zM347.8 371.0h0.8v0.8h-0.8zM346.1 392.4h0.8v0.8h-0.8zM344.3 374.5h0.8v0.8h-0.8zM346.9 397.2h0.8v0.8h-0.8zM345.5 387.6h0.8v0.8h-0.8zM346.0 365.2h0.8v0.8h-0.8zM353.7 380.6h0.8v0.8h-0.8zM343.4 394.0h0.8v0.8h-0.8zM346.7 371.0h0.8v0.8h-0.8zM341.2 384.2h0.8v0.8h-0.8zM355.5 401.6h0.8v0.8h-0.8zM344.3 394.6h0.8v0.8h-0.8zM347.9 393.6h0.8v0.8h-0.8zM349.5 401.9h0.8v0.8h-0.8zM345.7 404.1h0.8v0.8h-0.8zM344.7 386.9h0.8v0.8h-0.8zM350.5 385.1h0.8v0.8h-0.8zM353.1 376.9h0.8v0.8h-0.8zM346.2 390.8h0.8v0.8h-0.8zM348.8 368.9h0.8v0.8h-0.8zM349.6 399.0h0.8v0.8h-0.8zM350.7 382.5h0.8v0.8h-0.8zM346.3 381.6h0.8v0.8h-0.8zM348.2 404.9h0.8v0.8h-0.8zM349.4 378.8h0.8v0.8h-0.8zM346.5 364.5h0.8v0.8h-0.8zM345.5 370.7h0.8v0.8h-0.8zM349.5 396.1h0.8v0.8h-0.8zM345.4 369.0h0.8v0.8h-0.8zM343.1 397.5h0.8v0.8h-0.8zM344.0 370.8h0.8v0.8h-0.8zM350.2 383.3h0.8v0.8h-0.8zM346.9 387.6h0.8v0.8h-0.8zM343.9 387.3h0.8v0.8h-0.8zM341.1 388.9h0.8v0.8h-0.8zM345.7 386.8h0.8v0.8h-0.8zM347.5 370.2h0.8v0.8h-0.8zM342.8 373.0h0.8v0.8h-0.8zM345.5 365.8h0.8v0.8h-0.8zM350.2 375.8h0.8v0.8h-0.8zM352.0 379.7h0.8v0.8h-0.8zM344.8 396.7h0.8v0.8h-0.8zM341.6 397.4h0.8v0.8h-0.8zM346.3 378.0h0.8v0.8h-0.8zM349.0 372.6h0.8v0.8h-0.8zM347.8 390.6h0.8v0.8h-0.8zM352.5 390.2h0.8v0.8h-0.8zM345.4 401.1h0.8v0.8h-0.8zM349.2 394.3h0.8v0.8h-0.8zM345.1 381.9h0.8v0.8h-0.8zM351.6 390.7h0.8v0.8h-0.8zM345.3 394.1h0.8v0.8h-0.8zM348.4 373.2h0.8v0.8h-0.8zM346.3 398.4h0.8v0.8h-0.8zM343.1 374.4h0.8v0.8h-0.8zM345.9 373.9h0.8v0.8h-0.8zM349.2 373.4h0.8v0.8h-0.8zM338.2 404.0h0.8v0.8h-0.8zM348.5 365.2h0.8v0.8h-0.8zM344.5 373.9h0.8v0.8h-0.8zM346.6 401.0h0.8v0.8h-0.8zM345.7 379.6h0.8v0.8h-0.8zM343.7 393.8h0.8v0.8h-0.8zM349.5 374.2h0.8v0.8h-0.8zM345.1 389.0h0.8v0.8h-0.8zM340.3 380.1h0.8v0.8h-0.8zM347.4 399.1h0.8v0.8h-0.8zM350.3 393.5h0.8v0.8h-0.8zM345.7 363.7h0.8v0.8h-0.8zM342.9 399.4h0.8v0.8h-0.8zM350.1 391.6h0.8v0.8h-0.8zM347.9 392.9h0.8v0.8h-0.8zM345.0 367.6h0.8v0.8h-0.8zM350.5 399.2h0.8v0.8h-0.8zM351.8 386.2h0.8v0.8h-0.8zM352.0 379.3h0.8v0.8h-0.8zM346.2 371.4h0.8v0.8h-0.8zM342.6 367.9h0.8v0.8h-0.8zM348.0 397.4h0.8v0.8h-0.8zM347.6 394.8h0.8v0.8h-0.8zM348.9 368.0h0.8v0.8h-0.8zM343.5 389.9h0.8v0.8h-0.8zM347.8 376.1h0.8v0.8h-0.8zM346.3 388.0h0.8v0.8h-0.8zM345.1 389.8h0.8v0.8h-0.8zM344.6 371.3h0.8v0.8h-0.8zM351.3 387.9h0.8v0.8h-0.8zM350.4 369.4h0.8v0.8h-0.8zM345.7 401.1h0.8v0.8h-0.8zM342.6 391.5h0.8v0.8h-0.8zM349.9 398.4h0.8v0.8h-0.8zM336.6 399.8h0.8v0.8h-0.8zM346.7 386.3h0.8v0.8h-0.8zM343.8 367.9h0.8v0.8h-0.8zM350.2 369.4h0.8v0.8h-0.8zM353.7 399.3h0.8v0.8h-0.8zM345.8 404.2h0.8v0.8h-0.8zM348.6 385.6h0.8v0.8h-0.8zM344.0 377.6h0.8v0.8h-0.8zM341.7 375.6h0.8v0.8h-0.8zM343.4 369.7h0.8v0.8h-0.8zM346.6 363.0h0.8v0.8h-0.8zM348.3 365.3h0.8v0.8h-0.8zM344.5 380.9h0.8v0.8h-0.8zM349.5 403.9h0.8v0.8h-0.8zM349.9 392.4h0.8v0.8h-0.8zM346.9 365.7h0.8v0.8h-0.8zM349.0 364.0h0.8v0.8h-0.8zM341.8 399.4h0.8v0.8h-0.8zM345.9 384.1h0.8v0.8h-0.8zM344.2 393.6h0.8v0.8h-0.8zM350.6 392.2h0.8v0.8h-0.8zM349.1 394.3h0.8v0.8h-0.8zM347.9 378.0h0.8v0.8h-0.8zM344.1 395.8h0.8v0.8h-0.8zM344.1 403.2h0.8v0.8h-0.8zM347.3 399.3h0.8v0.8h-0.8zM351.6 392.8h0.8v0.8h-0.8zM348.2 383.6h0.8v0.8h-0.8zM346.6 377.0h0.8v0.8h-0.8zM345.0 370.6h0.8v0.8h-0.8zM347.0 380.8h0.8v0.8h-0.8zM349.2 403.0h0.8v0.8h-0.8zM345.6 398.2h0.8v0.8h-0.8zM341.1 363.2h0.8v0.8h-0.8zM346.2 365.5h0.8v0.8h-0.8zM349.5 365.1h0.8v0.8h-0.8zM346.2 383.3h0.8v0.8h-0.8zM344.9 404.6h0.8v0.8h-0.8zM347.2 375.0h0.8v0.8h-0.8zM336.9 401.3h0.8v0.8h-0.8zM347.5 402.2h0.8v0.8h-0.8zM343.6 367.7h0.8v0.8h-0.8zM347.1 386.7h0.8v0.8h-0.8zM347.8 400.6h0.8v0.8h-0.8zM348.8 402.7h0.8v0.8h-0.8zM349.3 373.6h0.8v0.8h-0.8zM345.4 364.4h0.8v0.8h-0.8zM346.5 368.4h0.8v0.8h-0.8zM342.0 387.2h0.8v0.8h-0.8zM345.9 401.9h0.8v0.8h-0.8zM344.7 376.1h0.8v0.8h-0.8zM343.7 373.9h0.8v0.8h-0.8zM347.3 363.7h0.8v0.8h-0.8zM349.5 398.2h0.8v0.8h-0.8zM346.9 367.7h0.8v0.8h-0.8zM344.6 401.5h0.8v0.8h-0.8zM346.4 385.5h0.8v0.8h-0.8zM343.8 388.6h0.8v0.8h-0.8zM349.1 370.8h0.8v0.8h-0.8zM347.3 386.7h0.8v0.8h-0.8zM340.4 404.2h0.8v0.8h-0.8zM350.3 401.0h0.8v0.8h-0.8zM341.4 372.3h0.8v0.8h-0.8zM344.8 366.1h0.8v0.8h-0.8zM354.7 399.6h0.8v0.8h-0.8zM346.1 404.7h0.8v0.8h-0.8zM349.0 391.0h0.8v0.8h-0.8zM348.1 387.6h0.8v0.8h-0.8zM350.1 396.1h0.8v0.8h-0.8zM345.5 395.8h0.8v0.8h-0.8zM350.0 391.9h0.8v0.8h-0.8zM347.8 398.0h0.8v0.8h-0.8zM343.3 400.1h0.8v0.8h-0.8zM348.7 398.3h0.8v0.8h-0.8zM346.6 394.2h0.8v0.8h-0.8zM346.8 389.1h0.8v0.8h-0.8zM348.5 378.3h0.8v0.8h-0.8zM348.6 396.2h0.8v0.8h-0.8zM341.1 386.6h0.8v0.8h-0.8zM345.1 376.7h0.8v0.8h-0.8zM350.1 374.1h0.8v0.8h-0.8zM338.6 389.3h0.8v0.8h-0.8zM346.6 395.5h0.8v0.8h-0.8zM346.0 368.2h0.8v0.8h-0.8zM343.7 403.8h0.8v0.8h-0.8zM344.2 390.7h0.8v0.8h-0.8zM345.5 385.8h0.8v0.8h-0.8zM348.5 370.4h0.8v0.8h-0.8zM338.1 389.6h0.8v0.8h-0.8zM346.6 385.3h0.8v0.8h-0.8zM347.6 396.3h0.8v0.8h-0.8zM350.3 379.0h0.8v0.8h-0.8zM343.2 397.0h0.8v0.8h-0.8zM345.9 389.6h0.8v0.8h-0.8zM346.3 376.7h0.8v0.8h-0.8zM347.2 367.1h0.8v0.8h-0.8zM344.2 392.2h0.8v0.8h-0.8zM347.8 404.0h0.8v0.8h-0.8zM346.3 398.5h0.8v0.8h-0.8zM343.9 400.5h0.8v0.8h-0.8zM339.0 401.1h0.8v0.8h-0.8zM339.3 400.7h0.8v0.8h-0.8zM349.1 393.1h0.8v0.8h-0.8zM348.2 363.3h0.8v0.8h-0.8zM344.5 376.2h0.8v0.8h-0.8zM350.2 393.0h0.8v0.8h-0.8zM343.6 402.6h0.8v0.8h-0.8zM343.0 402.3h0.8v0.8h-0.8zM347.7 381.9h0.8v0.8h-0.8zM347.8 403.4h0.8v0.8h-0.8zM346.4 394.9h0.8v0.8h-0.8zM351.2 395.5h0.8v0.8h-0.8zM346.9 363.0h0.8v0.8h-0.8zM338.4 394.9h0.8v0.8h-0.8zM347.0 403.9h0.8v0.8h-0.8zM348.6 365.6h0.8v0.8h-0.8zM344.9 375.5h0.8v0.8h-0.8zM346.3 379.9h0.8v0.8h-0.8zM352.9 398.4h0.8v0.8h-0.8zM348.0 401.5h0.8v0.8h-0.8zM345.1 371.8h0.8v0.8h-0.8zM349.8 400.7h0.8v0.8h-0.8zM353.8 398.6h0.8v0.8h-0.8zM347.1 385.5h0.8v0.8h-0.8zM342.6 387.8h0.8v0.8h-0.8zM343.7 377.7h0.8v0.8h-0.8zM354.6 402.5h0.8v0.8h-0.8zM346.3 380.6h0.8v0.8h-0.8zM345.0 399.2h0.8v0.8h-0.8zM341.5 392.6h0.8v0.8h-0.8zM342.0 399.2h0.8v0.8h-0.8zM350.8 386.2h0.8v0.8h-0.8zM347.8 380.3h0.8v0.8h-0.8zM351.2 398.5h0.8v0.8h-0.8zM347.5 368.7h0.8v0.8h-0.8zM354.6 387.7h0.8v0.8h-0.8zM347.9 380.4h0.8v0.8h-0.8zM348.8 369.6h0.8v0.8h-0.8zM338.7 395.9h0.8v0.8h-0.8zM342.7 393.5h0.8v0.8h-0.8zM341.9 383.5h0.8v0.8h-0.8zM346.1 365.5h0.8v0.8h-0.8zM348.2 369.4h0.8v0.8h-0.8zM345.3 374.0h0.8v0.8h-0.8zM338.4 394.3h0.8v0.8h-0.8zM349.9 368.3h0.8v0.8h-0.8zM349.3 399.6h0.8v0.8h-0.8zM347.5 374.5h0.8v0.8h-0.8zM344.0 391.9h0.8v0.8h-0.8zM358.9 399.1h0.8v0.8h-0.8zM349.7 401.6h0.8v0.8h-0.8zM344.3 404.6h0.8v0.8h-0.8zM345.1 377.5h0.8v0.8h-0.8zM343.2 395.1h0.8v0.8h-0.8zM344.7 404.7h0.8v0.8h-0.8zM343.9 386.3h0.8v0.8h-0.8zM349.0 376.6h0.8v0.8h-0.8zM344.4 384.5h0.8v0.8h-0.8zM351.5 371.2h0.8v0.8h-0.8zM351.3 383.0h0.8v0.8h-0.8zM342.3 404.3h0.8v0.8h-0.8zM345.5 375.7h0.8v0.8h-0.8zM346.6 367.7h0.8v0.8h-0.8zM346.7 396.4h0.8v0.8h-0.8zM347.4 396.3h0.8v0.8h-0.8zM349.1 372.0h0.8v0.8h-0.8zM347.2 365.8h0.8v0.8h-0.8zM345.5 376.7h0.8v0.8h-0.8zM346.4 366.4h0.8v0.8h-0.8zM344.6 368.7h0.8v0.8h-0.8zM346.0 376.4h0.8v0.8h-0.8zM340.7 404.8h0.8v0.8h-0.8zM345.8 386.2h0.8v0.8h-0.8zM343.4 400.9h0.8v0.8h-0.8zM343.3 366.3h0.8v0.8h-0.8zM342.8 399.6h0.8v0.8h-0.8zM343.3 365.1h0.8v0.8h-0.8zM347.6 364.8h0.8v0.8h-0.8zM346.4 377.7h0.8v0.8h-0.8zM344.6 384.3h0.8v0.8h-0.8zM345.4 389.7h0.8v0.8h-0.8zM343.4 387.6h0.8v0.8h-0.8zM342.3 400.1h0.8v0.8h-0.8zM349.1 399.6h0.8v0.8h-0.8zM344.6 365.0h0.8v0.8h-0.8zM346.0 363.2h0.8v0.8h-0.8zM339.6 383.1h0.8v0.8h-0.8zM340.5 400.4h0.8v0.8h-0.8zM350.2 400.1h0.8v0.8h-0.8zM344.1 389.7h0.8v0.8h-0.8zM339.5 403.6h0.8v0.8h-0.8zM345.7 389.5h0.8v0.8h-0.8zM347.9 363.0h0.8v0.8h-0.8zM344.4 399.4h0.8v0.8h-0.8zM351.0 394.4h0.8v0.8h-0.8zM346.8 385.6h0.8v0.8h-0.8zM347.0 392.2h0.8v0.8h-0.8zM352.6 391.8h0.8v0.8h-0.8zM346.9 384.3h0.8v0.8h-0.8zM342.6 386.6h0.8v0.8h-0.8zM350.4 390.0h0.8v0.8h-0.8zM345.9 364.7h0.8v0.8h-0.8zM353.1 378.9h0.8v0.8h-0.8zM346.1 404.2h0.8v0.8h-0.8zM342.3 385.6h0.8v0.8h-0.8zM348.1 373.9h0.8v0.8h-0.8zM347.3 369.3h0.8v0.8h-0.8zM354.0 397.4h0.8v0.8h-0.8zM345.7 390.5h0.8v0.8h-0.8zM363.5 402.9h0.8v0.8h-0.8zM347.7 376.0h0.8v0.8h-0.8zM345.3 385.0h0.8v0.8h-0.8zM351.3 391.7h0.8v0.8h-0.8zM345.8 385.9h0.8v0.8h-0.8zM340.7 369.4h0.8v0.8h-0.8zM347.7 389.8h0.8v0.8h-0.8zM350.5 383.3h0.8v0.8h-0.8zM348.6 366.3h0.8v0.8h-0.8zM350.1 400.5h0.8v0.8h-0.8zM346.1 371.0h0.8v0.8h-0.8zM351.4 391.0h0.8v0.8h-0.8zM345.2 397.0h0.8v0.8h-0.8zM345.4 374.5h0.8v0.8h-0.8zM343.1 371.4h0.8v0.8h-0.8zM346.4 373.2h0.8v0.8h-0.8zM344.5 377.6h0.8v0.8h-0.8zM348.3 378.2h0.8v0.8h-0.8zM343.9 389.5h0.8v0.8h-0.8zM352.0 403.2h0.8v0.8h-0.8zM343.6 365.6h0.8v0.8h-0.8zM340.7 401.6h0.8v0.8h-0.8zM349.3 388.7h0.8v0.8h-0.8zM356.1 391.9h0.8v0.8h-0.8zM347.8 379.8h0.8v0.8h-0.8zM348.3 381.6h0.8v0.8h-0.8zM348.7 387.7h0.8v0.8h-0.8zM347.3 371.2h0.8v0.8h-0.8zM343.6 372.6h0.8v0.8h-0.8zM348.0 376.2h0.8v0.8h-0.8zM344.3 376.7h0.8v0.8h-0.8zM344.3 396.6h0.8v0.8h-0.8zM345.0 386.9h0.8v0.8h-0.8zM342.9 392.4h0.8v0.8h-0.8zM343.6 402.8h0.8v0.8h-0.8zM353.7 379.8h0.8v0.8h-0.8zM350.5 397.0h0.8v0.8h-0.8zM345.4 369.1h0.8v0.8h-0.8zM347.5 376.0h0.8v0.8h-0.8zM346.4 392.8h0.8v0.8h-0.8zM351.5 397.2h0.8v0.8h-0.8zM349.6 372.7h0.8v0.8h-0.8zM343.1 401.6h0.8v0.8h-0.8zM345.4 388.9h0.8v0.8h-0.8zM347.0 391.7h0.8v0.8h-0.8zM351.5 398.5h0.8v0.8h-0.8zM347.2 368.3h0.8v0.8h-0.8zM346.3 370.0h0.8v0.8h-0.8zM345.3 381.1h0.8v0.8h-0.8zM349.2 404.4h0.8v0.8h-0.8zM347.3 370.7h0.8v0.8h-0.8zM350.6 385.1h0.8v0.8h-0.8zM348.1 389.3h0.8v0.8h-0.8zM347.8 372.1h0.8v0.8h-0.8zM346.5 397.6h0.8v0.8h-0.8zM348.7 391.1h0.8v0.8h-0.8zM349.2 381.3h0.8v0.8h-0.8zM347.1 378.0h0.8v0.8h-0.8zM345.7 389.6h0.8v0.8h-0.8zM350.1 377.2h0.8v0.8h-0.8zM346.7 378.6h0.8v0.8h-0.8zM346.7 399.3h0.8v0.8h-0.8zM345.2 385.0h0.8v0.8h-0.8zM348.2 381.3h0.8v0.8h-0.8zM339.5 404.8h0.8v0.8h-0.8zM347.5 375.3h0.8v0.8h-0.8zM347.0 374.7h0.8v0.8h-0.8zM340.9 396.1h0.8v0.8h-0.8zM349.3 370.8h0.8v0.8h-0.8zM349.2 378.8h0.8v0.8h-0.8zM345.6 375.7h0.8v0.8h-0.8zM345.5 366.0h0.8v0.8h-0.8zM347.3 365.5h0.8v0.8h-0.8zM353.6 382.5h0.8v0.8h-0.8zM349.5 398.4h0.8v0.8h-0.8zM341.4 399.5h0.8v0.8h-0.8zM342.1 398.3h0.8v0.8h-0.8zM343.0 385.2h0.8v0.8h-0.8zM345.2 366.8h0.8v0.8h-0.8zM348.2 381.9h0.8v0.8h-0.8zM340.4 405.0h0.8v0.8h-0.8zM348.4 388.8h0.8v0.8h-0.8zM345.8 378.4h0.8v0.8h-0.8zM351.7 367.9h0.8v0.8h-0.8zM351.3 381.0h0.8v0.8h-0.8zM343.0 370.1h0.8v0.8h-0.8zM346.0 369.4h0.8v0.8h-0.8zM347.8 386.3h0.8v0.8h-0.8zM347.3 379.6h0.8v0.8h-0.8zM342.1 375.8h0.8v0.8h-0.8zM348.6 379.5h0.8v0.8h-0.8zM344.5 379.6h0.8v0.8h-0.8zM339.6 393.9h0.8v0.8h-0.8zM339.0 382.6h0.8v0.8h-0.8zM338.7 384.9h0.8v0.8h-0.8zM350.1 377.2h0.8v0.8h-0.8zM345.6 381.3h0.8v0.8h-0.8zM350.3 386.6h0.8v0.8h-0.8zM345.7 376.6h0.8v0.8h-0.8zM348.7 396.3h0.8v0.8h-0.8zM343.8 379.9h0.8v0.8h-0.8zM350.8 385.5h0.8v0.8h-0.8zM343.6 363.5h0.8v0.8h-0.8zM350.3 389.6h0.8v0.8h-0.8zM341.4 388.9h0.8v0.8h-0.8zM352.3 377.7h0.8v0.8h-0.8zM346.0 379.3h0.8v0.8h-0.8zM345.1 378.3h0.8v0.8h-0.8zM341.7 395.3h0.8v0.8h-0.8zM346.9 373.8h0.8v0.8h-0.8zM344.7 396.9h0.8v0.8h-0.8zM344.8 383.1h0.8v0.8h-0.8zM347.1 394.1h0.8v0.8h-0.8zM346.7 404.2h0.8v0.8h-0.8zM340.1 383.1h0.8v0.8h-0.8zM345.1 394.4h0.8v0.8h-0.8zM353.3 390.0h0.8v0.8h-0.8zM351.4 403.0h0.8v0.8h-0.8zM350.4 393.9h0.8v0.8h-0.8zM347.8 384.4h0.8v0.8h-0.8zM347.9 367.8h0.8v0.8h-0.8zM342.9 367.2h0.8v0.8h-0.8zM348.0 376.1h0.8v0.8h-0.8zM341.2 395.5h0.8v0.8h-0.8zM348.0 392.4h0.8v0.8h-0.8zM352.6 367.9h0.8v0.8h-0.8zM351.9 388.5h0.8v0.8h-0.8zM343.6 396.4h0.8v0.8h-0.8zM344.3 370.7h0.8v0.8h-0.8zM348.4 363.1h0.8v0.8h-0.8zM336.8 401.4h0.8v0.8h-0.8zM348.2 398.5h0.8v0.8h-0.8zM347.7 368.4h0.8v0.8h-0.8zM353.8 396.2h0.8v0.8h-0.8zM337.8 403.7h0.8v0.8h-0.8zM346.6 386.8h0.8v0.8h-0.8zM342.5 377.9h0.8v0.8h-0.8zM347.1 387.4h0.8v0.8h-0.8zM346.5 364.9h0.8v0.8h-0.8zM346.2 374.0h0.8v0.8h-0.8zM348.0 365.6h0.8v0.8h-0.8zM353.7 382.9h0.8v0.8h-0.8zM344.3 369.8h0.8v0.8h-0.8zM344.2 382.2h0.8v0.8h-0.8zM345.2 373.3h0.8v0.8h-0.8zM346.9 368.0h0.8v0.8h-0.8zM344.9 396.4h0.8v0.8h-0.8zM346.7 396.2h0.8v0.8h-0.8zM337.0 386.6h0.8v0.8h-0.8zM351.4 399.7h0.8v0.8h-0.8zM343.6 374.8h0.8v0.8h-0.8zM346.6 375.7h0.8v0.8h-0.8zM347.4 380.8h0.8v0.8h-0.8zM346.2 392.8h0.8v0.8h-0.8zM344.4 390.8h0.8v0.8h-0.8zM343.1 390.7h0.8v0.8h-0.8zM346.4 387.6h0.8v0.8h-0.8zM341.5 390.1h0.8v0.8h-0.8zM344.1 371.4h0.8v0.8h-0.8zM345.8 371.4h0.8v0.8h-0.8zM349.7 381.5h0.8v0.8h-0.8zM347.9 404.1h0.8v0.8h-0.8zM351.0 391.2h0.8v0.8h-0.8zM349.9 379.5h0.8v0.8h-0.8zM344.2 368.5h0.8v0.8h-0.8zM345.4 379.9h0.8v0.8h-0.8zM353.4 388.8h0.8v0.8h-0.8zM349.0 395.7h0.8v0.8h-0.8zM337.6 400.5h0.8v0.8h-0.8zM343.1 382.0h0.8v0.8h-0.8zM345.6 398.3h0.8v0.8h-0.8zM342.9 373.6h0.8v0.8h-0.8zM345.1 403.1h0.8v0.8h-0.8zM348.8 390.2h0.8v0.8h-0.8zM346.5 366.1h0.8v0.8h-0.8zM349.9 385.6h0.8v0.8h-0.8zM351.5 399.3h0.8v0.8h-0.8zM338.9 389.9h0.8v0.8h-0.8zM346.1 384.7h0.8v0.8h-0.8zM350.7 392.9h0.8v0.8h-0.8zM348.1 404.9h0.8v0.8h-0.8zM344.0 369.6h0.8v0.8h-0.8zM347.4 392.4h0.8v0.8h-0.8zM342.1 387.2h0.8v0.8h-0.8zM344.3 367.6h0.8v0.8h-0.8zM346.8 364.2h0.8v0.8h-0.8zM346.1 365.5h0.8v0.8h-0.8zM343.4 403.5h0.8v0.8h-0.8zM346.7 364.6h0.8v0.8h-0.8zM344.7 369.1h0.8v0.8h-0.8zM343.5 390.8h0.8v0.8h-0.8zM345.2 389.3h0.8v0.8h-0.8zM346.4 386.3h0.8v0.8h-0.8zM341.9 385.5h0.8v0.8h-0.8zM351.6 377.7h0.8v0.8h-0.8zM345.3 385.6h0.8v0.8h-0.8zM346.5 392.8h0.8v0.8h-0.8zM343.8 364.9h0.8v0.8h-0.8zM345.8 394.6h0.8v0.8h-0.8zM343.3 381.7h0.8v0.8h-0.8zM347.3 379.9h0.8v0.8h-0.8zM339.8 404.3h0.8v0.8h-0.8zM344.0 391.3h0.8v0.8h-0.8zM348.9 402.9h0.8v0.8h-0.8zM347.6 401.1h0.8v0.8h-0.8zM347.2 378.9h0.8v0.8h-0.8zM347.6 367.0h0.8v0.8h-0.8zM344.3 399.5h0.8v0.8h-0.8zM351.4 375.6h0.8v0.8h-0.8zM346.9 380.3h0.8v0.8h-0.8zM347.9 363.3h0.8v0.8h-0.8zM355.3 403.3h0.8v0.8h-0.8zM340.1 403.5h0.8v0.8h-0.8zM340.7 404.6h0.8v0.8h-0.8zM347.6 367.9h0.8v0.8h-0.8zM344.9 376.4h0.8v0.8h-0.8zM346.3 388.4h0.8v0.8h-0.8zM345.9 386.1h0.8v0.8h-0.8zM347.6 381.8h0.8v0.8h-0.8zM342.2 396.0h0.8v0.8h-0.8zM345.6 379.9h0.8v0.8h-0.8zM346.6 387.3h0.8v0.8h-0.8zM349.8 388.7h0.8v0.8h-0.8zM345.1 402.1h0.8v0.8h-0.8zM345.8 394.2h0.8v0.8h-0.8zM342.5 392.1h0.8v0.8h-0.8zM344.5 385.4h0.8v0.8h-0.8zM352.7 402.6h0.8v0.8h-0.8zM345.7 387.0h0.8v0.8h-0.8zM343.8 381.9h0.8v0.8h-0.8zM349.7 391.8h0.8v0.8h-0.8zM350.1 387.7h0.8v0.8h-0.8zM348.9 398.5h0.8v0.8h-0.8zM353.9 374.0h0.8v0.8h-0.8zM348.1 380.8h0.8v0.8h-0.8zM344.6 391.6h0.8v0.8h-0.8zM344.4 383.5h0.8v0.8h-0.8zM348.4 401.0h0.8v0.8h-0.8zM348.3 379.8h0.8v0.8h-0.8zM343.2 368.1h0.8v0.8h-0.8zM343.1 374.1h0.8v0.8h-0.8zM347.9 393.0h0.8v0.8h-0.8zM350.3 394.1h0.8v0.8h-0.8zM350.4 385.7h0.8v0.8h-0.8zM343.8 384.7h0.8v0.8h-0.8zM341.7 382.2h0.8v0.8h-0.8zM347.5 370.5h0.8v0.8h-0.8zM345.1 373.8h0.8v0.8h-0.8zM347.4 363.5h0.8v0.8h-0.8zM347.1 371.6h0.8v0.8h-0.8zM345.2 380.5h0.8v0.8h-0.8zM343.0 369.3h0.8v0.8h-0.8zM344.0 383.7h0.8v0.8h-0.8zM340.8 386.5h0.8v0.8h-0.8zM338.5 377.8h0.8v0.8h-0.8zM345.5 366.6h0.8v0.8h-0.8zM343.1 390.8h0.8v0.8h-0.8zM350.1 373.3h0.8v0.8h-0.8zM343.3 391.8h0.8v0.8h-0.8zM347.6 375.8h0.8v0.8h-0.8zM353.4 386.3h0.8v0.8h-0.8zM346.9 370.6h0.8v0.8h-0.8zM347.2 373.0h0.8v0.8h-0.8zM346.1 384.5h0.8v0.8h-0.8zM344.8 386.0h0.8v0.8h-0.8zM348.0 395.4h0.8v0.8h-0.8zM346.8 382.3h0.8v0.8h-0.8zM343.7 401.6h0.8v0.8h-0.8zM352.6 400.2h0.8v0.8h-0.8zM348.2 365.8h0.8v0.8h-0.8zM350.6 395.9h0.8v0.8h-0.8zM350.7 402.2h0.8v0.8h-0.8zM348.8 383.0h0.8v0.8h-0.8zM344.7 401.9h0.8v0.8h-0.8zM345.3 396.4h0.8v0.8h-0.8zM341.6 389.8h0.8v0.8h-0.8zM346.5 383.7h0.8v0.8h-0.8zM351.5 400.1h0.8v0.8h-0.8zM345.9 395.5h0.8v0.8h-0.8zM346.0 396.3h0.8v0.8h-0.8zM348.5 372.3h0.8v0.8h-0.8zM344.6 387.5h0.8v0.8h-0.8zM348.6 376.3h0.8v0.8h-0.8zM349.7 384.0h0.8v0.8h-0.8zM340.9 377.9h0.8v0.8h-0.8zM343.8 369.6h0.8v0.8h-0.8zM340.6 400.0h0.8v0.8h-0.8zM349.9 387.8h0.8v0.8h-0.8zM347.7 382.4h0.8v0.8h-0.8zM337.6 396.6h0.8v0.8h-0.8zM342.6 365.9h0.8v0.8h-0.8zM345.3 367.7h0.8v0.8h-0.8zM335.7 404.5h0.8v0.8h-0.8zM351.0 401.5h0.8v0.8h-0.8zM346.9 386.2h0.8v0.8h-0.8zM356.6 397.8h0.8v0.8h-0.8zM351.5 398.6h0.8v0.8h-0.8zM346.0 364.8h0.8v0.8h-0.8zM347.0 395.8h0.8v0.8h-0.8zM349.0 365.1h0.8v0.8h-0.8zM345.6 370.9h0.8v0.8h-0.8zM348.0 377.9h0.8v0.8h-0.8zM345.0 385.9h0.8v0.8h-0.8zM348.4 386.5h0.8v0.8h-0.8zM348.6 403.4h0.8v0.8h-0.8zM343.1 369.2h0.8v0.8h-0.8zM348.3 370.8h0.8v0.8h-0.8zM347.1 373.5h0.8v0.8h-0.8zM346.1 373.3h0.8v0.8h-0.8zM348.5 394.6h0.8v0.8h-0.8zM348.4 367.8h0.8v0.8h-0.8zM339.6 391.6h0.8v0.8h-0.8zM340.6 392.5h0.8v0.8h-0.8zM347.1 385.4h0.8v0.8h-0.8zM349.1 398.1h0.8v0.8h-0.8zM344.9 383.3h0.8v0.8h-0.8zM341.4 402.2h0.8v0.8h-0.8zM338.0 401.5h0.8v0.8h-0.8zM340.3 396.3h0.8v0.8h-0.8zM348.7 395.8h0.8v0.8h-0.8zM341.5 383.2h0.8v0.8h-0.8zM342.8 378.5h0.8v0.8h-0.8zM342.8 387.6h0.8v0.8h-0.8zM350.6 363.7h0.8v0.8h-0.8zM345.8 397.9h0.8v0.8h-0.8zM345.7 402.3h0.8v0.8h-0.8zM345.2 393.4h0.8v0.8h-0.8zM342.0 390.8h0.8v0.8h-0.8zM346.7 369.8h0.8v0.8h-0.8zM348.9 380.9h0.8v0.8h-0.8zM347.0 399.5h0.8v0.8h-0.8zM346.6 394.4h0.8v0.8h-0.8zM347.2 403.5h0.8v0.8h-0.8zM351.2 371.7h0.8v0.8h-0.8zM345.0 397.9h0.8v0.8h-0.8zM347.6 379.1h0.8v0.8h-0.8zM343.6 404.8h0.8v0.8h-0.8zM347.0 370.3h0.8v0.8h-0.8zM347.1 399.5h0.8v0.8h-0.8zM339.9 388.5h0.8v0.8h-0.8zM344.4 397.1h0.8v0.8h-0.8zM348.8 396.5h0.8v0.8h-0.8zM344.6 385.2h0.8v0.8h-0.8zM347.2 378.8h0.8v0.8h-0.8zM346.3 395.2h0.8v0.8h-0.8zM338.9 399.3h0.8v0.8h-0.8zM346.8 366.2h0.8v0.8h-0.8zM347.5 369.9h0.8v0.8h-0.8zM345.0 367.0h0.8v0.8h-0.8zM344.3 381.6h0.8v0.8h-0.8zM347.7 395.0h0.8v0.8h-0.8zM350.7 403.4h0.8v0.8h-0.8zM344.3 372.4h0.8v0.8h-0.8zM345.2 366.5h0.8v0.8h-0.8zM345.0 366.0h0.8v0.8h-0.8zM344.6 363.2h0.8v0.8h-0.8zM347.5 395.7h0.8v0.8h-0.8zM348.4 369.2h0.8v0.8h-0.8zM347.3 398.8h0.8v0.8h-0.8zM347.7 382.8h0.8v0.8h-0.8zM351.8 404.3h0.8v0.8h-0.8zM336.3 402.0h0.8v0.8h-0.8zM347.5 371.1h0.8v0.8h-0.8zM356.3 400.4h0.8v0.8h-0.8zM345.2 393.7h0.8v0.8h-0.8zM348.2 389.5h0.8v0.8h-0.8zM348.9 384.7h0.8v0.8h-0.8zM341.1 396.8h0.8v0.8h-0.8zM344.6 365.0h0.8v0.8h-0.8zM345.8 389.6h0.8v0.8h-0.8zM348.7 370.8h0.8v0.8h-0.8zM347.3 376.6h0.8v0.8h-0.8zM346.7 363.5h0.8v0.8h-0.8zM344.1 371.1h0.8v0.8h-0.8zM342.1 389.2h0.8v0.8h-0.8zM338.7 393.1h0.8v0.8h-0.8zM345.6 384.3h0.8v0.8h-0.8zM350.2 387.5h0.8v0.8h-0.8zM343.2 395.2h0.8v0.8h-0.8zM345.9 369.7h0.8v0.8h-0.8zM345.6 378.2h0.8v0.8h-0.8zM345.6 371.6h0.8v0.8h-0.8zM342.8 381.6h0.8v0.8h-0.8zM348.4 376.7h0.8v0.8h-0.8zM345.7 387.3h0.8v0.8h-0.8zM344.6 401.8h0.8v0.8h-0.8zM347.8 376.7h0.8v0.8h-0.8zM345.2 373.5h0.8v0.8h-0.8zM350.7 390.2h0.8v0.8h-0.8zM351.5 390.0h0.8v0.8h-0.8zM350.7 384.2h0.8v0.8h-0.8zM338.6 396.2h0.8v0.8h-0.8zM354.0 398.4h0.8v0.8h-0.8zM349.6 393.3h0.8v0.8h-0.8zM347.3 388.7h0.8v0.8h-0.8zM349.8 379.9h0.8v0.8h-0.8zM345.4 363.7h0.8v0.8h-0.8zM342.8 369.1h0.8v0.8h-0.8zM353.0 397.8h0.8v0.8h-0.8zM339.4 398.4h0.8v0.8h-0.8zM344.3 391.4h0.8v0.8h-0.8zM345.4 387.6h0.8v0.8h-0.8zM345.1 396.2h0.8v0.8h-0.8zM339.6 389.1h0.8v0.8h-0.8zM343.7 379.2h0.8v0.8h-0.8zM342.3 396.0h0.8v0.8h-0.8zM348.3 382.4h0.8v0.8h-0.8zM347.3 399.9h0.8v0.8h-0.8zM344.8 381.9h0.8v0.8h-0.8zM352.3 399.1h0.8v0.8h-0.8zM346.7 400.1h0.8v0.8h-0.8zM345.9 385.5h0.8v0.8h-0.8zM347.5 390.3h0.8v0.8h-0.8zM349.7 390.9h0.8v0.8h-0.8zM349.7 386.4h0.8v0.8h-0.8zM345.4 375.7h0.8v0.8h-0.8zM339.8 396.2h0.8v0.8h-0.8zM350.7 383.2h0.8v0.8h-0.8zM355.1 404.1h0.8v0.8h-0.8zM345.9 384.8h0.8v0.8h-0.8zM345.0 369.2h0.8v0.8h-0.8zM346.9 373.2h0.8v0.8h-0.8zM340.8 378.6h0.8v0.8h-0.8zM346.2 376.2h0.8v0.8h-0.8zM345.4 377.1h0.8v0.8h-0.8zM343.8 388.2h0.8v0.8h-0.8zM345.9 370.4h0.8v0.8h-0.8zM346.4 368.9h0.8v0.8h-0.8zM347.2 372.7h0.8v0.8h-0.8zM352.4 400.9h0.8v0.8h-0.8zM351.4 387.0h0.8v0.8h-0.8zM343.8 387.1h0.8v0.8h-0.8zM341.4 404.4h0.8v0.8h-0.8zM344.5 384.1h0.8v0.8h-0.8zM349.6 375.4h0.8v0.8h-0.8zM351.0 393.9h0.8v0.8h-0.8zM338.4 401.5h0.8v0.8h-0.8zM348.7 389.9h0.8v0.8h-0.8zM346.8 386.9h0.8v0.8h-0.8zM348.7 381.5h0.8v0.8h-0.8zM347.1 392.1h0.8v0.8h-0.8zM339.7 400.0h0.8v0.8h-0.8zM344.5 401.3h0.8v0.8h-0.8zM343.6 398.5h0.8v0.8h-0.8zM352.6 389.2h0.8v0.8h-0.8zM343.8 394.0h0.8v0.8h-0.8zM348.5 384.2h0.8v0.8h-0.8zM338.9 399.2h0.8v0.8h-0.8zM348.8 390.8h0.8v0.8h-0.8zM342.3 389.5h0.8v0.8h-0.8zM343.2 374.7h0.8v0.8h-0.8zM350.6 386.0h0.8v0.8h-0.8zM349.7 380.9h0.8v0.8h-0.8zM348.7 370.1h0.8v0.8h-0.8zM346.2 392.4h0.8v0.8h-0.8zM348.1 384.4h0.8v0.8h-0.8zM347.8 366.2h0.8v0.8h-0.8zM346.2 404.9h0.8v0.8h-0.8zM349.4 376.3h0.8v0.8h-0.8zM344.3 392.2h0.8v0.8h-0.8zM343.8 378.7h0.8v0.8h-0.8zM346.9 384.0h0.8v0.8h-0.8zM344.2 366.6h0.8v0.8h-0.8zM349.3 400.4h0.8v0.8h-0.8zM348.1 399.3h0.8v0.8h-0.8zM346.9 371.4h0.8v0.8h-0.8zM349.2 398.6h0.8v0.8h-0.8zM342.9 384.5h0.8v0.8h-0.8zM347.8 375.2h0.8v0.8h-0.8zM346.1 375.2h0.8v0.8h-0.8zM345.8 365.2h0.8v0.8h-0.8zM348.9 393.1h0.8v0.8h-0.8zM345.6 366.1h0.8v0.8h-0.8zM347.3 391.8h0.8v0.8h-0.8zM346.8 363.8h0.8v0.8h-0.8zM345.2 384.8h0.8v0.8h-0.8zM348.2 397.7h0.8v0.8h-0.8zM346.5 377.9h0.8v0.8h-0.8zM342.9 402.7h0.8v0.8h-0.8zM345.9 392.2h0.8v0.8h-0.8zM346.2 388.5h0.8v0.8h-0.8zM345.5 369.0h0.8v0.8h-0.8zM343.2 391.8h0.8v0.8h-0.8zM348.6 363.2h0.8v0.8h-0.8zM345.5 399.7h0.8v0.8h-0.8zM348.3 401.8h0.8v0.8h-0.8zM353.7 405.0h0.8v0.8h-0.8zM352.9 403.9h0.8v0.8h-0.8zM345.3 398.5h0.8v0.8h-0.8zM341.9 403.4h0.8v0.8h-0.8zM343.9 363.3h0.8v0.8h-0.8zM342.9 391.3h0.8v0.8h-0.8zM352.7 396.4h0.8v0.8h-0.8zM347.1 368.9h0.8v0.8h-0.8zM345.6 375.0h0.8v0.8h-0.8zM344.7 385.1h0.8v0.8h-0.8zM347.7 365.6h0.8v0.8h-0.8zM345.2 373.4h0.8v0.8h-0.8zM347.5 402.0h0.8v0.8h-0.8zM346.7 380.1h0.8v0.8h-0.8zM349.2 371.6h0.8v0.8h-0.8zM340.4 376.9h0.8v0.8h-0.8zM345.1 383.4h0.8v0.8h-0.8zM347.5 366.5h0.8v0.8h-0.8zM347.4 368.9h0.8v0.8h-0.8zM346.1 373.7h0.8v0.8h-0.8zM332.6 399.5h0.8v0.8h-0.8zM344.8 384.7h0.8v0.8h-0.8zM342.5 383.3h0.8v0.8h-0.8zM348.8 391.2h0.8v0.8h-0.8zM347.6 376.8h0.8v0.8h-0.8zM348.3 375.5h0.8v0.8h-0.8zM348.4 384.8h0.8v0.8h-0.8zM350.3 374.2h0.8v0.8h-0.8zM348.9 399.2h0.8v0.8h-0.8zM344.3 374.2h0.8v0.8h-0.8zM354.6 400.3h0.8v0.8h-0.8zM347.7 390.9h0.8v0.8h-0.8zM342.0 383.8h0.8v0.8h-0.8zM345.6 399.0h0.8v0.8h-0.8zM348.2 381.9h0.8v0.8h-0.8zM348.8 394.1h0.8v0.8h-0.8zM344.6 385.9h0.8v0.8h-0.8zM345.1 374.3h0.8v0.8h-0.8zM349.6 378.9h0.8v0.8h-0.8zM347.5 402.6h0.8v0.8h-0.8zM348.1 365.1h0.8v0.8h-0.8zM346.8 397.2h0.8v0.8h-0.8zM342.3 365.9h0.8v0.8h-0.8zM344.5 403.5h0.8v0.8h-0.8zM344.4 375.5h0.8v0.8h-0.8zM350.0 391.6h0.8v0.8h-0.8zM344.8 363.8h0.8v0.8h-0.8zM345.5 364.3h0.8v0.8h-0.8zM345.5 367.4h0.8v0.8h-0.8zM341.6 399.8h0.8v0.8h-0.8zM350.4 390.4h0.8v0.8h-0.8zM346.4 363.7h0.8v0.8h-0.8zM347.8 368.6h0.8v0.8h-0.8zM353.5 395.8h0.8v0.8h-0.8zM345.2 364.0h0.8v0.8h-0.8zM349.2 390.7h0.8v0.8h-0.8zM340.6 403.0h0.8v0.8h-0.8zM345.7 399.8h0.8v0.8h-0.8zM348.0 367.7h0.8v0.8h-0.8zM345.3 398.8h0.8v0.8h-0.8zM350.3 389.7h0.8v0.8h-0.8zM347.6 365.1h0.8v0.8h-0.8zM348.1 402.4h0.8v0.8h-0.8zM345.2 385.8h0.8v0.8h-0.8zM347.7 390.2h0.8v0.8h-0.8zM343.2 371.6h0.8v0.8h-0.8zM349.6 402.2h0.8v0.8h-0.8zM347.0 371.7h0.8v0.8h-0.8zM345.3 379.8h0.8v0.8h-0.8zM349.1 385.1h0.8v0.8h-0.8zM343.3 401.8h0.8v0.8h-0.8zM345.0 403.2h0.8v0.8h-0.8zM345.9 384.5h0.8v0.8h-0.8zM344.8 364.6h0.8v0.8h-0.8zM344.0 373.2h0.8v0.8h-0.8zM349.2 363.1h0.8v0.8h-0.8zM348.7 396.5h0.8v0.8h-0.8zM344.7 403.7h0.8v0.8h-0.8zM347.3 402.5h0.8v0.8h-0.8zM344.0 401.3h0.8v0.8h-0.8zM342.4 381.0h0.8v0.8h-0.8zM348.9 372.8h0.8v0.8h-0.8zM342.8 402.4h0.8v0.8h-0.8zM349.4 392.2h0.8v0.8h-0.8zM343.1 379.3h0.8v0.8h-0.8zM342.3 389.9h0.8v0.8h-0.8zM344.1 388.7h0.8v0.8h-0.8zM335.3 400.6h0.8v0.8h-0.8zM345.6 386.4h0.8v0.8h-0.8zM352.4 393.4h0.8v0.8h-0.8zM344.5 389.3h0.8v0.8h-0.8zM348.9 379.3h0.8v0.8h-0.8zM345.6 390.2h0.8v0.8h-0.8zM345.4 387.3h0.8v0.8h-0.8zM349.0 375.1h0.8v0.8h-0.8zM345.3 375.2h0.8v0.8h-0.8zM345.0 392.5h0.8v0.8h-0.8zM342.7 386.5h0.8v0.8h-0.8zM347.4 363.5h0.8v0.8h-0.8zM347.2 368.0h0.8v0.8h-0.8zM338.9 390.0h0.8v0.8h-0.8zM342.8 367.7h0.8v0.8h-0.8zM347.5 364.4h0.8v0.8h-0.8zM344.1 370.1h0.8v0.8h-0.8zM341.7 396.3h0.8v0.8h-0.8zM347.9 363.8h0.8v0.8h-0.8zM342.6 387.7h0.8v0.8h-0.8zM345.5 366.8h0.8v0.8h-0.8zM352.3 389.9h0.8v0.8h-0.8zM344.4 404.7h0.8v0.8h-0.8zM349.0 391.5h0.8v0.8h-0.8zM344.2 367.5h0.8v0.8h-0.8zM344.6 400.6h0.8v0.8h-0.8zM348.1 367.4h0.8v0.8h-0.8zM344.3 363.6h0.8v0.8h-0.8zM345.1 404.8h0.8v0.8h-0.8zM345.6 401.8h0.8v0.8h-0.8zM344.6 363.3h0.8v0.8h-0.8zM350.7 404.1h0.8v0.8h-0.8zM345.0 372.5h0.8v0.8h-0.8zM346.7 385.9h0.8v0.8h-0.8zM344.6 363.2h0.8v0.8h-0.8zM348.3 364.4h0.8v0.8h-0.8zM344.7 370.0h0.8v0.8h-0.8zM350.2 373.0h0.8v0.8h-0.8zM349.8 375.2h0.8v0.8h-0.8zM350.6 385.8h0.8v0.8h-0.8zM339.7 370.9h0.8v0.8h-0.8zM347.8 382.9h0.8v0.8h-0.8zM346.0 374.8h0.8v0.8h-0.8zM341.3 400.9h0.8v0.8h-0.8zM341.5 404.3h0.8v0.8h-0.8zM346.9 365.3h0.8v0.8h-0.8zM345.5 396.6h0.8v0.8h-0.8zM347.6 383.2h0.8v0.8h-0.8zM346.6 393.6h0.8v0.8h-0.8zM343.1 391.5h0.8v0.8h-0.8zM345.1 387.0h0.8v0.8h-0.8zM345.4 398.2h0.8v0.8h-0.8zM347.3 364.7h0.8v0.8h-0.8zM347.6 372.2h0.8v0.8h-0.8zM348.4 396.0h0.8v0.8h-0.8zM346.8 365.1h0.8v0.8h-0.8zM345.4 402.1h0.8v0.8h-0.8zM348.4 363.7h0.8v0.8h-0.8zM339.3 398.8h0.8v0.8h-0.8zM346.5 369.5h0.8v0.8h-0.8zM344.2 403.6h0.8v0.8h-0.8zM340.3 397.7h0.8v0.8h-0.8zM349.9 400.6h0.8v0.8h-0.8zM350.5 396.3h0.8v0.8h-0.8zM349.0 390.8h0.8v0.8h-0.8zM346.5 375.5h0.8v0.8h-0.8zM347.6 382.4h0.8v0.8h-0.8zM346.4 366.8h0.8v0.8h-0.8zM350.2 398.7h0.8v0.8h-0.8zM345.0 375.6h0.8v0.8h-0.8zM346.3 388.2h0.8v0.8h-0.8zM354.6 403.5h0.8v0.8h-0.8zM348.0 366.8h0.8v0.8h-0.8zM344.7 404.3h0.8v0.8h-0.8zM351.6 393.2h0.8v0.8h-0.8zM348.3 384.5h0.8v0.8h-0.8zM351.2 386.5h0.8v0.8h-0.8zM347.4 386.2h0.8v0.8h-0.8zM346.4 370.3h0.8v0.8h-0.8zM343.0 380.4h0.8v0.8h-0.8zM340.4 401.5h0.8v0.8h-0.8zM341.3 391.1h0.8v0.8h-0.8zM345.2 366.3h0.8v0.8h-0.8zM341.4 390.8h0.8v0.8h-0.8zM343.3 370.7h0.8v0.8h-0.8zM343.7 396.8h0.8v0.8h-0.8zM342.8 392.2h0.8v0.8h-0.8zM353.1 389.1h0.8v0.8h-0.8zM345.7 364.5h0.8v0.8h-0.8zM347.8 379.2h0.8v0.8h-0.8zM343.6 387.3h0.8v0.8h-0.8zM347.5 378.2h0.8v0.8h-0.8zM344.8 397.9h0.8v0.8h-0.8zM347.3 386.6h0.8v0.8h-0.8zM346.7 368.8h0.8v0.8h-0.8zM351.5 366.2h0.8v0.8h-0.8zM347.4 364.3h0.8v0.8h-0.8zM344.2 380.5h0.8v0.8h-0.8zM343.8 404.4h0.8v0.8h-0.8zM349.0 381.7h0.8v0.8h-0.8zM349.6 384.1h0.8v0.8h-0.8zM347.7 395.2h0.8v0.8h-0.8zM344.0 363.6h0.8v0.8h-0.8zM344.7 385.8h0.8v0.8h-0.8zM348.6 370.5h0.8v0.8h-0.8zM350.0 371.4h0.8v0.8h-0.8zM346.6 369.4h0.8v0.8h-0.8zM346.8 403.9h0.8v0.8h-0.8zM337.2 402.6h0.8v0.8h-0.8zM340.3 383.7h0.8v0.8h-0.8zM339.8 400.1h0.8v0.8h-0.8zM344.6 377.6h0.8v0.8h-0.8zM349.4 368.3h0.8v0.8h-0.8zM351.4 398.4h0.8v0.8h-0.8zM346.6 366.3h0.8v0.8h-0.8zM347.9 389.4h0.8v0.8h-0.8zM346.8 386.6h0.8v0.8h-0.8zM347.7 376.3h0.8v0.8h-0.8zM346.6 403.9h0.8v0.8h-0.8zM354.5 392.0h0.8v0.8h-0.8zM342.7 379.6h0.8v0.8h-0.8zM344.1 391.1h0.8v0.8h-0.8zM343.3 376.4h0.8v0.8h-0.8zM348.1 376.4h0.8v0.8h-0.8zM346.2 368.8h0.8v0.8h-0.8zM346.0 369.9h0.8v0.8h-0.8zM342.0 402.1h0.8v0.8h-0.8zM348.1 369.6h0.8v0.8h-0.8zM344.1 364.6h0.8v0.8h-0.8zM341.8 380.3h0.8v0.8h-0.8zM345.7 365.8h0.8v0.8h-0.8zM348.1 397.0h0.8v0.8h-0.8zM346.8 374.5h0.8v0.8h-0.8zM344.5 378.6h0.8v0.8h-0.8zM346.3 371.6h0.8v0.8h-0.8zM342.0 398.6h0.8v0.8h-0.8zM337.4 384.4h0.8v0.8h-0.8zM349.2 402.5h0.8v0.8h-0.8zM347.4 371.3h0.8v0.8h-0.8zM339.1 396.3h0.8v0.8h-0.8zM347.1 397.9h0.8v0.8h-0.8zM341.7 368.9h0.8v0.8h-0.8zM345.4 378.3h0.8v0.8h-0.8zM344.0 366.2h0.8v0.8h-0.8zM349.9 395.1h0.8v0.8h-0.8zM343.5 374.5h0.8v0.8h-0.8zM347.4 367.5h0.8v0.8h-0.8zM342.0 396.3h0.8v0.8h-0.8zM345.2 372.6h0.8v0.8h-0.8zM348.8 394.5h0.8v0.8h-0.8zM348.2 396.5h0.8v0.8h-0.8zM349.7 365.9h0.8v0.8h-0.8zM346.5 402.4h0.8v0.8h-0.8zM351.6 393.5h0.8v0.8h-0.8zM345.8 379.3h0.8v0.8h-0.8zM344.1 382.0h0.8v0.8h-0.8zM346.9 367.7h0.8v0.8h-0.8zM345.0 387.4h0.8v0.8h-0.8zM345.3 375.9h0.8v0.8h-0.8zM350.5 401.5h0.8v0.8h-0.8zM344.6 393.8h0.8v0.8h-0.8zM346.0 388.2h0.8v0.8h-0.8zM342.5 394.1h0.8v0.8h-0.8zM351.6 397.9h0.8v0.8h-0.8zM346.9 393.0h0.8v0.8h-0.8zM348.4 401.6h0.8v0.8h-0.8zM343.4 367.6h0.8v0.8h-0.8zM352.8 400.4h0.8v0.8h-0.8zM346.5 392.2h0.8v0.8h-0.8zM347.6 382.8h0.8v0.8h-0.8zM343.1 365.4h0.8v0.8h-0.8zM351.9 398.9h0.8v0.8h-0.8zM348.6 398.6h0.8v0.8h-0.8zM346.5 373.4h0.8v0.8h-0.8zM347.4 382.8h0.8v0.8h-0.8zM343.4 402.8h0.8v0.8h-0.8zM343.6 404.6h0.8v0.8h-0.8zM349.7 387.4h0.8v0.8h-0.8zM351.3 393.9h0.8v0.8h-0.8zM347.4 376.6h0.8v0.8h-0.8zM344.6 380.7h0.8v0.8h-0.8zM337.7 387.9h0.8v0.8h-0.8zM346.0 404.1h0.8v0.8h-0.8zM345.0 372.4h0.8v0.8h-0.8zM346.1 368.4h0.8v0.8h-0.8zM355.4 399.7h0.8v0.8h-0.8zM346.9 381.8h0.8v0.8h-0.8zM343.5 382.0h0.8v0.8h-0.8zM349.5 382.7h0.8v0.8h-0.8zM340.8 401.0h0.8v0.8h-0.8zM348.3 380.1h0.8v0.8h-0.8zM349.3 381.5h0.8v0.8h-0.8zM350.5 395.5h0.8v0.8h-0.8zM341.7 402.5h0.8v0.8h-0.8zM344.0 363.9h0.8v0.8h-0.8zM347.6 380.4h0.8v0.8h-0.8zM340.2 370.0h0.8v0.8h-0.8zM348.7 382.1h0.8v0.8h-0.8zM345.2 364.6h0.8v0.8h-0.8zM345.4 363.3h0.8v0.8h-0.8zM349.1 393.8h0.8v0.8h-0.8zM345.9 363.6h0.8v0.8h-0.8zM353.5 387.3h0.8v0.8h-0.8zM348.0 392.8h0.8v0.8h-0.8zM345.7 365.0h0.8v0.8h-0.8zM348.7 376.1h0.8v0.8h-0.8zM344.8 370.4h0.8v0.8h-0.8zM354.0 380.4h0.8v0.8h-0.8zM344.4 372.5h0.8v0.8h-0.8zM346.6 386.6h0.8v0.8h-0.8zM347.4 380.7h0.8v0.8h-0.8zM350.9 402.8h0.8v0.8h-0.8zM341.8 365.9h0.8v0.8h-0.8zM347.0 383.4h0.8v0.8h-0.8zM346.3 394.4h0.8v0.8h-0.8zM349.7 377.3h0.8v0.8h-0.8zM345.7 375.9h0.8v0.8h-0.8zM347.8 396.7h0.8v0.8h-0.8zM345.0 404.9h0.8v0.8h-0.8zM344.1 379.0h0.8v0.8h-0.8zM346.1 382.8h0.8v0.8h-0.8zM347.2 368.8h0.8v0.8h-0.8zM345.2 392.8h0.8v0.8h-0.8zM339.8 397.4h0.8v0.8h-0.8zM354.2 385.8h0.8v0.8h-0.8zM341.5 403.8h0.8v0.8h-0.8zM349.7 394.4h0.8v0.8h-0.8zM346.9 404.7h0.8v0.8h-0.8zM350.0 388.9h0.8v0.8h-0.8zM351.1 402.8h0.8v0.8h-0.8zM345.3 390.6h0.8v0.8h-0.8zM348.5 373.0h0.8v0.8h-0.8zM344.8 369.4h0.8v0.8h-0.8zM341.9 402.7h0.8v0.8h-0.8zM345.2 363.6h0.8v0.8h-0.8zM348.2 364.9h0.8v0.8h-0.8zM346.8 364.2h0.8v0.8h-0.8zM341.0 404.7h0.8v0.8h-0.8zM348.8 381.1h0.8v0.8h-0.8zM348.4 387.6h0.8v0.8h-0.8zM349.4 385.5h0.8v0.8h-0.8zM353.3 396.1h0.8v0.8h-0.8zM346.8 395.1h0.8v0.8h-0.8zM344.8 384.8h0.8v0.8h-0.8zM341.6 399.2h0.8v0.8h-0.8zM350.2 373.5h0.8v0.8h-0.8zM346.8 377.1h0.8v0.8h-0.8zM346.0 363.6h0.8v0.8h-0.8zM347.9 363.2h0.8v0.8h-0.8zM343.7 385.0h0.8v0.8h-0.8zM346.7 389.7h0.8v0.8h-0.8zM346.2 366.5h0.8v0.8h-0.8zM347.4 393.2h0.8v0.8h-0.8zM342.9 387.3h0.8v0.8h-0.8zM351.6 384.9h0.8v0.8h-0.8zM342.6 363.7h0.8v0.8h-0.8zM349.3 380.1h0.8v0.8h-0.8zM350.4 378.4h0.8v0.8h-0.8zM346.2 390.8h0.8v0.8h-0.8zM349.1 363.8h0.8v0.8h-0.8zM350.8 399.2h0.8v0.8h-0.8zM346.8 399.5h0.8v0.8h-0.8zM345.7 403.6h0.8v0.8h-0.8zM347.2 388.9h0.8v0.8h-0.8zM344.3 383.6h0.8v0.8h-0.8zM347.5 363.2h0.8v0.8h-0.8zM344.4 389.4h0.8v0.8h-0.8zM345.4 365.4h0.8v0.8h-0.8zM349.7 392.2h0.8v0.8h-0.8zM345.4 373.9h0.8v0.8h-0.8zM345.9 389.9h0.8v0.8h-0.8zM345.1 366.8h0.8v0.8h-0.8zM345.4 364.2h0.8v0.8h-0.8zM355.0 391.9h0.8v0.8h-0.8zM346.4 364.9h0.8v0.8h-0.8zM355.0 371.0h0.8v0.8h-0.8zM346.6 390.5h0.8v0.8h-0.8zM349.0 395.7h0.8v0.8h-0.8zM347.6 401.3h0.8v0.8h-0.8zM346.6 369.6h0.8v0.8h-0.8zM343.8 372.6h0.8v0.8h-0.8zM339.2 374.3h0.8v0.8h-0.8zM347.1 375.6h0.8v0.8h-0.8zM348.7 371.4h0.8v0.8h-0.8zM347.0 386.0h0.8v0.8h-0.8zM347.9 376.6h0.8v0.8h-0.8zM347.8 376.0h0.8v0.8h-0.8zM349.6 382.6h0.8v0.8h-0.8zM345.1 371.8h0.8v0.8h-0.8zM346.1 392.4h0.8v0.8h-0.8zM348.2 390.7h0.8v0.8h-0.8zM348.3 371.3h0.8v0.8h-0.8zM347.0 365.1h0.8v0.8h-0.8zM350.4 385.4h0.8v0.8h-0.8zM346.5 374.3h0.8v0.8h-0.8zM348.3 385.8h0.8v0.8h-0.8zM349.2 387.2h0.8v0.8h-0.8zM348.6 365.0h0.8v0.8h-0.8zM343.7 377.1h0.8v0.8h-0.8zM337.4 391.6h0.8v0.8h-0.8zM348.5 381.9h0.8v0.8h-0.8zM344.2 379.3h0.8v0.8h-0.8zM345.4 375.9h0.8v0.8h-0.8zM348.6 368.9h0.8v0.8h-0.8zM348.7 400.4h0.8v0.8h-0.8zM344.5 381.7h0.8v0.8h-0.8zM346.1 366.8h0.8v0.8h-0.8zM350.2 401.0h0.8v0.8h-0.8zM348.0 370.1h0.8v0.8h-0.8zM346.2 401.5h0.8v0.8h-0.8zM347.4 366.4h0.8v0.8h-0.8zM345.3 365.5h0.8v0.8h-0.8zM343.1 395.6h0.8v0.8h-0.8zM346.2 367.4h0.8v0.8h-0.8zM348.4 390.1h0.8v0.8h-0.8zM350.6 392.3h0.8v0.8h-0.8zM346.4 367.5h0.8v0.8h-0.8zM344.6 402.3h0.8v0.8h-0.8zM346.1 369.7h0.8v0.8h-0.8zM347.2 369.6h0.8v0.8h-0.8zM344.6 375.0h0.8v0.8h-0.8zM345.7 366.8h0.8v0.8h-0.8zM351.9 403.1h0.8v0.8h-0.8zM344.1 380.7h0.8v0.8h-0.8zM337.6 397.4h0.8v0.8h-0.8zM344.2 381.0h0.8v0.8h-0.8zM346.2 385.3h0.8v0.8h-0.8z" fill="#2f56c0" fill-opacity="0.7"/>
<path d="M318.8 413.9h0.75v0.75h-0.75zM315.7 413.4h0.75v0.75h-0.75zM317.5 413.1h0.75v0.75h-0.75zM316.0 414.1h0.75v0.75h-0.75zM316.1 413.8h0.75v0.75h-0.75zM317.2 412.9h0.75v0.75h-0.75zM317.4 411.4h0.75v0.75h-0.75zM317.3 412.5h0.75v0.75h-0.75zM315.8 411.5h0.75v0.75h-0.75zM316.3 412.8h0.75v0.75h-0.75zM318.2 412.3h0.75v0.75h-0.75zM318.0 414.6h0.75v0.75h-0.75zM316.4 411.9h0.75v0.75h-0.75zM317.6 411.9h0.75v0.75h-0.75zM317.3 415.2h0.75v0.75h-0.75zM316.5 412.2h0.75v0.75h-0.75zM315.8 411.3h0.75v0.75h-0.75zM317.5 412.3h0.75v0.75h-0.75zM317.5 414.4h0.75v0.75h-0.75zM315.1 412.4h0.75v0.75h-0.75zM318.0 412.5h0.75v0.75h-0.75zM316.5 413.5h0.75v0.75h-0.75zM316.4 412.7h0.75v0.75h-0.75zM317.1 416.1h0.75v0.75h-0.75zM317.3 412.2h0.75v0.75h-0.75zM314.4 415.3h0.75v0.75h-0.75zM315.9 414.0h0.75v0.75h-0.75zM316.4 411.9h0.75v0.75h-0.75zM317.1 411.0h0.75v0.75h-0.75zM318.4 412.0h0.75v0.75h-0.75zM316.7 412.4h0.75v0.75h-0.75zM316.7 413.0h0.75v0.75h-0.75zM317.0 413.1h0.75v0.75h-0.75zM317.2 412.0h0.75v0.75h-0.75zM316.0 412.3h0.75v0.75h-0.75zM316.2 412.6h0.75v0.75h-0.75zM316.7 400.3h0.75v0.75h-0.75zM317.2 400.7h0.75v0.75h-0.75zM316.0 402.5h0.75v0.75h-0.75zM317.4 404.5h0.75v0.75h-0.75zM318.3 399.8h0.75v0.75h-0.75zM316.8 404.2h0.75v0.75h-0.75zM316.4 405.8h0.75v0.75h-0.75zM317.2 409.3h0.75v0.75h-0.75zM318.0 398.2h0.75v0.75h-0.75zM316.3 406.2h0.75v0.75h-0.75zM316.3 409.1h0.75v0.75h-0.75zM316.5 404.7h0.75v0.75h-0.75zM317.5 407.0h0.75v0.75h-0.75zM316.8 402.6h0.75v0.75h-0.75zM316.3 396.8h0.75v0.75h-0.75zM316.4 405.5h0.75v0.75h-0.75zM317.1 401.3h0.75v0.75h-0.75zM316.5 398.3h0.75v0.75h-0.75zM316.1 404.1h0.75v0.75h-0.75zM317.7 404.2h0.75v0.75h-0.75zM316.0 400.7h0.75v0.75h-0.75zM316.0 407.4h0.75v0.75h-0.75z" fill="#4a6ad0" fill-opacity="0.7"/>
</g>
<path d="M329.0,414.4 C330.5,409 336.5,404.5 345.5,403.8 C354.5,404.3 360.5,408.5 364.0,414.4 Z" fill="#2c40a8" fill-opacity="0.85" filter="url(#fb)"/>
<path d="M333.0,414.2 C334.5,410 339.5,406.5 345.5,406 C352.5,406.3 357.5,410 360.0,414.2 Z" fill="#3a5cc8" filter="url(#fb)"/>
<ellipse cx="345.40" cy="412.40" rx="9.60" ry="3.20" fill="#3ea8e0" filter="url(#fb)"/>
<ellipse cx="345.40" cy="412.50" rx="7.40" ry="2.80" fill="#46c4b0" filter="url(#fb)"/>
<ellipse cx="345.40" cy="412.60" rx="6.00" ry="2.40" fill="#64cd46" filter="url(#fb)"/>
<ellipse cx="345.40" cy="412.80" rx="3.00" ry="1.30" fill="#e5d52a" filter="url(#fb)"/>
<ellipse cx="345.40" cy="412.80" rx="1.40" ry="0.65" fill="#e04a1e" filter="url(#fb)"/>
<ellipse cx="316.80" cy="413.00" rx="2.2" ry="2.4" fill="#3a6ad0" filter="url(#fb)"/>
<ellipse cx="316.80" cy="413.00" rx="1.0" ry="1.2" fill="#a8dcf4"/>
<polyline points="364.90,343.9 333.20,343.9 333.20,404.2 380.40,404.2 380.40,383.8" fill="none" stroke="#333" stroke-width="0.9"/>
<polyline points="333.20,365.4 368.50,365.4 368.50,359.8" fill="none" stroke="#333" stroke-width="1.3"/>
<polyline points="378.20,408.2 378.20,404.4 326.50,404.4 326.50,420.3 369.40,420.3" fill="none" stroke="#333" stroke-width="0.9"/>
<text x="371.3" y="349.09999999999997" font-size="6.5" text-anchor="start" font-weight="normal" fill="#333"  stroke="#333" stroke-width="0.18">R3</text>
<text x="368.9" y="356.8" font-size="6.5" text-anchor="start" font-weight="normal" fill="#333"  stroke="#333" stroke-width="0.18">3.12</text>
<text x="376.0" y="372.0" font-size="6.5" text-anchor="start" font-weight="normal" fill="#333"  stroke="#333" stroke-width="0.18">R4</text>
<text x="373.9" y="380.09999999999997" font-size="6.5" text-anchor="start" font-weight="normal" fill="#333"  stroke="#333" stroke-width="0.18">8.57</text>
<text x="376.3" y="415.59999999999997" font-size="6.5" text-anchor="start" font-weight="normal" fill="#333"  stroke="#333" stroke-width="0.18">R5</text>
<text x="373.3" y="423.0" font-size="6.5" text-anchor="start" font-weight="normal" fill="#333"  stroke="#333" stroke-width="0.18">85.8</text>
<polyline points="147.3,429 147.3,455.0 181,455.0" fill="none" stroke="#222" stroke-width="0.9"/>
<polygon points="147.3,425.5 145.4,430.2 149.2,430.2" fill="#222"/>
<polygon points="184.2,455 179.5,453.1 179.5,456.9" fill="#222"/>
<text x="0" y="0" transform="translate(150.9,413.4) rotate(-90) scale(0.8,1)" font-size="8.2" text-anchor="middle" font-weight="normal" fill="#222" stroke="#222" stroke-width="0.2">CD71</text>
<text x="0" y="0" transform="translate(186.7,458.0) scale(0.72,1)" font-size="8.2" text-anchor="start" font-weight="normal" fill="#222" stroke="#222" stroke-width="0.2">Ter119</text>
<rect x="448.00" y="328.72" width="18.90" height="117.68" fill="#f0901c" />
<rect x="448.00" y="325.87" width="18.90" height="2.85" fill="#d81b7a" />
<rect x="448.00" y="324.88" width="18.90" height="0.99" fill="#3a9a4a" />
<line x1="457.40" y1="324.14" x2="457.40" y2="325.38" stroke="#3a9a4a" stroke-width="0.8" />
<line x1="455.40" y1="324.14" x2="459.40" y2="324.14" stroke="#3a9a4a" stroke-width="0.8" />
<line x1="455.40" y1="327.86" x2="459.40" y2="327.86" stroke="#f6b060" stroke-width="0.8" />
<rect x="476.60" y="340.75" width="18.40" height="105.65" fill="#f0901c" />
<rect x="476.60" y="331.82" width="18.40" height="8.93" fill="#d81b7a" />
<rect x="476.60" y="327.48" width="18.40" height="4.34" fill="#3a9a4a" />
<line x1="485.80" y1="324.76" x2="485.80" y2="327.48" stroke="#3a9a4a" stroke-width="0.9" />
<line x1="482.30" y1="324.76" x2="489.30" y2="324.76" stroke="#3a9a4a" stroke-width="0.9" />
<line x1="485.80" y1="331.82" x2="485.80" y2="336.54" stroke="#f07ab0" stroke-width="0.9" />
<line x1="482.30" y1="336.54" x2="489.30" y2="336.54" stroke="#f07ab0" stroke-width="0.9" />
<line x1="485.80" y1="340.75" x2="485.80" y2="342.86" stroke="#f0901c" stroke-width="0.9" />
<line x1="444.00" y1="321.00" x2="444.00" y2="447.00" stroke="#222" stroke-width="1.25" />
<line x1="443.40" y1="446.40" x2="500.30" y2="446.40" stroke="#222" stroke-width="1.25" />
<line x1="441.00" y1="446.40" x2="444.00" y2="446.40" stroke="#222" stroke-width="1" />
<text x="438.8" y="449.4" font-size="8.5" text-anchor="end" font-weight="normal" fill="#1a1a1a"  stroke="#1a1a1a" stroke-width="0.18">0</text>
<line x1="441.00" y1="415.40" x2="444.00" y2="415.40" stroke="#222" stroke-width="1" />
<text x="438.8" y="418.4" font-size="8.5" text-anchor="end" font-weight="normal" fill="#1a1a1a"  stroke="#1a1a1a" stroke-width="0.18">25</text>
<line x1="441.00" y1="384.40" x2="444.00" y2="384.40" stroke="#222" stroke-width="1" />
<text x="438.8" y="387.4" font-size="8.5" text-anchor="end" font-weight="normal" fill="#1a1a1a"  stroke="#1a1a1a" stroke-width="0.18">50</text>
<line x1="441.00" y1="353.40" x2="444.00" y2="353.40" stroke="#222" stroke-width="1" />
<text x="438.8" y="356.4" font-size="8.5" text-anchor="end" font-weight="normal" fill="#1a1a1a"  stroke="#1a1a1a" stroke-width="0.18">75</text>
<line x1="441.00" y1="322.40" x2="444.00" y2="322.40" stroke="#222" stroke-width="1" />
<text x="438.8" y="325.4" font-size="8.5" text-anchor="end" font-weight="normal" fill="#1a1a1a"  stroke="#1a1a1a" stroke-width="0.18">100</text>
<line x1="457.45" y1="446.40" x2="457.45" y2="448.90" stroke="#222" stroke-width="1" />
<text x="457.45" y="461.0" font-size="8.5" text-anchor="middle" font-weight="normal" fill="#1a1a1a"  stroke="#1a1a1a" stroke-width="0.18">WT</text>
<line x1="485.80" y1="446.40" x2="485.80" y2="448.90" stroke="#222" stroke-width="1" />
<text x="485.8" y="461.0" font-size="8.5" text-anchor="middle" font-weight="normal" fill="#1a1a1a"  stroke="#1a1a1a" stroke-width="0.18">G1s</text>
<text x="0" y="0" transform="translate(418.0,384.3) rotate(-90) scale(0.76,1)" font-size="9.2" text-anchor="middle" font-weight="normal" fill="#222" stroke="#222" stroke-width="0.3">% of total cell number</text>
<rect x="500.90" y="324.90" width="6.20" height="6.00" fill="#3a9a4a" />
<text x="510.3" y="330.9" font-size="8.3" text-anchor="start" font-weight="normal" fill="#222" stroke="#222" stroke-width="0.08">R3</text>
<rect x="500.90" y="336.50" width="6.20" height="6.00" fill="#d81b7a" />
<text x="510.3" y="342.5" font-size="8.3" text-anchor="start" font-weight="normal" fill="#222" stroke="#222" stroke-width="0.08">R4</text>
<rect x="500.90" y="348.20" width="6.20" height="6.00" fill="#f0901c" />
<text x="510.3" y="354.2" font-size="8.3" text-anchor="start" font-weight="normal" fill="#222" stroke="#222" stroke-width="0.08">R5</text>
<defs>
<radialGradient id="cw"><stop offset="0" stop-color="#f4a6c2"/><stop offset="0.3" stop-color="#ec8aae"/><stop offset="0.62" stop-color="#de6696"/><stop offset="0.85" stop-color="#d25488"/><stop offset="1" stop-color="#de7aa6" stop-opacity="0.6"/></radialGradient>
<radialGradient id="cg"><stop offset="0" stop-color="#ee8ab2"/><stop offset="0.3" stop-color="#e66c9e"/><stop offset="0.62" stop-color="#d44484"/><stop offset="0.85" stop-color="#c63476"/><stop offset="1" stop-color="#d65a94" stop-opacity="0.6"/></radialGradient>
<radialGradient id="cp"><stop offset="0" stop-color="#c890b8"/><stop offset="0.45" stop-color="#b06ea4"/><stop offset="0.82" stop-color="#8e4a88"/><stop offset="1" stop-color="#a86aa0" stop-opacity="0.65"/></radialGradient>
<radialGradient id="cq"><stop offset="0" stop-color="#b884b4"/><stop offset="0.45" stop-color="#9c609e"/><stop offset="0.82" stop-color="#7a3e86"/><stop offset="1" stop-color="#9a609c" stop-opacity="0.65"/></radialGradient>
<radialGradient id="cP"><stop offset="0" stop-color="#8a70ac"/><stop offset="0.5" stop-color="#6a4c94"/><stop offset="0.85" stop-color="#523a7c"/><stop offset="1" stop-color="#7a64a0" stop-opacity="0.65"/></radialGradient>
<filter id="bl" x="-5%" y="-5%" width="110%" height="110%"><feGaussianBlur stdDeviation="0.35"/></filter>
<clipPath id="clw"><rect x="56.3" y="505.8" width="97.7" height="97.0"/></clipPath>
<clipPath id="clg"><rect x="163.2" y="505.8" width="97.8" height="97.2"/></clipPath>
</defs>
<g clip-path="url(#clw)"><g filter="url(#bl)">
<rect x="56.30" y="505.80" width="97.70" height="97.00" fill="#dce0ec" />
<circle cx="62.7" cy="507.8" r="4.2" fill="#f2c4dc" fill-opacity="0.7"/>
<circle cx="78.1" cy="507.4" r="4.2" fill="#f2c4dc" fill-opacity="0.7"/>
<circle cx="83.8" cy="509.3" r="4.2" fill="#f2c4dc" fill-opacity="0.7"/>
<circle cx="97.3" cy="508.3" r="4.2" fill="#f2c4dc" fill-opacity="0.7"/>
<circle cx="63.7" cy="513.6" r="4.2" fill="#f2c4dc" fill-opacity="0.7"/>
<circle cx="77.6" cy="513.6" r="4.2" fill="#f2c4dc" fill-opacity="0.7"/>
<circle cx="70.4" cy="517.0" r="4.2" fill="#f2c4dc" fill-opacity="0.7"/>
<circle cx="84.8" cy="517.0" r="4.2" fill="#f2c4dc" fill-opacity="0.7"/>
<circle cx="90.6" cy="515.5" r="4.2" fill="#f2c4dc" fill-opacity="0.7"/>
<circle cx="96.3" cy="514.6" r="4.2" fill="#f2c4dc" fill-opacity="0.7"/>
<circle cx="102.6" cy="516.5" r="4.2" fill="#f2c4dc" fill-opacity="0.7"/>
<circle cx="60.8" cy="518.4" r="4.2" fill="#f2c4dc" fill-opacity="0.7"/>
<circle cx="67.5" cy="521.3" r="4.2" fill="#f2c4dc" fill-opacity="0.7"/>
<circle cx="83.8" cy="523.7" r="4.2" fill="#f2c4dc" fill-opacity="0.7"/>
<circle cx="92.5" cy="521.8" r="4.2" fill="#f2c4dc" fill-opacity="0.7"/>
<circle cx="98.3" cy="523.7" r="4.2" fill="#f2c4dc" fill-opacity="0.7"/>
<circle cx="72.3" cy="526.1" r="4.2" fill="#f2c4dc" fill-opacity="0.7"/>
<circle cx="66.5" cy="527.6" r="4.2" fill="#f2c4dc" fill-opacity="0.7"/>
<circle cx="60.8" cy="530.4" r="4.2" fill="#f2c4dc" fill-opacity="0.7"/>
<circle cx="85.8" cy="529.5" r="4.2" fill="#f2c4dc" fill-opacity="0.7"/>
<circle cx="77.6" cy="531.9" r="4.2" fill="#f2c4dc" fill-opacity="0.7"/>
<circle cx="91.5" cy="532.8" r="4.2" fill="#f2c4dc" fill-opacity="0.7"/>
<circle cx="98.3" cy="534.8" r="4.2" fill="#f2c4dc" fill-opacity="0.7"/>
<circle cx="71.3" cy="535.2" r="4.2" fill="#f2c4dc" fill-opacity="0.7"/>
<circle cx="77.1" cy="539.1" r="4.2" fill="#f2c4dc" fill-opacity="0.7"/>
<circle cx="66.5" cy="539.6" r="4.2" fill="#f2c4dc" fill-opacity="0.7"/>
<circle cx="82.9" cy="540.5" r="4.2" fill="#f2c4dc" fill-opacity="0.7"/>
<circle cx="88.2" cy="540.1" r="4.2" fill="#f2c4dc" fill-opacity="0.7"/>
<circle cx="103.1" cy="539.1" r="4.2" fill="#f2c4dc" fill-opacity="0.7"/>
<circle cx="61.7" cy="542.5" r="4.2" fill="#f2c4dc" fill-opacity="0.7"/>
<circle cx="72.8" cy="543.4" r="4.2" fill="#f2c4dc" fill-opacity="0.7"/>
<circle cx="67.5" cy="546.3" r="4.2" fill="#f2c4dc" fill-opacity="0.7"/>
<circle cx="77.1" cy="547.8" r="4.2" fill="#f2c4dc" fill-opacity="0.7"/>
<circle cx="84.8" cy="546.3" r="4.2" fill="#f2c4dc" fill-opacity="0.7"/>
<circle cx="92.5" cy="547.8" r="4.2" fill="#f2c4dc" fill-opacity="0.7"/>
<circle cx="98.8" cy="545.3" r="4.2" fill="#f2c4dc" fill-opacity="0.7"/>
<circle cx="63.7" cy="551.1" r="4.2" fill="#f2c4dc" fill-opacity="0.7"/>
<circle cx="71.3" cy="551.6" r="4.2" fill="#f2c4dc" fill-opacity="0.7"/>
<circle cx="81.0" cy="552.1" r="4.2" fill="#f2c4dc" fill-opacity="0.7"/>
<circle cx="103.1" cy="550.2" r="4.2" fill="#f2c4dc" fill-opacity="0.7"/>
<circle cx="105.9" cy="512.7" r="4.2" fill="#f2c4dc" fill-opacity="0.7"/>
<circle cx="111.2" cy="510.7" r="4.2" fill="#f2c4dc" fill-opacity="0.7"/>
<circle cx="118.4" cy="509.3" r="4.2" fill="#f2c4dc" fill-opacity="0.7"/>
<circle cx="122.8" cy="513.6" r="4.2" fill="#f2c4dc" fill-opacity="0.7"/>
<circle cx="128.5" cy="512.7" r="4.2" fill="#f2c4dc" fill-opacity="0.7"/>
<circle cx="116.5" cy="515.5" r="4.2" fill="#f2c4dc" fill-opacity="0.7"/>
<circle cx="125.6" cy="518.4" r="4.2" fill="#f2c4dc" fill-opacity="0.7"/>
<circle cx="109.8" cy="522.3" r="4.2" fill="#f2c4dc" fill-opacity="0.7"/>
<circle cx="116.0" cy="523.2" r="4.2" fill="#f2c4dc" fill-opacity="0.7"/>
<circle cx="133.8" cy="521.3" r="4.2" fill="#f2c4dc" fill-opacity="0.7"/>
<circle cx="145.8" cy="515.5" r="4.2" fill="#f2c4dc" fill-opacity="0.7"/>
<circle cx="151.6" cy="514.6" r="4.2" fill="#f2c4dc" fill-opacity="0.7"/>
<circle cx="149.2" cy="520.3" r="4.2" fill="#f2c4dc" fill-opacity="0.7"/>
<circle cx="107.8" cy="528.0" r="4.2" fill="#f2c4dc" fill-opacity="0.7"/>
<circle cx="125.2" cy="525.6" r="4.2" fill="#f2c4dc" fill-opacity="0.7"/>
<circle cx="134.8" cy="527.6" r="4.2" fill="#f2c4dc" fill-opacity="0.7"/>
<circle cx="152.1" cy="527.6" r="4.2" fill="#f2c4dc" fill-opacity="0.7"/>
<circle cx="111.7" cy="532.4" r="4.2" fill="#f2c4dc" fill-opacity="0.7"/>
<circle cx="122.3" cy="531.4" r="4.2" fill="#f2c4dc" fill-opacity="0.7"/>
<circle cx="117.0" cy="535.7" r="4.2" fill="#f2c4dc" fill-opacity="0.7"/>
<circle cx="129.5" cy="534.8" r="4.2" fill="#f2c4dc" fill-opacity="0.7"/>
<circle cx="139.1" cy="532.8" r="4.2" fill="#f2c4dc" fill-opacity="0.7"/>
<circle cx="135.2" cy="537.7" r="4.2" fill="#f2c4dc" fill-opacity="0.7"/>
<circle cx="105.0" cy="538.6" r="4.2" fill="#f2c4dc" fill-opacity="0.7"/>
<circle cx="123.7" cy="537.7" r="4.2" fill="#f2c4dc" fill-opacity="0.7"/>
<circle cx="109.8" cy="542.9" r="4.2" fill="#f2c4dc" fill-opacity="0.7"/>
<circle cx="126.6" cy="543.9" r="4.2" fill="#f2c4dc" fill-opacity="0.7"/>
<circle cx="133.8" cy="543.4" r="4.2" fill="#f2c4dc" fill-opacity="0.7"/>
<circle cx="141.5" cy="544.4" r="4.2" fill="#f2c4dc" fill-opacity="0.7"/>
<circle cx="147.8" cy="546.3" r="4.2" fill="#f2c4dc" fill-opacity="0.7"/>
<circle cx="131.9" cy="548.7" r="4.2" fill="#f2c4dc" fill-opacity="0.7"/>
<circle cx="138.1" cy="549.2" r="4.2" fill="#f2c4dc" fill-opacity="0.7"/>
<circle cx="105.4" cy="550.2" r="4.2" fill="#f2c4dc" fill-opacity="0.7"/>
<circle cx="117.5" cy="551.1" r="4.2" fill="#f2c4dc" fill-opacity="0.7"/>
<circle cx="143.4" cy="551.1" r="4.2" fill="#f2c4dc" fill-opacity="0.7"/>
<circle cx="151.1" cy="550.2" r="4.2" fill="#f2c4dc" fill-opacity="0.7"/>
<circle cx="63.2" cy="556.8" r="4.2" fill="#f2c4dc" fill-opacity="0.7"/>
<circle cx="69.4" cy="554.0" r="4.2" fill="#f2c4dc" fill-opacity="0.7"/>
<circle cx="75.2" cy="555.4" r="4.2" fill="#f2c4dc" fill-opacity="0.7"/>
<circle cx="81.9" cy="554.4" r="4.2" fill="#f2c4dc" fill-opacity="0.7"/>
<circle cx="90.1" cy="557.3" r="4.2" fill="#f2c4dc" fill-opacity="0.7"/>
<circle cx="97.8" cy="556.8" r="4.2" fill="#f2c4dc" fill-opacity="0.7"/>
<circle cx="103.1" cy="557.8" r="4.2" fill="#f2c4dc" fill-opacity="0.7"/>
<circle cx="58.8" cy="562.1" r="4.2" fill="#f2c4dc" fill-opacity="0.7"/>
<circle cx="78.1" cy="560.7" r="4.2" fill="#f2c4dc" fill-opacity="0.7"/>
<circle cx="71.3" cy="564.5" r="4.2" fill="#f2c4dc" fill-opacity="0.7"/>
<circle cx="83.8" cy="562.1" r="4.2" fill="#f2c4dc" fill-opacity="0.7"/>
<circle cx="91.5" cy="563.6" r="4.2" fill="#f2c4dc" fill-opacity="0.7"/>
<circle cx="97.8" cy="565.0" r="4.2" fill="#f2c4dc" fill-opacity="0.7"/>
<circle cx="64.1" cy="568.9" r="4.2" fill="#f2c4dc" fill-opacity="0.7"/>
<circle cx="72.8" cy="570.3" r="4.2" fill="#f2c4dc" fill-opacity="0.7"/>
<circle cx="85.8" cy="569.3" r="4.2" fill="#f2c4dc" fill-opacity="0.7"/>
<circle cx="96.8" cy="570.8" r="4.2" fill="#f2c4dc" fill-opacity="0.7"/>
<circle cx="103.1" cy="569.3" r="4.2" fill="#f2c4dc" fill-opacity="0.7"/>
<circle cx="66.5" cy="575.1" r="4.2" fill="#f2c4dc" fill-opacity="0.7"/>
<circle cx="79.5" cy="575.1" r="4.2" fill="#f2c4dc" fill-opacity="0.7"/>
<circle cx="89.6" cy="574.6" r="4.2" fill="#f2c4dc" fill-opacity="0.7"/>
<circle cx="94.4" cy="578.0" r="4.2" fill="#f2c4dc" fill-opacity="0.7"/>
<circle cx="101.2" cy="578.0" r="4.2" fill="#f2c4dc" fill-opacity="0.7"/>
<circle cx="72.8" cy="579.9" r="4.2" fill="#f2c4dc" fill-opacity="0.7"/>
<circle cx="85.8" cy="580.9" r="4.2" fill="#f2c4dc" fill-opacity="0.7"/>
<circle cx="92.5" cy="583.8" r="4.2" fill="#f2c4dc" fill-opacity="0.7"/>
<circle cx="70.9" cy="587.1" r="4.2" fill="#f2c4dc" fill-opacity="0.7"/>
<circle cx="75.2" cy="589.1" r="4.2" fill="#f2c4dc" fill-opacity="0.7"/>
<circle cx="84.8" cy="587.6" r="4.2" fill="#f2c4dc" fill-opacity="0.7"/>
<circle cx="93.9" cy="589.1" r="4.2" fill="#f2c4dc" fill-opacity="0.7"/>
<circle cx="100.2" cy="587.6" r="4.2" fill="#f2c4dc" fill-opacity="0.7"/>
<circle cx="67.5" cy="593.4" r="4.2" fill="#f2c4dc" fill-opacity="0.7"/>
<circle cx="80.5" cy="590.5" r="4.2" fill="#f2c4dc" fill-opacity="0.7"/>
<circle cx="88.7" cy="591.9" r="4.2" fill="#f2c4dc" fill-opacity="0.7"/>
<circle cx="103.1" cy="593.4" r="4.2" fill="#f2c4dc" fill-opacity="0.7"/>
<circle cx="73.8" cy="596.3" r="4.2" fill="#f2c4dc" fill-opacity="0.7"/>
<circle cx="81.0" cy="596.8" r="4.2" fill="#f2c4dc" fill-opacity="0.7"/>
<circle cx="88.2" cy="597.7" r="4.2" fill="#f2c4dc" fill-opacity="0.7"/>
<circle cx="94.9" cy="598.2" r="4.2" fill="#f2c4dc" fill-opacity="0.7"/>
<circle cx="58.8" cy="599.2" r="4.2" fill="#f2c4dc" fill-opacity="0.7"/>
<circle cx="65.6" cy="600.1" r="4.2" fill="#f2c4dc" fill-opacity="0.7"/>
<circle cx="101.2" cy="601.1" r="4.2" fill="#f2c4dc" fill-opacity="0.7"/>
<circle cx="105.4" cy="557.3" r="4.2" fill="#f2c4dc" fill-opacity="0.7"/>
<circle cx="114.1" cy="556.8" r="4.2" fill="#f2c4dc" fill-opacity="0.7"/>
<circle cx="118.4" cy="554.4" r="4.2" fill="#f2c4dc" fill-opacity="0.7"/>
<circle cx="134.8" cy="554.0" r="4.2" fill="#f2c4dc" fill-opacity="0.7"/>
<circle cx="138.1" cy="555.9" r="4.2" fill="#f2c4dc" fill-opacity="0.7"/>
<circle cx="148.7" cy="554.9" r="4.2" fill="#f2c4dc" fill-opacity="0.7"/>
<circle cx="105.4" cy="563.6" r="4.2" fill="#f2c4dc" fill-opacity="0.7"/>
<circle cx="113.6" cy="563.1" r="4.2" fill="#f2c4dc" fill-opacity="0.7"/>
<circle cx="120.3" cy="562.6" r="4.2" fill="#f2c4dc" fill-opacity="0.7"/>
<circle cx="133.8" cy="559.7" r="4.2" fill="#f2c4dc" fill-opacity="0.7"/>
<circle cx="139.6" cy="562.6" r="4.2" fill="#f2c4dc" fill-opacity="0.7"/>
<circle cx="145.3" cy="560.2" r="4.2" fill="#f2c4dc" fill-opacity="0.7"/>
<circle cx="152.1" cy="560.7" r="4.2" fill="#f2c4dc" fill-opacity="0.7"/>
<circle cx="117.9" cy="568.4" r="4.2" fill="#f2c4dc" fill-opacity="0.7"/>
<circle cx="124.7" cy="570.3" r="4.2" fill="#f2c4dc" fill-opacity="0.7"/>
<circle cx="130.0" cy="570.8" r="4.2" fill="#f2c4dc" fill-opacity="0.7"/>
<circle cx="139.1" cy="568.9" r="4.2" fill="#f2c4dc" fill-opacity="0.7"/>
<circle cx="148.2" cy="565.5" r="4.2" fill="#f2c4dc" fill-opacity="0.7"/>
<circle cx="145.3" cy="571.3" r="4.2" fill="#f2c4dc" fill-opacity="0.7"/>
<circle cx="110.2" cy="571.3" r="4.2" fill="#f2c4dc" fill-opacity="0.7"/>
<circle cx="119.9" cy="574.6" r="4.2" fill="#f2c4dc" fill-opacity="0.7"/>
<circle cx="126.6" cy="577.0" r="4.2" fill="#f2c4dc" fill-opacity="0.7"/>
<circle cx="138.1" cy="575.6" r="4.2" fill="#f2c4dc" fill-opacity="0.7"/>
<circle cx="144.4" cy="579.0" r="4.2" fill="#f2c4dc" fill-opacity="0.7"/>
<circle cx="150.2" cy="575.1" r="4.2" fill="#f2c4dc" fill-opacity="0.7"/>
<circle cx="104.0" cy="578.0" r="4.2" fill="#f2c4dc" fill-opacity="0.7"/>
<circle cx="122.3" cy="581.8" r="4.2" fill="#f2c4dc" fill-opacity="0.7"/>
<circle cx="133.3" cy="580.9" r="4.2" fill="#f2c4dc" fill-opacity="0.7"/>
<circle cx="128.0" cy="586.2" r="4.2" fill="#f2c4dc" fill-opacity="0.7"/>
<circle cx="139.1" cy="587.6" r="4.2" fill="#f2c4dc" fill-opacity="0.7"/>
<circle cx="146.3" cy="584.7" r="4.2" fill="#f2c4dc" fill-opacity="0.7"/>
<circle cx="152.1" cy="589.5" r="4.2" fill="#f2c4dc" fill-opacity="0.7"/>
<circle cx="105.9" cy="593.4" r="4.2" fill="#f2c4dc" fill-opacity="0.7"/>
<circle cx="111.7" cy="593.4" r="4.2" fill="#f2c4dc" fill-opacity="0.7"/>
<circle cx="116.5" cy="590.5" r="4.2" fill="#f2c4dc" fill-opacity="0.7"/>
<circle cx="110.7" cy="598.2" r="4.2" fill="#f2c4dc" fill-opacity="0.7"/>
<circle cx="128.0" cy="591.0" r="4.2" fill="#f2c4dc" fill-opacity="0.7"/>
<circle cx="135.7" cy="596.8" r="4.2" fill="#f2c4dc" fill-opacity="0.7"/>
<circle cx="142.5" cy="591.0" r="4.2" fill="#f2c4dc" fill-opacity="0.7"/>
<circle cx="149.2" cy="593.4" r="4.2" fill="#f2c4dc" fill-opacity="0.7"/>
<circle cx="62.7" cy="507.8" r="3.0" fill="url(#cw)"/>
<circle cx="78.1" cy="507.4" r="3.0" fill="url(#cw)"/>
<circle cx="83.8" cy="509.3" r="3.0" fill="url(#cw)"/>
<circle cx="97.3" cy="508.3" r="3.0" fill="url(#cw)"/>
<circle cx="63.7" cy="513.6" r="3.0" fill="url(#cw)"/>
<circle cx="77.6" cy="513.6" r="3.0" fill="url(#cw)"/>
<circle cx="70.4" cy="517.0" r="3.0" fill="url(#cw)"/>
<circle cx="84.8" cy="517.0" r="3.0" fill="url(#cw)"/>
<circle cx="90.6" cy="515.5" r="3.0" fill="url(#cw)"/>
<circle cx="96.3" cy="514.6" r="3.0" fill="url(#cw)"/>
<circle cx="102.6" cy="516.5" r="3.0" fill="url(#cw)"/>
<circle cx="60.8" cy="518.4" r="3.0" fill="url(#cw)"/>
<circle cx="67.5" cy="521.3" r="3.0" fill="url(#cw)"/>
<circle cx="83.8" cy="523.7" r="3.0" fill="url(#cw)"/>
<circle cx="92.5" cy="521.8" r="3.0" fill="url(#cw)"/>
<circle cx="98.3" cy="523.7" r="3.0" fill="url(#cw)"/>
<circle cx="72.3" cy="526.1" r="3.0" fill="url(#cw)"/>
<circle cx="66.5" cy="527.6" r="3.0" fill="url(#cw)"/>
<circle cx="60.8" cy="530.4" r="3.0" fill="url(#cw)"/>
<circle cx="85.8" cy="529.5" r="3.0" fill="url(#cw)"/>
<circle cx="77.6" cy="531.9" r="3.0" fill="url(#cw)"/>
<circle cx="91.5" cy="532.8" r="3.0" fill="url(#cw)"/>
<circle cx="98.3" cy="534.8" r="3.0" fill="url(#cw)"/>
<circle cx="71.3" cy="535.2" r="3.0" fill="url(#cw)"/>
<circle cx="77.1" cy="539.1" r="3.0" fill="url(#cw)"/>
<circle cx="66.5" cy="539.6" r="3.0" fill="url(#cw)"/>
<circle cx="82.9" cy="540.5" r="3.0" fill="url(#cw)"/>
<circle cx="88.2" cy="540.1" r="3.0" fill="url(#cw)"/>
<circle cx="103.1" cy="539.1" r="3.0" fill="url(#cw)"/>
<circle cx="61.7" cy="542.5" r="3.0" fill="url(#cw)"/>
<circle cx="72.8" cy="543.4" r="3.0" fill="url(#cw)"/>
<circle cx="67.5" cy="546.3" r="3.0" fill="url(#cw)"/>
<circle cx="77.1" cy="547.8" r="3.0" fill="url(#cw)"/>
<circle cx="84.8" cy="546.3" r="3.0" fill="url(#cw)"/>
<circle cx="92.5" cy="547.8" r="3.0" fill="url(#cw)"/>
<circle cx="98.8" cy="545.3" r="3.0" fill="url(#cw)"/>
<circle cx="63.7" cy="551.1" r="3.0" fill="url(#cw)"/>
<circle cx="71.3" cy="551.6" r="3.0" fill="url(#cw)"/>
<circle cx="81.0" cy="552.1" r="3.0" fill="url(#cw)"/>
<circle cx="103.1" cy="550.2" r="3.0" fill="url(#cw)"/>
<circle cx="105.9" cy="512.7" r="3.0" fill="url(#cw)"/>
<circle cx="111.2" cy="510.7" r="3.0" fill="url(#cw)"/>
<circle cx="118.4" cy="509.3" r="3.0" fill="url(#cw)"/>
<circle cx="122.8" cy="513.6" r="3.0" fill="url(#cw)"/>
<circle cx="128.5" cy="512.7" r="3.0" fill="url(#cw)"/>
<circle cx="116.5" cy="515.5" r="3.0" fill="url(#cw)"/>
<circle cx="125.6" cy="518.4" r="3.0" fill="url(#cw)"/>
<circle cx="109.8" cy="522.3" r="3.0" fill="url(#cw)"/>
<circle cx="116.0" cy="523.2" r="3.0" fill="url(#cw)"/>
<circle cx="133.8" cy="521.3" r="3.0" fill="url(#cw)"/>
<circle cx="145.8" cy="515.5" r="3.0" fill="url(#cw)"/>
<circle cx="151.6" cy="514.6" r="3.0" fill="url(#cw)"/>
<circle cx="149.2" cy="520.3" r="3.0" fill="url(#cw)"/>
<circle cx="107.8" cy="528.0" r="3.0" fill="url(#cw)"/>
<circle cx="125.2" cy="525.6" r="3.0" fill="url(#cw)"/>
<circle cx="134.8" cy="527.6" r="3.0" fill="url(#cw)"/>
<circle cx="152.1" cy="527.6" r="3.0" fill="url(#cw)"/>
<circle cx="111.7" cy="532.4" r="3.0" fill="url(#cw)"/>
<circle cx="122.3" cy="531.4" r="3.0" fill="url(#cw)"/>
<circle cx="117.0" cy="535.7" r="3.0" fill="url(#cw)"/>
<circle cx="129.5" cy="534.8" r="3.0" fill="url(#cw)"/>
<circle cx="139.1" cy="532.8" r="3.0" fill="url(#cw)"/>
<circle cx="135.2" cy="537.7" r="3.0" fill="url(#cw)"/>
<circle cx="105.0" cy="538.6" r="3.0" fill="url(#cw)"/>
<circle cx="123.7" cy="537.7" r="3.0" fill="url(#cp)"/>
<circle cx="109.8" cy="542.9" r="3.0" fill="url(#cw)"/>
<circle cx="126.6" cy="543.9" r="3.0" fill="url(#cw)"/>
<circle cx="133.8" cy="543.4" r="3.0" fill="url(#cw)"/>
<circle cx="141.5" cy="544.4" r="3.0" fill="url(#cw)"/>
<circle cx="147.8" cy="546.3" r="3.0" fill="url(#cw)"/>
<circle cx="131.9" cy="548.7" r="3.0" fill="url(#cw)"/>
<circle cx="138.1" cy="549.2" r="3.0" fill="url(#cw)"/>
<circle cx="105.4" cy="550.2" r="3.0" fill="url(#cw)"/>
<circle cx="117.5" cy="551.1" r="3.0" fill="url(#cw)"/>
<circle cx="143.4" cy="551.1" r="3.0" fill="url(#cw)"/>
<circle cx="151.1" cy="550.2" r="3.0" fill="url(#cw)"/>
<circle cx="63.2" cy="556.8" r="3.0" fill="url(#cw)"/>
<circle cx="69.4" cy="554.0" r="3.0" fill="url(#cw)"/>
<circle cx="75.2" cy="555.4" r="3.0" fill="url(#cw)"/>
<circle cx="81.9" cy="554.4" r="3.0" fill="url(#cw)"/>
<circle cx="90.1" cy="557.3" r="3.0" fill="url(#cw)"/>
<circle cx="97.8" cy="556.8" r="3.0" fill="url(#cw)"/>
<circle cx="103.1" cy="557.8" r="3.0" fill="url(#cw)"/>
<circle cx="58.8" cy="562.1" r="3.0" fill="url(#cw)"/>
<circle cx="78.1" cy="560.7" r="3.0" fill="url(#cw)"/>
<circle cx="71.3" cy="564.5" r="3.0" fill="url(#cw)"/>
<circle cx="83.8" cy="562.1" r="3.0" fill="url(#cw)"/>
<circle cx="91.5" cy="563.6" r="3.0" fill="url(#cw)"/>
<circle cx="97.8" cy="565.0" r="3.0" fill="url(#cw)"/>
<circle cx="64.1" cy="568.9" r="3.0" fill="url(#cw)"/>
<circle cx="72.8" cy="570.3" r="3.0" fill="url(#cw)"/>
<circle cx="85.8" cy="569.3" r="3.0" fill="url(#cw)"/>
<circle cx="96.8" cy="570.8" r="3.0" fill="url(#cw)"/>
<circle cx="103.1" cy="569.3" r="3.0" fill="url(#cw)"/>
<circle cx="66.5" cy="575.1" r="3.0" fill="url(#cw)"/>
<circle cx="79.5" cy="575.1" r="3.0" fill="url(#cw)"/>
<circle cx="89.6" cy="574.6" r="3.0" fill="url(#cw)"/>
<circle cx="94.4" cy="578.0" r="3.0" fill="url(#cw)"/>
<circle cx="101.2" cy="578.0" r="3.0" fill="url(#cw)"/>
<circle cx="72.8" cy="579.9" r="3.0" fill="url(#cw)"/>
<circle cx="85.8" cy="580.9" r="3.0" fill="url(#cw)"/>
<circle cx="92.5" cy="583.8" r="3.0" fill="url(#cw)"/>
<circle cx="70.9" cy="587.1" r="3.0" fill="url(#cw)"/>
<circle cx="75.2" cy="589.1" r="3.0" fill="url(#cw)"/>
<circle cx="84.8" cy="587.6" r="3.0" fill="url(#cw)"/>
<circle cx="93.9" cy="589.1" r="3.0" fill="url(#cw)"/>
<circle cx="100.2" cy="587.6" r="3.0" fill="url(#cw)"/>
<circle cx="67.5" cy="593.4" r="3.0" fill="url(#cw)"/>
<circle cx="80.5" cy="590.5" r="3.0" fill="url(#cw)"/>
<circle cx="88.7" cy="591.9" r="3.0" fill="url(#cw)"/>
<circle cx="103.1" cy="593.4" r="3.0" fill="url(#cw)"/>
<circle cx="73.8" cy="596.3" r="3.0" fill="url(#cw)"/>
<circle cx="81.0" cy="596.8" r="3.0" fill="url(#cw)"/>
<circle cx="88.2" cy="597.7" r="3.0" fill="url(#cw)"/>
<circle cx="94.9" cy="598.2" r="3.0" fill="url(#cw)"/>
<circle cx="58.8" cy="599.2" r="3.0" fill="url(#cw)"/>
<circle cx="65.6" cy="600.1" r="3.0" fill="url(#cw)"/>
<circle cx="101.2" cy="601.1" r="3.0" fill="url(#cw)"/>
<circle cx="105.4" cy="557.3" r="3.0" fill="url(#cw)"/>
<circle cx="114.1" cy="556.8" r="3.0" fill="url(#cw)"/>
<circle cx="118.4" cy="554.4" r="3.0" fill="url(#cw)"/>
<circle cx="134.8" cy="554.0" r="3.0" fill="url(#cw)"/>
<circle cx="138.1" cy="555.9" r="3.0" fill="url(#cw)"/>
<circle cx="148.7" cy="554.9" r="3.0" fill="url(#cw)"/>
<circle cx="105.4" cy="563.6" r="3.0" fill="url(#cw)"/>
<circle cx="113.6" cy="563.1" r="3.0" fill="url(#cw)"/>
<circle cx="120.3" cy="562.6" r="3.0" fill="url(#cw)"/>
<circle cx="133.8" cy="559.7" r="3.0" fill="url(#cw)"/>
<circle cx="139.6" cy="562.6" r="3.0" fill="url(#cw)"/>
<circle cx="145.3" cy="560.2" r="3.0" fill="url(#cw)"/>
<circle cx="152.1" cy="560.7" r="3.0" fill="url(#cw)"/>
<circle cx="117.9" cy="568.4" r="3.0" fill="url(#cw)"/>
<circle cx="124.7" cy="570.3" r="3.0" fill="url(#cw)"/>
<circle cx="130.0" cy="570.8" r="3.0" fill="url(#cw)"/>
<circle cx="139.1" cy="568.9" r="3.0" fill="url(#cw)"/>
<circle cx="148.2" cy="565.5" r="3.0" fill="url(#cw)"/>
<circle cx="145.3" cy="571.3" r="3.0" fill="url(#cw)"/>
<circle cx="110.2" cy="571.3" r="3.0" fill="url(#cw)"/>
<circle cx="119.9" cy="574.6" r="3.0" fill="url(#cp)"/>
<circle cx="126.6" cy="577.0" r="3.0" fill="url(#cw)"/>
<circle cx="138.1" cy="575.6" r="3.0" fill="url(#cw)"/>
<circle cx="144.4" cy="579.0" r="3.0" fill="url(#cw)"/>
<circle cx="150.2" cy="575.1" r="3.0" fill="url(#cw)"/>
<circle cx="104.0" cy="578.0" r="3.0" fill="url(#cw)"/>
<circle cx="122.3" cy="581.8" r="3.0" fill="url(#cw)"/>
<circle cx="133.3" cy="580.9" r="3.0" fill="url(#cw)"/>
<circle cx="128.0" cy="586.2" r="3.0" fill="url(#cw)"/>
<circle cx="139.1" cy="587.6" r="3.0" fill="url(#cw)"/>
<circle cx="146.3" cy="584.7" r="3.0" fill="url(#cw)"/>
<circle cx="152.1" cy="589.5" r="3.0" fill="url(#cw)"/>
<circle cx="105.9" cy="593.4" r="3.0" fill="url(#cw)"/>
<circle cx="111.7" cy="593.4" r="3.0" fill="url(#cw)"/>
<circle cx="116.5" cy="590.5" r="3.0" fill="url(#cw)"/>
<circle cx="110.7" cy="598.2" r="3.0" fill="url(#cw)"/>
<circle cx="128.0" cy="591.0" r="3.0" fill="url(#cw)"/>
<circle cx="135.7" cy="596.8" r="3.0" fill="url(#cw)"/>
<circle cx="142.5" cy="591.0" r="3.0" fill="url(#cw)"/>
<circle cx="149.2" cy="593.4" r="3.0" fill="url(#cw)"/>
</g></g>
<g clip-path="url(#clg)"><g filter="url(#bl)">
<rect x="163.20" y="505.80" width="97.80" height="97.20" fill="#eceaf0" />
<circle cx="170.7" cy="507.4" r="4.2" fill="#f6ccdc" fill-opacity="0.7"/>
<circle cx="182.2" cy="508.8" r="4.2" fill="#f6ccdc" fill-opacity="0.7"/>
<circle cx="196.6" cy="507.8" r="4.2" fill="#f6ccdc" fill-opacity="0.7"/>
<circle cx="201.9" cy="508.3" r="4.2" fill="#f6ccdc" fill-opacity="0.7"/>
<circle cx="209.1" cy="510.2" r="4.2" fill="#f6ccdc" fill-opacity="0.7"/>
<circle cx="169.2" cy="514.1" r="4.2" fill="#f6ccdc" fill-opacity="0.7"/>
<circle cx="175.0" cy="513.1" r="4.2" fill="#f6ccdc" fill-opacity="0.7"/>
<circle cx="180.8" cy="513.1" r="4.2" fill="#f6ccdc" fill-opacity="0.7"/>
<circle cx="186.0" cy="513.6" r="4.2" fill="#f6ccdc" fill-opacity="0.7"/>
<circle cx="191.8" cy="515.5" r="4.2" fill="#f6ccdc" fill-opacity="0.7"/>
<circle cx="204.3" cy="512.2" r="4.2" fill="#f6ccdc" fill-opacity="0.7"/>
<circle cx="209.1" cy="516.5" r="4.2" fill="#f6ccdc" fill-opacity="0.7"/>
<circle cx="177.9" cy="517.9" r="4.2" fill="#f6ccdc" fill-opacity="0.7"/>
<circle cx="186.5" cy="517.9" r="4.2" fill="#f6ccdc" fill-opacity="0.7"/>
<circle cx="163.9" cy="520.8" r="4.2" fill="#f6ccdc" fill-opacity="0.7"/>
<circle cx="169.7" cy="520.3" r="4.2" fill="#f6ccdc" fill-opacity="0.7"/>
<circle cx="177.4" cy="521.8" r="4.2" fill="#f6ccdc" fill-opacity="0.7"/>
<circle cx="185.1" cy="522.8" r="4.2" fill="#f6ccdc" fill-opacity="0.7"/>
<circle cx="192.8" cy="523.7" r="4.2" fill="#f6ccdc" fill-opacity="0.7"/>
<circle cx="202.4" cy="521.3" r="4.2" fill="#f6ccdc" fill-opacity="0.7"/>
<circle cx="207.2" cy="521.8" r="4.2" fill="#f6ccdc" fill-opacity="0.7"/>
<circle cx="164.9" cy="526.1" r="4.2" fill="#f6ccdc" fill-opacity="0.7"/>
<circle cx="173.1" cy="524.7" r="4.2" fill="#f6ccdc" fill-opacity="0.7"/>
<circle cx="181.2" cy="527.1" r="4.2" fill="#f6ccdc" fill-opacity="0.7"/>
<circle cx="188.9" cy="527.1" r="4.2" fill="#f6ccdc" fill-opacity="0.7"/>
<circle cx="194.7" cy="528.0" r="4.2" fill="#f6ccdc" fill-opacity="0.7"/>
<circle cx="200.5" cy="527.1" r="4.2" fill="#f6ccdc" fill-opacity="0.7"/>
<circle cx="206.2" cy="527.6" r="4.2" fill="#f6ccdc" fill-opacity="0.7"/>
<circle cx="211.0" cy="528.5" r="4.2" fill="#f6ccdc" fill-opacity="0.7"/>
<circle cx="176.4" cy="529.0" r="4.2" fill="#f6ccdc" fill-opacity="0.7"/>
<circle cx="164.9" cy="531.9" r="4.2" fill="#f6ccdc" fill-opacity="0.7"/>
<circle cx="169.2" cy="534.3" r="4.2" fill="#f6ccdc" fill-opacity="0.7"/>
<circle cx="174.0" cy="533.3" r="4.2" fill="#f6ccdc" fill-opacity="0.7"/>
<circle cx="183.6" cy="531.4" r="4.2" fill="#f6ccdc" fill-opacity="0.7"/>
<circle cx="193.7" cy="533.8" r="4.2" fill="#f6ccdc" fill-opacity="0.7"/>
<circle cx="198.5" cy="532.8" r="4.2" fill="#f6ccdc" fill-opacity="0.7"/>
<circle cx="203.3" cy="534.8" r="4.2" fill="#f6ccdc" fill-opacity="0.7"/>
<circle cx="210.6" cy="535.7" r="4.2" fill="#f6ccdc" fill-opacity="0.7"/>
<circle cx="163.9" cy="538.6" r="4.2" fill="#f6ccdc" fill-opacity="0.7"/>
<circle cx="171.6" cy="538.1" r="4.2" fill="#f6ccdc" fill-opacity="0.7"/>
<circle cx="180.3" cy="538.1" r="4.2" fill="#f6ccdc" fill-opacity="0.7"/>
<circle cx="188.0" cy="536.2" r="4.2" fill="#f6ccdc" fill-opacity="0.7"/>
<circle cx="195.7" cy="541.0" r="4.2" fill="#f6ccdc" fill-opacity="0.7"/>
<circle cx="203.3" cy="539.6" r="4.2" fill="#f6ccdc" fill-opacity="0.7"/>
<circle cx="209.1" cy="542.0" r="4.2" fill="#f6ccdc" fill-opacity="0.7"/>
<circle cx="167.8" cy="542.0" r="4.2" fill="#f6ccdc" fill-opacity="0.7"/>
<circle cx="175.9" cy="542.0" r="4.2" fill="#f6ccdc" fill-opacity="0.7"/>
<circle cx="185.1" cy="545.8" r="4.2" fill="#f6ccdc" fill-opacity="0.7"/>
<circle cx="190.4" cy="547.8" r="4.2" fill="#f6ccdc" fill-opacity="0.7"/>
<circle cx="196.6" cy="546.8" r="4.2" fill="#f6ccdc" fill-opacity="0.7"/>
<circle cx="203.3" cy="545.3" r="4.2" fill="#f6ccdc" fill-opacity="0.7"/>
<circle cx="163.9" cy="546.8" r="4.2" fill="#f6ccdc" fill-opacity="0.7"/>
<circle cx="175.0" cy="549.2" r="4.2" fill="#f6ccdc" fill-opacity="0.7"/>
<circle cx="181.2" cy="551.1" r="4.2" fill="#f6ccdc" fill-opacity="0.7"/>
<circle cx="200.5" cy="550.2" r="4.2" fill="#f6ccdc" fill-opacity="0.7"/>
<circle cx="208.2" cy="549.2" r="4.2" fill="#f6ccdc" fill-opacity="0.7"/>
<circle cx="191.8" cy="552.6" r="4.2" fill="#f6ccdc" fill-opacity="0.7"/>
<circle cx="215.3" cy="507.4" r="4.2" fill="#f6ccdc" fill-opacity="0.7"/>
<circle cx="220.6" cy="507.8" r="4.2" fill="#f6ccdc" fill-opacity="0.7"/>
<circle cx="226.4" cy="507.8" r="4.2" fill="#f6ccdc" fill-opacity="0.7"/>
<circle cx="232.6" cy="509.8" r="4.2" fill="#f6ccdc" fill-opacity="0.7"/>
<circle cx="237.4" cy="508.3" r="4.2" fill="#f6ccdc" fill-opacity="0.7"/>
<circle cx="244.2" cy="507.8" r="4.2" fill="#f6ccdc" fill-opacity="0.7"/>
<circle cx="250.4" cy="508.3" r="4.2" fill="#f6ccdc" fill-opacity="0.7"/>
<circle cx="256.2" cy="508.8" r="4.2" fill="#f6ccdc" fill-opacity="0.7"/>
<circle cx="213.9" cy="513.6" r="4.2" fill="#f6ccdc" fill-opacity="0.7"/>
<circle cx="220.1" cy="513.1" r="4.2" fill="#f6ccdc" fill-opacity="0.7"/>
<circle cx="226.4" cy="512.2" r="4.2" fill="#f6ccdc" fill-opacity="0.7"/>
<circle cx="229.8" cy="516.0" r="4.2" fill="#f6ccdc" fill-opacity="0.7"/>
<circle cx="238.9" cy="513.1" r="4.2" fill="#f6ccdc" fill-opacity="0.7"/>
<circle cx="244.7" cy="513.6" r="4.2" fill="#f6ccdc" fill-opacity="0.7"/>
<circle cx="249.5" cy="513.6" r="4.2" fill="#f6ccdc" fill-opacity="0.7"/>
<circle cx="255.7" cy="516.0" r="4.2" fill="#f6ccdc" fill-opacity="0.7"/>
<circle cx="224.5" cy="517.9" r="4.2" fill="#f6ccdc" fill-opacity="0.7"/>
<circle cx="233.6" cy="517.5" r="4.2" fill="#f6ccdc" fill-opacity="0.7"/>
<circle cx="238.9" cy="518.4" r="4.2" fill="#f6ccdc" fill-opacity="0.7"/>
<circle cx="244.2" cy="519.4" r="4.2" fill="#f6ccdc" fill-opacity="0.7"/>
<circle cx="249.9" cy="518.4" r="4.2" fill="#f6ccdc" fill-opacity="0.7"/>
<circle cx="257.2" cy="520.8" r="4.2" fill="#f6ccdc" fill-opacity="0.7"/>
<circle cx="216.8" cy="522.8" r="4.2" fill="#f6ccdc" fill-opacity="0.7"/>
<circle cx="222.5" cy="523.2" r="4.2" fill="#f6ccdc" fill-opacity="0.7"/>
<circle cx="228.8" cy="520.8" r="4.2" fill="#f6ccdc" fill-opacity="0.7"/>
<circle cx="232.2" cy="525.6" r="4.2" fill="#f6ccdc" fill-opacity="0.7"/>
<circle cx="238.9" cy="524.7" r="4.2" fill="#f6ccdc" fill-opacity="0.7"/>
<circle cx="248.0" cy="525.6" r="4.2" fill="#f6ccdc" fill-opacity="0.7"/>
<circle cx="253.3" cy="526.1" r="4.2" fill="#f6ccdc" fill-opacity="0.7"/>
<circle cx="258.1" cy="527.1" r="4.2" fill="#f6ccdc" fill-opacity="0.7"/>
<circle cx="212.0" cy="527.6" r="4.2" fill="#f6ccdc" fill-opacity="0.7"/>
<circle cx="237.0" cy="529.5" r="4.2" fill="#f6ccdc" fill-opacity="0.7"/>
<circle cx="243.7" cy="529.5" r="4.2" fill="#f6ccdc" fill-opacity="0.7"/>
<circle cx="228.3" cy="532.4" r="4.2" fill="#f6ccdc" fill-opacity="0.7"/>
<circle cx="235.0" cy="535.7" r="4.2" fill="#f6ccdc" fill-opacity="0.7"/>
<circle cx="241.8" cy="536.2" r="4.2" fill="#f6ccdc" fill-opacity="0.7"/>
<circle cx="249.9" cy="533.8" r="4.2" fill="#f6ccdc" fill-opacity="0.7"/>
<circle cx="255.2" cy="534.3" r="4.2" fill="#f6ccdc" fill-opacity="0.7"/>
<circle cx="212.4" cy="535.7" r="4.2" fill="#f6ccdc" fill-opacity="0.7"/>
<circle cx="218.2" cy="536.7" r="4.2" fill="#f6ccdc" fill-opacity="0.7"/>
<circle cx="222.5" cy="539.1" r="4.2" fill="#f6ccdc" fill-opacity="0.7"/>
<circle cx="245.1" cy="540.5" r="4.2" fill="#f6ccdc" fill-opacity="0.7"/>
<circle cx="251.4" cy="542.0" r="4.2" fill="#f6ccdc" fill-opacity="0.7"/>
<circle cx="256.2" cy="539.6" r="4.2" fill="#f6ccdc" fill-opacity="0.7"/>
<circle cx="258.1" cy="544.4" r="4.2" fill="#f6ccdc" fill-opacity="0.7"/>
<circle cx="212.9" cy="542.5" r="4.2" fill="#f6ccdc" fill-opacity="0.7"/>
<circle cx="239.8" cy="547.3" r="4.2" fill="#f6ccdc" fill-opacity="0.7"/>
<circle cx="245.6" cy="544.9" r="4.2" fill="#f6ccdc" fill-opacity="0.7"/>
<circle cx="251.4" cy="547.3" r="4.2" fill="#f6ccdc" fill-opacity="0.7"/>
<circle cx="258.1" cy="550.2" r="4.2" fill="#f6ccdc" fill-opacity="0.7"/>
<circle cx="215.8" cy="548.2" r="4.2" fill="#f6ccdc" fill-opacity="0.7"/>
<circle cx="221.6" cy="549.2" r="4.2" fill="#f6ccdc" fill-opacity="0.7"/>
<circle cx="228.3" cy="549.2" r="4.2" fill="#f6ccdc" fill-opacity="0.7"/>
<circle cx="244.7" cy="551.1" r="4.2" fill="#f6ccdc" fill-opacity="0.7"/>
<circle cx="172.6" cy="556.8" r="4.2" fill="#f6ccdc" fill-opacity="0.7"/>
<circle cx="177.9" cy="555.9" r="4.2" fill="#f6ccdc" fill-opacity="0.7"/>
<circle cx="182.7" cy="556.4" r="4.2" fill="#f6ccdc" fill-opacity="0.7"/>
<circle cx="188.0" cy="554.4" r="4.2" fill="#f6ccdc" fill-opacity="0.7"/>
<circle cx="193.7" cy="554.0" r="4.2" fill="#f6ccdc" fill-opacity="0.7"/>
<circle cx="198.5" cy="554.9" r="4.2" fill="#f6ccdc" fill-opacity="0.7"/>
<circle cx="204.3" cy="555.4" r="4.2" fill="#f6ccdc" fill-opacity="0.7"/>
<circle cx="210.1" cy="558.8" r="4.2" fill="#f6ccdc" fill-opacity="0.7"/>
<circle cx="168.7" cy="562.1" r="4.2" fill="#f6ccdc" fill-opacity="0.7"/>
<circle cx="175.0" cy="561.7" r="4.2" fill="#f6ccdc" fill-opacity="0.7"/>
<circle cx="185.6" cy="558.8" r="4.2" fill="#f6ccdc" fill-opacity="0.7"/>
<circle cx="190.8" cy="560.7" r="4.2" fill="#f6ccdc" fill-opacity="0.7"/>
<circle cx="195.7" cy="559.7" r="4.2" fill="#f6ccdc" fill-opacity="0.7"/>
<circle cx="200.0" cy="562.6" r="4.2" fill="#f6ccdc" fill-opacity="0.7"/>
<circle cx="204.3" cy="564.5" r="4.2" fill="#f6ccdc" fill-opacity="0.7"/>
<circle cx="171.6" cy="567.4" r="4.2" fill="#f6ccdc" fill-opacity="0.7"/>
<circle cx="176.4" cy="568.4" r="4.2" fill="#f6ccdc" fill-opacity="0.7"/>
<circle cx="186.0" cy="569.8" r="4.2" fill="#f6ccdc" fill-opacity="0.7"/>
<circle cx="191.3" cy="569.3" r="4.2" fill="#f6ccdc" fill-opacity="0.7"/>
<circle cx="198.1" cy="567.4" r="4.2" fill="#f6ccdc" fill-opacity="0.7"/>
<circle cx="203.3" cy="568.9" r="4.2" fill="#f6ccdc" fill-opacity="0.7"/>
<circle cx="172.1" cy="573.7" r="4.2" fill="#f6ccdc" fill-opacity="0.7"/>
<circle cx="177.4" cy="573.7" r="4.2" fill="#f6ccdc" fill-opacity="0.7"/>
<circle cx="182.2" cy="575.6" r="4.2" fill="#f6ccdc" fill-opacity="0.7"/>
<circle cx="188.9" cy="575.1" r="4.2" fill="#f6ccdc" fill-opacity="0.7"/>
<circle cx="195.7" cy="576.1" r="4.2" fill="#f6ccdc" fill-opacity="0.7"/>
<circle cx="200.9" cy="573.7" r="4.2" fill="#f6ccdc" fill-opacity="0.7"/>
<circle cx="207.2" cy="577.0" r="4.2" fill="#f6ccdc" fill-opacity="0.7"/>
<circle cx="168.7" cy="579.4" r="4.2" fill="#f6ccdc" fill-opacity="0.7"/>
<circle cx="176.4" cy="580.9" r="4.2" fill="#f6ccdc" fill-opacity="0.7"/>
<circle cx="183.6" cy="580.4" r="4.2" fill="#f6ccdc" fill-opacity="0.7"/>
<circle cx="189.4" cy="582.3" r="4.2" fill="#f6ccdc" fill-opacity="0.7"/>
<circle cx="194.2" cy="580.9" r="4.2" fill="#f6ccdc" fill-opacity="0.7"/>
<circle cx="199.0" cy="582.8" r="4.2" fill="#f6ccdc" fill-opacity="0.7"/>
<circle cx="203.3" cy="581.8" r="4.2" fill="#f6ccdc" fill-opacity="0.7"/>
<circle cx="210.1" cy="582.8" r="4.2" fill="#f6ccdc" fill-opacity="0.7"/>
<circle cx="175.5" cy="585.7" r="4.2" fill="#f6ccdc" fill-opacity="0.7"/>
<circle cx="191.8" cy="586.7" r="4.2" fill="#f6ccdc" fill-opacity="0.7"/>
<circle cx="197.6" cy="588.6" r="4.2" fill="#f6ccdc" fill-opacity="0.7"/>
<circle cx="202.4" cy="588.1" r="4.2" fill="#f6ccdc" fill-opacity="0.7"/>
<circle cx="208.2" cy="589.1" r="4.2" fill="#f6ccdc" fill-opacity="0.7"/>
<circle cx="171.6" cy="590.0" r="4.2" fill="#f6ccdc" fill-opacity="0.7"/>
<circle cx="186.0" cy="592.4" r="4.2" fill="#f6ccdc" fill-opacity="0.7"/>
<circle cx="190.8" cy="592.4" r="4.2" fill="#f6ccdc" fill-opacity="0.7"/>
<circle cx="200.5" cy="591.5" r="4.2" fill="#f6ccdc" fill-opacity="0.7"/>
<circle cx="205.3" cy="594.3" r="4.2" fill="#f6ccdc" fill-opacity="0.7"/>
<circle cx="210.1" cy="596.3" r="4.2" fill="#f6ccdc" fill-opacity="0.7"/>
<circle cx="167.8" cy="595.3" r="4.2" fill="#f6ccdc" fill-opacity="0.7"/>
<circle cx="173.5" cy="597.7" r="4.2" fill="#f6ccdc" fill-opacity="0.7"/>
<circle cx="181.2" cy="597.2" r="4.2" fill="#f6ccdc" fill-opacity="0.7"/>
<circle cx="188.9" cy="598.2" r="4.2" fill="#f6ccdc" fill-opacity="0.7"/>
<circle cx="196.6" cy="600.1" r="4.2" fill="#f6ccdc" fill-opacity="0.7"/>
<circle cx="202.4" cy="599.2" r="4.2" fill="#f6ccdc" fill-opacity="0.7"/>
<circle cx="210.1" cy="601.1" r="4.2" fill="#f6ccdc" fill-opacity="0.7"/>
<circle cx="213.9" cy="557.3" r="4.2" fill="#f6ccdc" fill-opacity="0.7"/>
<circle cx="218.7" cy="556.4" r="4.2" fill="#f6ccdc" fill-opacity="0.7"/>
<circle cx="223.5" cy="555.4" r="4.2" fill="#f6ccdc" fill-opacity="0.7"/>
<circle cx="229.8" cy="557.8" r="4.2" fill="#f6ccdc" fill-opacity="0.7"/>
<circle cx="235.0" cy="556.8" r="4.2" fill="#f6ccdc" fill-opacity="0.7"/>
<circle cx="238.9" cy="559.7" r="4.2" fill="#f6ccdc" fill-opacity="0.7"/>
<circle cx="245.1" cy="555.9" r="4.2" fill="#f6ccdc" fill-opacity="0.7"/>
<circle cx="250.4" cy="560.2" r="4.2" fill="#f6ccdc" fill-opacity="0.7"/>
<circle cx="256.2" cy="558.3" r="4.2" fill="#f6ccdc" fill-opacity="0.7"/>
<circle cx="212.4" cy="566.5" r="4.2" fill="#f6ccdc" fill-opacity="0.7"/>
<circle cx="217.7" cy="562.6" r="4.2" fill="#f6ccdc" fill-opacity="0.7"/>
<circle cx="222.5" cy="561.7" r="4.2" fill="#f6ccdc" fill-opacity="0.7"/>
<circle cx="236.0" cy="562.6" r="4.2" fill="#f6ccdc" fill-opacity="0.7"/>
<circle cx="243.7" cy="563.6" r="4.2" fill="#f6ccdc" fill-opacity="0.7"/>
<circle cx="254.3" cy="564.5" r="4.2" fill="#f6ccdc" fill-opacity="0.7"/>
<circle cx="238.9" cy="566.9" r="4.2" fill="#f6ccdc" fill-opacity="0.7"/>
<circle cx="245.6" cy="569.3" r="4.2" fill="#f6ccdc" fill-opacity="0.7"/>
<circle cx="254.8" cy="568.9" r="4.2" fill="#f6ccdc" fill-opacity="0.7"/>
<circle cx="225.4" cy="573.2" r="4.2" fill="#f6ccdc" fill-opacity="0.7"/>
<circle cx="231.7" cy="574.2" r="4.2" fill="#f6ccdc" fill-opacity="0.7"/>
<circle cx="241.8" cy="573.7" r="4.2" fill="#f6ccdc" fill-opacity="0.7"/>
<circle cx="248.5" cy="573.2" r="4.2" fill="#f6ccdc" fill-opacity="0.7"/>
<circle cx="256.2" cy="577.0" r="4.2" fill="#f6ccdc" fill-opacity="0.7"/>
<circle cx="212.9" cy="578.0" r="4.2" fill="#f6ccdc" fill-opacity="0.7"/>
<circle cx="230.2" cy="579.0" r="4.2" fill="#f6ccdc" fill-opacity="0.7"/>
<circle cx="239.8" cy="580.9" r="4.2" fill="#f6ccdc" fill-opacity="0.7"/>
<circle cx="244.2" cy="579.0" r="4.2" fill="#f6ccdc" fill-opacity="0.7"/>
<circle cx="249.5" cy="579.0" r="4.2" fill="#f6ccdc" fill-opacity="0.7"/>
<circle cx="253.8" cy="580.9" r="4.2" fill="#f6ccdc" fill-opacity="0.7"/>
<circle cx="259.1" cy="581.8" r="4.2" fill="#f6ccdc" fill-opacity="0.7"/>
<circle cx="213.4" cy="582.3" r="4.2" fill="#f6ccdc" fill-opacity="0.7"/>
<circle cx="220.6" cy="582.3" r="4.2" fill="#f6ccdc" fill-opacity="0.7"/>
<circle cx="233.1" cy="582.8" r="4.2" fill="#f6ccdc" fill-opacity="0.7"/>
<circle cx="240.8" cy="586.7" r="4.2" fill="#f6ccdc" fill-opacity="0.7"/>
<circle cx="248.0" cy="584.7" r="4.2" fill="#f6ccdc" fill-opacity="0.7"/>
<circle cx="254.3" cy="587.1" r="4.2" fill="#f6ccdc" fill-opacity="0.7"/>
<circle cx="212.9" cy="587.6" r="4.2" fill="#f6ccdc" fill-opacity="0.7"/>
<circle cx="218.2" cy="587.1" r="4.2" fill="#f6ccdc" fill-opacity="0.7"/>
<circle cx="224.5" cy="587.1" r="4.2" fill="#f6ccdc" fill-opacity="0.7"/>
<circle cx="232.2" cy="588.6" r="4.2" fill="#f6ccdc" fill-opacity="0.7"/>
<circle cx="226.4" cy="593.4" r="4.2" fill="#f6ccdc" fill-opacity="0.7"/>
<circle cx="220.6" cy="591.5" r="4.2" fill="#f6ccdc" fill-opacity="0.7"/>
<circle cx="215.3" cy="593.4" r="4.2" fill="#f6ccdc" fill-opacity="0.7"/>
<circle cx="234.6" cy="592.4" r="4.2" fill="#f6ccdc" fill-opacity="0.7"/>
<circle cx="258.1" cy="590.5" r="4.2" fill="#f6ccdc" fill-opacity="0.7"/>
<circle cx="216.8" cy="598.2" r="4.2" fill="#f6ccdc" fill-opacity="0.7"/>
<circle cx="222.5" cy="597.2" r="4.2" fill="#f6ccdc" fill-opacity="0.7"/>
<circle cx="228.8" cy="598.2" r="4.2" fill="#f6ccdc" fill-opacity="0.7"/>
<circle cx="250.4" cy="591.0" r="4.2" fill="#f6ccdc" fill-opacity="0.7"/>
<circle cx="244.7" cy="598.7" r="4.2" fill="#f6ccdc" fill-opacity="0.7"/>
<circle cx="253.3" cy="600.1" r="4.2" fill="#f6ccdc" fill-opacity="0.7"/>
<circle cx="170.7" cy="507.4" r="3.0" fill="url(#cg)"/>
<circle cx="182.2" cy="508.8" r="3.0" fill="url(#cg)"/>
<circle cx="196.6" cy="507.8" r="3.0" fill="url(#cg)"/>
<circle cx="201.9" cy="508.3" r="3.0" fill="url(#cg)"/>
<circle cx="209.1" cy="510.2" r="3.0" fill="url(#cg)"/>
<circle cx="169.2" cy="514.1" r="3.0" fill="url(#cg)"/>
<circle cx="175.0" cy="513.1" r="3.0" fill="url(#cg)"/>
<circle cx="180.8" cy="513.1" r="3.0" fill="url(#cg)"/>
<circle cx="186.0" cy="513.6" r="3.0" fill="url(#cg)"/>
<circle cx="191.8" cy="515.5" r="3.0" fill="url(#cg)"/>
<circle cx="204.3" cy="512.2" r="3.0" fill="url(#cg)"/>
<circle cx="209.1" cy="516.5" r="3.0" fill="url(#cg)"/>
<circle cx="177.9" cy="517.9" r="3.0" fill="url(#cg)"/>
<circle cx="186.5" cy="517.9" r="3.0" fill="url(#cg)"/>
<circle cx="163.9" cy="520.8" r="3.0" fill="url(#cg)"/>
<circle cx="169.7" cy="520.3" r="3.0" fill="url(#cg)"/>
<circle cx="177.4" cy="521.8" r="3.0" fill="url(#cg)"/>
<circle cx="185.1" cy="522.8" r="3.0" fill="url(#cg)"/>
<circle cx="192.8" cy="523.7" r="3.0" fill="url(#cg)"/>
<circle cx="202.4" cy="521.3" r="3.0" fill="url(#cg)"/>
<circle cx="207.2" cy="521.8" r="3.0" fill="url(#cg)"/>
<circle cx="164.9" cy="526.1" r="3.0" fill="url(#cg)"/>
<circle cx="173.1" cy="524.7" r="3.0" fill="url(#cg)"/>
<circle cx="181.2" cy="527.1" r="3.0" fill="url(#cg)"/>
<circle cx="188.9" cy="527.1" r="3.0" fill="url(#cg)"/>
<circle cx="194.7" cy="528.0" r="3.0" fill="url(#cg)"/>
<circle cx="200.5" cy="527.1" r="3.0" fill="url(#cg)"/>
<circle cx="206.2" cy="527.6" r="3.0" fill="url(#cg)"/>
<circle cx="211.0" cy="528.5" r="3.0" fill="url(#cg)"/>
<circle cx="176.4" cy="529.0" r="3.0" fill="url(#cg)"/>
<circle cx="164.9" cy="531.9" r="3.0" fill="url(#cg)"/>
<circle cx="169.2" cy="534.3" r="3.0" fill="url(#cg)"/>
<circle cx="174.0" cy="533.3" r="3.0" fill="url(#cg)"/>
<circle cx="183.6" cy="531.4" r="3.0" fill="url(#cg)"/>
<circle cx="193.7" cy="533.8" r="3.0" fill="url(#cg)"/>
<circle cx="198.5" cy="532.8" r="3.0" fill="url(#cg)"/>
<circle cx="203.3" cy="534.8" r="3.0" fill="url(#cg)"/>
<circle cx="210.6" cy="535.7" r="3.0" fill="url(#cg)"/>
<circle cx="163.9" cy="538.6" r="3.0" fill="url(#cg)"/>
<circle cx="171.6" cy="538.1" r="3.0" fill="url(#cq)"/>
<circle cx="180.3" cy="538.1" r="3.0" fill="url(#cg)"/>
<circle cx="188.0" cy="536.2" r="3.0" fill="url(#cg)"/>
<circle cx="195.7" cy="541.0" r="3.0" fill="url(#cg)"/>
<circle cx="203.3" cy="539.6" r="3.0" fill="url(#cg)"/>
<circle cx="209.1" cy="542.0" r="3.0" fill="url(#cq)"/>
<circle cx="167.8" cy="542.0" r="3.0" fill="url(#cg)"/>
<circle cx="175.9" cy="542.0" r="3.0" fill="url(#cg)"/>
<circle cx="185.1" cy="545.8" r="3.0" fill="url(#cg)"/>
<circle cx="190.4" cy="547.8" r="3.0" fill="url(#cq)"/>
<circle cx="196.6" cy="546.8" r="3.0" fill="url(#cg)"/>
<circle cx="203.3" cy="545.3" r="3.0" fill="url(#cg)"/>
<circle cx="163.9" cy="546.8" r="3.0" fill="url(#cg)"/>
<circle cx="175.0" cy="549.2" r="3.0" fill="url(#cg)"/>
<circle cx="181.2" cy="551.1" r="3.0" fill="url(#cg)"/>
<circle cx="200.5" cy="550.2" r="3.0" fill="url(#cg)"/>
<circle cx="208.2" cy="549.2" r="3.0" fill="url(#cg)"/>
<circle cx="191.8" cy="552.6" r="3.0" fill="url(#cg)"/>
<circle cx="215.3" cy="507.4" r="3.0" fill="url(#cg)"/>
<circle cx="220.6" cy="507.8" r="3.0" fill="url(#cg)"/>
<circle cx="226.4" cy="507.8" r="3.0" fill="url(#cg)"/>
<circle cx="232.6" cy="509.8" r="3.0" fill="url(#cg)"/>
<circle cx="237.4" cy="508.3" r="3.0" fill="url(#cg)"/>
<circle cx="244.2" cy="507.8" r="3.0" fill="url(#cg)"/>
<circle cx="250.4" cy="508.3" r="3.0" fill="url(#cg)"/>
<circle cx="256.2" cy="508.8" r="3.0" fill="url(#cg)"/>
<circle cx="213.9" cy="513.6" r="3.0" fill="url(#cg)"/>
<circle cx="220.1" cy="513.1" r="3.0" fill="url(#cg)"/>
<circle cx="226.4" cy="512.2" r="3.0" fill="url(#cg)"/>
<circle cx="229.8" cy="516.0" r="3.0" fill="url(#cg)"/>
<circle cx="238.9" cy="513.1" r="3.0" fill="url(#cg)"/>
<circle cx="244.7" cy="513.6" r="3.0" fill="url(#cg)"/>
<circle cx="249.5" cy="513.6" r="3.0" fill="url(#cg)"/>
<circle cx="255.7" cy="516.0" r="3.0" fill="url(#cg)"/>
<circle cx="224.5" cy="517.9" r="3.0" fill="url(#cg)"/>
<circle cx="233.6" cy="517.5" r="3.0" fill="url(#cg)"/>
<circle cx="238.9" cy="518.4" r="3.0" fill="url(#cg)"/>
<circle cx="244.2" cy="519.4" r="3.0" fill="url(#cP)"/>
<circle cx="249.9" cy="518.4" r="3.0" fill="url(#cg)"/>
<circle cx="257.2" cy="520.8" r="3.0" fill="url(#cg)"/>
<circle cx="216.8" cy="522.8" r="3.0" fill="url(#cg)"/>
<circle cx="222.5" cy="523.2" r="3.0" fill="url(#cg)"/>
<circle cx="228.8" cy="520.8" r="3.0" fill="url(#cg)"/>
<circle cx="232.2" cy="525.6" r="3.0" fill="url(#cg)"/>
<circle cx="238.9" cy="524.7" r="3.0" fill="url(#cg)"/>
<circle cx="248.0" cy="525.6" r="3.0" fill="url(#cg)"/>
<circle cx="253.3" cy="526.1" r="3.0" fill="url(#cg)"/>
<circle cx="258.1" cy="527.1" r="3.0" fill="url(#cg)"/>
<circle cx="212.0" cy="527.6" r="3.0" fill="url(#cg)"/>
<circle cx="237.0" cy="529.5" r="3.0" fill="url(#cg)"/>
<circle cx="243.7" cy="529.5" r="3.0" fill="url(#cg)"/>
<circle cx="228.3" cy="532.4" r="3.0" fill="url(#cg)"/>
<circle cx="235.0" cy="535.7" r="3.0" fill="url(#cg)"/>
<circle cx="241.8" cy="536.2" r="3.0" fill="url(#cg)"/>
<circle cx="249.9" cy="533.8" r="3.0" fill="url(#cg)"/>
<circle cx="255.2" cy="534.3" r="3.0" fill="url(#cg)"/>
<circle cx="212.4" cy="535.7" r="3.0" fill="url(#cq)"/>
<circle cx="218.2" cy="536.7" r="3.0" fill="url(#cg)"/>
<circle cx="222.5" cy="539.1" r="3.0" fill="url(#cg)"/>
<circle cx="245.1" cy="540.5" r="3.0" fill="url(#cq)"/>
<circle cx="251.4" cy="542.0" r="3.0" fill="url(#cg)"/>
<circle cx="256.2" cy="539.6" r="3.0" fill="url(#cg)"/>
<circle cx="258.1" cy="544.4" r="3.0" fill="url(#cg)"/>
<circle cx="212.9" cy="542.5" r="3.0" fill="url(#cg)"/>
<circle cx="239.8" cy="547.3" r="3.0" fill="url(#cg)"/>
<circle cx="245.6" cy="544.9" r="3.0" fill="url(#cg)"/>
<circle cx="251.4" cy="547.3" r="3.0" fill="url(#cg)"/>
<circle cx="258.1" cy="550.2" r="3.0" fill="url(#cg)"/>
<circle cx="215.8" cy="548.2" r="3.0" fill="url(#cg)"/>
<circle cx="221.6" cy="549.2" r="3.0" fill="url(#cg)"/>
<circle cx="228.3" cy="549.2" r="3.0" fill="url(#cg)"/>
<circle cx="244.7" cy="551.1" r="3.0" fill="url(#cg)"/>
<circle cx="172.6" cy="556.8" r="3.0" fill="url(#cg)"/>
<circle cx="177.9" cy="555.9" r="3.0" fill="url(#cg)"/>
<circle cx="182.7" cy="556.4" r="3.0" fill="url(#cg)"/>
<circle cx="188.0" cy="554.4" r="3.0" fill="url(#cg)"/>
<circle cx="193.7" cy="554.0" r="3.0" fill="url(#cg)"/>
<circle cx="198.5" cy="554.9" r="3.0" fill="url(#cg)"/>
<circle cx="204.3" cy="555.4" r="3.0" fill="url(#cg)"/>
<circle cx="210.1" cy="558.8" r="3.0" fill="url(#cq)"/>
<circle cx="168.7" cy="562.1" r="3.0" fill="url(#cg)"/>
<circle cx="175.0" cy="561.7" r="3.0" fill="url(#cg)"/>
<circle cx="185.6" cy="558.8" r="3.0" fill="url(#cg)"/>
<circle cx="190.8" cy="560.7" r="3.0" fill="url(#cg)"/>
<circle cx="195.7" cy="559.7" r="3.0" fill="url(#cg)"/>
<circle cx="200.0" cy="562.6" r="3.0" fill="url(#cg)"/>
<circle cx="204.3" cy="564.5" r="3.0" fill="url(#cg)"/>
<circle cx="171.6" cy="567.4" r="3.0" fill="url(#cg)"/>
<circle cx="176.4" cy="568.4" r="3.0" fill="url(#cg)"/>
<circle cx="186.0" cy="569.8" r="3.0" fill="url(#cg)"/>
<circle cx="191.3" cy="569.3" r="3.0" fill="url(#cg)"/>
<circle cx="198.1" cy="567.4" r="3.0" fill="url(#cg)"/>
<circle cx="203.3" cy="568.9" r="3.0" fill="url(#cg)"/>
<circle cx="172.1" cy="573.7" r="3.0" fill="url(#cg)"/>
<circle cx="177.4" cy="573.7" r="3.0" fill="url(#cq)"/>
<circle cx="182.2" cy="575.6" r="3.0" fill="url(#cg)"/>
<circle cx="188.9" cy="575.1" r="3.0" fill="url(#cg)"/>
<circle cx="195.7" cy="576.1" r="3.0" fill="url(#cg)"/>
<circle cx="200.9" cy="573.7" r="3.0" fill="url(#cq)"/>
<circle cx="207.2" cy="577.0" r="3.0" fill="url(#cg)"/>
<circle cx="168.7" cy="579.4" r="3.0" fill="url(#cg)"/>
<circle cx="176.4" cy="580.9" r="3.0" fill="url(#cg)"/>
<circle cx="183.6" cy="580.4" r="3.0" fill="url(#cg)"/>
<circle cx="189.4" cy="582.3" r="3.0" fill="url(#cg)"/>
<circle cx="194.2" cy="580.9" r="3.0" fill="url(#cg)"/>
<circle cx="199.0" cy="582.8" r="3.0" fill="url(#cg)"/>
<circle cx="203.3" cy="581.8" r="3.0" fill="url(#cg)"/>
<circle cx="210.1" cy="582.8" r="3.0" fill="url(#cg)"/>
<circle cx="175.5" cy="585.7" r="3.0" fill="url(#cg)"/>
<circle cx="191.8" cy="586.7" r="3.0" fill="url(#cg)"/>
<circle cx="197.6" cy="588.6" r="3.0" fill="url(#cg)"/>
<circle cx="202.4" cy="588.1" r="3.0" fill="url(#cg)"/>
<circle cx="208.2" cy="589.1" r="3.0" fill="url(#cg)"/>
<circle cx="171.6" cy="590.0" r="3.0" fill="url(#cg)"/>
<circle cx="186.0" cy="592.4" r="3.0" fill="url(#cg)"/>
<circle cx="190.8" cy="592.4" r="3.0" fill="url(#cg)"/>
<circle cx="200.5" cy="591.5" r="3.0" fill="url(#cg)"/>
<circle cx="205.3" cy="594.3" r="3.0" fill="url(#cg)"/>
<circle cx="210.1" cy="596.3" r="3.0" fill="url(#cg)"/>
<circle cx="167.8" cy="595.3" r="3.0" fill="url(#cg)"/>
<circle cx="173.5" cy="597.7" r="3.0" fill="url(#cg)"/>
<circle cx="181.2" cy="597.2" r="3.0" fill="url(#cg)"/>
<circle cx="188.9" cy="598.2" r="3.0" fill="url(#cg)"/>
<circle cx="196.6" cy="600.1" r="3.0" fill="url(#cg)"/>
<circle cx="202.4" cy="599.2" r="3.0" fill="url(#cg)"/>
<circle cx="210.1" cy="601.1" r="3.0" fill="url(#cg)"/>
<circle cx="213.9" cy="557.3" r="3.0" fill="url(#cg)"/>
<circle cx="218.7" cy="556.4" r="3.0" fill="url(#cg)"/>
<circle cx="223.5" cy="555.4" r="3.0" fill="url(#cg)"/>
<circle cx="229.8" cy="557.8" r="3.0" fill="url(#cg)"/>
<circle cx="235.0" cy="556.8" r="3.0" fill="url(#cg)"/>
<circle cx="238.9" cy="559.7" r="3.0" fill="url(#cg)"/>
<circle cx="245.1" cy="555.9" r="3.0" fill="url(#cg)"/>
<circle cx="250.4" cy="560.2" r="3.0" fill="url(#cg)"/>
<circle cx="256.2" cy="558.3" r="3.0" fill="url(#cg)"/>
<circle cx="212.4" cy="566.5" r="3.0" fill="url(#cg)"/>
<circle cx="217.7" cy="562.6" r="3.0" fill="url(#cg)"/>
<circle cx="222.5" cy="561.7" r="3.0" fill="url(#cg)"/>
<circle cx="236.0" cy="562.6" r="3.0" fill="url(#cg)"/>
<circle cx="243.7" cy="563.6" r="3.0" fill="url(#cg)"/>
<circle cx="254.3" cy="564.5" r="3.0" fill="url(#cg)"/>
<circle cx="238.9" cy="566.9" r="3.0" fill="url(#cg)"/>
<circle cx="245.6" cy="569.3" r="3.0" fill="url(#cg)"/>
<circle cx="254.8" cy="568.9" r="3.0" fill="url(#cg)"/>
<circle cx="225.4" cy="573.2" r="3.0" fill="url(#cg)"/>
<circle cx="231.7" cy="574.2" r="3.0" fill="url(#cg)"/>
<circle cx="241.8" cy="573.7" r="3.0" fill="url(#cg)"/>
<circle cx="248.5" cy="573.2" r="3.0" fill="url(#cg)"/>
<circle cx="256.2" cy="577.0" r="3.0" fill="url(#cg)"/>
<circle cx="212.9" cy="578.0" r="3.0" fill="url(#cg)"/>
<circle cx="230.2" cy="579.0" r="3.0" fill="url(#cg)"/>
<circle cx="239.8" cy="580.9" r="3.0" fill="url(#cg)"/>
<circle cx="244.2" cy="579.0" r="3.0" fill="url(#cg)"/>
<circle cx="249.5" cy="579.0" r="3.0" fill="url(#cg)"/>
<circle cx="253.8" cy="580.9" r="3.0" fill="url(#cg)"/>
<circle cx="259.1" cy="581.8" r="3.0" fill="url(#cg)"/>
<circle cx="213.4" cy="582.3" r="3.0" fill="url(#cg)"/>
<circle cx="220.6" cy="582.3" r="3.0" fill="url(#cg)"/>
<circle cx="233.1" cy="582.8" r="3.0" fill="url(#cg)"/>
<circle cx="240.8" cy="586.7" r="3.0" fill="url(#cg)"/>
<circle cx="248.0" cy="584.7" r="3.0" fill="url(#cg)"/>
<circle cx="254.3" cy="587.1" r="3.0" fill="url(#cg)"/>
<circle cx="212.9" cy="587.6" r="3.0" fill="url(#cg)"/>
<circle cx="218.2" cy="587.1" r="3.0" fill="url(#cg)"/>
<circle cx="224.5" cy="587.1" r="3.0" fill="url(#cg)"/>
<circle cx="232.2" cy="588.6" r="3.0" fill="url(#cg)"/>
<circle cx="226.4" cy="593.4" r="3.0" fill="url(#cg)"/>
<circle cx="220.6" cy="591.5" r="3.0" fill="url(#cg)"/>
<circle cx="215.3" cy="593.4" r="3.0" fill="url(#cg)"/>
<circle cx="234.6" cy="592.4" r="3.0" fill="url(#cg)"/>
<circle cx="258.1" cy="590.5" r="3.0" fill="url(#cg)"/>
<circle cx="216.8" cy="598.2" r="3.0" fill="url(#cg)"/>
<circle cx="222.5" cy="597.2" r="3.0" fill="url(#cg)"/>
<circle cx="228.8" cy="598.2" r="3.0" fill="url(#cg)"/>
<circle cx="250.4" cy="591.0" r="3.0" fill="url(#cg)"/>
<circle cx="244.7" cy="598.7" r="3.0" fill="url(#cg)"/>
<circle cx="253.3" cy="600.1" r="3.0" fill="url(#cg)"/>
</g></g>
<text x="131.2" y="596.6" font-size="7.7" text-anchor="start" font-weight="normal" fill="#111" stroke="#111" stroke-width="0.35" word-spacing="0.8">25 μm</text>
<line x1="131.40" y1="599.10" x2="151.60" y2="599.10" stroke="#1a0e1a" stroke-width="1.3" />
<text x="238.0" y="596.6" font-size="7.7" text-anchor="start" font-weight="normal" fill="#111" stroke="#111" stroke-width="0.35" word-spacing="0.8">25 μm</text>
<line x1="238.20" y1="599.50" x2="258.40" y2="599.50" stroke="#1a0e1a" stroke-width="1.3" />
<text x="107.2" y="499.6" font-size="8.5" text-anchor="middle" font-weight="normal" fill="#1e1e1e"  stroke="#1e1e1e" stroke-width="0.18">WT</text>
<text x="214.2" y="499.6" font-size="8.5" text-anchor="middle" font-weight="normal" fill="#1e1e1e"  stroke="#1e1e1e" stroke-width="0.18">G1s</text>
<rect x="346.10" y="580.20" width="37.00" height="30.60" fill="#7083b5" />
<rect x="403.00" y="543.43" width="36.90" height="67.37" fill="#dc7068" />
<line x1="365.20" y1="575.94" x2="365.20" y2="582.12" stroke="#1d4f86" stroke-width="1.0" />
<line x1="356.20" y1="575.94" x2="374.40" y2="575.94" stroke="#1d4f86" stroke-width="1.0" />
<circle cx="358.7" cy="582.1" r="1.6" fill="#1d4f86"/>
<circle cx="364.2" cy="579.9" r="1.6" fill="#1d4f86"/>
<circle cx="370.2" cy="580.6" r="1.6" fill="#1d4f86"/>
<circle cx="364.2" cy="576.2" r="1.6" fill="#1d4f86"/>
<circle cx="371.2" cy="574.3" r="1.6" fill="#1d4f86"/>
<line x1="421.40" y1="524.01" x2="421.40" y2="560.05" stroke="#b8102e" stroke-width="1.0" />
<line x1="411.00" y1="524.01" x2="431.80" y2="524.01" stroke="#b8102e" stroke-width="1.0" />
<line x1="411.00" y1="560.05" x2="431.80" y2="560.05" stroke="#b8102e" stroke-width="1.0" />
<rect x="419.90" y="512.21" width="3.00" height="3.00" fill="#b8102e" />
<rect x="419.90" y="535.75" width="3.00" height="3.00" fill="#b8102e" />
<rect x="416.90" y="545.31" width="3.00" height="3.00" fill="#b8102e" />
<rect x="422.90" y="548.99" width="3.00" height="3.00" fill="#b8102e" />
<rect x="419.90" y="560.76" width="3.00" height="3.00" fill="#b8102e" />
<text x="421.4" y="505.8" font-size="8" text-anchor="middle" font-weight="normal" fill="#222"  stroke="#222" stroke-width="0.18">**</text>
<line x1="336.10" y1="492.30" x2="336.10" y2="611.30" stroke="#222" stroke-width="1" />
<line x1="335.60" y1="610.80" x2="449.30" y2="610.80" stroke="#222" stroke-width="1" />
<line x1="333.40" y1="610.80" x2="336.10" y2="610.80" stroke="#222" stroke-width="1" />
<text x="331.6" y="613.6999999999999" font-size="8" text-anchor="end" font-weight="normal" fill="#333"  stroke="#333" stroke-width="0.18">0</text>
<line x1="333.40" y1="581.38" x2="336.10" y2="581.38" stroke="#222" stroke-width="1" />
<text x="331.6" y="584.28" font-size="8" text-anchor="end" font-weight="normal" fill="#333"  stroke="#333" stroke-width="0.18">2</text>
<line x1="333.40" y1="551.96" x2="336.10" y2="551.96" stroke="#222" stroke-width="1" />
<text x="331.6" y="554.8599999999999" font-size="8" text-anchor="end" font-weight="normal" fill="#333"  stroke="#333" stroke-width="0.18">4</text>
<line x1="333.40" y1="522.54" x2="336.10" y2="522.54" stroke="#222" stroke-width="1" />
<text x="331.6" y="525.4399999999999" font-size="8" text-anchor="end" font-weight="normal" fill="#333"  stroke="#333" stroke-width="0.18">6</text>
<line x1="333.40" y1="493.12" x2="336.10" y2="493.12" stroke="#222" stroke-width="1" />
<text x="331.6" y="496.0199999999999" font-size="8" text-anchor="end" font-weight="normal" fill="#333"  stroke="#333" stroke-width="0.18">8</text>
<line x1="364.60" y1="610.80" x2="364.60" y2="613.10" stroke="#222" stroke-width="1" />
<text x="364.6" y="624.3" font-size="8.3" text-anchor="middle" font-weight="normal" fill="#222"  stroke="#222" stroke-width="0.18">WT</text>
<line x1="421.40" y1="610.80" x2="421.40" y2="613.10" stroke="#222" stroke-width="1" />
<text x="421.4" y="624.3" font-size="8.3" text-anchor="middle" font-weight="normal" fill="#222"  stroke="#222" stroke-width="0.18">G1s</text>
<text x="0" y="0" transform="translate(319.0,552.2) rotate(-90) scale(0.78,1)" font-size="9" text-anchor="middle" font-weight="normal" fill="#222"  stroke="#222" stroke-width="0.18">% of total RBC</text>
<text x="393.7" y="486.2" font-size="9" text-anchor="middle" font-weight="normal" fill="#222"  stroke="#222" stroke-width="0.18">reticulocyte</text>
</svg>
</body></html>
